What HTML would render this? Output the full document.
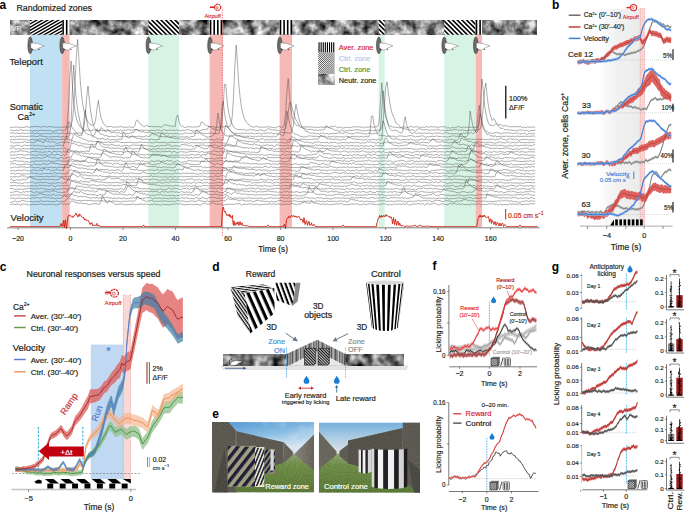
<!DOCTYPE html>
<html><head><meta charset="utf-8"><style>
html,body{margin:0;padding:0;background:#fff;width:685px;height:512px;overflow:hidden}
svg{display:block;font-family:"Liberation Sans",sans-serif}
</style></head><body>
<svg width="685" height="512" viewBox="0 0 685 512" fill="#231f20">
<defs>
<filter id="noiseA" x="0" y="0" width="100%" height="100%" color-interpolation-filters="sRGB"><feTurbulence type="fractalNoise" baseFrequency="0.11" numOctaves="3" seed="3"/>
<feColorMatrix type="matrix" values="1.45 0 0 0 -0.2  1.45 0 0 0 -0.2  1.45 0 0 0 -0.2  0 0 0 0 1"/></filter>
<pattern id="diagA" patternUnits="userSpaceOnUse" width="2.75" height="2.75" patternTransform="rotate(-30)"><rect width="2.75" height="1.3" fill="#000"/><rect y="1.3" width="2.75" height="1.45" fill="#fff"/></pattern>
<pattern id="diagB" patternUnits="userSpaceOnUse" width="3.3" height="3.3" patternTransform="rotate(45)"><rect width="3.3" height="1.6" fill="#000"/><rect y="1.6" width="3.3" height="1.7" fill="#fff"/></pattern>
<pattern id="diagA2" patternUnits="userSpaceOnUse" width="1.5" height="1.5" patternTransform="rotate(45)"><rect width="1.5" height="0.75" fill="#000"/><rect y="0.75" width="1.5" height="0.75" fill="#fff"/></pattern>
<pattern id="diagB2" patternUnits="userSpaceOnUse" width="1.5" height="1.5" patternTransform="rotate(-45)"><rect width="1.5" height="0.75" fill="#000"/><rect y="0.75" width="1.5" height="0.75" fill="#fff"/></pattern>
<g id="mouse"><ellipse cx="0" cy="0.4" rx="2.3" ry="8.4" fill="#6a6a6a" stroke="#3a3a3a" stroke-width="0.6"/>
<path d="M0.6,-2 C3,-2.2 5,-1.6 6.4,-1.4 L7.1,-2.1 L7.7,-1.2 C10,-0.5 12.5,0.3 14.2,0.9 C12.5,1.6 10.8,2 9.5,2.6 C8.8,3.5 7.5,4.6 6,5 C4.5,5.2 3.2,4.8 2.2,4.2 C1.4,3.6 0.8,3 0.6,2.5 Z" fill="#fff" stroke="#555" stroke-width="0.4"/>
<path d="M1.6,3.6 L2.8,5.2 M8.2,3.6 L9.2,5" stroke="#222" stroke-width="0.8"/></g>
<linearGradient id="bshade" x1="0" x2="1" y1="0" y2="0"><stop offset="0" stop-color="#ffffff"/><stop offset="0.45" stop-color="#f1f1f1"/><stop offset="1" stop-color="#ececec"/></linearGradient>
<pattern id="stR" patternUnits="userSpaceOnUse" width="6.4" height="6.4" patternTransform="rotate(66)"><rect width="6.4" height="3.1" fill="#000"/></pattern>
<pattern id="stL" patternUnits="userSpaceOnUse" width="2.6" height="2.6" patternTransform="rotate(55)"><rect width="2.6" height="1.25" fill="#000"/></pattern>
<pattern id="stT" patternUnits="userSpaceOnUse" width="2.4" height="2.4" patternTransform="rotate(8)"><rect width="2.4" height="1.1" fill="#000"/></pattern>
<pattern id="stS" patternUnits="userSpaceOnUse" width="4.2" height="4.2" patternTransform="rotate(70)"><rect width="4.2" height="2" fill="#000"/></pattern>
<pattern id="hatchD" patternUnits="userSpaceOnUse" width="2" height="2" patternTransform="rotate(45)"><rect width="2" height="2" fill="#e8e8e8"/><rect width="2" height="1.15" fill="#111"/></pattern>
<pattern id="roofV" patternUnits="userSpaceOnUse" width="13" height="30"><rect x="0.00" width="1.19" height="30" fill="#c0c0c0"/><rect x="1.19" width="1.37" height="30" fill="#454545"/><rect x="2.56" width="1.42" height="30" fill="#909090"/><rect x="3.98" width="1.21" height="30" fill="#787878"/><rect x="5.20" width="0.62" height="30" fill="#858585"/><rect x="5.82" width="1.46" height="30" fill="#555555"/><rect x="7.28" width="1.10" height="30" fill="#909090"/><rect x="8.38" width="0.51" height="30" fill="#909090"/><rect x="8.89" width="0.95" height="30" fill="#787878"/><rect x="9.84" width="1.51" height="30" fill="#555555"/><rect x="11.35" width="0.68" height="30" fill="#606060"/><rect x="12.02" width="0.65" height="30" fill="#858585"/><rect x="12.68" width="0.32" height="30" fill="#454545"/></pattern>
<filter id="noiseD" x="0" y="0" width="100%" height="100%" color-interpolation-filters="sRGB"><feTurbulence type="fractalNoise" baseFrequency="0.11" numOctaves="2" seed="8"/>
<feColorMatrix type="matrix" values="1.35 0 0 0 -0.22  1.35 0 0 0 -0.22  1.35 0 0 0 -0.22  0 0 0 0 1"/></filter>
<filter id="noiseD2" x="0" y="0" width="100%" height="100%" color-interpolation-filters="sRGB"><feTurbulence type="fractalNoise" baseFrequency="0.11" numOctaves="2" seed="15"/>
<feColorMatrix type="matrix" values="1.35 0 0 0 -0.22  1.35 0 0 0 -0.22  1.35 0 0 0 -0.22  0 0 0 0 1"/></filter>

<linearGradient id="sky1" x1="0" y1="0" x2="0.2" y2="1"><stop offset="0" stop-color="#4f95d2"/><stop offset="0.28" stop-color="#8cbfe4"/><stop offset="0.48" stop-color="#d6e6f0"/><stop offset="1" stop-color="#e8eef2"/></linearGradient>
<linearGradient id="rwall1" x1="0" y1="0" x2="1" y2="0"><stop offset="0" stop-color="#8a877e"/><stop offset="1" stop-color="#68655c"/></linearGradient>
<linearGradient id="sky2" x1="0" y1="0" x2="0" y2="1"><stop offset="0" stop-color="#74afdc"/><stop offset="0.2" stop-color="#a9cbe3"/><stop offset="0.42" stop-color="#dde2e6"/><stop offset="1" stop-color="#e2e4e6"/></linearGradient>
<linearGradient id="grass1" x1="0" y1="0" x2="0" y2="1"><stop offset="0" stop-color="#a2b184"/><stop offset="0.3" stop-color="#779650"/><stop offset="1" stop-color="#5f7f3c"/></linearGradient>
<linearGradient id="grass2" x1="0" y1="0" x2="0" y2="1"><stop offset="0" stop-color="#a2b184"/><stop offset="0.3" stop-color="#779650"/><stop offset="1" stop-color="#5f7f3c"/></linearGradient>
<filter id="wallN" x="0" y="0" width="100%" height="100%" color-interpolation-filters="sRGB"><feTurbulence type="fractalNoise" baseFrequency="0.9" numOctaves="1" seed="9" result="n"/><feColorMatrix in="n" type="matrix" values="1 0 0 0 -0.14  1 0 0 0 -0.15  1 0 0 0 -0.17  0 0 0 0 0.13" result="m"/><feComposite in="m" in2="SourceGraphic" operator="in"/></filter>
<filter id="grassN" x="0" y="0" width="100%" height="100%" color-interpolation-filters="sRGB"><feTurbulence type="fractalNoise" baseFrequency="0.9" numOctaves="2" seed="4"/><feColorMatrix type="matrix" values="0 0 0 0 0.26  0 0 0 0 0.34  0 0 0 0 0.12  1.6 0 0 0 -0.5"/></filter>
<filter id="cloud" x="0" y="0" width="100%" height="100%" color-interpolation-filters="sRGB"><feTurbulence type="fractalNoise" baseFrequency="0.08" numOctaves="2" seed="2"/><feColorMatrix type="matrix" values="0 0 0 0 1  0 0 0 0 1  0 0 0 0 1  2 0 0 0 -0.9"/></filter>
<pattern id="navyS" patternUnits="userSpaceOnUse" width="7.2" height="7.2" patternTransform="rotate(-52)"><rect width="7.2" height="3.4" fill="#1c2038"/></pattern>
<pattern id="navyS2" patternUnits="userSpaceOnUse" width="3.2" height="3.2" patternTransform="rotate(-68)"><rect width="3.2" height="1.5" fill="#1c2038"/></pattern>
<pattern id="navyS3" patternUnits="userSpaceOnUse" width="4" height="4" patternTransform="rotate(-55)"><rect width="4" height="2" fill="#1c2038"/></pattern>
<pattern id="chk" patternUnits="userSpaceOnUse" width="1.6" height="1.6"><rect width="1.6" height="1.6" fill="#fff"/><rect width="0.8" height="0.8" fill="#222"/><rect x="0.8" y="0.8" width="0.8" height="0.8" fill="#222"/></pattern></defs>
<text x="-0.4" y="8.8" font-size="12" fill="#000" font-weight="bold" >a</text><text x="16.5" y="11.1" font-size="8.4" stroke="#231f20" stroke-width="0.2"  textLength="75.5" lengthAdjust="spacingAndGlyphs">Randomized zones</text><rect x="30" y="34.7" width="32.2" height="192.3" fill="#bfe1f3"/><rect x="62.2" y="34.7" width="7.4" height="192.3" fill="#f5b8b4"/><rect x="148.4" y="34.7" width="30.6" height="192.3" fill="#d7f3e4"/><rect x="209.7" y="34.7" width="12.8" height="192.3" fill="#f5b8b4"/><rect x="279.6" y="34.7" width="12.4" height="192.3" fill="#f5b8b4"/><rect x="378.6" y="34.7" width="6.1" height="192.3" fill="#d7f3e4"/><rect x="444.2" y="34.7" width="31.4" height="192.3" fill="#d7f3e4"/><rect x="475.6" y="34.7" width="6.4" height="192.3" fill="#f5b8b4"/><rect x="10" y="20" width="527" height="14.7" fill="#8a8a8a"/><rect x="10" y="20" width="527" height="14.7" filter="url(#noiseA)" /><rect x="30" y="20" width="32.2" height="14.7" fill="#fff"/><clipPath id="hc1"><rect x="30" y="20" width="32.2" height="14.7"/></clipPath><path d="M16.1,16.2L51.5,-4.2M17.4,18.6L52.8,-1.9M18.8,21L54.2,0.5M20.2,23.3L55.6,2.9M21.5,25.7L57,5.3M22.9,28.1L58.3,7.6M24.3,30.5L59.7,10M25.7,32.8L61.1,12.4M27,35.2L62.4,14.8M28.4,37.6L63.8,17.1M29.8,39.9L65.2,19.5M31.1,42.3L66.5,21.9M32.5,44.7L67.9,24.2M33.9,47.1L69.3,26.6M35.2,49.4L70.7,29M36.6,51.8L72,31.4M38,54.2L73.4,33.7M39.4,56.6L74.8,36.1M40.7,58.9L76.1,38.5" stroke="#000" stroke-width="1.4" clip-path="url(#hc1)"/><rect x="148.4" y="20" width="30.6" height="14.7" fill="#fff"/><clipPath id="hc2"><rect x="148.4" y="20" width="30.6" height="14.7"/></clipPath><path d="M168,-5.7L196.7,23M165.7,-3.3L194.4,25.4M163.4,-1L192,27.7M161,1.3L189.7,30M158.7,3.7L187.4,32.4M156.4,6L185,34.7M154,8.3L182.7,37M151.7,10.7L180.4,39.4M149.4,13L178,41.7M147,15.3L175.7,44M144.7,17.7L173.4,46.4M142.4,20L171,48.7M140,22.3L168.7,51M137.7,24.7L166.4,53.4M135.4,27L164,55.7M133,29.3L161.7,58M130.7,31.7L159.4,60.4" stroke="#000" stroke-width="1.6" clip-path="url(#hc2)"/><rect x="378.6" y="20" width="6.1" height="14.7" fill="#fff"/><clipPath id="hc3"><rect x="378.6" y="20" width="6.1" height="14.7"/></clipPath><path d="M385.4,7.7L401.3,23.6M383,10.1L398.9,26M380.7,12.4L396.6,28.3M378.4,14.7L394.3,30.6M376,17.1L391.9,33M373.7,19.4L389.6,35.3M371.4,21.7L387.3,37.6M369,24.1L384.9,40M366.7,26.4L382.6,42.3M364.4,28.7L380.3,44.6M362,31.1L377.9,47" stroke="#000" stroke-width="1.6" clip-path="url(#hc3)"/><rect x="444.2" y="20" width="31.4" height="14.7" fill="#fff"/><clipPath id="hc4"><rect x="444.2" y="20" width="31.4" height="14.7"/></clipPath><path d="M464,-5.9L493.2,23.3M461.6,-3.6L490.8,25.6M459.3,-1.2L488.5,27.9M457,1.1L486.2,30.3M454.6,3.4L483.8,32.6M452.3,5.8L481.5,34.9M450,8.1L479.2,37.3M447.6,10.4L476.8,39.6M445.3,12.8L474.5,41.9M443,15.1L472.2,44.3M440.6,17.4L469.8,46.6M438.3,19.8L467.5,48.9M436,22.1L465.2,51.3M433.6,24.4L462.8,53.6M431.3,26.8L460.5,55.9M429,29.1L458.2,58.3M426.6,31.4L455.8,60.6" stroke="#000" stroke-width="1.6" clip-path="url(#hc4)"/><rect x="62.2" y="20" width="7.4" height="14.7" fill="#fff"/><rect x="62.3" y="20" width="1.6" height="14.7" fill="#000"/><rect x="65.9" y="20" width="1.6" height="14.7" fill="#000"/><rect x="69.5" y="20" width="0.1" height="14.7" fill="#000"/><rect x="209.7" y="20" width="12.8" height="14.7" fill="#fff"/><rect x="209.8" y="20" width="1.6" height="14.7" fill="#000"/><rect x="213.4" y="20" width="1.6" height="14.7" fill="#000"/><rect x="217" y="20" width="1.6" height="14.7" fill="#000"/><rect x="220.6" y="20" width="1.6" height="14.7" fill="#000"/><rect x="279.6" y="20" width="12.4" height="14.7" fill="#fff"/><rect x="279.7" y="20" width="1.6" height="14.7" fill="#000"/><rect x="283.3" y="20" width="1.6" height="14.7" fill="#000"/><rect x="286.9" y="20" width="1.6" height="14.7" fill="#000"/><rect x="290.5" y="20" width="1.5" height="14.7" fill="#000"/><rect x="475.6" y="20" width="6.4" height="14.7" fill="#fff"/><rect x="475.7" y="20" width="1.6" height="14.7" fill="#000"/><rect x="479.3" y="20" width="1.6" height="14.7" fill="#000"/><text x="11.5" y="30.6" font-size="7.5" fill="#e8e8e8" stroke="#e8e8e8" stroke-width="0.188" >VR</text><use href="#mouse" x="30.2" y="45"/><use href="#mouse" x="62.2" y="45"/><use href="#mouse" x="148.4" y="45"/><use href="#mouse" x="210" y="45"/><use href="#mouse" x="279.8" y="45"/><use href="#mouse" x="378.8" y="45"/><use href="#mouse" x="444.2" y="45"/><use href="#mouse" x="475.8" y="45"/><g stroke="#d42a2a" fill="none"><circle cx="217.6" cy="7.3" r="3.1" stroke-width="1.2" stroke-dasharray="2,0.5"/><circle cx="217.2" cy="7.6" r="1" stroke-width="0.7"/><line x1="209.8" y1="7.2" x2="214.6" y2="7.2" stroke-width="1.6"/></g><text x="204.4" y="17.5" font-size="5.2" fill="#d42a2a" stroke="#d42a2a" stroke-width="0.13"  textLength="16.5" lengthAdjust="spacingAndGlyphs">Airpuff</text><line x1="222.4" y1="9.5" x2="222.4" y2="236" stroke="#e03030" stroke-width="0.6" stroke-dasharray="1.5,1"/><text x="9.4" y="65.2" font-size="9" stroke="#231f20" stroke-width="0.2"  textLength="33.4" lengthAdjust="spacingAndGlyphs">Teleport</text><text x="9.7" y="109.8" font-size="9" stroke="#231f20" stroke-width="0.2"  textLength="33.2" lengthAdjust="spacingAndGlyphs">Somatic</text><text x="17.5" y="119.8" font-size="9" stroke="#231f20" stroke-width="0.2" >Ca<tspan font-size="5.5" dy="-3.5">2+</tspan></text><text x="10.6" y="220.6" font-size="9" stroke="#231f20" stroke-width="0.2"  textLength="33" lengthAdjust="spacingAndGlyphs">Velocity</text><rect x="318.2" y="42.3" width="16.4" height="10.3" fill="#fff"/><rect x="318.5" y="42.3" width="1.1" height="10.3" fill="#000"/><rect x="320.6" y="42.3" width="1.1" height="10.3" fill="#000"/><rect x="322.7" y="42.3" width="1.1" height="10.3" fill="#000"/><rect x="324.8" y="42.3" width="1.1" height="10.3" fill="#000"/><rect x="326.9" y="42.3" width="1.1" height="10.3" fill="#000"/><rect x="329" y="42.3" width="1.1" height="10.3" fill="#000"/><rect x="331.1" y="42.3" width="1.1" height="10.3" fill="#000"/><rect x="333.2" y="42.3" width="1.1" height="10.3" fill="#000"/><rect x="318.2" y="52.6" width="16.4" height="21.6" fill="#fff"/><clipPath id="hc5"><rect x="318.2" y="52.6" width="16.4" height="11.1"/></clipPath><path d="M327.6,40.9L343.7,56.9M326.6,41.9L342.6,58M325.6,42.9L341.6,59M324.5,44L340.6,60M323.5,45L339.6,61.1M322.5,46L338.5,62.1M321.4,47L337.5,63.1M320.4,48.1L336.5,64.1M319.4,49.1L335.5,65.2M318.4,50.1L334.4,66.2M317.3,51.1L333.4,67.2M316.3,52.2L332.4,68.2M315.3,53.2L331.4,69.3M314.3,54.2L330.3,70.3M313.2,55.2L329.3,71.3M312.2,56.3L328.3,72.3M311.2,57.3L327.2,73.4M310.2,58.3L326.2,74.4M309.1,59.4L325.2,75.4" stroke="#000" stroke-width="0.7" clip-path="url(#hc5)"/><clipPath id="hc6"><rect x="318.2" y="63.7" width="16.4" height="10.5"/></clipPath><path d="M309.3,67.6L325.1,51.8M310.3,68.7L326.1,52.8M311.3,69.7L327.1,53.9M312.3,70.7L328.2,54.9M313.4,71.7L329.2,55.9M314.4,72.8L330.2,56.9M315.4,73.8L331.2,58M316.4,74.8L332.3,59M317.5,75.8L333.3,60M318.5,76.9L334.3,61M319.5,77.9L335.3,62.1M320.5,78.9L336.4,63.1M321.6,79.9L337.4,64.1M322.6,81L338.4,65.1M323.6,82L339.4,66.2M324.6,83L340.5,67.2M325.7,84L341.5,68.2M326.7,85.1L342.5,69.2M327.7,86.1L343.5,70.3" stroke="#000" stroke-width="0.7" clip-path="url(#hc6)"/><rect x="318.2" y="74.2" width="16.4" height="10.6" fill="#7a7a7a"/><rect x="318.2" y="74.2" width="16.4" height="10.6" filter="url(#noiseA)"/><text x="338.7" y="50.2" font-size="7.4" fill="#d52b2b" stroke="#d52b2b" stroke-width="0.185" >Aver. zone</text><text x="338.7" y="60.8" font-size="7.4" fill="#a9cdf0" stroke="#a9cdf0" stroke-width="0.185" >Ctrl. zone</text><text x="338.7" y="71.7" font-size="7.4" fill="#3e9a3e" stroke="#3e9a3e" stroke-width="0.185" >Ctrl. zone</text><text x="338.7" y="82.8" font-size="7.4" stroke="#231f20" stroke-width="0.185" >Neutr. zone</text><line x1="505.8" y1="85.8" x2="505.8" y2="118.6" stroke="#000" stroke-width="1.2"/><text x="509" y="101" font-size="7.2" stroke="#231f20" stroke-width="0.18" >100%</text><text x="509" y="109.6" font-size="7.2" stroke="#231f20" stroke-width="0.18" >ΔF/F</text><polyline points="10,127.3 11.3,127.4 12.6,127.3 13.9,127.2 15.2,127.2 16.5,126.8 17.8,127.3 19.1,127.8 20.4,127.3 21.7,127.3 23,127.5 24.3,127.3 25.6,127 26.9,126.8 28.2,126.9 29.5,127.5 30.8,126.8 32.1,126.9 33.4,126.5 34.7,126.5 36,126.3 37.3,126.9 38.6,126.5 39.9,127.1 41.2,127 42.5,126.7 43.8,126 45.1,126.8 46.4,127 47.7,127.2 49,126.5 50.3,126.7 51.6,126.8 52.9,126.8 54.2,127.7 55.5,127 56.8,127.3 58.1,127.6 59.4,126.8 60.7,127.2 62,127.2 63.3,127.3 64.6,126.9 65.9,127.1 67.2,127.6 68.5,126.5 69.8,127.1 71.1,125.4 72.4,120.1 73.7,108.2 75,84.8 76.3,56.7 77.6,39.5 78.9,58.8 80.2,79.8 81.5,94.7 82.8,104.6 84.1,111.7 85.4,116.5 86.7,119.3 88,121.9 89.3,123.3 90.6,124.8 91.9,124.9 93.2,125.5 94.5,124.3 95.8,118.6 97.1,107.9 98.4,100.4 99.7,110.5 101,117.8 102.3,120.9 103.6,123.6 104.9,125.2 106.2,126.7 107.5,126.8 108.8,126.6 110.1,126.6 111.4,126.4 112.7,127.3 114,126.9 115.3,127 116.6,127.2 117.9,126.9 119.2,127 120.5,126.4 121.8,127.1 123.1,126.8 124.4,127.4 125.7,127.4 127,127 128.3,127.2 129.6,126.6 130.9,127.4 132.2,127.2 133.5,127.5 134.8,125.7 136.1,121.2 137.4,119.8 138.7,121.8 140,123.9 141.3,124.8 142.6,125.7 143.9,126.9 145.2,126.1 146.5,125.4 147.8,126 149.1,126.5 150.4,126.4 151.7,126.5 153,126.8 154.3,126.8 155.6,126.4 156.9,126.7 158.2,126.9 159.5,126.6 160.8,127.2 162.1,126.9 163.4,125.5 164.7,124.7 166,125.1 167.3,125.2 168.6,125.9 169.9,125.6 171.2,126 172.5,126.7 173.8,125.8 175.1,126.7 176.4,117.4 177.7,115 179,121.5 180.3,125.1 181.6,126.1 182.9,126.2 184.2,127.4 185.5,127.4 186.8,126.9 188.1,126.8 189.4,126.9 190.7,126.6 192,127.4 193.3,126.9 194.6,127.1 195.9,126.9 197.2,127 198.5,126.5 199.8,126.6 201.1,122.1 202.4,122 203.7,123.7 205,124.5 206.3,125.4 207.6,125.9 208.9,126.5 210.2,126.7 211.5,126.7 212.8,126.5 214.1,126.8 215.4,127.8 216.7,127.2 218,126.9 219.3,127.4 220.6,127.6 221.9,126.3 223.2,127 224.5,126.5 225.8,126 227.1,127.1 228.4,126.9 229.7,126.6 231,124.1 232.3,116 233.6,94.8 234.9,65.2 236.2,45.1 237.5,64.5 238.8,84.5 240.1,97.2 241.4,106.7 242.7,113.1 244,117.5 245.3,120.4 246.6,122.8 247.9,124 249.2,125 250.5,126 251.8,126.9 253.1,126.9 254.4,127 255.7,126.6 257,126.2 258.3,127.2 259.6,127.2 260.9,127 262.2,127.2 263.5,127.2 264.8,127.2 266.1,127.1 267.4,126.6 268.7,127.3 270,126.5 271.3,127.4 272.6,127.4 273.9,127.6 275.2,127.9 276.5,127.4 277.8,126.5 279.1,126.4 280.4,127.3 281.7,127.1 283,127.2 284.3,124.6 285.6,113 286.9,92.4 288.2,78.5 289.5,95.6 290.8,108.4 292.1,116.3 293.4,120.5 294.7,123 296,125 297.3,125.6 298.6,125.9 299.9,127.2 301.2,127.1 302.5,127.2 303.8,126.8 305.1,126.8 306.4,127 307.7,126.9 309,127.2 310.3,126.8 311.6,127 312.9,127 314.2,127.8 315.5,126.6 316.8,127.6 318.1,127.3 319.4,127.4 320.7,126.8 322,127.2 323.3,127.6 324.6,127.1 325.9,127.2 327.2,126.8 328.5,127.5 329.8,127.2 331.1,126.3 332.4,127 333.7,126.4 335,126 336.3,127 337.6,127.6 338.9,127.3 340.2,127 341.5,127.4 342.8,128.2 344.1,127.8 345.4,127.6 346.7,127.4 348,127.3 349.3,127.6 350.6,127.3 351.9,127.1 353.2,126.6 354.5,127 355.8,126.6 357.1,127.2 358.4,126.6 359.7,127.1 361,127.2 362.3,126.8 363.6,127.9 364.9,127.7 366.2,126.9 367.5,127.3 368.8,127.2 370.1,126.2 371.4,127.2 372.7,127.2 374,127.1 375.3,126.7 376.6,126.9 377.9,126.2 379.2,121 380.5,101.5 381.8,82.7 383.1,99 384.4,110.2 385.7,117.2 387,120.7 388.3,124.4 389.6,125.7 390.9,126.4 392.2,126.9 393.5,127 394.8,127.3 396.1,127.4 397.4,127.4 398.7,127.7 400,127.8 401.3,127.4 402.6,127.1 403.9,126.9 405.2,127.1 406.5,127.8 407.8,127.3 409.1,127.1 410.4,126.8 411.7,126.5 413,127 414.3,127.3 415.6,126.7 416.9,126.9 418.2,127 419.5,127.3 420.8,127.1 422.1,127.5 423.4,127 424.7,127.4 426,126.5 427.3,126.9 428.6,127.5 429.9,126.7 431.2,126.7 432.5,126.9 433.8,126.9 435.1,126.7 436.4,127.2 437.7,127.9 439,127 440.3,127 441.6,126.5 442.9,127 444.2,126.7 445.5,127 446.8,128.2 448.1,127.5 449.4,128 450.7,128.1 452,127.5 453.3,127.5 454.6,128 455.9,127.1 457.2,126.9 458.5,126.6 459.8,127 461.1,127.5 462.4,127.6 463.7,126.9 465,127.1 466.3,127.3 467.6,127.4 468.9,127.1 470.2,127.3 471.5,127.3 472.8,127.1 474.1,127.3 475.4,127.6 476.7,127.3 478,127.1 479.3,123.3 480.6,104.7 481.9,79 483.2,89.2 484.5,105 485.8,113.1 487.1,118.9 488.4,123.1 489.7,124.8 491,125.6 492.3,125.6 493.6,125.9 494.9,124.4 496.2,123.8 497.5,124.9 498.8,124.8 500.1,124.6 501.4,124.9 502.7,125.8 504,126.1 505.3,125.5 506.6,126.2 507.9,125.8 509.2,126.8 510.5,126.7 511.8,126.7 513.1,126.5 514.4,126.9 515.7,126.6 517,126.8 518.3,126.8 519.6,126.5 520.9,126.7 522.2,127.6 523.5,127.2 524.8,127.5 526.1,127.8 527.4,126.8 528.7,127.2 530,127.2 531.3,127.2 532.6,126.9 533.9,127.4 535.2,127.1" fill="none" stroke="#3a3a3a" stroke-width="0.42" /><polyline points="10,129.6 11.3,130.1 12.6,130.5 13.9,130.7 15.2,130.3 16.5,129.9 17.8,130.6 19.1,130 20.4,129.7 21.7,130.1 23,130.8 24.3,130.2 25.6,130.7 26.9,130.1 28.2,130.6 29.5,130.1 30.8,130.3 32.1,131.5 33.4,130.8 34.7,130.5 36,130.6 37.3,130.5 38.6,130.9 39.9,130.3 41.2,130 42.5,130.5 43.8,130.5 45.1,130.4 46.4,130.7 47.7,130.4 49,130.8 50.3,130.2 51.6,131 52.9,131.5 54.2,130.9 55.5,130.5 56.8,130.2 58.1,130.5 59.4,129.7 60.7,130 62,130.5 63.3,130.8 64.6,130.3 65.9,130 67.2,124.5 68.5,107.2 69.8,77.7 71.1,60.9 72.4,85.5 73.7,101.6 75,111.3 76.3,117.9 77.6,122.6 78.9,124.7 80.2,126.8 81.5,127.8 82.8,129.3 84.1,130.4 85.4,130.4 86.7,129.9 88,130.3 89.3,130.1 90.6,130.4 91.9,130.5 93.2,129.5 94.5,130.3 95.8,130.1 97.1,130.9 98.4,130.6 99.7,130.1 101,130.4 102.3,130.8 103.6,130.5 104.9,130.8 106.2,130.1 107.5,129.4 108.8,130.8 110.1,130.8 111.4,131 112.7,130.9 114,130.8 115.3,130.4 116.6,130 117.9,130.1 119.2,130.7 120.5,129.8 121.8,130.9 123.1,130.3 124.4,130 125.7,130.6 127,130.1 128.3,129.5 129.6,129.8 130.9,130.3 132.2,130.3 133.5,129.6 134.8,129.9 136.1,129.9 137.4,129.5 138.7,130.1 140,130.4 141.3,130.2 142.6,130.1 143.9,130.4 145.2,130.1 146.5,130 147.8,130.4 149.1,130.8 150.4,130.3 151.7,130.5 153,130.4 154.3,130.3 155.6,130.9 156.9,129.8 158.2,130.4 159.5,130 160.8,130.9 162.1,131 163.4,129.7 164.7,129.8 166,130.4 167.3,130.4 168.6,130.3 169.9,130 171.2,130.2 172.5,130.3 173.8,130.2 175.1,130.6 176.4,129.8 177.7,130.6 179,129.9 180.3,131 181.6,130.4 182.9,130.3 184.2,130.6 185.5,130 186.8,129.8 188.1,129.3 189.4,130.3 190.7,130.5 192,131 193.3,130.7 194.6,131 195.9,130.7 197.2,130.7 198.5,131 199.8,130.9 201.1,130.2 202.4,129.8 203.7,129.6 205,129.9 206.3,129.3 207.6,129.1 208.9,126.1 210.2,127.1 211.5,127.7 212.8,128.7 214.1,129.4 215.4,129.1 216.7,130.1 218,129.8 219.3,130.1 220.6,128.8 221.9,122.1 223.2,105.5 224.5,84.3 225.8,84.4 227.1,100.7 228.4,110.9 229.7,116.8 231,121.7 232.3,124 233.6,127.2 234.9,128.1 236.2,129 237.5,129.6 238.8,129.8 240.1,129.4 241.4,129.6 242.7,129.8 244,129.7 245.3,129.9 246.6,130.8 247.9,129.6 249.2,130.1 250.5,129.3 251.8,130 253.1,129.8 254.4,130 255.7,130.4 257,130.7 258.3,130.2 259.6,130 260.9,129.7 262.2,130.6 263.5,130.5 264.8,130.9 266.1,130.2 267.4,129.4 268.7,128.5 270,129.5 271.3,129.7 272.6,129.9 273.9,129.9 275.2,130.1 276.5,130.1 277.8,130.3 279.1,131 280.4,130.5 281.7,129.6 283,129.7 284.3,129.5 285.6,128.4 286.9,122.3 288.2,112.5 289.5,102.8 290.8,102.4 292.1,108.2 293.4,112.6 294.7,116.5 296,119.7 297.3,121.7 298.6,124.7 299.9,125.3 301.2,126.8 302.5,128 303.8,128.3 305.1,128.2 306.4,129.4 307.7,129.8 309,129.3 310.3,129.3 311.6,129.7 312.9,129.4 314.2,131 315.5,129.7 316.8,130.2 318.1,130.4 319.4,130.1 320.7,130.1 322,130 323.3,129.8 324.6,129.4 325.9,125.7 327.2,126.6 328.5,127.2 329.8,128 331.1,128.7 332.4,128.8 333.7,129.4 335,130.3 336.3,130.3 337.6,130 338.9,131 340.2,131.4 341.5,129.8 342.8,130.6 344.1,131.6 345.4,130.7 346.7,130.7 348,130.6 349.3,130.2 350.6,130.4 351.9,130.1 353.2,130.3 354.5,129.9 355.8,129.8 357.1,129.7 358.4,130.2 359.7,129.8 361,130.3 362.3,130.9 363.6,130.7 364.9,130.9 366.2,130.6 367.5,130.4 368.8,130.3 370.1,130.1 371.4,130.6 372.7,130.2 374,130.8 375.3,130.6 376.6,130.3 377.9,130 379.2,130.3 380.5,129.9 381.8,127.3 383.1,121 384.4,105.4 385.7,87.6 387,81.8 388.3,92.2 389.6,101.6 390.9,108.6 392.2,113.6 393.5,116.7 394.8,119.8 396.1,123.1 397.4,124 398.7,125.4 400,126.6 401.3,127.9 402.6,128.6 403.9,128.6 405.2,129 406.5,129.6 407.8,129.2 409.1,129.6 410.4,130.3 411.7,129.7 413,130.1 414.3,130.2 415.6,131.1 416.9,130.1 418.2,128.9 419.5,128.7 420.8,129.2 422.1,130 423.4,129.7 424.7,129.7 426,129.5 427.3,129.7 428.6,130.4 429.9,130.3 431.2,129.9 432.5,130.1 433.8,130 435.1,130 436.4,129.8 437.7,129.9 439,129.6 440.3,130.1 441.6,131.1 442.9,129.8 444.2,130.6 445.5,130.8 446.8,130.4 448.1,130.4 449.4,130.4 450.7,130.3 452,130.3 453.3,129.5 454.6,129.9 455.9,129.7 457.2,129.8 458.5,130 459.8,130.2 461.1,130.3 462.4,129.8 463.7,130.4 465,130.5 466.3,130.6 467.6,130.6 468.9,130 470.2,130.3 471.5,130.5 472.8,129.8 474.1,130.5 475.4,130 476.7,130.1 478,129.7 479.3,129.6 480.6,127.8 481.9,121.8 483.2,108.2 484.5,90.9 485.8,83 487.1,95.7 488.4,105.7 489.7,112.3 491,117.5 492.3,120.5 493.6,118.4 494.9,119.9 496.2,123 497.5,124.7 498.8,126.3 500.1,128.2 501.4,128.3 502.7,128.2 504,129.5 505.3,129.9 506.6,129.6 507.9,129.8 509.2,129.8 510.5,130.3 511.8,130.3 513.1,130.4 514.4,130.4 515.7,130.6 517,130.8 518.3,130.6 519.6,129.8 520.9,130 522.2,130.3 523.5,130.2 524.8,130.9 526.1,130.5 527.4,130.4 528.7,131.3 530,130.8 531.3,130.5 532.6,130.5 533.9,130.5 535.2,130.2" fill="none" stroke="#3a3a3a" stroke-width="0.42" /><polyline points="10,133.1 11.3,132.8 12.6,133.3 13.9,132.7 15.2,133.7 16.5,133.1 17.8,133.3 19.1,133.5 20.4,133.3 21.7,133.2 23,133.1 24.3,133.5 25.6,133.6 26.9,133.4 28.2,133.1 29.5,133 30.8,133 32.1,133.7 33.4,132.7 34.7,134 36,133.2 37.3,133 38.6,133.5 39.9,133.9 41.2,133.8 42.5,133.9 43.8,133.5 45.1,133.7 46.4,133.7 47.7,133.3 49,133.8 50.3,133.6 51.6,133.6 52.9,132.9 54.2,133.2 55.5,133.2 56.8,132.5 58.1,133.8 59.4,133.7 60.7,133.8 62,132.8 63.3,133.3 64.6,133.7 65.9,133.3 67.2,133.5 68.5,132.8 69.8,133.7 71.1,133.1 72.4,133.9 73.7,132.8 75,133.8 76.3,133.3 77.6,133.5 78.9,132.8 80.2,133.1 81.5,133.8 82.8,131.4 84.1,126.4 85.4,114.2 86.7,96.6 88,86 89.3,99.5 90.6,110.9 91.9,118.5 93.2,124.7 94.5,127.8 95.8,129.9 97.1,131.3 98.4,131.1 99.7,130.8 101,127.6 102.3,128.4 103.6,130.1 104.9,130.4 106.2,132.1 107.5,130.5 108.8,130.4 110.1,131.7 111.4,132.8 112.7,132.5 114,132 115.3,132.7 116.6,133.2 117.9,132.7 119.2,132.7 120.5,133.4 121.8,133 123.1,132.6 124.4,133.3 125.7,133.2 127,133.7 128.3,133.4 129.6,133.5 130.9,133 132.2,132.3 133.5,132.5 134.8,130 136.1,129.3 137.4,130.3 138.7,130.7 140,131 141.3,132.2 142.6,131.7 143.9,131.5 145.2,132.8 146.5,132.3 147.8,132.5 149.1,131.9 150.4,132.2 151.7,132.8 153,133.1 154.3,133.7 155.6,132.7 156.9,133.5 158.2,132.9 159.5,132.8 160.8,133.3 162.1,133.4 163.4,132.7 164.7,134 166,133.1 167.3,133.2 168.6,133.5 169.9,134 171.2,133.3 172.5,133.9 173.8,133.3 175.1,133.7 176.4,133.2 177.7,133.5 179,134.4 180.3,134.1 181.6,133.7 182.9,134.2 184.2,133.3 185.5,132.7 186.8,133.6 188.1,132.8 189.4,133.7 190.7,133.6 192,132.8 193.3,132.9 194.6,133.1 195.9,133.2 197.2,133.1 198.5,133.5 199.8,132.5 201.1,133.1 202.4,133 203.7,133.4 205,133.8 206.3,133.3 207.6,133.7 208.9,133.3 210.2,133 211.5,133 212.8,133.3 214.1,133.7 215.4,133.4 216.7,133.7 218,134 219.3,132.8 220.6,126.2 221.9,108.4 223.2,101.2 224.5,113.2 225.8,120 227.1,124.9 228.4,127.5 229.7,129.7 231,131.1 232.3,132.2 233.6,132.9 234.9,133.5 236.2,133.4 237.5,133.3 238.8,133.6 240.1,132.9 241.4,133.7 242.7,133.1 244,133.4 245.3,133.1 246.6,133.2 247.9,133.9 249.2,133.3 250.5,133 251.8,133.2 253.1,133.3 254.4,134.1 255.7,133.3 257,133.6 258.3,133 259.6,133.5 260.9,133.9 262.2,134.1 263.5,133.1 264.8,133.4 266.1,133.2 267.4,132.9 268.7,133.2 270,133.3 271.3,132.5 272.6,133.5 273.9,133.7 275.2,133.4 276.5,133 277.8,134.2 279.1,133.5 280.4,132.1 281.7,132.5 283,132.1 284.3,132.9 285.6,132.6 286.9,132.8 288.2,133 289.5,133.2 290.8,133.4 292.1,130.9 293.4,124.6 294.7,112.5 296,104.3 297.3,111.1 298.6,117.4 299.9,122.1 301.2,125 302.5,127.3 303.8,128.7 305.1,130.8 306.4,131.4 307.7,131.8 309,132.1 310.3,133.4 311.6,133.1 312.9,133 314.2,133.2 315.5,133.3 316.8,133.8 318.1,133.4 319.4,134.1 320.7,132.9 322,133.6 323.3,133 324.6,134 325.9,133.5 327.2,133.6 328.5,134 329.8,134.1 331.1,133.4 332.4,133.6 333.7,133.2 335,133.8 336.3,133.3 337.6,133 338.9,132.8 340.2,133 341.5,133 342.8,133.5 344.1,133.6 345.4,132.3 346.7,132.8 348,133 349.3,133.6 350.6,133.4 351.9,134 353.2,133.5 354.5,133.9 355.8,132.9 357.1,132.7 358.4,132.9 359.7,132.9 361,132.9 362.3,133.8 363.6,133.7 364.9,133.5 366.2,134.1 367.5,133.9 368.8,133 370.1,132.9 371.4,133.8 372.7,134 374,133.4 375.3,133.2 376.6,133.3 377.9,133.1 379.2,132.1 380.5,128.1 381.8,110.2 383.1,90.8 384.4,102.9 385.7,113.3 387,120.4 388.3,125.3 389.6,128.1 390.9,129.7 392.2,131.1 393.5,130.4 394.8,130.2 396.1,130.5 397.4,130.9 398.7,131.8 400,132.6 401.3,133 402.6,132.1 403.9,123.2 405.2,116.8 406.5,124.5 407.8,128.1 409.1,130.9 410.4,132 411.7,133.7 413,133.1 414.3,132.4 415.6,133 416.9,133.3 418.2,132.9 419.5,133 420.8,133.2 422.1,133.4 423.4,133.2 424.7,132.9 426,133.6 427.3,133.1 428.6,133.2 429.9,133.1 431.2,133.3 432.5,133.9 433.8,133.1 435.1,133.1 436.4,133.4 437.7,132.9 439,133.3 440.3,133 441.6,133.8 442.9,133.8 444.2,133.3 445.5,132.6 446.8,132.9 448.1,133.5 449.4,133.7 450.7,133.4 452,133.9 453.3,133.5 454.6,133.7 455.9,133.8 457.2,133.9 458.5,133.3 459.8,134.3 461.1,134.3 462.4,133.3 463.7,133 465,133.6 466.3,133.2 467.6,132.5 468.9,133.4 470.2,133 471.5,132.6 472.8,133.6 474.1,133.1 475.4,132.1 476.7,128.2 478,114.8 479.3,105.3 480.6,115.9 481.9,122 483.2,125.9 484.5,129.4 485.8,130.7 487.1,131.7 488.4,132.5 489.7,132.8 491,133.3 492.3,132.9 493.6,133.5 494.9,132.6 496.2,132.8 497.5,132.4 498.8,133 500.1,133.3 501.4,133.9 502.7,133 504,133.1 505.3,132.9 506.6,132.7 507.9,132.7 509.2,133.4 510.5,132.8 511.8,133.4 513.1,133.5 514.4,133.2 515.7,133 517,133 518.3,134.2 519.6,133 520.9,134.1 522.2,133.7 523.5,133.4 524.8,133.2 526.1,134.1 527.4,134.4 528.7,133.3 530,133.6 531.3,134 532.6,133.4 533.9,134.1 535.2,133.1" fill="none" stroke="#3a3a3a" stroke-width="0.42" /><polyline points="10,136.4 11.3,136.8 12.6,136.4 13.9,136.1 15.2,137.4 16.5,136.4 17.8,136.3 19.1,136.6 20.4,136 21.7,136.3 23,136.4 24.3,136.3 25.6,136.5 26.9,136.5 28.2,136.1 29.5,136.3 30.8,136.3 32.1,135.9 33.4,136.3 34.7,136 36,136.8 37.3,136.5 38.6,136.3 39.9,135.6 41.2,136.2 42.5,136.1 43.8,136.6 45.1,136.7 46.4,136.5 47.7,137.1 49,137.1 50.3,136.4 51.6,137 52.9,136.6 54.2,136.4 55.5,136.7 56.8,136.3 58.1,136.4 59.4,136.7 60.7,137.1 62,136.9 63.3,136.3 64.6,137 65.9,136.4 67.2,136.7 68.5,136.6 69.8,134.6 71.1,123.9 72.4,89.7 73.7,65 75,85.6 76.3,99.3 77.6,109.8 78.9,116.2 80.2,122.8 81.5,126.6 82.8,129.2 84.1,131.1 85.4,133 86.7,133.4 88,134.6 89.3,134.5 90.6,135 91.9,136.1 93.2,135.9 94.5,134.8 95.8,131.5 97.1,128.7 98.4,131.1 99.7,133.3 101,134.2 102.3,134.3 103.6,134.8 104.9,136.2 106.2,135.2 107.5,136.1 108.8,136.5 110.1,136.7 111.4,136.2 112.7,136.5 114,136.7 115.3,136.8 116.6,136 117.9,135.9 119.2,136.4 120.5,136.6 121.8,136.5 123.1,136 124.4,136.4 125.7,136.5 127,136.5 128.3,135.9 129.6,136.7 130.9,136.5 132.2,136.4 133.5,136.9 134.8,136.8 136.1,136.5 137.4,136.8 138.7,136 140,136.4 141.3,136.7 142.6,136.7 143.9,136.9 145.2,136.1 146.5,135.9 147.8,136.3 149.1,136.5 150.4,135.7 151.7,133.4 153,133.6 154.3,134.8 155.6,134.6 156.9,135 158.2,136.5 159.5,136 160.8,136.4 162.1,136.4 163.4,137 164.7,136.4 166,136.8 167.3,136.2 168.6,135.8 169.9,136.9 171.2,137 172.5,136.3 173.8,136.3 175.1,136.5 176.4,136.1 177.7,137.3 179,137.2 180.3,136.9 181.6,136.9 182.9,137 184.2,136.9 185.5,137 186.8,136.3 188.1,136.9 189.4,137.5 190.7,136.5 192,136.6 193.3,136.8 194.6,135.5 195.9,130.8 197.2,129.8 198.5,132.1 199.8,132.6 201.1,133.7 202.4,134.9 203.7,135.2 205,136.2 206.3,137.2 207.6,136.8 208.9,137 210.2,136.4 211.5,136.5 212.8,135.3 214.1,134.4 215.4,133.2 216.7,124.4 218,113 219.3,122.3 220.6,127.8 221.9,131 223.2,133.5 224.5,134.4 225.8,135.5 227.1,135.9 228.4,136 229.7,136.4 231,135.8 232.3,135.5 233.6,135.2 234.9,135.3 236.2,135.4 237.5,136.2 238.8,135.4 240.1,135.6 241.4,136.3 242.7,136.2 244,136.2 245.3,136.9 246.6,136.1 247.9,136.5 249.2,136.2 250.5,136 251.8,136.7 253.1,136.2 254.4,137.3 255.7,136.3 257,136.9 258.3,135.8 259.6,136.6 260.9,136.1 262.2,136.1 263.5,136.5 264.8,136.5 266.1,136 267.4,136.9 268.7,136.5 270,136.9 271.3,136.8 272.6,136.9 273.9,135.8 275.2,136.9 276.5,136.5 277.8,133.9 279.1,133.9 280.4,134.4 281.7,135.3 283,136.2 284.3,133.8 285.6,124.2 286.9,111.1 288.2,116.5 289.5,123.1 290.8,127.7 292.1,131.6 293.4,133.1 294.7,134 296,134.4 297.3,134.7 298.6,135.3 299.9,136.1 301.2,136.4 302.5,136.7 303.8,137 305.1,136.8 306.4,136.8 307.7,136.2 309,135.7 310.3,136.1 311.6,136 312.9,136.3 314.2,136.4 315.5,136.3 316.8,136.3 318.1,136.5 319.4,136.6 320.7,136.1 322,136.5 323.3,136.3 324.6,136.2 325.9,136.8 327.2,137.4 328.5,136.5 329.8,136.8 331.1,136.8 332.4,136.7 333.7,136 335,137.2 336.3,136.7 337.6,136.7 338.9,136.7 340.2,137.1 341.5,136.7 342.8,136.6 344.1,137.1 345.4,136.3 346.7,136.2 348,137.1 349.3,137 350.6,137.2 351.9,136.2 353.2,136.6 354.5,136.5 355.8,137 357.1,136 358.4,136.9 359.7,136.9 361,136.3 362.3,136.7 363.6,137.2 364.9,136.4 366.2,136.5 367.5,136.9 368.8,136.9 370.1,132.1 371.4,116.4 372.7,115.8 374,124.4 375.3,128.9 376.6,131.9 377.9,134.3 379.2,135.7 380.5,135.3 381.8,135 383.1,135.5 384.4,135.6 385.7,136 387,136.5 388.3,136 389.6,136 390.9,136.4 392.2,136 393.5,136.4 394.8,136.3 396.1,137.4 397.4,136.6 398.7,136 400,135.8 401.3,136.1 402.6,136 403.9,136.5 405.2,136.3 406.5,136.7 407.8,136 409.1,135.8 410.4,135.6 411.7,135.7 413,136.3 414.3,136.2 415.6,137 416.9,136.2 418.2,136.6 419.5,136.3 420.8,136.2 422.1,135.7 423.4,136.1 424.7,137 426,137.1 427.3,136.7 428.6,137.1 429.9,136.4 431.2,136.6 432.5,136.2 433.8,136.6 435.1,136.3 436.4,136 437.7,136.1 439,136.5 440.3,136.5 441.6,136.3 442.9,137.1 444.2,136.5 445.5,136.6 446.8,137.2 448.1,137.1 449.4,136.6 450.7,136.6 452,135.9 453.3,136 454.6,135.8 455.9,137 457.2,135.9 458.5,136.7 459.8,136.2 461.1,136.2 462.4,136.6 463.7,136.7 465,136.5 466.3,136.8 467.6,135.5 468.9,127.6 470.2,111.1 471.5,119.3 472.8,125.7 474.1,129.2 475.4,131.5 476.7,132.5 478,130.2 479.3,115.4 480.6,113.8 481.9,122.7 483.2,128.2 484.5,130.4 485.8,132.5 487.1,134.6 488.4,134 489.7,135.2 491,136.1 492.3,135.5 493.6,137.1 494.9,135.3 496.2,136.8 497.5,136.6 498.8,136.5 500.1,136.2 501.4,136.7 502.7,136.1 504,136.8 505.3,136 506.6,136.1 507.9,136.8 509.2,136 510.5,136.4 511.8,136.5 513.1,136 514.4,136.9 515.7,136.5 517,135.9 518.3,136.5 519.6,136.3 520.9,136.3 522.2,136.6 523.5,136.1 524.8,136.6 526.1,135.9 527.4,136.5 528.7,136.2 530,136.5 531.3,136.1 532.6,136.2 533.9,135.8 535.2,136.7" fill="none" stroke="#3a3a3a" stroke-width="0.42" /><polyline points="10,140.4 11.3,139.4 12.6,139.6 13.9,139.4 15.2,139.9 16.5,139.6 17.8,139.4 19.1,139.3 20.4,139.3 21.7,139.1 23,139.5 24.3,139.1 25.6,139.8 26.9,139.7 28.2,140.3 29.5,139.8 30.8,140.1 32.1,139.1 33.4,139.7 34.7,139.5 36,139.9 37.3,139.9 38.6,139.8 39.9,138.9 41.2,139.6 42.5,139 43.8,140.2 45.1,138.9 46.4,139.3 47.7,138.9 49,140.2 50.3,139 51.6,139.4 52.9,139.5 54.2,139.1 55.5,139.6 56.8,139.8 58.1,139.3 59.4,139.7 60.7,139.3 62,139.5 63.3,139.2 64.6,139.3 65.9,139.9 67.2,133.5 68.5,121.8 69.8,122.8 71.1,125.3 72.4,128.4 73.7,129.2 75,131 76.3,132.9 77.6,133.8 78.9,135.8 80.2,135 81.5,135.8 82.8,131.8 84.1,118.5 85.4,109.8 86.7,120.4 88,127.7 89.3,129.9 90.6,132 91.9,134.9 93.2,136.6 94.5,137 95.8,137 97.1,139 98.4,138.6 99.7,139.1 101,138.8 102.3,138.5 103.6,138.5 104.9,139.6 106.2,139.7 107.5,138.6 108.8,139.4 110.1,140.4 111.4,139.6 112.7,139.4 114,139.8 115.3,139.6 116.6,139.7 117.9,139.3 119.2,139.2 120.5,139.1 121.8,139.5 123.1,132.2 124.4,133.5 125.7,135.4 127,137.2 128.3,137.9 129.6,138.2 130.9,136.7 132.2,135.5 133.5,136.7 134.8,137 136.1,138.1 137.4,138.6 138.7,138.4 140,138.4 141.3,139.2 142.6,139.3 143.9,139.2 145.2,139 146.5,138.9 147.8,139.5 149.1,139.6 150.4,139.5 151.7,139 153,139.8 154.3,139.5 155.6,139.8 156.9,139.6 158.2,139.4 159.5,139.3 160.8,133.9 162.1,133.3 163.4,133.7 164.7,135.1 166,136 167.3,137 168.6,137.3 169.9,137.4 171.2,137.7 172.5,137.6 173.8,138.3 175.1,138.5 176.4,138.3 177.7,138.9 179,138.9 180.3,139 181.6,139.3 182.9,139.6 184.2,139 185.5,138.8 186.8,138.2 188.1,139.3 189.4,139.1 190.7,138.7 192,139.6 193.3,139.8 194.6,139.5 195.9,139.5 197.2,139.4 198.5,139.7 199.8,138.8 201.1,139.4 202.4,140.1 203.7,139.6 205,139.6 206.3,139.2 207.6,138.8 208.9,139.3 210.2,139.6 211.5,139.2 212.8,139.8 214.1,140.1 215.4,139.8 216.7,138.8 218,139.3 219.3,138.9 220.6,140.1 221.9,140 223.2,139.7 224.5,130.2 225.8,125.2 227.1,126.7 228.4,128.5 229.7,129.7 231,131.3 232.3,132.7 233.6,133.6 234.9,134.2 236.2,134.5 237.5,135.5 238.8,136.1 240.1,136.4 241.4,136.7 242.7,137 244,137.6 245.3,137.6 246.6,137.8 247.9,137.8 249.2,138.3 250.5,138.7 251.8,138.5 253.1,138.6 254.4,138.9 255.7,139.6 257,139.4 258.3,139.9 259.6,139.3 260.9,139 262.2,138.6 263.5,138.9 264.8,139.9 266.1,139.6 267.4,139.8 268.7,139.9 270,139.6 271.3,139.5 272.6,139.5 273.9,139.9 275.2,139.6 276.5,139.7 277.8,139.7 279.1,139.1 280.4,139.4 281.7,139 283,139.7 284.3,138.7 285.6,139.6 286.9,140.7 288.2,139.8 289.5,139.3 290.8,139.5 292.1,139.9 293.4,139.3 294.7,139.8 296,139.7 297.3,139.5 298.6,140.9 299.9,139.7 301.2,139.2 302.5,139.3 303.8,139.3 305.1,139.4 306.4,139.7 307.7,139.4 309,139.1 310.3,139.8 311.6,139.4 312.9,139.3 314.2,138.8 315.5,139.1 316.8,139 318.1,139.2 319.4,137.3 320.7,135.1 322,135.9 323.3,136.4 324.6,137.3 325.9,137.9 327.2,139.1 328.5,138.3 329.8,139.3 331.1,138.9 332.4,139.2 333.7,139.5 335,138.9 336.3,139.3 337.6,139.1 338.9,140.2 340.2,139.9 341.5,140 342.8,139.1 344.1,139.2 345.4,140.1 346.7,138.9 348,136.6 349.3,137.2 350.6,137.3 351.9,138.5 353.2,138.7 354.5,139.3 355.8,139 357.1,139.5 358.4,139.3 359.7,139.5 361,139.7 362.3,139.9 363.6,139.9 364.9,140.1 366.2,139 367.5,140.1 368.8,139.7 370.1,139.7 371.4,139.5 372.7,139.1 374,139.4 375.3,139.9 376.6,140.3 377.9,139.3 379.2,139.2 380.5,140.3 381.8,139.5 383.1,120.8 384.4,124.3 385.7,129.1 387,133.2 388.3,135.9 389.6,136.3 390.9,138.4 392.2,138.6 393.5,139.4 394.8,139 396.1,138.6 397.4,139.1 398.7,139.5 400,139.9 401.3,140 402.6,139.6 403.9,139.5 405.2,139.6 406.5,139.7 407.8,139.7 409.1,139.8 410.4,138.6 411.7,139.6 413,139.5 414.3,140.5 415.6,140.3 416.9,139.9 418.2,140.2 419.5,139.7 420.8,139.5 422.1,138.8 423.4,139.9 424.7,139.4 426,138.9 427.3,139.4 428.6,140 429.9,140.1 431.2,140.1 432.5,139.6 433.8,139.6 435.1,139.8 436.4,139.9 437.7,139.3 439,139.2 440.3,140 441.6,139.5 442.9,140.3 444.2,139.9 445.5,140.1 446.8,140.1 448.1,139.7 449.4,139.7 450.7,139.2 452,139.4 453.3,139.9 454.6,140.3 455.9,140 457.2,140.5 458.5,138.6 459.8,134 461.1,133.4 462.4,135.4 463.7,137.2 465,137.8 466.3,139.3 467.6,138.7 468.9,139.4 470.2,138.8 471.5,139.6 472.8,139.1 474.1,139.8 475.4,139.1 476.7,139.4 478,140 479.3,139.1 480.6,139.4 481.9,139.4 483.2,138.8 484.5,139.7 485.8,139.7 487.1,139.3 488.4,139.8 489.7,139.4 491,139.1 492.3,139.4 493.6,139.3 494.9,140.3 496.2,139.2 497.5,139.7 498.8,139.5 500.1,138.4 501.4,138.3 502.7,139.3 504,139.1 505.3,139.6 506.6,140 507.9,139.4 509.2,139 510.5,138.3 511.8,139.5 513.1,138.9 514.4,139.5 515.7,139.7 517,139 518.3,140.3 519.6,140.1 520.9,139.9 522.2,139.2 523.5,139.5 524.8,139.6 526.1,139.5 527.4,139.3 528.7,140.1 530,139.9 531.3,139.7 532.6,139.4 533.9,140 535.2,139.8" fill="none" stroke="#3a3a3a" stroke-width="0.42" /><polyline points="10,142.2 11.3,141.8 12.6,142.2 13.9,143.1 15.2,142.8 16.5,142.5 17.8,142.8 19.1,142.8 20.4,142.2 21.7,142.5 23,142.3 24.3,141.5 25.6,142.2 26.9,142.8 28.2,142.2 29.5,142.4 30.8,142.4 32.1,142.5 33.4,142.9 34.7,142.2 36,141.9 37.3,139.9 38.6,141.2 39.9,141.1 41.2,141.6 42.5,142.4 43.8,142.6 45.1,140.3 46.4,140.9 47.7,141.6 49,141.5 50.3,142.5 51.6,141.6 52.9,141.8 54.2,142 55.5,142.6 56.8,143.5 58.1,142.8 59.4,142.6 60.7,142.3 62,142.5 63.3,142.2 64.6,142.8 65.9,142 67.2,142.1 68.5,142.6 69.8,142.7 71.1,142.4 72.4,138 73.7,134.5 75,134.1 76.3,135.4 77.6,136.9 78.9,137.1 80.2,137.6 81.5,138 82.8,138.9 84.1,139.3 85.4,139.7 86.7,140.2 88,141.1 89.3,141.2 90.6,140.6 91.9,141.3 93.2,141.5 94.5,141.8 95.8,141.5 97.1,141.4 98.4,141.7 99.7,141.4 101,142.1 102.3,142 103.6,142.6 104.9,142.1 106.2,142.3 107.5,142 108.8,142.1 110.1,142.6 111.4,142.3 112.7,142.4 114,141.7 115.3,142.1 116.6,141.3 117.9,141.8 119.2,141.8 120.5,142.4 121.8,142.5 123.1,142.5 124.4,142.8 125.7,142.6 127,142.4 128.3,142.3 129.6,142.3 130.9,142.2 132.2,142.7 133.5,142.7 134.8,142.7 136.1,142.8 137.4,142.7 138.7,142.2 140,141.9 141.3,142.3 142.6,142.1 143.9,142.7 145.2,142.3 146.5,142.4 147.8,142.7 149.1,142.1 150.4,142.3 151.7,142.9 153,143 154.3,142.5 155.6,142.1 156.9,141.9 158.2,142.5 159.5,142.5 160.8,142.6 162.1,142.4 163.4,142.4 164.7,142.4 166,142.7 167.3,143.1 168.6,142.9 169.9,142.3 171.2,142.4 172.5,142.2 173.8,142.3 175.1,142.5 176.4,142.4 177.7,142.2 179,142.3 180.3,142.2 181.6,142.1 182.9,142 184.2,142.5 185.5,143.2 186.8,142.3 188.1,143.2 189.4,143.2 190.7,142.6 192,142.7 193.3,142.6 194.6,142.8 195.9,143 197.2,142.5 198.5,142.7 199.8,142.9 201.1,142.9 202.4,142.8 203.7,142.8 205,142.9 206.3,142.1 207.6,142.8 208.9,142.6 210.2,142.1 211.5,143.4 212.8,142.1 214.1,142.4 215.4,142.7 216.7,142 218,142.6 219.3,142.3 220.6,142.7 221.9,142.9 223.2,143 224.5,143.1 225.8,143 227.1,143.1 228.4,139.2 229.7,135.4 231,136.2 232.3,136.5 233.6,136.8 234.9,138.4 236.2,138.9 237.5,139.3 238.8,139.9 240.1,140.6 241.4,140 242.7,140.7 244,140.7 245.3,141.2 246.6,140.9 247.9,141.7 249.2,141.6 250.5,141.2 251.8,142 253.1,141.6 254.4,141.8 255.7,142 257,141.8 258.3,141.2 259.6,142.1 260.9,142.4 262.2,142.5 263.5,142.7 264.8,142 266.1,142.7 267.4,142 268.7,142.6 270,142.3 271.3,142.4 272.6,142.1 273.9,142.2 275.2,142.1 276.5,142.1 277.8,142.7 279.1,142.8 280.4,142.1 281.7,142.4 283,142.6 284.3,142.9 285.6,142.8 286.9,142.8 288.2,142 289.5,142.6 290.8,137.7 292.1,136.6 293.4,137.3 294.7,138 296,139.2 297.3,139.9 298.6,139.8 299.9,139.9 301.2,141.6 302.5,141 303.8,142.1 305.1,142.7 306.4,141.7 307.7,142.3 309,142.2 310.3,142.9 311.6,142.8 312.9,143.4 314.2,142.8 315.5,141.9 316.8,142.3 318.1,141.8 319.4,141.8 320.7,143.1 322,142.3 323.3,142.6 324.6,142.7 325.9,142.5 327.2,142.2 328.5,143.3 329.8,142.6 331.1,142.7 332.4,142.5 333.7,142.2 335,142.3 336.3,142.5 337.6,143.5 338.9,143 340.2,143.1 341.5,142.5 342.8,142.8 344.1,142.3 345.4,142.9 346.7,142.5 348,143 349.3,142.9 350.6,142.6 351.9,142.4 353.2,142.9 354.5,142.2 355.8,142.4 357.1,142.6 358.4,142.5 359.7,142.9 361,143.2 362.3,142.9 363.6,142.9 364.9,142.8 366.2,142.8 367.5,141.7 368.8,142.3 370.1,141.7 371.4,142 372.7,142.6 374,142.6 375.3,143 376.6,143.2 377.9,142 379.2,142.7 380.5,143.5 381.8,143.3 383.1,143.3 384.4,142.7 385.7,142.1 387,142 388.3,142.6 389.6,143 390.9,142.5 392.2,142.6 393.5,142.9 394.8,142.1 396.1,142.6 397.4,143.4 398.7,143.5 400,142.6 401.3,143.2 402.6,142.4 403.9,142.1 405.2,141.5 406.5,142.8 407.8,142.3 409.1,143.4 410.4,142.8 411.7,142.6 413,141.9 414.3,143.1 415.6,142.4 416.9,142.6 418.2,141.7 419.5,143 420.8,142.9 422.1,142.1 423.4,142.5 424.7,142.5 426,142.8 427.3,142.7 428.6,143 429.9,142.2 431.2,140.6 432.5,138.8 433.8,139 435.1,140.4 436.4,141.8 437.7,141.8 439,142 440.3,142.4 441.6,141.4 442.9,141.9 444.2,142.2 445.5,142.4 446.8,142.1 448.1,142.9 449.4,142.9 450.7,142.3 452,142.8 453.3,142.2 454.6,142.2 455.9,142.7 457.2,142.6 458.5,142.4 459.8,142.2 461.1,138.1 462.4,138.5 463.7,139.8 465,139.8 466.3,139.7 467.6,141.3 468.9,141.2 470.2,141.7 471.5,141.9 472.8,142.9 474.1,142.3 475.4,142.5 476.7,141.7 478,142.3 479.3,142.2 480.6,142.5 481.9,142.6 483.2,142.2 484.5,143.1 485.8,142 487.1,142.3 488.4,142.5 489.7,142 491,142.7 492.3,142.8 493.6,142.7 494.9,143.5 496.2,142.7 497.5,142.7 498.8,142.2 500.1,141.9 501.4,142.6 502.7,142.8 504,142.6 505.3,143.1 506.6,141.8 507.9,142.1 509.2,141.8 510.5,143.1 511.8,142.5 513.1,142.5 514.4,142.3 515.7,143 517,142.3 518.3,142.5 519.6,141.6 520.9,142.6 522.2,142.5 523.5,142.6 524.8,142.9 526.1,142.5 527.4,142.5 528.7,142.7 530,142.7 531.3,142.2 532.6,142.5 533.9,142.4 535.2,142.8" fill="none" stroke="#3a3a3a" stroke-width="0.42" /><polyline points="10,146 11.3,146 12.6,145.9 13.9,146.1 15.2,146 16.5,145.1 17.8,145.5 19.1,145.4 20.4,145.8 21.7,146.4 23,145.9 24.3,145.1 25.6,145.4 26.9,145.6 28.2,145.4 29.5,145.5 30.8,145.6 32.1,144.9 33.4,145.7 34.7,145.7 36,145.8 37.3,145.3 38.6,145.6 39.9,145.7 41.2,145.9 42.5,146 43.8,145.8 45.1,146.6 46.4,146.7 47.7,145.8 49,145.8 50.3,146.7 51.6,145.7 52.9,146.5 54.2,146.1 55.5,145.1 56.8,145.4 58.1,145.3 59.4,145.3 60.7,145.3 62,145.4 63.3,146.2 64.6,140.8 65.9,138.5 67.2,138.7 68.5,138.6 69.8,140.3 71.1,139.7 72.4,140.8 73.7,141.9 75,141.3 76.3,142.1 77.6,142.5 78.9,142 80.2,142.9 81.5,143.1 82.8,143.8 84.1,143.8 85.4,144 86.7,144.2 88,144.1 89.3,144.6 90.6,144.6 91.9,144.1 93.2,144.6 94.5,144.8 95.8,143.9 97.1,142.9 98.4,141.2 99.7,142.5 101,142.7 102.3,143.7 103.6,144.3 104.9,144.6 106.2,145.1 107.5,144.6 108.8,145.7 110.1,144.6 111.4,144.3 112.7,144.8 114,145 115.3,145.7 116.6,145.2 117.9,145.6 119.2,145.2 120.5,146.4 121.8,145.8 123.1,146.5 124.4,145.2 125.7,145.6 127,145.2 128.3,145.9 129.6,146.2 130.9,145.4 132.2,145.3 133.5,145.1 134.8,145.1 136.1,145.2 137.4,145.3 138.7,145.2 140,145.7 141.3,145.9 142.6,145.2 143.9,145.3 145.2,145.6 146.5,145.7 147.8,145.3 149.1,146.2 150.4,146.2 151.7,146 153,146.1 154.3,146.6 155.6,146.4 156.9,145.9 158.2,145.5 159.5,146.1 160.8,145.4 162.1,145.7 163.4,145.7 164.7,145.4 166,145.4 167.3,144.8 168.6,145.3 169.9,144.6 171.2,146.4 172.5,146.1 173.8,145.9 175.1,145.7 176.4,145.8 177.7,146.1 179,146.2 180.3,146.2 181.6,144.2 182.9,144.7 184.2,144.7 185.5,144.8 186.8,145 188.1,145.4 189.4,145.9 190.7,145.1 192,146.4 193.3,146.6 194.6,145.6 195.9,145.4 197.2,145.5 198.5,145.8 199.8,145.3 201.1,145 202.4,145.5 203.7,144.8 205,145.6 206.3,146.1 207.6,145.6 208.9,145.7 210.2,145.6 211.5,145.6 212.8,145.4 214.1,145.1 215.4,145.2 216.7,145.5 218,146.1 219.3,146.3 220.6,145.9 221.9,145.2 223.2,145.3 224.5,145.4 225.8,146.1 227.1,145.8 228.4,145.6 229.7,145.5 231,146.2 232.3,146.1 233.6,146.1 234.9,146.1 236.2,144.6 237.5,140 238.8,141 240.1,141.7 241.4,142 242.7,143.1 244,143.2 245.3,143.4 246.6,143.9 247.9,143.7 249.2,144.5 250.5,144.5 251.8,144.7 253.1,144.9 254.4,143.4 255.7,144.9 257,144.5 258.3,145.4 259.6,145.4 260.9,145.9 262.2,146.3 263.5,144.9 264.8,145.4 266.1,145.3 267.4,144.5 268.7,145.5 270,145.4 271.3,145.3 272.6,145.4 273.9,146.9 275.2,145.5 276.5,144.9 277.8,145 279.1,145.2 280.4,145.5 281.7,145.7 283,145.6 284.3,146 285.6,145.6 286.9,145.2 288.2,145.5 289.5,145.7 290.8,145.9 292.1,146 293.4,145.6 294.7,145.7 296,146 297.3,146.5 298.6,145.5 299.9,145.9 301.2,145.9 302.5,145.3 303.8,145.7 305.1,145.5 306.4,145.2 307.7,145.5 309,145.8 310.3,146.1 311.6,145.5 312.9,145.7 314.2,146.3 315.5,144.8 316.8,145.4 318.1,145.3 319.4,145.1 320.7,145.4 322,145.3 323.3,145.8 324.6,146.1 325.9,145.8 327.2,145.9 328.5,145.7 329.8,145.9 331.1,145.8 332.4,145.4 333.7,146.3 335,146.5 336.3,146.5 337.6,146.4 338.9,145.4 340.2,146.3 341.5,145.5 342.8,145.6 344.1,146.3 345.4,145.2 346.7,145.9 348,145.8 349.3,145.8 350.6,145.4 351.9,145.8 353.2,145.5 354.5,146.1 355.8,146.2 357.1,145.7 358.4,145.9 359.7,146 361,145.8 362.3,145.6 363.6,146.2 364.9,146.2 366.2,145.6 367.5,146.2 368.8,146.5 370.1,145.6 371.4,145.7 372.7,146.4 374,146.3 375.3,145.3 376.6,145.5 377.9,146.1 379.2,145.4 380.5,145.8 381.8,145.7 383.1,145.9 384.4,140.2 385.7,137.7 387,139.4 388.3,141.7 389.6,142.5 390.9,143.1 392.2,144.7 393.5,145.3 394.8,145.3 396.1,145.4 397.4,145.7 398.7,146.1 400,145.7 401.3,145.7 402.6,145.6 403.9,145.4 405.2,145.1 406.5,145.4 407.8,144.9 409.1,142.8 410.4,142.4 411.7,143.3 413,144.1 414.3,143.6 415.6,144.8 416.9,144.4 418.2,144.2 419.5,144.2 420.8,145.3 422.1,145.2 423.4,145 424.7,145.3 426,145.5 427.3,145.8 428.6,146.7 429.9,145.6 431.2,145.8 432.5,146.2 433.8,146 435.1,146 436.4,146 437.7,146.2 439,145.3 440.3,145.4 441.6,145 442.9,145.8 444.2,146.1 445.5,145.5 446.8,146 448.1,145.6 449.4,146.1 450.7,145.5 452,144.7 453.3,143 454.6,140.9 455.9,141.9 457.2,143.6 458.5,144.4 459.8,145 461.1,144.4 462.4,144.4 463.7,144 465,144.9 466.3,145.2 467.6,145 468.9,145.9 470.2,145.9 471.5,144.8 472.8,145.7 474.1,145.3 475.4,145.3 476.7,145.7 478,146.5 479.3,146.4 480.6,146.4 481.9,145.1 483.2,145.2 484.5,145.8 485.8,144 487.1,144.3 488.4,144.1 489.7,145.6 491,145.3 492.3,145.3 493.6,145.3 494.9,145.1 496.2,145.3 497.5,145.6 498.8,145.1 500.1,145.7 501.4,145.3 502.7,145.3 504,146.2 505.3,146.1 506.6,146.2 507.9,145.9 509.2,145.2 510.5,146.1 511.8,145.5 513.1,146.3 514.4,145.4 515.7,145.1 517,146 518.3,145.8 519.6,145.7 520.9,145.1 522.2,145.7 523.5,144.9 524.8,145.3 526.1,145.2 527.4,145.3 528.7,145.9 530,145.1 531.3,145.6 532.6,145.5 533.9,144.6 535.2,144.9" fill="none" stroke="#3a3a3a" stroke-width="0.42" /><polyline points="10,148.8 11.3,148.4 12.6,147.8 13.9,148.3 15.2,149.1 16.5,149 17.8,149 19.1,148.4 20.4,149.6 21.7,148.5 23,148.8 24.3,148.2 25.6,149.2 26.9,148.8 28.2,148.8 29.5,148.9 30.8,148.6 32.1,148.9 33.4,148.2 34.7,149.3 36,149.4 37.3,148.6 38.6,148.8 39.9,148.8 41.2,149.3 42.5,149.2 43.8,148.9 45.1,148.7 46.4,148.4 47.7,148.6 49,148.8 50.3,148.5 51.6,148.6 52.9,149 54.2,148.9 55.5,148.8 56.8,149 58.1,148.6 59.4,148.6 60.7,148.8 62,147.7 63.3,149 64.6,148 65.9,149 67.2,149.2 68.5,149.6 69.8,149.3 71.1,143.5 72.4,143.4 73.7,143.5 75,144.1 76.3,144.4 77.6,145.3 78.9,145.7 80.2,145.6 81.5,145.3 82.8,146.1 84.1,146.7 85.4,147.6 86.7,147.2 88,147.1 89.3,147.4 90.6,147.1 91.9,146.8 93.2,147.1 94.5,146.8 95.8,145.9 97.1,141.3 98.4,142.3 99.7,143.7 101,145.7 102.3,147 103.6,147 104.9,147.1 106.2,147.9 107.5,147.3 108.8,147.3 110.1,148.3 111.4,148.1 112.7,148.1 114,148.2 115.3,148.5 116.6,148.2 117.9,148.2 119.2,148.2 120.5,148.6 121.8,148.9 123.1,149 124.4,149 125.7,147.7 127,148.3 128.3,148.4 129.6,148.4 130.9,147.8 132.2,149.3 133.5,149 134.8,148.7 136.1,148.9 137.4,148.5 138.7,148.4 140,149 141.3,148.4 142.6,148 143.9,148.4 145.2,148.8 146.5,148.6 147.8,149.5 149.1,148.6 150.4,149.5 151.7,149.3 153,148.6 154.3,149 155.6,149.3 156.9,148.7 158.2,148.3 159.5,148.8 160.8,149.4 162.1,148.3 163.4,149.2 164.7,148.9 166,148.7 167.3,148.4 168.6,148.3 169.9,148.8 171.2,148.7 172.5,148.3 173.8,149.2 175.1,148.2 176.4,148.9 177.7,148.8 179,149.3 180.3,149 181.6,149.4 182.9,148.9 184.2,149.1 185.5,149.1 186.8,149.8 188.1,148.9 189.4,149.8 190.7,149.4 192,149.3 193.3,148.7 194.6,149 195.9,147.3 197.2,144.9 198.5,146.6 199.8,146.5 201.1,148.1 202.4,147.9 203.7,148.5 205,148.6 206.3,149 207.6,148.7 208.9,146.6 210.2,145 211.5,146.3 212.8,147.1 214.1,147.9 215.4,147.9 216.7,147.9 218,147.5 219.3,148.5 220.6,148.7 221.9,148.5 223.2,149.1 224.5,146.1 225.8,143.9 227.1,144.5 228.4,144.4 229.7,144.1 231,144.9 232.3,145.2 233.6,145.9 234.9,145.8 236.2,146.1 237.5,146.1 238.8,146.6 240.1,146.8 241.4,147.4 242.7,147.7 244,147.6 245.3,147.9 246.6,147.9 247.9,147.8 249.2,148.6 250.5,147.2 251.8,148.2 253.1,148.4 254.4,148.7 255.7,147.9 257,148.2 258.3,148.7 259.6,148.3 260.9,147.7 262.2,148.3 263.5,148 264.8,148.4 266.1,148.1 267.4,149.1 268.7,148.5 270,148.4 271.3,148.6 272.6,148.5 273.9,149 275.2,149.5 276.5,148.7 277.8,149 279.1,148.3 280.4,148.6 281.7,149.5 283,148.2 284.3,149.4 285.6,149.2 286.9,148 288.2,148 289.5,148.2 290.8,148.7 292.1,146.3 293.4,140 294.7,140.7 296,141.5 297.3,142.6 298.6,143.2 299.9,144.7 301.2,144.9 302.5,146.1 303.8,146.1 305.1,146 306.4,146.7 307.7,146.7 309,146.1 310.3,147.3 311.6,146.9 312.9,147.5 314.2,148.3 315.5,147.7 316.8,148.3 318.1,147.9 319.4,148.7 320.7,148.4 322,148 323.3,148.3 324.6,148.4 325.9,148.6 327.2,148.7 328.5,149 329.8,148.6 331.1,148.5 332.4,148.7 333.7,148.5 335,148.9 336.3,149.1 337.6,148.8 338.9,148.4 340.2,147.9 341.5,148.3 342.8,148.8 344.1,147.8 345.4,148.5 346.7,148.9 348,148.6 349.3,148.1 350.6,149.2 351.9,148.9 353.2,148.3 354.5,149.1 355.8,149.1 357.1,148.3 358.4,149.9 359.7,148.6 361,148.7 362.3,148.3 363.6,148.7 364.9,148.1 366.2,148.7 367.5,149.2 368.8,148.8 370.1,148.7 371.4,149.5 372.7,148.5 374,149.1 375.3,148.6 376.6,148.7 377.9,148.5 379.2,148.6 380.5,148.4 381.8,148.3 383.1,148.7 384.4,149.3 385.7,149.4 387,148.8 388.3,148.9 389.6,148.7 390.9,148.9 392.2,148.9 393.5,148.7 394.8,148.5 396.1,148.9 397.4,148.5 398.7,148.3 400,149.5 401.3,148.6 402.6,148.9 403.9,148.4 405.2,148.8 406.5,148.2 407.8,148.7 409.1,148.6 410.4,148.5 411.7,148.5 413,149.2 414.3,149.1 415.6,149.1 416.9,149.5 418.2,149 419.5,149 420.8,148.7 422.1,148.8 423.4,148.9 424.7,148.6 426,149.7 427.3,148.3 428.6,148.9 429.9,148.6 431.2,148.6 432.5,148.1 433.8,148.5 435.1,148.8 436.4,148.7 437.7,149 439,148.6 440.3,148.3 441.6,148.7 442.9,148.2 444.2,148.8 445.5,148.5 446.8,148.9 448.1,148.5 449.4,148.4 450.7,148 452,147.1 453.3,146.7 454.6,147.5 455.9,148.2 457.2,148.4 458.5,148.1 459.8,148.6 461.1,148.1 462.4,148.1 463.7,148.5 465,148.7 466.3,148.5 467.6,148.4 468.9,149.4 470.2,148.7 471.5,148.4 472.8,149.8 474.1,147.7 475.4,142.7 476.7,143.3 478,143.5 479.3,145.2 480.6,144.9 481.9,145.6 483.2,146.5 484.5,146.5 485.8,147.5 487.1,146.8 488.4,147.5 489.7,148.2 491,148.4 492.3,148.5 493.6,148.2 494.9,148.8 496.2,147.8 497.5,148.3 498.8,148.5 500.1,148.5 501.4,148.5 502.7,148.4 504,148.4 505.3,148 506.6,148.3 507.9,147.9 509.2,148.7 510.5,148 511.8,149.5 513.1,149.5 514.4,149.2 515.7,148.9 517,148.7 518.3,149.2 519.6,149.2 520.9,149 522.2,148.4 523.5,148.9 524.8,147.9 526.1,148.5 527.4,148.3 528.7,148.9 530,149.6 531.3,149.4 532.6,148.9 533.9,149.4 535.2,149.1" fill="none" stroke="#3a3a3a" stroke-width="0.42" /><polyline points="10,152.4 11.3,152.1 12.6,151.2 13.9,152.5 15.2,151.6 16.5,151.8 17.8,151.2 19.1,151.3 20.4,150.7 21.7,150.8 23,151.3 24.3,150.9 25.6,151.6 26.9,151.6 28.2,152 29.5,152.2 30.8,152.1 32.1,151.6 33.4,151.4 34.7,151.7 36,151.7 37.3,151.3 38.6,152.4 39.9,151.6 41.2,152.3 42.5,152.2 43.8,152.4 45.1,151.3 46.4,152.5 47.7,151.6 49,151.2 50.3,151.5 51.6,152.6 52.9,151.9 54.2,151.3 55.5,151.6 56.8,152.1 58.1,151.3 59.4,151.7 60.7,151.6 62,152.6 63.3,151.4 64.6,152 65.9,151.6 67.2,151.5 68.5,152.2 69.8,152.1 71.1,151 72.4,151.8 73.7,151.8 75,151.6 76.3,152.1 77.6,152.1 78.9,151.8 80.2,151.7 81.5,151.3 82.8,151.5 84.1,151.2 85.4,151.4 86.7,151 88,151.6 89.3,151.4 90.6,145.6 91.9,144.7 93.2,146.2 94.5,147.2 95.8,147.4 97.1,149.2 98.4,149.4 99.7,149.9 101,149.9 102.3,150.3 103.6,151.2 104.9,151.2 106.2,151.1 107.5,151.3 108.8,151.3 110.1,151.8 111.4,152.3 112.7,151.1 114,151.7 115.3,151.4 116.6,151.3 117.9,151.8 119.2,151.8 120.5,151.4 121.8,151.6 123.1,152.4 124.4,152.1 125.7,151.9 127,151.4 128.3,151.4 129.6,151.7 130.9,151.5 132.2,151.2 133.5,151.7 134.8,152.1 136.1,151.3 137.4,152.1 138.7,151.9 140,148.6 141.3,144 142.6,146.1 143.9,147.7 145.2,149.1 146.5,149.3 147.8,149.7 149.1,151.1 150.4,151.1 151.7,151.2 153,151.3 154.3,152 155.6,151 156.9,152 158.2,151.3 159.5,151.8 160.8,152.1 162.1,151.2 163.4,151.9 164.7,151.6 166,151.3 167.3,151.5 168.6,151.2 169.9,151.2 171.2,152 172.5,152.1 173.8,151.5 175.1,151.4 176.4,153 177.7,152.5 179,152.2 180.3,151.7 181.6,151.6 182.9,152.1 184.2,151.7 185.5,152.6 186.8,152.1 188.1,152.2 189.4,151.5 190.7,151.5 192,151.3 193.3,151.4 194.6,151.4 195.9,151.3 197.2,151.9 198.5,151.8 199.8,152.3 201.1,151.8 202.4,151.5 203.7,152.1 205,152.5 206.3,151.9 207.6,152.1 208.9,151.7 210.2,151.9 211.5,151.9 212.8,151.5 214.1,150.4 215.4,151.2 216.7,151.5 218,151.8 219.3,151.8 220.6,151.3 221.9,151.4 223.2,151.9 224.5,151.3 225.8,152.1 227.1,151.3 228.4,151.9 229.7,151.7 231,151.2 232.3,151.9 233.6,151.3 234.9,151.2 236.2,151.5 237.5,151.3 238.8,152.3 240.1,151.9 241.4,152 242.7,151.6 244,151.8 245.3,151.7 246.6,151.9 247.9,151.6 249.2,151.8 250.5,152.7 251.8,152 253.1,152.3 254.4,152.1 255.7,152.9 257,152.6 258.3,152.1 259.6,152.1 260.9,147.1 262.2,147 263.5,147.7 264.8,148.5 266.1,148.9 267.4,149.3 268.7,150.3 270,150.5 271.3,149.8 272.6,150.8 273.9,151.5 275.2,151.1 276.5,151.7 277.8,151.1 279.1,151.8 280.4,151.2 281.7,151 283,151.4 284.3,152.4 285.6,151.5 286.9,151.3 288.2,151.9 289.5,151.8 290.8,152.2 292.1,151.2 293.4,151.3 294.7,151.8 296,151.9 297.3,151.9 298.6,151.9 299.9,151.1 301.2,145.4 302.5,146.4 303.8,148 305.1,148.9 306.4,149.4 307.7,149.7 309,150.8 310.3,151.1 311.6,152 312.9,151.2 314.2,151.7 315.5,150.9 316.8,151.3 318.1,151.4 319.4,151.8 320.7,151.7 322,151.7 323.3,151.7 324.6,151.3 325.9,150 327.2,148.8 328.5,149.7 329.8,150.7 331.1,150.6 332.4,150.9 333.7,151 335,151.2 336.3,151.4 337.6,151 338.9,151.8 340.2,152 341.5,151.7 342.8,151.3 344.1,150.6 345.4,151.3 346.7,151.8 348,152.2 349.3,152 350.6,151.6 351.9,152.2 353.2,151.3 354.5,152 355.8,152 357.1,151.4 358.4,152 359.7,151.7 361,151.3 362.3,150.9 363.6,150.8 364.9,151.7 366.2,151.8 367.5,152.2 368.8,151.9 370.1,152.2 371.4,152.2 372.7,151.6 374,151.6 375.3,152.3 376.6,152 377.9,151.6 379.2,151.7 380.5,151.9 381.8,152.3 383.1,151.4 384.4,152 385.7,152.7 387,152.2 388.3,152.5 389.6,151.2 390.9,152.4 392.2,151.9 393.5,151.4 394.8,152.3 396.1,152.5 397.4,152.3 398.7,152.3 400,151.9 401.3,151.6 402.6,151.8 403.9,151.8 405.2,151.9 406.5,151.5 407.8,151.7 409.1,152.2 410.4,152 411.7,152.8 413,153 414.3,151.7 415.6,151.9 416.9,151.6 418.2,151.5 419.5,152.1 420.8,151.6 422.1,151.6 423.4,151.7 424.7,152.1 426,151.7 427.3,151.8 428.6,152.1 429.9,152 431.2,151.8 432.5,151.9 433.8,151.4 435.1,151.6 436.4,151.5 437.7,152.1 439,151.9 440.3,151.4 441.6,152.3 442.9,151.4 444.2,152.3 445.5,152 446.8,151.6 448.1,151.6 449.4,151.8 450.7,151.7 452,151.3 453.3,151.9 454.6,151.3 455.9,151.9 457.2,152.2 458.5,151.4 459.8,152.1 461.1,151.4 462.4,151 463.7,151.5 465,151.7 466.3,151.5 467.6,146.7 468.9,145.9 470.2,148.8 471.5,150.4 472.8,151.3 474.1,151.3 475.4,151.2 476.7,151.7 478,152.1 479.3,151.8 480.6,151.8 481.9,151.5 483.2,152.4 484.5,152.3 485.8,151.5 487.1,151.9 488.4,152.2 489.7,151.8 491,152.3 492.3,152.2 493.6,151.2 494.9,151.8 496.2,152 497.5,152 498.8,152.2 500.1,150.8 501.4,151.6 502.7,152 504,152.1 505.3,152.5 506.6,151.5 507.9,151.7 509.2,151.6 510.5,152.1 511.8,151.4 513.1,152 514.4,151.8 515.7,151.6 517,150.9 518.3,151.7 519.6,152.2 520.9,151.6 522.2,151.8 523.5,151.7 524.8,152.3 526.1,152.1 527.4,152 528.7,151.7 530,151.9 531.3,151.6 532.6,152 533.9,151.7 535.2,152.1" fill="none" stroke="#3a3a3a" stroke-width="0.42" /><polyline points="10,155.3 11.3,154.9 12.6,155.2 13.9,154.9 15.2,154.9 16.5,155.3 17.8,154.5 19.1,154.8 20.4,154.6 21.7,154.9 23,154.8 24.3,155.1 25.6,155.2 26.9,154.6 28.2,155.1 29.5,154.6 30.8,154.7 32.1,154.8 33.4,155 34.7,155.2 36,155.5 37.3,154.9 38.6,154.7 39.9,154.4 41.2,155.1 42.5,155.2 43.8,155 45.1,154.7 46.4,154.8 47.7,155.3 49,154.9 50.3,154.6 51.6,154.1 52.9,154.6 54.2,155.3 55.5,155.1 56.8,154.1 58.1,154.8 59.4,154.4 60.7,155.7 62,155.2 63.3,154.8 64.6,155.6 65.9,155 67.2,151.1 68.5,150.3 69.8,149.9 71.1,150.8 72.4,150.3 73.7,151.4 75,151.1 76.3,150.9 77.6,151 78.9,152.7 80.2,153 81.5,152.3 82.8,153.5 84.1,153.1 85.4,153.2 86.7,153.4 88,153.6 89.3,154.1 90.6,153.8 91.9,153 93.2,154.3 94.5,154 95.8,153.6 97.1,154.1 98.4,154 99.7,154.5 101,154.6 102.3,153.5 103.6,149.6 104.9,149.2 106.2,150.8 107.5,151.6 108.8,152.9 110.1,152.4 111.4,153.1 112.7,153.3 114,153.3 115.3,154.2 116.6,154.2 117.9,154.2 119.2,154.5 120.5,155.1 121.8,154.6 123.1,154.4 124.4,149.6 125.7,147 127,149.7 128.3,151.7 129.6,152.5 130.9,153.2 132.2,154.3 133.5,154.5 134.8,153.8 136.1,154.3 137.4,154.4 138.7,154.3 140,154.1 141.3,154.8 142.6,154.7 143.9,154.8 145.2,155.2 146.5,154.6 147.8,154.6 149.1,154.8 150.4,154.6 151.7,154.8 153,155.1 154.3,155 155.6,155.5 156.9,154.9 158.2,155.4 159.5,154.7 160.8,155 162.1,154.8 163.4,155.7 164.7,155.6 166,155.6 167.3,156 168.6,155.7 169.9,155.6 171.2,155 172.5,154.9 173.8,155.5 175.1,155.2 176.4,155.2 177.7,155.3 179,154.7 180.3,155.6 181.6,154.9 182.9,155 184.2,155.4 185.5,154.9 186.8,155.4 188.1,155.4 189.4,154.9 190.7,154.5 192,154.7 193.3,154.3 194.6,155.4 195.9,154.9 197.2,154.7 198.5,154.5 199.8,155 201.1,155.5 202.4,154.6 203.7,154.9 205,154.4 206.3,155.2 207.6,152.5 208.9,153.7 210.2,153.8 211.5,154 212.8,154.3 214.1,154.9 215.4,154.3 216.7,155.2 218,155.1 219.3,155.1 220.6,154.8 221.9,155.6 223.2,153.8 224.5,148.8 225.8,149.6 227.1,150.5 228.4,150.4 229.7,151.2 231,151.1 232.3,151.8 233.6,152.3 234.9,152.4 236.2,152.6 237.5,152.7 238.8,152.9 240.1,153.2 241.4,153.5 242.7,153.4 244,153.3 245.3,154 246.6,154.5 247.9,154 249.2,154.3 250.5,154.9 251.8,154.7 253.1,154.4 254.4,154.7 255.7,154.8 257,155.1 258.3,154.4 259.6,155 260.9,154.8 262.2,154.2 263.5,155.2 264.8,155.3 266.1,154.7 267.4,155.9 268.7,154.8 270,154.6 271.3,154.6 272.6,155 273.9,154.9 275.2,154.9 276.5,155.4 277.8,155 279.1,155.3 280.4,155.8 281.7,155 283,154.2 284.3,155.1 285.6,154.9 286.9,155.1 288.2,155 289.5,154.4 290.8,154.2 292.1,154.8 293.4,155 294.7,154.2 296,155.5 297.3,155.2 298.6,155.1 299.9,155.1 301.2,154.8 302.5,155 303.8,155.6 305.1,155.7 306.4,155.5 307.7,155.1 309,154.6 310.3,155.3 311.6,154.7 312.9,154.5 314.2,154.1 315.5,154.5 316.8,154 318.1,152.4 319.4,149.9 320.7,150.8 322,152.1 323.3,153.7 324.6,153.9 325.9,153.4 327.2,153.9 328.5,153.7 329.8,153.7 331.1,154.6 332.4,155.3 333.7,155 335,154.7 336.3,154.4 337.6,154.8 338.9,155.1 340.2,154.2 341.5,154.3 342.8,155.8 344.1,155.4 345.4,155.7 346.7,155.2 348,155.5 349.3,154.9 350.6,155.1 351.9,155.5 353.2,155.1 354.5,154.5 355.8,155.2 357.1,154.7 358.4,154.7 359.7,155.4 361,155.6 362.3,155.4 363.6,154.7 364.9,155.4 366.2,155.4 367.5,154.8 368.8,154.1 370.1,155.3 371.4,155.1 372.7,155.1 374,154.1 375.3,154.2 376.6,155.3 377.9,155.4 379.2,155.5 380.5,155.4 381.8,155.4 383.1,155 384.4,155.1 385.7,155 387,155.4 388.3,154.9 389.6,155.3 390.9,154.9 392.2,154.4 393.5,155.6 394.8,154.4 396.1,154.7 397.4,155.1 398.7,155.1 400,154 401.3,155.5 402.6,155.6 403.9,155.6 405.2,154.2 406.5,154.5 407.8,154.6 409.1,154.6 410.4,155.4 411.7,155.1 413,155.8 414.3,155.3 415.6,154.5 416.9,154.6 418.2,154.7 419.5,154.9 420.8,155.2 422.1,154.7 423.4,155.1 424.7,154.3 426,153.7 427.3,154.5 428.6,154.7 429.9,154.5 431.2,154.3 432.5,154.9 433.8,155.3 435.1,154.7 436.4,154.4 437.7,154.5 439,155.6 440.3,154.8 441.6,154.9 442.9,155.2 444.2,155.2 445.5,154.6 446.8,155.3 448.1,155.2 449.4,155 450.7,154.2 452,150.6 453.3,151.5 454.6,152.5 455.9,153.6 457.2,153.8 458.5,154.5 459.8,154.3 461.1,154.8 462.4,154.6 463.7,154.8 465,154.7 466.3,154.5 467.6,154.5 468.9,153.9 470.2,153.7 471.5,150 472.8,150.5 474.1,151 475.4,151.8 476.7,151.6 478,152.5 479.3,153 480.6,153.6 481.9,153.7 483.2,153.8 484.5,153.5 485.8,154.7 487.1,154.8 488.4,154.8 489.7,154.9 491,154.9 492.3,154.7 493.6,155.3 494.9,155.2 496.2,154.3 497.5,155 498.8,154.9 500.1,153.8 501.4,153.5 502.7,154.3 504,154.4 505.3,154.6 506.6,153.9 507.9,154.8 509.2,154 510.5,151.5 511.8,152.7 513.1,152.5 514.4,153.8 515.7,154.7 517,154.1 518.3,154.9 519.6,155.1 520.9,155 522.2,154.5 523.5,155 524.8,154.8 526.1,155.1 527.4,154.8 528.7,155.4 530,155.1 531.3,155.2 532.6,155.7 533.9,155.2 535.2,155.6" fill="none" stroke="#3a3a3a" stroke-width="0.42" /><polyline points="10,158 11.3,157.8 12.6,158.5 13.9,158 15.2,158.5 16.5,157.7 17.8,157.7 19.1,157.5 20.4,158.5 21.7,157.4 23,157.8 24.3,158.1 25.6,157.9 26.9,158.6 28.2,158.6 29.5,158.2 30.8,158.4 32.1,157.5 33.4,157.9 34.7,158.1 36,158 37.3,157.7 38.6,157.8 39.9,157.8 41.2,158.3 42.5,158 43.8,157.6 45.1,157.6 46.4,156.5 47.7,156.4 49,157.2 50.3,157 51.6,157.7 52.9,157.9 54.2,157.8 55.5,157.9 56.8,158.1 58.1,158.8 59.4,157.9 60.7,157.6 62,157.7 63.3,158.4 64.6,158.4 65.9,158 67.2,157.7 68.5,157.4 69.8,157 71.1,157.5 72.4,154.6 73.7,152.7 75,152.7 76.3,153.8 77.6,154.4 78.9,154.2 80.2,155.7 81.5,156 82.8,155.4 84.1,156.4 85.4,156.7 86.7,156.5 88,157.1 89.3,157 90.6,157.5 91.9,157.4 93.2,157.4 94.5,157.6 95.8,157.9 97.1,157.9 98.4,157.8 99.7,157.8 101,156.7 102.3,152.8 103.6,153.1 104.9,153.9 106.2,154.9 107.5,155.5 108.8,156.2 110.1,157.3 111.4,157 112.7,156.6 114,157.1 115.3,156.7 116.6,157 117.9,157.1 119.2,157.2 120.5,157.3 121.8,157.1 123.1,158.1 124.4,158.2 125.7,157.5 127,158 128.3,157.6 129.6,158 130.9,156.3 132.2,151.8 133.5,151.8 134.8,152.7 136.1,154.8 137.4,155.6 138.7,155.6 140,157.2 141.3,157.4 142.6,157.6 143.9,158 145.2,157.6 146.5,157.6 147.8,157.9 149.1,157.8 150.4,157 151.7,155 153,154.1 154.3,154.2 155.6,154.8 156.9,154.2 158.2,154.5 159.5,155.1 160.8,156.1 162.1,156.1 163.4,155.3 164.7,155.3 166,156.2 167.3,156.9 168.6,157.2 169.9,157 171.2,156.9 172.5,157.6 173.8,157.8 175.1,157.4 176.4,157 177.7,157.3 179,157.2 180.3,157.4 181.6,157.9 182.9,157.5 184.2,158.1 185.5,157.7 186.8,157.2 188.1,157.9 189.4,158.4 190.7,157 192,157.8 193.3,158.3 194.6,157 195.9,158 197.2,157.4 198.5,157.8 199.8,156.9 201.1,157 202.4,157.5 203.7,158.1 205,158.3 206.3,158.3 207.6,158.6 208.9,158.2 210.2,158.5 211.5,157.9 212.8,158.1 214.1,159.3 215.4,158.8 216.7,158.2 218,158.1 219.3,158.2 220.6,157.6 221.9,158.5 223.2,157.8 224.5,157.9 225.8,158.8 227.1,152.7 228.4,153.6 229.7,153.6 231,154.5 232.3,155.3 233.6,155.5 234.9,156.1 236.2,156.1 237.5,156.6 238.8,156.4 240.1,156.9 241.4,156.8 242.7,157.5 244,156.8 245.3,157.3 246.6,157 247.9,157.4 249.2,158.2 250.5,158.2 251.8,157.6 253.1,158.3 254.4,157 255.7,157.9 257,157.5 258.3,157.1 259.6,157.8 260.9,158 262.2,158.9 263.5,158.1 264.8,158.9 266.1,158.4 267.4,157.6 268.7,157.4 270,157.9 271.3,157.5 272.6,157.8 273.9,157.7 275.2,157.5 276.5,157.9 277.8,157.6 279.1,157.5 280.4,157.8 281.7,158.5 283,158.6 284.3,157.8 285.6,157.8 286.9,158 288.2,158.2 289.5,158 290.8,158 292.1,158 293.4,158.6 294.7,159.1 296,157.9 297.3,157.3 298.6,158.4 299.9,158 301.2,158.1 302.5,158.6 303.8,158.1 305.1,157.6 306.4,157.2 307.7,157.7 309,157.4 310.3,157.9 311.6,157.5 312.9,157.8 314.2,157.3 315.5,157.7 316.8,157.7 318.1,156.6 319.4,155.1 320.7,155.8 322,156 323.3,157.4 324.6,157.4 325.9,157.7 327.2,157.6 328.5,158.3 329.8,158.2 331.1,157.9 332.4,158.1 333.7,157.4 335,157.4 336.3,158 337.6,158 338.9,158 340.2,158.3 341.5,158 342.8,158 344.1,157.6 345.4,158.5 346.7,158.4 348,157.7 349.3,158.2 350.6,158.2 351.9,158.2 353.2,157.4 354.5,157.6 355.8,157.8 357.1,158.5 358.4,157.7 359.7,158.1 361,157.7 362.3,157.9 363.6,158.1 364.9,157.1 366.2,157 367.5,158 368.8,157.8 370.1,157.6 371.4,158 372.7,158.2 374,157.3 375.3,157.9 376.6,158.6 377.9,157.9 379.2,157.8 380.5,158.2 381.8,157.7 383.1,157.5 384.4,157.9 385.7,157.7 387,158.5 388.3,154.4 389.6,152.4 390.9,152.7 392.2,154.3 393.5,154.5 394.8,155.8 396.1,156.6 397.4,157.2 398.7,157.5 400,157.1 401.3,156.7 402.6,156.6 403.9,157 405.2,157 406.5,157.7 407.8,157.5 409.1,158.1 410.4,158.1 411.7,158.1 413,157.8 414.3,157.8 415.6,157.4 416.9,157.9 418.2,158.2 419.5,158.6 420.8,156 422.1,155.8 423.4,155 424.7,156.1 426,156.5 427.3,155.4 428.6,156.7 429.9,157.5 431.2,156.5 432.5,157.8 433.8,157.2 435.1,157.4 436.4,157.5 437.7,156.8 439,157.7 440.3,157.5 441.6,157.4 442.9,158 444.2,158.9 445.5,157.9 446.8,158.1 448.1,158 449.4,157.9 450.7,158.1 452,158.6 453.3,158.2 454.6,158.5 455.9,158.2 457.2,159 458.5,157.4 459.8,158.2 461.1,158.1 462.4,158.1 463.7,157.5 465,157.5 466.3,157.9 467.6,158 468.9,156.7 470.2,152.3 471.5,150.2 472.8,152.6 474.1,153.7 475.4,154.6 476.7,155.3 478,157.2 479.3,157.1 480.6,157.3 481.9,157.9 483.2,158.3 484.5,157.9 485.8,157.1 487.1,157.8 488.4,158.2 489.7,156.8 491,156.9 492.3,157.5 493.6,157.4 494.9,158.1 496.2,158.2 497.5,157.9 498.8,157.7 500.1,158.3 501.4,158.5 502.7,158.4 504,158.3 505.3,156.9 506.6,157.8 507.9,157.7 509.2,157.8 510.5,157.6 511.8,158.1 513.1,157.9 514.4,159.1 515.7,158.4 517,158 518.3,158.1 519.6,157.9 520.9,158 522.2,158 523.5,158.1 524.8,158.6 526.1,158.6 527.4,158.1 528.7,158.6 530,158 531.3,157.4 532.6,157.2 533.9,157.7 535.2,158" fill="none" stroke="#3a3a3a" stroke-width="0.42" /><polyline points="10,161.1 11.3,161.7 12.6,161.7 13.9,160.7 15.2,160.5 16.5,160.9 17.8,161 19.1,161 20.4,161.2 21.7,161.2 23,161 24.3,162 25.6,161.7 26.9,161.7 28.2,161.8 29.5,162.4 30.8,161.9 32.1,161.3 33.4,161.5 34.7,161.3 36,160.9 37.3,161 38.6,161.1 39.9,161 41.2,160.8 42.5,161.4 43.8,160.5 45.1,161.3 46.4,161 47.7,161 49,160.4 50.3,162 51.6,161 52.9,161.4 54.2,161.4 55.5,161 56.8,160.8 58.1,159.9 59.4,160.7 60.7,161.1 62,161.2 63.3,160.9 64.6,161.3 65.9,161.3 67.2,160.9 68.5,160.9 69.8,161.7 71.1,160.6 72.4,161.6 73.7,161.1 75,161.7 76.3,161.1 77.6,161.2 78.9,161.2 80.2,161.1 81.5,161 82.8,160.7 84.1,160.8 85.4,160.7 86.7,158.4 88,157.4 89.3,157.5 90.6,158.2 91.9,158.7 93.2,158.7 94.5,159.6 95.8,159.4 97.1,160 98.4,159.6 99.7,159.9 101,160.6 102.3,159.8 103.6,160.8 104.9,160.8 106.2,160.6 107.5,160.8 108.8,160.2 110.1,160.7 111.4,160.4 112.7,160.4 114,161.4 115.3,160.7 116.6,160.2 117.9,161.2 119.2,160.8 120.5,159.8 121.8,161.2 123.1,161.4 124.4,161.1 125.7,161.6 127,161 128.3,161.3 129.6,160.9 130.9,161.2 132.2,161.5 133.5,161.4 134.8,161.2 136.1,160.5 137.4,160.9 138.7,160.6 140,161.1 141.3,160.8 142.6,161.3 143.9,160.7 145.2,162.1 146.5,161.1 147.8,161.8 149.1,162.5 150.4,161.4 151.7,160.8 153,161.3 154.3,161.7 155.6,161.4 156.9,160.5 158.2,161.3 159.5,160.2 160.8,162 162.1,161.2 163.4,161 164.7,161.5 166,161 167.3,160.4 168.6,161.2 169.9,160.7 171.2,160.5 172.5,161.8 173.8,162 175.1,161.6 176.4,161.2 177.7,160.6 179,161.4 180.3,162.1 181.6,162 182.9,162.4 184.2,161.5 185.5,161.9 186.8,161.6 188.1,160.5 189.4,160.5 190.7,160.8 192,161 193.3,161.2 194.6,160.8 195.9,161 197.2,161 198.5,161.2 199.8,161.3 201.1,161.4 202.4,161.2 203.7,161.4 205,161.5 206.3,161.5 207.6,161 208.9,161.6 210.2,160.9 211.5,161.2 212.8,161 214.1,161.1 215.4,161.2 216.7,161.1 218,160.9 219.3,160.4 220.6,160.6 221.9,161 223.2,161 224.5,161.5 225.8,161.4 227.1,160.8 228.4,161.5 229.7,161 231,161 232.3,161.8 233.6,161.3 234.9,161 236.2,160.9 237.5,161.1 238.8,160.9 240.1,160.9 241.4,157.7 242.7,158.4 244,157.5 245.3,156.1 246.6,156.1 247.9,157.7 249.2,157.7 250.5,159.1 251.8,159.3 253.1,159.3 254.4,159.6 255.7,160.1 257,160.2 258.3,160.8 259.6,160.8 260.9,159.4 262.2,158 263.5,157.5 264.8,158.6 266.1,159.6 267.4,159.5 268.7,160.2 270,160.8 271.3,160.9 272.6,161.6 273.9,161.1 275.2,161.2 276.5,161.6 277.8,161 279.1,161.3 280.4,160.8 281.7,161.4 283,161.7 284.3,161.7 285.6,161.8 286.9,161.5 288.2,161.3 289.5,161.1 290.8,156.5 292.1,155.5 293.4,154.2 294.7,154.6 296,156.5 297.3,155.8 298.6,157.1 299.9,157.1 301.2,158 302.5,158.4 303.8,158.4 305.1,158.8 306.4,158.8 307.7,159.2 309,159.7 310.3,159.5 311.6,158.9 312.9,159 314.2,159.7 315.5,160.1 316.8,160.4 318.1,160.4 319.4,160.8 320.7,160.6 322,160.8 323.3,160.7 324.6,160.9 325.9,160.2 327.2,161.4 328.5,160.8 329.8,161 331.1,161 332.4,161.1 333.7,161.3 335,161.2 336.3,160.8 337.6,160.2 338.9,160.8 340.2,160.5 341.5,160.8 342.8,161.7 344.1,159.8 345.4,160.8 346.7,161.3 348,161.3 349.3,161.5 350.6,160.5 351.9,160.5 353.2,161.1 354.5,160.8 355.8,161.8 357.1,161.3 358.4,161 359.7,161.4 361,161 362.3,161.1 363.6,161.1 364.9,160.9 366.2,160.7 367.5,160.8 368.8,160 370.1,160.4 371.4,161.2 372.7,161.4 374,161 375.3,161.2 376.6,160.7 377.9,161.9 379.2,160.8 380.5,161.7 381.8,160.9 383.1,161.1 384.4,161 385.7,160.9 387,161.2 388.3,161.3 389.6,160.8 390.9,160.9 392.2,162.1 393.5,162 394.8,161.5 396.1,161.2 397.4,161.2 398.7,160.8 400,160.8 401.3,160.1 402.6,160.6 403.9,160.6 405.2,161.6 406.5,161.8 407.8,161 409.1,161.1 410.4,161.1 411.7,160.7 413,160.7 414.3,161.4 415.6,161.4 416.9,161.1 418.2,161.7 419.5,161.4 420.8,160.7 422.1,161.6 423.4,161 424.7,161.7 426,161 427.3,160.7 428.6,161.4 429.9,161.5 431.2,161 432.5,161.5 433.8,161.2 435.1,161.8 436.4,162 437.7,160.8 439,160.6 440.3,160.6 441.6,160.8 442.9,161 444.2,161.5 445.5,161.9 446.8,160.9 448.1,160.1 449.4,157.3 450.7,156.9 452,158 453.3,157.9 454.6,158.4 455.9,159.6 457.2,160.4 458.5,160.6 459.8,160.5 461.1,161 462.4,161 463.7,160.8 465,161.7 466.3,160.8 467.6,160.4 468.9,160.7 470.2,159.4 471.5,159.7 472.8,160.4 474.1,160.2 475.4,161.2 476.7,161.6 478,161.1 479.3,160.4 480.6,160.6 481.9,160.9 483.2,160.6 484.5,160.1 485.8,157.5 487.1,156.8 488.4,158 489.7,158.2 491,160 492.3,160.1 493.6,160.4 494.9,159.9 496.2,161.1 497.5,160.6 498.8,161.5 500.1,161.4 501.4,160.6 502.7,160.9 504,161.6 505.3,161.3 506.6,161.3 507.9,161.4 509.2,161.3 510.5,161 511.8,161 513.1,160.6 514.4,160.6 515.7,161.1 517,160.7 518.3,161.4 519.6,161.4 520.9,161.5 522.2,161.6 523.5,161.5 524.8,161.3 526.1,161.3 527.4,161 528.7,161.4 530,160.7 531.3,161 532.6,161.4 533.9,161 535.2,161.4" fill="none" stroke="#3a3a3a" stroke-width="0.42" /><polyline points="10,164.4 11.3,163.9 12.6,163.5 13.9,164.1 15.2,163.5 16.5,164.5 17.8,164.8 19.1,164.7 20.4,165.1 21.7,164.8 23,164.4 24.3,164 25.6,164.5 26.9,163.9 28.2,164.3 29.5,164.7 30.8,164.9 32.1,165.2 33.4,164.3 34.7,163.7 36,164.6 37.3,164.9 38.6,164.2 39.9,164.9 41.2,164.9 42.5,163.9 43.8,163.8 45.1,163.7 46.4,164.4 47.7,164.3 49,164.1 50.3,162.9 51.6,163.1 52.9,163.2 54.2,163.2 55.5,163.6 56.8,163.4 58.1,163.8 59.4,164.3 60.7,164.5 62,164.6 63.3,164.4 64.6,164.7 65.9,164.8 67.2,164.2 68.5,161.3 69.8,158.9 71.1,159 72.4,159.6 73.7,159.6 75,160.8 76.3,160.1 77.6,161 78.9,160.7 80.2,162 81.5,161.7 82.8,161.1 84.1,161.3 85.4,161.1 86.7,161.6 88,162.2 89.3,163 90.6,161.9 91.9,162.9 93.2,162.4 94.5,162.8 95.8,163 97.1,163.1 98.4,163.1 99.7,163.1 101,163.1 102.3,163 103.6,163.5 104.9,162.6 106.2,163 107.5,162.9 108.8,163 110.1,163 111.4,163.8 112.7,164.3 114,163.9 115.3,163.2 116.6,163.7 117.9,163.2 119.2,164.2 120.5,164.4 121.8,164.3 123.1,164.4 124.4,164 125.7,163.3 127,163 128.3,163.9 129.6,163.9 130.9,164.1 132.2,163.7 133.5,163.6 134.8,163.8 136.1,164.2 137.4,163.8 138.7,163.8 140,164.5 141.3,164.3 142.6,164.2 143.9,163.4 145.2,164 146.5,163.4 147.8,163.3 149.1,164.1 150.4,163.9 151.7,164.3 153,165 154.3,164.2 155.6,164.9 156.9,163.8 158.2,164.1 159.5,163.5 160.8,162.7 162.1,162 163.4,163 164.7,163.9 166,163.2 167.3,164.5 168.6,164.2 169.9,164.3 171.2,164.5 172.5,163.8 173.8,164 175.1,163.9 176.4,164.4 177.7,164.3 179,164.6 180.3,164 181.6,165 182.9,163.9 184.2,164.4 185.5,163.5 186.8,163.8 188.1,163.7 189.4,164.3 190.7,164 192,164.5 193.3,164.5 194.6,164.4 195.9,164.9 197.2,164.2 198.5,164.7 199.8,164.1 201.1,161.4 202.4,161.6 203.7,161.6 205,160.3 206.3,158.3 207.6,160.6 208.9,162.1 210.2,162.1 211.5,163.5 212.8,163.5 214.1,164.4 215.4,164.4 216.7,163.9 218,163.2 219.3,164.3 220.6,164.5 221.9,164.4 223.2,164.2 224.5,161.4 225.8,160.4 227.1,160.5 228.4,162 229.7,161.4 231,161.7 232.3,162.1 233.6,161.7 234.9,161.9 236.2,162.1 237.5,162.1 238.8,162.3 240.1,163.2 241.4,163.2 242.7,162.7 244,163.1 245.3,163.7 246.6,163.1 247.9,163.4 249.2,163.5 250.5,164 251.8,163.8 253.1,163.7 254.4,163.3 255.7,163.7 257,163.4 258.3,164.5 259.6,164.1 260.9,164 262.2,164.3 263.5,163.9 264.8,163.8 266.1,163.8 267.4,163.6 268.7,163.6 270,163.8 271.3,164.6 272.6,163.9 273.9,164 275.2,164 276.5,164.2 277.8,164.6 279.1,163.4 280.4,163.9 281.7,164 283,163.9 284.3,164.2 285.6,163.7 286.9,164.4 288.2,164.3 289.5,164 290.8,164.7 292.1,164.4 293.4,164.4 294.7,163.5 296,164.1 297.3,164.1 298.6,164.8 299.9,164.9 301.2,163.7 302.5,164.4 303.8,164.1 305.1,164.7 306.4,164.5 307.7,164.1 309,164.5 310.3,162.3 311.6,162.4 312.9,163 314.2,163 315.5,163.6 316.8,163.3 318.1,164.8 319.4,164.6 320.7,164.4 322,163.7 323.3,163.4 324.6,164.2 325.9,164.3 327.2,165.2 328.5,164.9 329.8,163.7 331.1,161.3 332.4,161.3 333.7,161.3 335,162.3 336.3,162.6 337.6,162.6 338.9,162.8 340.2,163.4 341.5,163.9 342.8,163.3 344.1,163.3 345.4,164.2 346.7,162.9 348,164.6 349.3,163.6 350.6,163.7 351.9,164.2 353.2,162.8 354.5,163.3 355.8,164.8 357.1,164 358.4,164.2 359.7,164.3 361,164.5 362.3,164.6 363.6,164.2 364.9,164 366.2,164.1 367.5,164.2 368.8,164.6 370.1,164.2 371.4,165 372.7,164.1 374,164.7 375.3,165 376.6,164.6 377.9,164.3 379.2,163.8 380.5,164 381.8,164.5 383.1,164.6 384.4,164.4 385.7,163.9 387,164.1 388.3,164.7 389.6,164.8 390.9,163.9 392.2,164.1 393.5,163.5 394.8,163.9 396.1,165.7 397.4,164.3 398.7,164.2 400,164.1 401.3,163.8 402.6,163.6 403.9,164.2 405.2,163.9 406.5,164.4 407.8,163.4 409.1,164.3 410.4,164.6 411.7,163.5 413,164.2 414.3,163 415.6,164 416.9,164.5 418.2,164 419.5,164.3 420.8,163.9 422.1,164.1 423.4,164.4 424.7,164 426,163.9 427.3,164.1 428.6,164.4 429.9,163.5 431.2,164.1 432.5,163.9 433.8,164.1 435.1,164.5 436.4,164.1 437.7,164.5 439,163.9 440.3,164 441.6,164 442.9,164.5 444.2,164.3 445.5,164.2 446.8,163.8 448.1,164 449.4,163.9 450.7,164.5 452,164.1 453.3,164.6 454.6,164.3 455.9,163.3 457.2,164.1 458.5,163.6 459.8,164.6 461.1,164.8 462.4,164.3 463.7,164.6 465,163.8 466.3,163.6 467.6,162.6 468.9,158.2 470.2,158.1 471.5,159.7 472.8,159.8 474.1,161.1 475.4,162.2 476.7,162.5 478,162.8 479.3,163.1 480.6,163.8 481.9,163.7 483.2,164.7 484.5,164.7 485.8,164.2 487.1,163.8 488.4,165.4 489.7,164.4 491,164.3 492.3,164.8 493.6,164.3 494.9,164.2 496.2,164.5 497.5,163.8 498.8,164.6 500.1,163.8 501.4,164.4 502.7,164.5 504,163.6 505.3,164.8 506.6,163.9 507.9,164.7 509.2,164.2 510.5,164.3 511.8,163.7 513.1,165.1 514.4,164.5 515.7,164.8 517,164.7 518.3,164.6 519.6,164.4 520.9,164.5 522.2,164.5 523.5,164.4 524.8,164.4 526.1,163.7 527.4,164.2 528.7,164.6 530,164.2 531.3,164.6 532.6,164.3 533.9,163.7 535.2,163.7" fill="none" stroke="#3a3a3a" stroke-width="0.42" /><polyline points="10,166.9 11.3,168 12.6,167.4 13.9,167.2 15.2,167 16.5,167.6 17.8,167.2 19.1,167.3 20.4,167.1 21.7,166.7 23,167.1 24.3,167.1 25.6,167 26.9,167.8 28.2,167.3 29.5,167.2 30.8,166.9 32.1,167.3 33.4,167.7 34.7,167.5 36,167.9 37.3,167.7 38.6,167 39.9,168.3 41.2,168 42.5,167.7 43.8,168 45.1,166.9 46.4,167.2 47.7,167.3 49,167.8 50.3,167.1 51.6,167.2 52.9,167.8 54.2,167.6 55.5,167.3 56.8,168.2 58.1,167 59.4,167.5 60.7,167.2 62,167.6 63.3,167.4 64.6,167.4 65.9,167.7 67.2,167.1 68.5,167.6 69.8,167.2 71.1,164.3 72.4,163.4 73.7,163.8 75,164.3 76.3,165 77.6,163.9 78.9,164.7 80.2,165.1 81.5,164.5 82.8,165.1 84.1,166.1 85.4,165.7 86.7,166 88,166.9 89.3,165.8 90.6,166 91.9,165.7 93.2,166.2 94.5,165.3 95.8,164.9 97.1,159.4 98.4,159.1 99.7,162.8 101,164 102.3,164.5 103.6,165.7 104.9,166 106.2,166.1 107.5,166 108.8,166.3 110.1,166.6 111.4,166.6 112.7,166.4 114,167.4 115.3,167 116.6,167.5 117.9,167.1 119.2,167.2 120.5,166.8 121.8,167.1 123.1,166.9 124.4,166.7 125.7,167.3 127,167.6 128.3,167.7 129.6,167.5 130.9,166.9 132.2,166.6 133.5,166.3 134.8,166.9 136.1,168 137.4,168 138.7,166.1 140,162.8 141.3,163.6 142.6,164.7 143.9,164.5 145.2,165.2 146.5,166.2 147.8,166.5 149.1,166.5 150.4,166.4 151.7,166.6 153,166.7 154.3,166.6 155.6,166.5 156.9,167.3 158.2,167.2 159.5,167.2 160.8,167.7 162.1,167.4 163.4,166.8 164.7,167.4 166,166.6 167.3,167.6 168.6,167.3 169.9,167.1 171.2,167.6 172.5,167.9 173.8,167.3 175.1,167.3 176.4,165 177.7,163 179,164.8 180.3,165 181.6,166 182.9,166.1 184.2,166.9 185.5,166.8 186.8,167 188.1,167.8 189.4,167.3 190.7,166.3 192,166.8 193.3,166.4 194.6,166.4 195.9,166.6 197.2,166.6 198.5,166.9 199.8,166.7 201.1,166.4 202.4,167.2 203.7,167.8 205,166.8 206.3,167.6 207.6,167.5 208.9,167.2 210.2,167.4 211.5,166.9 212.8,166.9 214.1,166.6 215.4,167.3 216.7,167.8 218,167.4 219.3,168.1 220.6,167 221.9,167.3 223.2,167.5 224.5,168.5 225.8,167.9 227.1,168.4 228.4,167.1 229.7,167.8 231,167.7 232.3,167.5 233.6,166.4 234.9,167.4 236.2,167.6 237.5,167.9 238.8,167.6 240.1,166.6 241.4,167.1 242.7,167.6 244,166.8 245.3,167.4 246.6,167 247.9,167 249.2,167.2 250.5,167 251.8,168.4 253.1,167.4 254.4,167.5 255.7,166.9 257,167.3 258.3,167.3 259.6,167.3 260.9,167.1 262.2,167.5 263.5,167.1 264.8,166.3 266.1,166.7 267.4,167.1 268.7,167.1 270,167.2 271.3,166.5 272.6,167.3 273.9,167.3 275.2,167.4 276.5,167.5 277.8,167.8 279.1,167.5 280.4,167.3 281.7,166.6 283,167 284.3,166.7 285.6,166.9 286.9,167 288.2,166.9 289.5,167.4 290.8,167.4 292.1,167.5 293.4,167.4 294.7,167.7 296,167.4 297.3,167.7 298.6,167.5 299.9,167.5 301.2,167 302.5,166.9 303.8,166.8 305.1,168 306.4,167.6 307.7,167.3 309,167.2 310.3,167 311.6,168.2 312.9,166.7 314.2,166.9 315.5,166.8 316.8,166.7 318.1,166.6 319.4,166.8 320.7,167.1 322,167 323.3,167.4 324.6,166.7 325.9,167.2 327.2,167.5 328.5,167.3 329.8,166.6 331.1,165.8 332.4,167.2 333.7,167.2 335,167.1 336.3,167.9 337.6,167.2 338.9,167.5 340.2,167 341.5,167.5 342.8,167.1 344.1,166.9 345.4,167.6 346.7,167.2 348,166.6 349.3,167.5 350.6,167.6 351.9,167 353.2,167.2 354.5,167.4 355.8,167.5 357.1,167.5 358.4,167.6 359.7,167 361,167.6 362.3,166.5 363.6,166.6 364.9,167.7 366.2,168.1 367.5,167.5 368.8,167.7 370.1,167.2 371.4,168 372.7,167.4 374,166.9 375.3,167.3 376.6,167.7 377.9,167.6 379.2,168.1 380.5,167.9 381.8,167.5 383.1,167.2 384.4,167.6 385.7,167.8 387,167.8 388.3,167.6 389.6,167.2 390.9,167.2 392.2,167.5 393.5,167.3 394.8,167 396.1,168.5 397.4,166.4 398.7,165.9 400,166.4 401.3,166.4 402.6,165.7 403.9,166.3 405.2,166 406.5,166.7 407.8,166.9 409.1,167.4 410.4,167.1 411.7,167.3 413,167 414.3,167.1 415.6,166.5 416.9,167.3 418.2,167.1 419.5,166.9 420.8,167.3 422.1,167 423.4,166.9 424.7,167.1 426,167.7 427.3,167.1 428.6,165.7 429.9,163.7 431.2,165 432.5,164.8 433.8,166.1 435.1,164.5 436.4,165.2 437.7,165.6 439,165.4 440.3,166.1 441.6,167.3 442.9,166.5 444.2,167.3 445.5,167 446.8,167.1 448.1,167.3 449.4,167 450.7,167.6 452,166.7 453.3,166.8 454.6,166.9 455.9,166.7 457.2,166.6 458.5,167.3 459.8,166.2 461.1,167.5 462.4,167.5 463.7,167 465,166.9 466.3,167.4 467.6,167.6 468.9,167.9 470.2,167.3 471.5,167.3 472.8,167.1 474.1,167.3 475.4,167.1 476.7,166.7 478,166.9 479.3,167.1 480.6,163.6 481.9,163 483.2,164 484.5,164.5 485.8,164.9 487.1,165.8 488.4,165.4 489.7,165.6 491,166.8 492.3,165.8 493.6,166.1 494.9,165.2 496.2,161.3 497.5,160.7 498.8,162.9 500.1,163.4 501.4,164.2 502.7,165.3 504,165.7 505.3,165.7 506.6,165.9 507.9,166.3 509.2,167.2 510.5,167.3 511.8,167.2 513.1,167.3 514.4,166.8 515.7,167.1 517,167 518.3,166.8 519.6,167.1 520.9,167.6 522.2,167.5 523.5,168.1 524.8,166.9 526.1,167.3 527.4,167.4 528.7,166.6 530,167.3 531.3,166.9 532.6,166.4 533.9,167.2 535.2,166.3" fill="none" stroke="#3a3a3a" stroke-width="0.42" /><polyline points="10,170.5 11.3,170.8 12.6,170.4 13.9,170.5 15.2,171.1 16.5,170.5 17.8,170.4 19.1,170.1 20.4,170.4 21.7,170.6 23,170 24.3,170.1 25.6,169.9 26.9,171.1 28.2,170.5 29.5,170.5 30.8,171.1 32.1,170.3 33.4,169.9 34.7,170.2 36,170.4 37.3,171 38.6,170.4 39.9,170.1 41.2,170.4 42.5,170.9 43.8,168 45.1,168.8 46.4,169.5 47.7,169.9 49,169.2 50.3,170.4 51.6,170.9 52.9,170.1 54.2,170.9 55.5,169.8 56.8,169.5 58.1,170.2 59.4,170.2 60.7,170.5 62,170 63.3,170.5 64.6,166 65.9,164.6 67.2,164.2 68.5,164.9 69.8,165.6 71.1,165.4 72.4,165.9 73.7,166.3 75,166.8 76.3,167.4 77.6,167.8 78.9,168 80.2,168.3 81.5,168 82.8,167.8 84.1,168.8 85.4,168.5 86.7,168.6 88,170.1 89.3,168.7 90.6,169.5 91.9,169.7 93.2,169.3 94.5,170.3 95.8,169.8 97.1,169.4 98.4,170.5 99.7,169.6 101,169.3 102.3,169.5 103.6,169.5 104.9,169.7 106.2,169.7 107.5,169.2 108.8,170 110.1,170.8 111.4,170 112.7,170.2 114,170.3 115.3,170.5 116.6,169.7 117.9,169.7 119.2,170.1 120.5,171 121.8,170.9 123.1,169.5 124.4,166.7 125.7,162.9 127,164.8 128.3,167 129.6,168.2 130.9,169.4 132.2,169.4 133.5,169.5 134.8,170 136.1,169.6 137.4,169.6 138.7,170.4 140,170.9 141.3,169.9 142.6,170.8 143.9,170.6 145.2,170.1 146.5,170.3 147.8,170 149.1,170 150.4,170.3 151.7,169.7 153,170.4 154.3,170.3 155.6,170.5 156.9,169.5 158.2,169.8 159.5,170.9 160.8,170.4 162.1,170.3 163.4,170.2 164.7,169.6 166,169.9 167.3,169.8 168.6,169.8 169.9,170.5 171.2,170.2 172.5,170.9 173.8,169.9 175.1,171.3 176.4,169.6 177.7,170 179,169.2 180.3,169.2 181.6,169.7 182.9,169.9 184.2,166.7 185.5,168 186.8,168.3 188.1,168.2 189.4,168.4 190.7,169.2 192,169.6 193.3,170 194.6,170.3 195.9,170.1 197.2,170.2 198.5,169 199.8,170.9 201.1,170.3 202.4,170.9 203.7,170.8 205,170.7 206.3,170.8 207.6,171.2 208.9,171 210.2,170.5 211.5,170.9 212.8,170.1 214.1,170.6 215.4,170.4 216.7,171 218,170.4 219.3,170.7 220.6,171 221.9,169.6 223.2,171.2 224.5,170.5 225.8,170.3 227.1,169.5 228.4,170.3 229.7,169.3 231,170 232.3,168.3 233.6,166.3 234.9,165.9 236.2,166.9 237.5,167.2 238.8,168.3 240.1,167.9 241.4,168.6 242.7,168 244,168.2 245.3,168.8 246.6,169.1 247.9,169 249.2,169.5 250.5,169.6 251.8,169.4 253.1,169.5 254.4,169.3 255.7,170.3 257,170.3 258.3,169.7 259.6,169.5 260.9,170.4 262.2,170.2 263.5,170 264.8,169.9 266.1,170.1 267.4,171.1 268.7,170.1 270,171.6 271.3,170.5 272.6,170.4 273.9,170.7 275.2,169.9 276.5,170.1 277.8,169.6 279.1,169.5 280.4,170 281.7,170.4 283,169.9 284.3,169.5 285.6,170 286.9,169.8 288.2,170.1 289.5,170 290.8,169.6 292.1,171 293.4,170.2 294.7,170.9 296,171.2 297.3,171.2 298.6,170.7 299.9,170.4 301.2,166.9 302.5,167.1 303.8,167.5 305.1,167.6 306.4,168.5 307.7,168.7 309,169 310.3,169 311.6,169.8 312.9,169.5 314.2,170.2 315.5,169.9 316.8,169.5 318.1,169.5 319.4,169.8 320.7,170.2 322,170.7 323.3,170.3 324.6,170.2 325.9,170.3 327.2,170.9 328.5,170.2 329.8,169.9 331.1,170.4 332.4,169.8 333.7,170.4 335,170.3 336.3,170.1 337.6,169.7 338.9,170.3 340.2,170.6 341.5,169.8 342.8,170.3 344.1,170.6 345.4,171.4 346.7,170.2 348,170 349.3,170.5 350.6,171.2 351.9,170.4 353.2,170.4 354.5,171.1 355.8,169.8 357.1,169.7 358.4,171 359.7,170.8 361,170 362.3,170.7 363.6,170.3 364.9,170.4 366.2,169.9 367.5,170.1 368.8,170.1 370.1,170.7 371.4,170.8 372.7,171.5 374,171.1 375.3,170.2 376.6,170.9 377.9,171.2 379.2,168.7 380.5,169.5 381.8,169.7 383.1,170.5 384.4,170 385.7,170.7 387,169.6 388.3,170.6 389.6,169.4 390.9,169.2 392.2,170.2 393.5,169.9 394.8,169.9 396.1,170 397.4,170.1 398.7,169.9 400,170.2 401.3,170.3 402.6,170.3 403.9,171 405.2,170.1 406.5,170.5 407.8,170.6 409.1,170.2 410.4,169.9 411.7,170.2 413,170.8 414.3,170.2 415.6,170.4 416.9,169.9 418.2,170.5 419.5,170.4 420.8,170.5 422.1,170.9 423.4,170.8 424.7,171.1 426,170.1 427.3,170.9 428.6,171.3 429.9,171.4 431.2,170.8 432.5,170.4 433.8,170.5 435.1,170.5 436.4,170 437.7,170.2 439,170.2 440.3,169.5 441.6,169.7 442.9,169.6 444.2,169.7 445.5,170.3 446.8,170.5 448.1,171.5 449.4,170.7 450.7,170.3 452,170.9 453.3,170.2 454.6,170.9 455.9,171.1 457.2,171.1 458.5,170.8 459.8,170.3 461.1,169.9 462.4,170.2 463.7,170.1 465,170.6 466.3,170.6 467.6,170.8 468.9,170.1 470.2,171 471.5,170.2 472.8,169.9 474.1,169.9 475.4,170.2 476.7,170.9 478,170.9 479.3,170.1 480.6,170.6 481.9,170.5 483.2,169.9 484.5,170.2 485.8,169.7 487.1,170 488.4,169.6 489.7,170.3 491,170.2 492.3,170.2 493.6,170 494.9,170.9 496.2,170.3 497.5,170.4 498.8,170.5 500.1,170.3 501.4,170.5 502.7,169.9 504,169.6 505.3,169.7 506.6,169.6 507.9,170.1 509.2,170.3 510.5,171 511.8,170.7 513.1,171.1 514.4,170.7 515.7,169.9 517,170.2 518.3,169 519.6,170.5 520.9,170.4 522.2,170.4 523.5,169.9 524.8,171.5 526.1,170.6 527.4,170.8 528.7,171.2 530,170.6 531.3,170.5 532.6,170.8 533.9,170.2 535.2,170.8" fill="none" stroke="#3a3a3a" stroke-width="0.42" /><polyline points="10,173.5 11.3,173.6 12.6,173 13.9,173.8 15.2,174.2 16.5,173.4 17.8,173.4 19.1,173.6 20.4,174.1 21.7,174.1 23,173.8 24.3,173.9 25.6,174 26.9,173.5 28.2,174.2 29.5,173.6 30.8,173 32.1,173.1 33.4,173.4 34.7,173.3 36,173.5 37.3,173.5 38.6,174 39.9,173.9 41.2,174.2 42.5,173.3 43.8,173.3 45.1,173.6 46.4,173.5 47.7,173.7 49,173.7 50.3,173.3 51.6,174.1 52.9,173.8 54.2,172.7 55.5,173.1 56.8,173.3 58.1,173.6 59.4,173.5 60.7,173.1 62,173.9 63.3,173.7 64.6,174 65.9,173.6 67.2,173.9 68.5,171.4 69.8,170.1 71.1,169.7 72.4,170.5 73.7,170.5 75,170.4 76.3,171 77.6,171.4 78.9,172.2 80.2,172.5 81.5,172 82.8,172.8 84.1,172.3 85.4,172.1 86.7,172.9 88,172.6 89.3,172.4 90.6,173.2 91.9,173.4 93.2,172.5 94.5,172.4 95.8,169 97.1,168.2 98.4,170.6 99.7,170.7 101,171.3 102.3,170.9 103.6,172.1 104.9,171.9 106.2,172.6 107.5,171.9 108.8,173 110.1,173.2 111.4,173.4 112.7,171.8 114,173.2 115.3,173.3 116.6,172.3 117.9,173.2 119.2,173.3 120.5,173.7 121.8,172.9 123.1,173.3 124.4,173.4 125.7,173.6 127,173.1 128.3,173.4 129.6,173.4 130.9,172.5 132.2,173.6 133.5,173.2 134.8,173.3 136.1,174 137.4,173.4 138.7,173.7 140,173.6 141.3,173.4 142.6,171.7 143.9,171.9 145.2,173.1 146.5,173.4 147.8,173.4 149.1,173.3 150.4,173.8 151.7,173.9 153,173.4 154.3,173.8 155.6,173.8 156.9,173.6 158.2,173.1 159.5,173.1 160.8,173.7 162.1,173.5 163.4,173.4 164.7,173.9 166,173.6 167.3,174 168.6,173.5 169.9,174 171.2,173.7 172.5,174.3 173.8,173.2 175.1,173.1 176.4,173.7 177.7,173.1 179,173.4 180.3,173.7 181.6,173.7 182.9,172.9 184.2,173.3 185.5,173.4 186.8,173.3 188.1,173.4 189.4,173.1 190.7,173.4 192,173.4 193.3,173.3 194.6,173.6 195.9,174 197.2,174 198.5,174.1 199.8,173.7 201.1,173.4 202.4,173.9 203.7,172.9 205,173.6 206.3,173.7 207.6,173.3 208.9,173.2 210.2,173.8 211.5,173.2 212.8,173.4 214.1,173.1 215.4,174.1 216.7,173.6 218,173.3 219.3,173.4 220.6,173.3 221.9,173.4 223.2,167.7 224.5,167.6 225.8,167.8 227.1,169.8 228.4,170.4 229.7,170.8 231,172 232.3,170.7 233.6,170.1 234.9,172.5 236.2,172.5 237.5,172.1 238.8,172.9 240.1,173.3 241.4,172.7 242.7,173.4 244,173.9 245.3,173.8 246.6,173.5 247.9,173.5 249.2,173.1 250.5,173.4 251.8,173.2 253.1,173.2 254.4,173 255.7,174.4 257,173.9 258.3,173.6 259.6,173.6 260.9,174.3 262.2,174.4 263.5,173.4 264.8,173.6 266.1,173.6 267.4,173.2 268.7,173.1 270,173.3 271.3,173.8 272.6,173.4 273.9,173.2 275.2,173.4 276.5,173.7 277.8,173.6 279.1,173.1 280.4,174.1 281.7,173.2 283,173.5 284.3,172.7 285.6,173.8 286.9,173.6 288.2,173.1 289.5,173.6 290.8,174.3 292.1,174 293.4,173.9 294.7,174.3 296,173.2 297.3,173.3 298.6,172.9 299.9,173.1 301.2,173.3 302.5,173.6 303.8,173.8 305.1,173.7 306.4,174.5 307.7,173.3 309,173.3 310.3,173.5 311.6,173 312.9,173.3 314.2,173.6 315.5,173.3 316.8,173.7 318.1,173.9 319.4,173.2 320.7,172.6 322,173.5 323.3,173.2 324.6,173.5 325.9,173.3 327.2,173.4 328.5,173.7 329.8,173.8 331.1,173.3 332.4,173 333.7,172.6 335,172.3 336.3,172.5 337.6,173.3 338.9,173.3 340.2,173.4 341.5,173.1 342.8,172.8 344.1,172.8 345.4,173.6 346.7,172.8 348,173.8 349.3,173.2 350.6,173.6 351.9,173.4 353.2,173.6 354.5,173.9 355.8,173 357.1,173 358.4,173.2 359.7,173.2 361,174.1 362.3,173.8 363.6,173.7 364.9,173.7 366.2,173.4 367.5,173.7 368.8,172.6 370.1,173.4 371.4,173.3 372.7,173 374,172.9 375.3,173.5 376.6,173.2 377.9,172.6 379.2,172.8 380.5,173.6 381.8,172.7 383.1,173.5 384.4,173.6 385.7,173.2 387,173.7 388.3,173.2 389.6,173.5 390.9,173.5 392.2,173.9 393.5,173.4 394.8,173.8 396.1,173.7 397.4,173.8 398.7,172.7 400,172.7 401.3,173.2 402.6,173.6 403.9,174 405.2,173.7 406.5,173.4 407.8,173 409.1,173.1 410.4,172.8 411.7,173.6 413,173.7 414.3,173.7 415.6,173.3 416.9,173.8 418.2,174.1 419.5,173 420.8,172.6 422.1,173.6 423.4,173.6 424.7,173.5 426,173.3 427.3,174.2 428.6,173 429.9,172.7 431.2,172.9 432.5,173.2 433.8,173.1 435.1,172.5 436.4,172.7 437.7,173.2 439,173.4 440.3,173.4 441.6,173.1 442.9,173.2 444.2,172.9 445.5,173.9 446.8,173 448.1,173.3 449.4,172.9 450.7,173.2 452,172.9 453.3,174 454.6,173.2 455.9,173.3 457.2,170.3 458.5,165.1 459.8,167.6 461.1,163.7 462.4,165.6 463.7,166.7 465,168.3 466.3,169.4 467.6,170.1 468.9,171.1 470.2,170.9 471.5,171.8 472.8,172.3 474.1,172.2 475.4,172.5 476.7,172.3 478,172.5 479.3,172.7 480.6,172.5 481.9,172.3 483.2,173.1 484.5,173.5 485.8,173.7 487.1,173.5 488.4,173.7 489.7,170.9 491,168.7 492.3,170 493.6,170.4 494.9,171.5 496.2,172 497.5,171.9 498.8,173.1 500.1,173.5 501.4,172.9 502.7,172.3 504,173.1 505.3,172.4 506.6,173 507.9,173.4 509.2,173.1 510.5,172.7 511.8,173.1 513.1,173.1 514.4,172.5 515.7,172.7 517,173.4 518.3,173 519.6,173.1 520.9,173.3 522.2,173.7 523.5,174 524.8,174 526.1,173.4 527.4,173.8 528.7,173.6 530,173.9 531.3,174.3 532.6,173.8 533.9,173.5 535.2,173.1" fill="none" stroke="#3a3a3a" stroke-width="0.42" /><polyline points="10,176.9 11.3,176.7 12.6,177.3 13.9,176.4 15.2,176.8 16.5,176.4 17.8,177 19.1,176.8 20.4,176.3 21.7,175.9 23,175.8 24.3,175.9 25.6,177.1 26.9,176.9 28.2,177.2 29.5,176.5 30.8,176.9 32.1,176.5 33.4,176.8 34.7,177.1 36,175.7 37.3,176.8 38.6,176.7 39.9,176.6 41.2,176.5 42.5,176.5 43.8,176.8 45.1,176.5 46.4,176.3 47.7,176.5 49,176.9 50.3,176.6 51.6,176.3 52.9,176.6 54.2,176.1 55.5,176.3 56.8,176 58.1,176.4 59.4,177.1 60.7,176.6 62,176.3 63.3,177 64.6,176.7 65.9,176.5 67.2,176.8 68.5,176.9 69.8,176.5 71.1,176.1 72.4,174.3 73.7,171.4 75,171.4 76.3,172.5 77.6,173 78.9,172.7 80.2,174.4 81.5,173.9 82.8,175.3 84.1,175 85.4,174.8 86.7,175.6 88,175.8 89.3,175.5 90.6,175.8 91.9,175.6 93.2,176 94.5,175.4 95.8,175.9 97.1,175.5 98.4,176.5 99.7,175.3 101,176 102.3,176.4 103.6,176.4 104.9,176.8 106.2,176.5 107.5,176.7 108.8,175.9 110.1,176.3 111.4,176.6 112.7,176.6 114,176.4 115.3,176.9 116.6,176.7 117.9,177 119.2,176.8 120.5,176.7 121.8,176.4 123.1,175.8 124.4,176.7 125.7,176.4 127,177.1 128.3,175.6 129.6,176.9 130.9,176.6 132.2,177.1 133.5,176.7 134.8,177 136.1,176.7 137.4,176.9 138.7,176.8 140,176.9 141.3,177.1 142.6,176.8 143.9,176.5 145.2,176.8 146.5,176.4 147.8,176.4 149.1,176.4 150.4,176.3 151.7,175.7 153,177 154.3,176 155.6,176.5 156.9,176.8 158.2,175.9 159.5,177 160.8,176.8 162.1,177.2 163.4,176.6 164.7,177 166,176.8 167.3,177.1 168.6,177.2 169.9,176.5 171.2,176.4 172.5,177.3 173.8,176.6 175.1,176.6 176.4,176.8 177.7,176.9 179,176.9 180.3,176.4 181.6,176.3 182.9,176.8 184.2,176.9 185.5,176.4 186.8,176.6 188.1,176.5 189.4,176.7 190.7,176.3 192,176.4 193.3,176.4 194.6,176.4 195.9,176.7 197.2,176.6 198.5,176.1 199.8,176.4 201.1,176.3 202.4,176.1 203.7,176.4 205,176.2 206.3,176.7 207.6,177.1 208.9,176.7 210.2,176.8 211.5,176.6 212.8,177.1 214.1,176.7 215.4,175.9 216.7,176.4 218,176.4 219.3,176.4 220.6,175.7 221.9,176.3 223.2,175.8 224.5,176.2 225.8,177.4 227.1,172.9 228.4,171.9 229.7,171.9 231,172.1 232.3,172.1 233.6,172.7 234.9,173.4 236.2,173.2 237.5,174.1 238.8,174.1 240.1,174.2 241.4,175.1 242.7,174.8 244,174.9 245.3,175.5 246.6,175.6 247.9,175.2 249.2,175.7 250.5,175.6 251.8,175.3 253.1,176.3 254.4,175.9 255.7,175 257,175 258.3,174.1 259.6,175.6 260.9,175.7 262.2,173.6 263.5,174.1 264.8,174.6 266.1,175.1 267.4,175.8 268.7,175.8 270,176.3 271.3,176.1 272.6,176.5 273.9,176.6 275.2,176.7 276.5,176.1 277.8,177.1 279.1,176.3 280.4,176.8 281.7,176.1 283,176.3 284.3,176.5 285.6,177 286.9,176.3 288.2,176.5 289.5,175.7 290.8,176.1 292.1,176.5 293.4,176.2 294.7,175.8 296,176.6 297.3,176.1 298.6,177.2 299.9,176.4 301.2,176.8 302.5,173.7 303.8,173.6 305.1,174 306.4,174.5 307.7,175 309,174.4 310.3,175.6 311.6,175.1 312.9,175.6 314.2,174.8 315.5,176.1 316.8,176.3 318.1,176.3 319.4,176.4 320.7,176.4 322,176.7 323.3,177.3 324.6,176.4 325.9,176.4 327.2,176.4 328.5,176.1 329.8,176.7 331.1,176.9 332.4,176.6 333.7,177.7 335,176.4 336.3,177.3 337.6,177.1 338.9,175.8 340.2,177 341.5,177 342.8,177.1 344.1,176.5 345.4,176.8 346.7,176.3 348,176.1 349.3,176.4 350.6,176.5 351.9,176.9 353.2,176.5 354.5,176.6 355.8,175.9 357.1,176 358.4,176.4 359.7,177.4 361,176.2 362.3,175.9 363.6,176.3 364.9,176.7 366.2,176 367.5,176.9 368.8,176.7 370.1,177.6 371.4,177 372.7,176.5 374,176.2 375.3,176.3 376.6,176.6 377.9,176.4 379.2,176.4 380.5,176.3 381.8,176.5 383.1,172.9 384.4,173.4 385.7,172.8 387,174.3 388.3,174.8 389.6,175.5 390.9,175.4 392.2,175.4 393.5,175.7 394.8,176.4 396.1,175.8 397.4,175.7 398.7,175.7 400,176.1 401.3,176.2 402.6,176 403.9,176.3 405.2,176.9 406.5,177 407.8,176.3 409.1,176.2 410.4,176.8 411.7,176.2 413,175.7 414.3,176.1 415.6,176.6 416.9,176.8 418.2,176.3 419.5,176.6 420.8,176.2 422.1,177 423.4,176.8 424.7,176.9 426,176.5 427.3,176.6 428.6,176.5 429.9,175.3 431.2,176.8 432.5,176.5 433.8,176.4 435.1,176.1 436.4,176.5 437.7,176.7 439,176.1 440.3,176.6 441.6,176.4 442.9,176.1 444.2,175.6 445.5,176.1 446.8,175.7 448.1,176.4 449.4,176.8 450.7,176.6 452,176.3 453.3,176.1 454.6,175.9 455.9,176.4 457.2,176 458.5,176.2 459.8,175.7 461.1,176.3 462.4,176.3 463.7,176.5 465,177.3 466.3,176.4 467.6,176.5 468.9,177.1 470.2,176.5 471.5,176.7 472.8,177 474.1,176.8 475.4,176.5 476.7,177.1 478,177.1 479.3,176.2 480.6,176.4 481.9,176.9 483.2,176.4 484.5,176.2 485.8,176.4 487.1,176.7 488.4,176.4 489.7,176.7 491,177 492.3,176.6 493.6,176.9 494.9,176.6 496.2,173 497.5,171.5 498.8,171.6 500.1,173.2 501.4,173.8 502.7,174.8 504,174.8 505.3,175.9 506.6,175.8 507.9,175.5 509.2,176.2 510.5,175.5 511.8,175.5 513.1,175.8 514.4,175.8 515.7,176.2 517,176.3 518.3,176.5 519.6,176.5 520.9,176.2 522.2,176.4 523.5,176.6 524.8,176.1 526.1,176.6 527.4,176.5 528.7,176.5 530,176.9 531.3,177 532.6,176.9 533.9,176 535.2,176.7" fill="none" stroke="#3a3a3a" stroke-width="0.42" /><polyline points="10,180 11.3,179 12.6,180.2 13.9,180.4 15.2,180.3 16.5,179.6 17.8,180.2 19.1,179.9 20.4,180.2 21.7,179.5 23,179.8 24.3,179.4 25.6,179.7 26.9,179.3 28.2,177.8 29.5,176.9 30.8,177.4 32.1,178 33.4,178.5 34.7,178.9 36,179.6 37.3,179.5 38.6,179.7 39.9,179.7 41.2,179.4 42.5,179.3 43.8,178.8 45.1,179.6 46.4,179.7 47.7,179 49,180 50.3,178.9 51.6,179.6 52.9,179.5 54.2,179.6 55.5,179.9 56.8,179.8 58.1,179.6 59.4,179.2 60.7,177.5 62,177.8 63.3,178.8 64.6,179.1 65.9,179 67.2,179.3 68.5,179.3 69.8,179.9 71.1,173.3 72.4,173.8 73.7,174.6 75,175 76.3,175.6 77.6,177.1 78.9,176.1 80.2,175.5 81.5,176.7 82.8,177.6 84.1,178 85.4,179 86.7,178.5 88,178.5 89.3,178.8 90.6,178.5 91.9,179 93.2,179.6 94.5,180.1 95.8,179.8 97.1,179.6 98.4,179.4 99.7,179.2 101,180.1 102.3,179.8 103.6,179.4 104.9,179.4 106.2,179.2 107.5,177 108.8,176.8 110.1,177.7 111.4,178.8 112.7,178.7 114,178.9 115.3,178.4 116.6,178.2 117.9,178.5 119.2,178.7 120.5,179.7 121.8,179.9 123.1,179.7 124.4,180 125.7,179.8 127,179.6 128.3,178.9 129.6,180 130.9,180 132.2,179.2 133.5,180 134.8,179.3 136.1,179 137.4,179.2 138.7,178.9 140,179.5 141.3,179.3 142.6,180.4 143.9,180 145.2,179.3 146.5,179.8 147.8,179 149.1,179.6 150.4,179.5 151.7,179.4 153,179 154.3,179.2 155.6,179.4 156.9,179.5 158.2,180.1 159.5,180.4 160.8,180.4 162.1,179.8 163.4,179.7 164.7,180 166,180 167.3,179 168.6,179.4 169.9,180.3 171.2,179.2 172.5,179.3 173.8,179.3 175.1,179.8 176.4,179.6 177.7,179.3 179,179.1 180.3,180 181.6,180 182.9,179.9 184.2,179.9 185.5,180.1 186.8,179.3 188.1,179 189.4,179.3 190.7,179.1 192,178.2 193.3,179.3 194.6,180 195.9,179.7 197.2,180.2 198.5,179 199.8,179.8 201.1,180.2 202.4,180.2 203.7,179.3 205,179.2 206.3,179.8 207.6,179.2 208.9,179.6 210.2,179.2 211.5,179.8 212.8,179.9 214.1,180.5 215.4,179.8 216.7,179.2 218,179.2 219.3,178.8 220.6,179.5 221.9,179.5 223.2,179.8 224.5,179.9 225.8,178.8 227.1,179.7 228.4,179.9 229.7,179 231,180.3 232.3,179.2 233.6,180.5 234.9,180.1 236.2,179.8 237.5,179.7 238.8,180 240.1,179.1 241.4,179.4 242.7,178.8 244,179.5 245.3,179.2 246.6,179.7 247.9,179.9 249.2,179.5 250.5,180.1 251.8,180 253.1,180 254.4,180.1 255.7,180 257,180.1 258.3,180.3 259.6,179.4 260.9,179.3 262.2,179.3 263.5,180.1 264.8,179.8 266.1,180.7 267.4,178.9 268.7,179.9 270,179.8 271.3,180 272.6,180.5 273.9,179.7 275.2,179.2 276.5,179.8 277.8,180 279.1,178.5 280.4,179.7 281.7,179.6 283,179.2 284.3,179.2 285.6,179.4 286.9,179.6 288.2,179.6 289.5,179.6 290.8,180.1 292.1,179.7 293.4,179.8 294.7,175.5 296,175.1 297.3,175.7 298.6,176.4 299.9,177.3 301.2,177.2 302.5,178.3 303.8,178.6 305.1,178.5 306.4,178.6 307.7,177.6 309,178.6 310.3,178.7 311.6,178.3 312.9,179.6 314.2,179.7 315.5,180 316.8,179.6 318.1,179.9 319.4,179.5 320.7,179.5 322,179.8 323.3,180 324.6,179 325.9,179.6 327.2,179.5 328.5,179 329.8,179.8 331.1,179.5 332.4,178.7 333.7,179.1 335,179.9 336.3,179.6 337.6,179.8 338.9,179.2 340.2,179.9 341.5,180.5 342.8,179.8 344.1,179.7 345.4,180.2 346.7,179.7 348,179.9 349.3,179.8 350.6,180.1 351.9,177.7 353.2,177.1 354.5,176.8 355.8,178.6 357.1,178.3 358.4,178.6 359.7,178.5 361,178.4 362.3,177.8 363.6,179.5 364.9,179.1 366.2,179.4 367.5,178.9 368.8,179.3 370.1,179.5 371.4,179.5 372.7,179.7 374,179.3 375.3,179.8 376.6,180 377.9,179.7 379.2,179.8 380.5,179.7 381.8,179.3 383.1,180.1 384.4,179.5 385.7,179.3 387,179.9 388.3,178.9 389.6,179.3 390.9,179.8 392.2,179.9 393.5,179.5 394.8,179.6 396.1,179.6 397.4,179.5 398.7,179.5 400,180.2 401.3,180.2 402.6,180.2 403.9,180.3 405.2,179.8 406.5,179.3 407.8,179.6 409.1,180.3 410.4,179.3 411.7,179.5 413,179.2 414.3,179.6 415.6,179.1 416.9,179.8 418.2,180 419.5,179.4 420.8,179.4 422.1,179.1 423.4,179.4 424.7,179.3 426,179.5 427.3,179.6 428.6,179.6 429.9,180 431.2,180.3 432.5,179 433.8,179.5 435.1,179.8 436.4,179.2 437.7,179.5 439,179.6 440.3,180.1 441.6,180.1 442.9,179.5 444.2,179.7 445.5,179.5 446.8,179.4 448.1,179.2 449.4,179.1 450.7,179.3 452,179.8 453.3,179.5 454.6,178.6 455.9,179.6 457.2,179.3 458.5,179.7 459.8,179.1 461.1,179.7 462.4,179.5 463.7,180 465,180.2 466.3,179.3 467.6,180 468.9,180.5 470.2,179.8 471.5,180 472.8,179.7 474.1,179.5 475.4,180 476.7,180.3 478,180.2 479.3,180.2 480.6,179.3 481.9,180.1 483.2,179.4 484.5,179.7 485.8,179.6 487.1,179.9 488.4,179.7 489.7,180.3 491,179.5 492.3,180 493.6,179.9 494.9,179.6 496.2,179.2 497.5,179.7 498.8,179.7 500.1,179.8 501.4,179.6 502.7,179.7 504,179.9 505.3,180 506.6,180.1 507.9,180.6 509.2,179.6 510.5,180.6 511.8,178.8 513.1,179.8 514.4,178 515.7,179.2 517,178.5 518.3,179.6 519.6,179.2 520.9,179.1 522.2,179.8 523.5,179.8 524.8,179.2 526.1,180.4 527.4,179.4 528.7,180.2 530,179.5 531.3,179.6 532.6,180 533.9,179.6 535.2,179.8" fill="none" stroke="#3a3a3a" stroke-width="0.42" /><polyline points="10,182.3 11.3,182.8 12.6,182.5 13.9,182.1 15.2,182.7 16.5,182.8 17.8,182.9 19.1,183.3 20.4,182.6 21.7,183.9 23,183.3 24.3,182.8 25.6,182 26.9,183.2 28.2,182.7 29.5,182.5 30.8,182.2 32.1,182 33.4,181.9 34.7,183.5 36,183.2 37.3,182.4 38.6,183.3 39.9,181.8 41.2,182.6 42.5,182.8 43.8,182.3 45.1,182.6 46.4,182.5 47.7,182.8 49,183.4 50.3,183.3 51.6,183 52.9,183.4 54.2,182.3 55.5,183.8 56.8,183 58.1,182.4 59.4,182.8 60.7,182.7 62,183.1 63.3,183.3 64.6,182.3 65.9,183.5 67.2,180.2 68.5,179 69.8,180.1 71.1,180.3 72.4,180.6 73.7,181 75,180.2 76.3,181.4 77.6,181 78.9,182.4 80.2,181.2 81.5,180.9 82.8,181.6 84.1,181.8 85.4,181.5 86.7,181.7 88,182 89.3,182.3 90.6,180.6 91.9,180.3 93.2,180.7 94.5,181.1 95.8,181.7 97.1,181.3 98.4,182.1 99.7,181.9 101,182.1 102.3,182.1 103.6,182 104.9,182.6 106.2,182.8 107.5,182.7 108.8,182.9 110.1,182.4 111.4,182.9 112.7,182.5 114,182.7 115.3,182.6 116.6,182.2 117.9,182.7 119.2,182.8 120.5,183 121.8,182.4 123.1,181.9 124.4,182 125.7,182.2 127,182.3 128.3,182.1 129.6,182.6 130.9,182.8 132.2,182.1 133.5,182 134.8,182.5 136.1,182.7 137.4,182.2 138.7,182.2 140,181.6 141.3,183 142.6,182.6 143.9,183.2 145.2,182.6 146.5,182.7 147.8,182.5 149.1,182.1 150.4,183.9 151.7,182.5 153,183.1 154.3,182.9 155.6,182.8 156.9,183.1 158.2,182 159.5,182.5 160.8,182.9 162.1,183 163.4,183 164.7,182.5 166,182.2 167.3,182.3 168.6,182.8 169.9,182.1 171.2,181.7 172.5,182.2 173.8,181.9 175.1,182 176.4,182.1 177.7,182.1 179,182.8 180.3,182.3 181.6,182.7 182.9,183.4 184.2,182.2 185.5,182.8 186.8,182.8 188.1,182.9 189.4,182.8 190.7,182.8 192,183.5 193.3,182.1 194.6,182.4 195.9,183.2 197.2,182.9 198.5,182.3 199.8,182.5 201.1,182.5 202.4,183.5 203.7,182.9 205,182.1 206.3,182.7 207.6,182.5 208.9,183.4 210.2,182.9 211.5,183.2 212.8,182.9 214.1,183.2 215.4,182.7 216.7,182.8 218,182.2 219.3,182.6 220.6,182.8 221.9,182.4 223.2,183.6 224.5,183 225.8,182.6 227.1,183.3 228.4,181.1 229.7,179.3 231,179.6 232.3,179.7 233.6,180.3 234.9,180.3 236.2,180.7 237.5,180.4 238.8,180.2 240.1,180.5 241.4,180.8 242.7,181 244,181.5 245.3,181.8 246.6,181.5 247.9,182.1 249.2,181.5 250.5,182 251.8,183.3 253.1,182.9 254.4,182.3 255.7,182.8 257,182.8 258.3,182.6 259.6,182.8 260.9,182.2 262.2,182.2 263.5,182 264.8,182.6 266.1,182 267.4,182.2 268.7,182.7 270,182.5 271.3,182.8 272.6,183.4 273.9,182.3 275.2,183 276.5,182.2 277.8,182.3 279.1,182.8 280.4,183.4 281.7,182.7 283,182.4 284.3,182.3 285.6,182.3 286.9,182.5 288.2,182.3 289.5,182.7 290.8,182.7 292.1,182.5 293.4,183.2 294.7,182.5 296,182.4 297.3,183.5 298.6,183.2 299.9,182.6 301.2,183 302.5,182.7 303.8,182.4 305.1,182.8 306.4,182.6 307.7,183.2 309,182.2 310.3,183.4 311.6,183.2 312.9,182.9 314.2,182.8 315.5,182.8 316.8,182.2 318.1,182.7 319.4,183.3 320.7,182.4 322,182.8 323.3,181.9 324.6,182.7 325.9,182.8 327.2,182.7 328.5,182.6 329.8,181.9 331.1,182.9 332.4,182.7 333.7,183.2 335,183.2 336.3,182.8 337.6,183.4 338.9,182.5 340.2,182.9 341.5,182.7 342.8,182.4 344.1,183.2 345.4,183 346.7,182.8 348,182.9 349.3,182.9 350.6,182.8 351.9,182.5 353.2,182.3 354.5,181.8 355.8,182.7 357.1,183.1 358.4,183.3 359.7,183 361,183.4 362.3,183.1 363.6,182.6 364.9,182.3 366.2,182.7 367.5,182.3 368.8,182.3 370.1,182.9 371.4,182.9 372.7,182.9 374,182.2 375.3,182.9 376.6,183.3 377.9,182.6 379.2,183.1 380.5,182.8 381.8,181.8 383.1,183.2 384.4,182.3 385.7,182.6 387,183.3 388.3,181.9 389.6,182.8 390.9,182.5 392.2,182.4 393.5,182.4 394.8,183.2 396.1,182.4 397.4,183 398.7,182.9 400,182.6 401.3,182.4 402.6,182.7 403.9,183 405.2,182.8 406.5,182.5 407.8,181.8 409.1,182.3 410.4,182.4 411.7,182.4 413,183 414.3,181.8 415.6,183.2 416.9,182.2 418.2,181.8 419.5,181.7 420.8,182.7 422.1,182.4 423.4,182.2 424.7,182.4 426,182.5 427.3,182.5 428.6,183.1 429.9,182.7 431.2,182.5 432.5,181.8 433.8,182.9 435.1,182.1 436.4,182 437.7,182.8 439,182.6 440.3,182 441.6,181.9 442.9,182.6 444.2,182.2 445.5,182.6 446.8,183.7 448.1,183.7 449.4,182.7 450.7,183 452,182.9 453.3,182.6 454.6,182.2 455.9,182.9 457.2,182.6 458.5,182.9 459.8,183 461.1,182.7 462.4,183.6 463.7,182.7 465,182.6 466.3,182.1 467.6,182.6 468.9,178.7 470.2,178.2 471.5,179.5 472.8,179.7 474.1,180 475.4,180.5 476.7,181.2 478,181.8 479.3,182.1 480.6,181.8 481.9,182.1 483.2,182.3 484.5,182.7 485.8,182.7 487.1,182.1 488.4,181.8 489.7,182.7 491,182.5 492.3,182.3 493.6,183.3 494.9,182.6 496.2,182.7 497.5,183.1 498.8,182.3 500.1,182.4 501.4,182.1 502.7,182.9 504,182.8 505.3,183.1 506.6,183 507.9,182.6 509.2,183.3 510.5,182.3 511.8,182.9 513.1,183 514.4,182.8 515.7,183.3 517,182.8 518.3,183.3 519.6,183 520.9,182.8 522.2,183.4 523.5,183.2 524.8,182.7 526.1,182.5 527.4,182.3 528.7,182.5 530,182.4 531.3,182.7 532.6,182.5 533.9,182.9 535.2,182.6" fill="none" stroke="#3a3a3a" stroke-width="0.42" /><polyline points="10,185.8 11.3,185.4 12.6,185.9 13.9,185.4 15.2,185.4 16.5,185.8 17.8,186.1 19.1,185.2 20.4,185.7 21.7,186 23,185.8 24.3,185.7 25.6,186.6 26.9,185.5 28.2,186.1 29.5,185.7 30.8,185.9 32.1,185.1 33.4,186.2 34.7,185.9 36,185.6 37.3,186.3 38.6,185.6 39.9,185.3 41.2,185.2 42.5,185.8 43.8,185.6 45.1,185.8 46.4,185.5 47.7,185.8 49,186.1 50.3,185.8 51.6,185.1 52.9,185.6 54.2,186.1 55.5,187 56.8,185.7 58.1,185.3 59.4,186.2 60.7,185.6 62,185.2 63.3,185.9 64.6,185.7 65.9,185.6 67.2,185.4 68.5,186 69.8,185.9 71.1,180.7 72.4,181.5 73.7,181.1 75,182.5 76.3,182.6 77.6,182.6 78.9,183.1 80.2,183.1 81.5,183.6 82.8,184.5 84.1,184 85.4,184.6 86.7,184.5 88,184.9 89.3,185.4 90.6,184.9 91.9,185.2 93.2,184.5 94.5,185.1 95.8,185.4 97.1,185.8 98.4,185.8 99.7,184.9 101,185.2 102.3,185.4 103.6,184.8 104.9,185.6 106.2,185.9 107.5,185.8 108.8,185.1 110.1,185.4 111.4,185.2 112.7,185.5 114,185.7 115.3,186 116.6,185.6 117.9,185.2 119.2,185.8 120.5,185.8 121.8,185.5 123.1,184.3 124.4,184.6 125.7,184.5 127,185.2 128.3,185.5 129.6,186 130.9,185.4 132.2,185.3 133.5,185.4 134.8,185.7 136.1,185.9 137.4,183.2 138.7,178.3 140,179.4 141.3,179.7 142.6,182.2 143.9,182.2 145.2,183.4 146.5,183.8 147.8,184 149.1,184.3 150.4,184.5 151.7,184.7 153,184.7 154.3,184.7 155.6,184.9 156.9,185.1 158.2,185.7 159.5,185.3 160.8,186.2 162.1,185.8 163.4,185.6 164.7,186.2 166,185.5 167.3,185.5 168.6,185.8 169.9,185.7 171.2,185.3 172.5,186.7 173.8,185.9 175.1,185.2 176.4,185.4 177.7,185.8 179,185.7 180.3,186.1 181.6,186.7 182.9,185.9 184.2,186.4 185.5,185.7 186.8,185.3 188.1,186.4 189.4,185.7 190.7,186.3 192,186.3 193.3,185.8 194.6,185.5 195.9,186 197.2,186.3 198.5,186.4 199.8,186.1 201.1,186.4 202.4,185.8 203.7,185.4 205,185.5 206.3,185.8 207.6,185.6 208.9,185.6 210.2,185.9 211.5,185.9 212.8,186.1 214.1,185.8 215.4,185.8 216.7,185.5 218,185.5 219.3,185.7 220.6,185.8 221.9,185.5 223.2,185.4 224.5,182.3 225.8,179.2 227.1,180.3 228.4,181 229.7,181.6 231,183 232.3,183.1 233.6,184 234.9,183.3 236.2,184.5 237.5,185 238.8,184 240.1,184.6 241.4,184.8 242.7,185.1 244,184.7 245.3,185.6 246.6,185.8 247.9,185.3 249.2,184.9 250.5,185.5 251.8,185.6 253.1,185.9 254.4,185.4 255.7,184.9 257,185.7 258.3,185.8 259.6,186 260.9,185.8 262.2,186.1 263.5,185.9 264.8,185.1 266.1,186 267.4,186.2 268.7,186.1 270,186.5 271.3,185.8 272.6,186.1 273.9,185 275.2,185.5 276.5,185.5 277.8,185.3 279.1,185.3 280.4,186.1 281.7,186 283,185.8 284.3,185.5 285.6,185.5 286.9,186 288.2,185.4 289.5,186.3 290.8,185.4 292.1,185.9 293.4,186 294.7,186.2 296,185.5 297.3,185.5 298.6,185.2 299.9,186.1 301.2,185.8 302.5,183.7 303.8,183.7 305.1,184.7 306.4,185.2 307.7,186 309,185 310.3,186 311.6,185.4 312.9,185.7 314.2,185.7 315.5,185.9 316.8,186.4 318.1,186.4 319.4,183.7 320.7,184.1 322,184.3 323.3,184.6 324.6,184.8 325.9,184.9 327.2,185.6 328.5,185.2 329.8,186.5 331.1,185.6 332.4,185.2 333.7,185.9 335,186.1 336.3,186 337.6,186.1 338.9,186.1 340.2,186 341.5,186.3 342.8,186.3 344.1,185.6 345.4,186.3 346.7,186.5 348,185.6 349.3,185.6 350.6,184.6 351.9,184 353.2,184.7 354.5,185.1 355.8,185.5 357.1,185.3 358.4,185.2 359.7,186.3 361,186.5 362.3,185.2 363.6,185.7 364.9,186.1 366.2,185.4 367.5,185.2 368.8,186 370.1,185.8 371.4,185.5 372.7,186.4 374,186.2 375.3,185.9 376.6,185.8 377.9,185.8 379.2,186.1 380.5,185.8 381.8,186.3 383.1,186.1 384.4,185.5 385.7,185.9 387,181.6 388.3,181.8 389.6,182 390.9,183.1 392.2,183.8 393.5,184 394.8,184.8 396.1,184.9 397.4,185.3 398.7,185.7 400,185.1 401.3,185.1 402.6,186 403.9,186 405.2,186.2 406.5,185.5 407.8,185.9 409.1,185.6 410.4,186.1 411.7,186.5 413,185.7 414.3,185.1 415.6,185.9 416.9,186.1 418.2,186.3 419.5,186.2 420.8,186.3 422.1,186.8 423.4,185.5 424.7,185.6 426,185.8 427.3,184.8 428.6,185.9 429.9,185.2 431.2,184.9 432.5,185.3 433.8,185.6 435.1,185.9 436.4,186.1 437.7,185.8 439,185.6 440.3,186 441.6,185.8 442.9,186.7 444.2,184.9 445.5,186.3 446.8,186 448.1,186.1 449.4,186.1 450.7,185.7 452,185.6 453.3,185.3 454.6,186.6 455.9,186.4 457.2,186.5 458.5,186.3 459.8,185.5 461.1,185.9 462.4,185.9 463.7,186.3 465,185.4 466.3,185.9 467.6,185.7 468.9,185.7 470.2,185.3 471.5,186 472.8,185.8 474.1,185.1 475.4,186.3 476.7,186.5 478,185.5 479.3,186.2 480.6,185.4 481.9,185.5 483.2,186.2 484.5,185.7 485.8,186.2 487.1,185.9 488.4,186.4 489.7,186.1 491,186.8 492.3,186.9 493.6,186.1 494.9,185.7 496.2,185.7 497.5,185.7 498.8,186.3 500.1,186.5 501.4,185.8 502.7,186.2 504,185.7 505.3,186.5 506.6,186.2 507.9,186.7 509.2,185.7 510.5,185.4 511.8,185 513.1,185.9 514.4,185.5 515.7,186.5 517,186 518.3,186 519.6,185.1 520.9,185.4 522.2,185.8 523.5,186.1 524.8,185.7 526.1,186.1 527.4,185.6 528.7,186.1 530,185.5 531.3,185.5 532.6,185.8 533.9,186.2 535.2,185.9" fill="none" stroke="#3a3a3a" stroke-width="0.42" /><polyline points="10,188.6 11.3,188.7 12.6,188.2 13.9,189.7 15.2,189.1 16.5,189.7 17.8,188.8 19.1,189.3 20.4,189.2 21.7,189.2 23,189.5 24.3,189 25.6,189 26.9,188.9 28.2,188.1 29.5,188.5 30.8,188.3 32.1,189.1 33.4,188.8 34.7,189 36,188.9 37.3,188.6 38.6,189.2 39.9,188.3 41.2,188 42.5,188.8 43.8,189 45.1,188.9 46.4,189.1 47.7,189.4 49,189.7 50.3,189.4 51.6,189.6 52.9,188.9 54.2,189.6 55.5,188.4 56.8,189.5 58.1,189.3 59.4,189.1 60.7,188.6 62,189.1 63.3,188.6 64.6,188.6 65.9,188.9 67.2,189.1 68.5,189.2 69.8,188.8 71.1,188.6 72.4,188.8 73.7,188.8 75,189.5 76.3,185.4 77.6,185.9 78.9,186.6 80.2,186.2 81.5,186.7 82.8,187.1 84.1,187.1 85.4,187.7 86.7,187.2 88,187.1 89.3,187.1 90.6,187.8 91.9,188.4 93.2,188.2 94.5,188.7 95.8,188.2 97.1,188.9 98.4,188.6 99.7,188.6 101,189.3 102.3,188.7 103.6,188.9 104.9,188.7 106.2,188.9 107.5,188.7 108.8,188.2 110.1,188.9 111.4,188.9 112.7,189.1 114,189.1 115.3,189.7 116.6,189 117.9,189.2 119.2,189.2 120.5,188.7 121.8,188.7 123.1,189.5 124.4,189.2 125.7,187 127,181.6 128.3,183 129.6,184.8 130.9,186 132.2,186.9 133.5,187.2 134.8,187.7 136.1,188.4 137.4,187 138.7,188.6 140,188.6 141.3,188.9 142.6,189.1 143.9,188.5 145.2,188.5 146.5,189 147.8,188.8 149.1,189 150.4,188.7 151.7,189.8 153,189 154.3,190 155.6,189.1 156.9,189.6 158.2,189.8 159.5,188.8 160.8,188.8 162.1,189.4 163.4,189.7 164.7,189.7 166,189.3 167.3,189.2 168.6,187.7 169.9,188.3 171.2,189.5 172.5,188.8 173.8,188.8 175.1,188.1 176.4,188.7 177.7,188.4 179,189.2 180.3,189.6 181.6,189 182.9,188.7 184.2,188.5 185.5,188.6 186.8,188.1 188.1,188.6 189.4,189.5 190.7,188.6 192,188.9 193.3,188.3 194.6,189.3 195.9,188.7 197.2,188.3 198.5,188.4 199.8,189.2 201.1,189.1 202.4,189.1 203.7,188.9 205,189.1 206.3,189.3 207.6,189.1 208.9,188.1 210.2,188.1 211.5,188.1 212.8,188.7 214.1,188.2 215.4,188.4 216.7,189 218,188.1 219.3,187.9 220.6,188.7 221.9,188.6 223.2,188.7 224.5,188.9 225.8,189.2 227.1,188.7 228.4,188.8 229.7,188.1 231,188.7 232.3,188.8 233.6,189.2 234.9,189.1 236.2,189.3 237.5,189 238.8,189.2 240.1,189.2 241.4,189.1 242.7,189 244,189 245.3,188.5 246.6,189 247.9,188.7 249.2,188.2 250.5,188 251.8,188.6 253.1,188.7 254.4,188.6 255.7,189 257,188.3 258.3,188 259.6,188.7 260.9,189.2 262.2,189.2 263.5,188.7 264.8,189 266.1,188.8 267.4,189.6 268.7,189.3 270,189 271.3,189.1 272.6,189 273.9,188.7 275.2,188.6 276.5,188.5 277.8,188.3 279.1,188.5 280.4,188.7 281.7,188.9 283,189 284.3,188.9 285.6,188.1 286.9,188.5 288.2,188.6 289.5,188.7 290.8,184.3 292.1,184.2 293.4,185 294.7,185.2 296,186 297.3,186.3 298.6,186.7 299.9,187.1 301.2,187.6 302.5,188 303.8,187.7 305.1,187.4 306.4,187.7 307.7,188.5 309,187.8 310.3,188.8 311.6,188.5 312.9,188.8 314.2,188.1 315.5,188.8 316.8,188.7 318.1,188.8 319.4,188.3 320.7,189.4 322,188.6 323.3,189.1 324.6,189.1 325.9,188.5 327.2,188.9 328.5,188.5 329.8,188.6 331.1,188.3 332.4,188.9 333.7,189.3 335,188.9 336.3,188.8 337.6,188.9 338.9,188.6 340.2,188.9 341.5,189.3 342.8,189.3 344.1,189.4 345.4,189.3 346.7,188.5 348,188.8 349.3,189.2 350.6,189.4 351.9,188.7 353.2,188.4 354.5,189.3 355.8,188.8 357.1,189 358.4,189.2 359.7,188.6 361,188.9 362.3,189.1 363.6,188.9 364.9,188.8 366.2,188.4 367.5,188.7 368.8,188.2 370.1,189 371.4,188.9 372.7,188.7 374,188.1 375.3,188.6 376.6,188.2 377.9,189.1 379.2,188.8 380.5,188.8 381.8,188.9 383.1,189 384.4,188.7 385.7,188.9 387,188.5 388.3,189.4 389.6,188.9 390.9,189.2 392.2,189 393.5,189.2 394.8,188.6 396.1,188.3 397.4,188.5 398.7,188.8 400,189.8 401.3,188.8 402.6,189 403.9,189.5 405.2,188.8 406.5,189.2 407.8,189.1 409.1,188.8 410.4,189.1 411.7,189.5 413,189.5 414.3,188.9 415.6,190.1 416.9,189.2 418.2,188.9 419.5,188.8 420.8,188.4 422.1,188.9 423.4,187.5 424.7,188.4 426,188.2 427.3,188.7 428.6,188.8 429.9,188.3 431.2,188.3 432.5,189.1 433.8,188.5 435.1,188.6 436.4,188.7 437.7,189 439,189.1 440.3,189.3 441.6,189.2 442.9,189.3 444.2,188.7 445.5,189.4 446.8,188.5 448.1,188.2 449.4,188.4 450.7,188.5 452,188.9 453.3,189.1 454.6,189.5 455.9,188.9 457.2,188.9 458.5,188.9 459.8,188.6 461.1,188.6 462.4,189.2 463.7,188.1 465,184.8 466.3,179.9 467.6,182.5 468.9,184.4 470.2,185.2 471.5,185.9 472.8,187.4 474.1,187.5 475.4,188.1 476.7,188.5 478,188.1 479.3,188.6 480.6,188.3 481.9,188.7 483.2,188.3 484.5,187.8 485.8,189 487.1,188 488.4,188.7 489.7,188.4 491,188.4 492.3,188.7 493.6,189 494.9,188.3 496.2,186.1 497.5,184.6 498.8,186.3 500.1,187.2 501.4,187.9 502.7,188 504,188.3 505.3,188.4 506.6,189.2 507.9,189.6 509.2,189.6 510.5,188.9 511.8,188.7 513.1,188.8 514.4,188.8 515.7,188.3 517,189.7 518.3,189.4 519.6,188.8 520.9,188.9 522.2,188.9 523.5,188.4 524.8,188.8 526.1,189.1 527.4,189.3 528.7,189.2 530,189.2 531.3,188.3 532.6,187.6 533.9,189.1 535.2,188.8" fill="none" stroke="#3a3a3a" stroke-width="0.42" /><polyline points="10,192.7 11.3,192.4 12.6,192.1 13.9,192.2 15.2,191.6 16.5,191.3 17.8,191.5 19.1,192.2 20.4,192.5 21.7,192.7 23,191.5 24.3,192.4 25.6,191.6 26.9,191.7 28.2,192 29.5,191.2 30.8,191.5 32.1,191.8 33.4,192.6 34.7,192.6 36,191.6 37.3,192.1 38.6,192.1 39.9,192.3 41.2,192 42.5,192.6 43.8,191.8 45.1,191.9 46.4,191.1 47.7,191.8 49,191.8 50.3,192.3 51.6,191 52.9,190.8 54.2,191.1 55.5,191.1 56.8,191.8 58.1,192.5 59.4,192.3 60.7,192.3 62,192.5 63.3,192.3 64.6,192.3 65.9,192.1 67.2,191.7 68.5,188.5 69.8,187.5 71.1,187.3 72.4,187.3 73.7,188 75,188.9 76.3,188.3 77.6,188.9 78.9,189.9 80.2,190.3 81.5,189.7 82.8,190 84.1,190.4 85.4,191.1 86.7,190.6 88,189.9 89.3,191.4 90.6,191 91.9,190.9 93.2,190.8 94.5,191.9 95.8,191.7 97.1,191.5 98.4,189.3 99.7,188.9 101,189.7 102.3,190.3 103.6,189.7 104.9,190.4 106.2,190.6 107.5,191.5 108.8,191.1 110.1,190.6 111.4,191.2 112.7,191.3 114,191.3 115.3,191.8 116.6,191.6 117.9,191.3 119.2,192.7 120.5,191.8 121.8,191.5 123.1,192.1 124.4,192.3 125.7,190.4 127,187.5 128.3,185.4 129.6,187 130.9,188.8 132.2,189.2 133.5,190.5 134.8,191 136.1,191.6 137.4,191.8 138.7,191.4 140,191.5 141.3,191.2 142.6,192.2 143.9,191.2 145.2,191.3 146.5,191.3 147.8,191.5 149.1,191.7 150.4,191.6 151.7,191.3 153,192 154.3,191.5 155.6,191.6 156.9,191.7 158.2,191.9 159.5,192.6 160.8,192 162.1,191.3 163.4,191.9 164.7,192.1 166,191.2 167.3,192.4 168.6,192.1 169.9,191.7 171.2,191.9 172.5,191.6 173.8,191.9 175.1,192.2 176.4,191.9 177.7,192 179,193 180.3,191.7 181.6,191.8 182.9,191.9 184.2,192.4 185.5,192.3 186.8,191.7 188.1,192.6 189.4,191.7 190.7,193.3 192,191.9 193.3,191.8 194.6,187.4 195.9,186.6 197.2,187.9 198.5,189.6 199.8,190.5 201.1,191.1 202.4,191.9 203.7,191.6 205,191.8 206.3,191.7 207.6,192 208.9,191 210.2,191.5 211.5,191.5 212.8,191.2 214.1,191.6 215.4,191.9 216.7,191.6 218,191.5 219.3,193.2 220.6,192.7 221.9,192.5 223.2,192.9 224.5,191.5 225.8,191.7 227.1,187.6 228.4,188.5 229.7,188.9 231,189 232.3,189.5 233.6,189.8 234.9,190.1 236.2,191 237.5,190.6 238.8,191 240.1,191.1 241.4,190.5 242.7,190.9 244,190.8 245.3,191.6 246.6,190.9 247.9,191.4 249.2,191.9 250.5,190.8 251.8,191 253.1,191.9 254.4,191.1 255.7,191.9 257,192.1 258.3,191.6 259.6,191.2 260.9,192.2 262.2,191.6 263.5,191.9 264.8,191.5 266.1,191.8 267.4,191 268.7,191 270,191.2 271.3,191.6 272.6,191.7 273.9,191.7 275.2,192.1 276.5,191.8 277.8,192.5 279.1,191.9 280.4,192.2 281.7,192.2 283,192.4 284.3,191 285.6,192.2 286.9,191 288.2,192.2 289.5,191.8 290.8,192.2 292.1,191.8 293.4,192.3 294.7,192.2 296,191.6 297.3,191.7 298.6,192.3 299.9,192.5 301.2,192.4 302.5,191.8 303.8,191.8 305.1,191.9 306.4,192.1 307.7,192.2 309,192.2 310.3,192.1 311.6,192.4 312.9,192.2 314.2,189.5 315.5,186.6 316.8,187.7 318.1,189.2 319.4,189.8 320.7,191.2 322,191.4 323.3,191.3 324.6,191 325.9,191.5 327.2,192.1 328.5,191.9 329.8,192 331.1,191.2 332.4,191.3 333.7,191.8 335,191.7 336.3,191.5 337.6,191.8 338.9,192.5 340.2,192.1 341.5,192.5 342.8,192.8 344.1,192.2 345.4,192 346.7,191.7 348,192.5 349.3,191.6 350.6,191.6 351.9,192 353.2,191.4 354.5,192.5 355.8,191.9 357.1,192.2 358.4,191.8 359.7,191.8 361,192.2 362.3,191.5 363.6,191.6 364.9,191.8 366.2,192.6 367.5,192.1 368.8,192.1 370.1,191.3 371.4,192 372.7,192.3 374,192.3 375.3,192.9 376.6,191.5 377.9,191.6 379.2,191.9 380.5,191.6 381.8,192.1 383.1,192 384.4,191.9 385.7,192 387,192 388.3,192.3 389.6,191.8 390.9,191.8 392.2,192.4 393.5,191.7 394.8,191.4 396.1,192 397.4,192 398.7,192.3 400,192.3 401.3,192.3 402.6,192.3 403.9,191.7 405.2,191.3 406.5,192.4 407.8,191.7 409.1,191.3 410.4,191.3 411.7,191.7 413,191.5 414.3,191.1 415.6,191.6 416.9,191.8 418.2,192.3 419.5,191.9 420.8,191.7 422.1,191.2 423.4,191.8 424.7,192.1 426,192 427.3,192.3 428.6,192.1 429.9,192.5 431.2,192.3 432.5,191.9 433.8,192.3 435.1,191.9 436.4,192.3 437.7,191.6 439,191.7 440.3,192.1 441.6,191.8 442.9,189.9 444.2,189.6 445.5,190.2 446.8,190.3 448.1,189.9 449.4,191.1 450.7,191 452,191.3 453.3,191.7 454.6,191.8 455.9,192.2 457.2,192.9 458.5,192.3 459.8,192.6 461.1,191.8 462.4,191.9 463.7,191.5 465,191.8 466.3,192.6 467.6,192.4 468.9,192.4 470.2,191.8 471.5,192.6 472.8,191.9 474.1,191 475.4,188.4 476.7,189.2 478,190 479.3,190.8 480.6,190.2 481.9,190.6 483.2,191.3 484.5,191.8 485.8,190.9 487.1,191.3 488.4,191.1 489.7,190 491,190.1 492.3,190.8 493.6,190.6 494.9,191.7 496.2,191.4 497.5,191.6 498.8,192.3 500.1,191.7 501.4,191.7 502.7,192.2 504,192.9 505.3,192.2 506.6,192 507.9,191.6 509.2,191.6 510.5,191.9 511.8,190.8 513.1,191.5 514.4,191.7 515.7,191.9 517,192.5 518.3,192.7 519.6,192.2 520.9,192 522.2,192.2 523.5,192.7 524.8,191.7 526.1,191.7 527.4,191.7 528.7,191.6 530,190.7 531.3,191.8 532.6,191.1 533.9,192 535.2,192.1" fill="none" stroke="#3a3a3a" stroke-width="0.42" /><polyline points="10,195.4 11.3,195.5 12.6,194.6 13.9,195.1 15.2,195.1 16.5,194.6 17.8,195.5 19.1,194.7 20.4,195.3 21.7,194.8 23,194.7 24.3,194.8 25.6,195.1 26.9,195.3 28.2,194.8 29.5,196 30.8,195.1 32.1,194.8 33.4,195.3 34.7,195.5 36,195.1 37.3,194.8 38.6,194.3 39.9,193.6 41.2,193.8 42.5,194.3 43.8,194.5 45.1,194.5 46.4,195.3 47.7,195.2 49,195 50.3,195 51.6,195.5 52.9,194.1 54.2,194.6 55.5,195.7 56.8,195.3 58.1,194.7 59.4,195.1 60.7,195.1 62,196 63.3,194.9 64.6,195.1 65.9,194.9 67.2,194.6 68.5,193.8 69.8,194.9 71.1,195 72.4,192.6 73.7,191.5 75,191.8 76.3,192.5 77.6,192 78.9,193.2 80.2,191.4 81.5,192.1 82.8,192.8 84.1,193.5 85.4,193.7 86.7,194.3 88,194.6 89.3,194.3 90.6,194.8 91.9,194.5 93.2,194.8 94.5,194.6 95.8,195.2 97.1,195.6 98.4,195 99.7,194.7 101,194.7 102.3,195.1 103.6,194.8 104.9,194.5 106.2,191 107.5,190.8 108.8,191.8 110.1,192.8 111.4,193.2 112.7,194.2 114,193.9 115.3,194.6 116.6,193.9 117.9,194.2 119.2,194.3 120.5,193.9 121.8,194.5 123.1,194.3 124.4,195 125.7,194.9 127,195.3 128.3,194.7 129.6,194.5 130.9,195 132.2,195.1 133.5,195 134.8,193.2 136.1,191.1 137.4,192 138.7,193 140,193.1 141.3,193.5 142.6,194.2 143.9,194.1 145.2,193.5 146.5,195.3 147.8,194.3 149.1,195 150.4,195.5 151.7,195.1 153,195.3 154.3,195.5 155.6,195.1 156.9,194.6 158.2,195 159.5,194.7 160.8,194.2 162.1,195.2 163.4,195.5 164.7,195.2 166,195.2 167.3,195.7 168.6,195.4 169.9,195.6 171.2,195.2 172.5,195.8 173.8,195.1 175.1,195.8 176.4,196 177.7,195.3 179,195.7 180.3,194.5 181.6,194.9 182.9,195 184.2,194.7 185.5,194.3 186.8,195.1 188.1,194.9 189.4,194.7 190.7,194.9 192,195.2 193.3,195.4 194.6,195.1 195.9,194.4 197.2,195.2 198.5,195 199.8,194.5 201.1,192.4 202.4,190.2 203.7,191.2 205,192.5 206.3,192.2 207.6,194 208.9,194 210.2,194.8 211.5,194.7 212.8,194.5 214.1,194.4 215.4,194.2 216.7,194.6 218,194.9 219.3,195.5 220.6,195.1 221.9,195.4 223.2,195.2 224.5,194.6 225.8,194.5 227.1,192.4 228.4,192.7 229.7,193.2 231,194.5 232.3,193.8 233.6,192.3 234.9,191.7 236.2,192.9 237.5,193.4 238.8,193 240.1,193.6 241.4,194.2 242.7,193.8 244,194.3 245.3,194 246.6,194.3 247.9,194.9 249.2,194.6 250.5,194.6 251.8,194.7 253.1,194.2 254.4,195.4 255.7,194.7 257,194.8 258.3,194.8 259.6,194.8 260.9,194.5 262.2,195.1 263.5,194.5 264.8,194.9 266.1,194.5 267.4,194.5 268.7,194.6 270,194.9 271.3,194.3 272.6,195.1 273.9,194.9 275.2,195.4 276.5,195 277.8,195.3 279.1,194.6 280.4,194.6 281.7,195.3 283,194.9 284.3,195.5 285.6,195 286.9,195.5 288.2,195.1 289.5,194.9 290.8,195.7 292.1,195 293.4,195.6 294.7,195.3 296,195 297.3,195.7 298.6,196 299.9,195.9 301.2,195.9 302.5,195.5 303.8,195 305.1,194.9 306.4,194.3 307.7,192 309,186.6 310.3,188.9 311.6,190.4 312.9,192 314.2,192.7 315.5,194.2 316.8,194.1 318.1,194.5 319.4,194.6 320.7,194.3 322,194.3 323.3,194.5 324.6,193.9 325.9,195.6 327.2,195.1 328.5,195.3 329.8,195 331.1,195.4 332.4,195.2 333.7,195.1 335,194.4 336.3,194.6 337.6,194 338.9,194.5 340.2,194.3 341.5,194.6 342.8,194.8 344.1,195.4 345.4,195.5 346.7,195.1 348,194.8 349.3,195.6 350.6,194.7 351.9,194.7 353.2,194.6 354.5,194.5 355.8,195.2 357.1,195 358.4,195.4 359.7,194.7 361,195.3 362.3,195.1 363.6,194.9 364.9,195 366.2,195 367.5,194.9 368.8,194.5 370.1,194.4 371.4,194.5 372.7,194 374,194.9 375.3,194.6 376.6,195.2 377.9,193.8 379.2,195.6 380.5,194.6 381.8,194.4 383.1,195.2 384.4,195.3 385.7,195.4 387,196 388.3,194.9 389.6,195.4 390.9,195.3 392.2,195 393.5,195.2 394.8,195.3 396.1,194.5 397.4,195 398.7,195.2 400,195.1 401.3,193.3 402.6,189.2 403.9,187.4 405.2,190.8 406.5,192 407.8,193.8 409.1,193.3 410.4,194.4 411.7,194.4 413,195.5 414.3,195.6 415.6,194.9 416.9,195.3 418.2,195 419.5,194.5 420.8,194.9 422.1,195.4 423.4,195.7 424.7,195.4 426,195.3 427.3,195.1 428.6,195 429.9,194.5 431.2,194.8 432.5,193.7 433.8,193.7 435.1,195 436.4,195.5 437.7,195.1 439,195.7 440.3,194.6 441.6,194.3 442.9,194.5 444.2,194.6 445.5,195.6 446.8,195.1 448.1,195 449.4,195.3 450.7,195.7 452,195.4 453.3,195.2 454.6,195.4 455.9,195.5 457.2,194.8 458.5,195.3 459.8,195 461.1,195 462.4,195.4 463.7,196 465,195.4 466.3,195.6 467.6,195.2 468.9,194.9 470.2,194.8 471.5,195.1 472.8,195.2 474.1,195.3 475.4,195.4 476.7,195.1 478,194.9 479.3,194.8 480.6,194.9 481.9,194.7 483.2,194.8 484.5,195 485.8,194.5 487.1,194.8 488.4,195 489.7,195.2 491,194.4 492.3,195.2 493.6,195.5 494.9,194.6 496.2,195.5 497.5,194.9 498.8,194.9 500.1,195.2 501.4,194.6 502.7,195.1 504,194.9 505.3,194.6 506.6,195 507.9,194.6 509.2,194.7 510.5,195.4 511.8,195.1 513.1,195.3 514.4,194.7 515.7,194.9 517,194.7 518.3,194.6 519.6,194.6 520.9,194.3 522.2,194.7 523.5,195.7 524.8,194.3 526.1,194.3 527.4,194.2 528.7,193.9 530,194.7 531.3,195 532.6,195.3 533.9,195.2 535.2,195.1" fill="none" stroke="#3a3a3a" stroke-width="0.42" /><polyline points="10,198.6 11.3,197.8 12.6,198.3 13.9,198.1 15.2,198.9 16.5,198.3 17.8,198.1 19.1,198.1 20.4,198 21.7,198.5 23,198.3 24.3,198.2 25.6,198.6 26.9,198.8 28.2,197.9 29.5,198.4 30.8,198.9 32.1,197.8 33.4,197.8 34.7,198.1 36,197.8 37.3,197.5 38.6,197.7 39.9,198.3 41.2,198.1 42.5,197.5 43.8,197 45.1,197.4 46.4,197.9 47.7,197.4 49,197.7 50.3,198.2 51.6,197.9 52.9,198 54.2,198.3 55.5,198.7 56.8,198.2 58.1,198.2 59.4,198.1 60.7,198.5 62,197.5 63.3,196.7 64.6,195.3 65.9,196.5 67.2,196.8 68.5,196.1 69.8,196.6 71.1,193.8 72.4,194.1 73.7,195.2 75,195.5 76.3,195.5 77.6,196.6 78.9,197.1 80.2,196.2 81.5,196.5 82.8,196.9 84.1,196.2 85.4,197.1 86.7,196.7 88,197.7 89.3,197.6 90.6,198 91.9,198.1 93.2,197.7 94.5,197.4 95.8,198.2 97.1,197.3 98.4,198.5 99.7,197.8 101,197.7 102.3,198.1 103.6,197.9 104.9,198 106.2,197.2 107.5,197.4 108.8,197.9 110.1,198 111.4,198 112.7,198.7 114,198 115.3,198.3 116.6,198.4 117.9,198 119.2,197.9 120.5,198.4 121.8,198.4 123.1,198.4 124.4,198.1 125.7,198.5 127,198.8 128.3,198.4 129.6,198.2 130.9,198 132.2,198.5 133.5,197.3 134.8,198.6 136.1,196.9 137.4,197.1 138.7,197.9 140,198.6 141.3,198.4 142.6,198.3 143.9,198.4 145.2,198 146.5,197.8 147.8,197.9 149.1,197.7 150.4,197.4 151.7,198.2 153,199.1 154.3,198 155.6,198.2 156.9,198.2 158.2,198.2 159.5,197.9 160.8,198.1 162.1,198.6 163.4,198.3 164.7,198 166,198.6 167.3,198.4 168.6,198.9 169.9,197.7 171.2,198.3 172.5,198.5 173.8,197.7 175.1,198.1 176.4,198.6 177.7,198.3 179,198.2 180.3,198.3 181.6,197.7 182.9,197.8 184.2,198.6 185.5,197.7 186.8,198.2 188.1,198.1 189.4,198.6 190.7,198.4 192,198.5 193.3,198.9 194.6,198.3 195.9,197.6 197.2,197.8 198.5,198.6 199.8,198.7 201.1,198.3 202.4,197.6 203.7,197.8 205,198.7 206.3,198.6 207.6,198.8 208.9,197.6 210.2,197.5 211.5,197.6 212.8,197.2 214.1,197.8 215.4,197.6 216.7,198.3 218,198.1 219.3,197.9 220.6,198.4 221.9,198.2 223.2,198 224.5,198.1 225.8,196.2 227.1,195.3 228.4,196.1 229.7,197.1 231,197.7 232.3,198.3 233.6,198.2 234.9,197.9 236.2,198.3 237.5,198 238.8,198.2 240.1,198.1 241.4,198 242.7,198.1 244,198.5 245.3,198.4 246.6,197.8 247.9,198.4 249.2,197.6 250.5,198.1 251.8,198.1 253.1,198.7 254.4,198.2 255.7,198.3 257,198.2 258.3,198.5 259.6,198.1 260.9,197.9 262.2,198.3 263.5,199 264.8,198.8 266.1,198.8 267.4,198.1 268.7,198.1 270,198.2 271.3,197.5 272.6,198.7 273.9,197.7 275.2,198.5 276.5,198 277.8,198.4 279.1,198.4 280.4,198.2 281.7,197.3 283,197.5 284.3,198.3 285.6,197.8 286.9,198.3 288.2,198.4 289.5,197.2 290.8,198.3 292.1,198.5 293.4,198.7 294.7,198.2 296,197.6 297.3,198.6 298.6,198.9 299.9,198.2 301.2,198.3 302.5,198.2 303.8,198 305.1,197.2 306.4,197.2 307.7,197.7 309,198 310.3,198.4 311.6,198 312.9,198.1 314.2,198.2 315.5,198.9 316.8,197.9 318.1,197.3 319.4,198.2 320.7,197.8 322,198.1 323.3,198.6 324.6,198.6 325.9,198.1 327.2,198.2 328.5,198.6 329.8,198.8 331.1,199.1 332.4,198.5 333.7,198.2 335,198 336.3,198 337.6,197.8 338.9,197.9 340.2,198 341.5,198.2 342.8,197.8 344.1,198.1 345.4,198.2 346.7,198.1 348,198.1 349.3,198.3 350.6,198.1 351.9,197 353.2,198 354.5,198.1 355.8,197.7 357.1,198 358.4,197.6 359.7,197.7 361,197.2 362.3,197.9 363.6,198 364.9,197.6 366.2,198 367.5,198.5 368.8,198.3 370.1,197.9 371.4,197.5 372.7,197.5 374,198.2 375.3,198.3 376.6,198.1 377.9,198.2 379.2,198.1 380.5,198 381.8,197.8 383.1,197.5 384.4,197.8 385.7,197.7 387,198.3 388.3,198.4 389.6,198.3 390.9,197.5 392.2,197.5 393.5,197.8 394.8,197.5 396.1,197.8 397.4,198 398.7,197.6 400,198.7 401.3,197.6 402.6,197.4 403.9,198.3 405.2,197.7 406.5,198.5 407.8,198.4 409.1,198.3 410.4,197.9 411.7,197.5 413,197.3 414.3,195.5 415.6,193.3 416.9,194.2 418.2,195.3 419.5,196.2 420.8,197.1 422.1,197.6 423.4,198.1 424.7,197.8 426,198.3 427.3,198.3 428.6,198.5 429.9,197.8 431.2,198.5 432.5,198.7 433.8,197.8 435.1,198.9 436.4,198.4 437.7,198.5 439,198.1 440.3,198.4 441.6,198.2 442.9,198.1 444.2,198.7 445.5,198.6 446.8,197.8 448.1,198.7 449.4,198.8 450.7,198.9 452,198.2 453.3,198.8 454.6,198.4 455.9,198.3 457.2,197.9 458.5,198 459.8,198 461.1,198.1 462.4,198.7 463.7,198.1 465,198 466.3,198.2 467.6,197.8 468.9,197.2 470.2,197.8 471.5,197.9 472.8,198.8 474.1,198.4 475.4,197.9 476.7,198 478,198.1 479.3,198.5 480.6,198 481.9,198.2 483.2,197.6 484.5,197.9 485.8,198.3 487.1,193.8 488.4,194.5 489.7,195.3 491,195.9 492.3,196.1 493.6,196.6 494.9,197 496.2,197.1 497.5,197.3 498.8,197.9 500.1,197.9 501.4,198.1 502.7,197.5 504,197.6 505.3,198.2 506.6,197.6 507.9,198.2 509.2,197.3 510.5,198.3 511.8,197.8 513.1,197.4 514.4,197.6 515.7,197.2 517,198.1 518.3,198.5 519.6,198.2 520.9,197.9 522.2,198.5 523.5,198.1 524.8,198.1 526.1,197.8 527.4,198 528.7,198.7 530,198 531.3,197.2 532.6,198 533.9,198.6 535.2,198.6" fill="none" stroke="#3a3a3a" stroke-width="0.42" /><polyline points="10,201.9 11.3,202.6 12.6,201.7 13.9,201.5 15.2,200.9 16.5,201.9 17.8,202 19.1,201.1 20.4,201.5 21.7,200.4 23,200.5 24.3,201.1 25.6,201 26.9,201.7 28.2,202 29.5,201.4 30.8,201.4 32.1,201.9 33.4,201.7 34.7,201.7 36,201.9 37.3,201.1 38.6,201.7 39.9,201.4 41.2,200.9 42.5,201.3 43.8,201.5 45.1,201.4 46.4,201.1 47.7,201.1 49,201.2 50.3,201.9 51.6,201.5 52.9,201.5 54.2,201.4 55.5,201.8 56.8,200.7 58.1,201.2 59.4,201.9 60.7,201.2 62,201.3 63.3,201.7 64.6,201.2 65.9,200.6 67.2,198.4 68.5,197.9 69.8,198.7 71.1,199.2 72.4,199.2 73.7,199.6 75,199.9 76.3,201 77.6,200.3 78.9,200.7 80.2,200.6 81.5,200.7 82.8,200.6 84.1,200.3 85.4,200.3 86.7,200.5 88,200.6 89.3,200.3 90.6,200.3 91.9,200.5 93.2,201.1 94.5,200.8 95.8,200.9 97.1,201 98.4,200.7 99.7,201 101,200.5 102.3,200.6 103.6,201.4 104.9,201 106.2,200.7 107.5,201.6 108.8,201.3 110.1,201.2 111.4,201.7 112.7,200.8 114,201 115.3,201.2 116.6,201.4 117.9,201.2 119.2,201.5 120.5,201.6 121.8,202 123.1,200.9 124.4,201.4 125.7,201.2 127,201.5 128.3,200.8 129.6,201.4 130.9,200.8 132.2,201.4 133.5,201.2 134.8,200.8 136.1,199.5 137.4,196.1 138.7,197.8 140,198.3 141.3,199.1 142.6,200.3 143.9,200.2 145.2,201.3 146.5,201.5 147.8,200.9 149.1,201 150.4,200.6 151.7,200.4 153,201.1 154.3,201.2 155.6,201.4 156.9,201 158.2,201.7 159.5,201.2 160.8,201.1 162.1,201 163.4,201 164.7,200.9 166,201.2 167.3,201.2 168.6,201.4 169.9,201.4 171.2,201.1 172.5,201.6 173.8,201.1 175.1,201.6 176.4,201.1 177.7,200.3 179,200.6 180.3,201.4 181.6,200.9 182.9,201 184.2,201.3 185.5,201.6 186.8,201.6 188.1,201.3 189.4,201.7 190.7,200.8 192,201.1 193.3,201.2 194.6,201.3 195.9,201.6 197.2,200.8 198.5,200.1 199.8,200.4 201.1,201 202.4,201.1 203.7,201.5 205,201.1 206.3,201.8 207.6,200.8 208.9,201.5 210.2,201.3 211.5,201.8 212.8,200.5 214.1,201.4 215.4,201.5 216.7,201 218,201.5 219.3,201 220.6,200.8 221.9,200.6 223.2,201 224.5,200.7 225.8,200.3 227.1,198.8 228.4,198 229.7,199.2 231,199.4 232.3,199.3 233.6,199.2 234.9,199.7 236.2,199.6 237.5,200.2 238.8,200.4 240.1,201.2 241.4,199.7 242.7,200.1 244,200.6 245.3,200.8 246.6,201.3 247.9,200.6 249.2,201.2 250.5,200.3 251.8,201.2 253.1,201.5 254.4,201.4 255.7,200.5 257,200.7 258.3,200.2 259.6,200.9 260.9,200.7 262.2,201.3 263.5,201.1 264.8,201.5 266.1,201.4 267.4,201.3 268.7,202 270,202 271.3,200.9 272.6,201.7 273.9,201.7 275.2,201.7 276.5,201.6 277.8,200.6 279.1,201 280.4,200.4 281.7,200.7 283,201 284.3,201.7 285.6,201.2 286.9,201.1 288.2,201.6 289.5,200.9 290.8,201.5 292.1,201.3 293.4,200.7 294.7,200.8 296,201.1 297.3,201.3 298.6,201.8 299.9,201.2 301.2,201.4 302.5,202 303.8,202.4 305.1,201.9 306.4,201.3 307.7,201 309,201.2 310.3,201.1 311.6,200.7 312.9,201.7 314.2,202.3 315.5,201.2 316.8,201.1 318.1,201.1 319.4,201 320.7,201.6 322,200.9 323.3,201.6 324.6,201.5 325.9,201.6 327.2,200.7 328.5,201.5 329.8,201.2 331.1,201.4 332.4,201.4 333.7,200.9 335,201.6 336.3,201.8 337.6,201.5 338.9,200.8 340.2,201.4 341.5,200.7 342.8,201.3 344.1,201.6 345.4,200.7 346.7,202.3 348,201.7 349.3,200.7 350.6,198.9 351.9,199.4 353.2,199.9 354.5,199.8 355.8,200.6 357.1,200.2 358.4,200.5 359.7,201.7 361,201 362.3,200.9 363.6,201.7 364.9,201.4 366.2,201.4 367.5,201.1 368.8,201.7 370.1,201.2 371.4,201.8 372.7,201.7 374,202.1 375.3,201.7 376.6,201.3 377.9,200.9 379.2,201.1 380.5,200.7 381.8,201.3 383.1,200.6 384.4,200.1 385.7,201.4 387,201.7 388.3,201 389.6,201.6 390.9,200.8 392.2,201.3 393.5,201.4 394.8,201.3 396.1,201.3 397.4,200.9 398.7,201.1 400,200.6 401.3,201 402.6,201.6 403.9,200.9 405.2,201.6 406.5,201.9 407.8,201.9 409.1,201.2 410.4,201 411.7,201.7 413,201.1 414.3,201.4 415.6,200.9 416.9,201.3 418.2,200.2 419.5,200.8 420.8,201.2 422.1,200.8 423.4,200.7 424.7,200.6 426,200.1 427.3,201.5 428.6,200.3 429.9,200.8 431.2,201.6 432.5,201.5 433.8,201 435.1,200.5 436.4,200.2 437.7,200.4 439,200.4 440.3,200.6 441.6,201.4 442.9,201.4 444.2,201.4 445.5,200.4 446.8,200.7 448.1,200.8 449.4,201 450.7,201.1 452,201.7 453.3,201.9 454.6,202 455.9,201.2 457.2,201.1 458.5,201.1 459.8,201 461.1,200.6 462.4,201.1 463.7,199.2 465,199.9 466.3,199.3 467.6,200.8 468.9,200.2 470.2,200.3 471.5,201.1 472.8,200.6 474.1,201.1 475.4,201.2 476.7,202 478,201 479.3,201.1 480.6,201.4 481.9,201.1 483.2,201.2 484.5,200.9 485.8,201.5 487.1,201.3 488.4,201.8 489.7,201.1 491,201.6 492.3,201.4 493.6,201.7 494.9,200.9 496.2,201.6 497.5,200.6 498.8,201.1 500.1,201.2 501.4,200.1 502.7,200.9 504,200 505.3,201 506.6,200.1 507.9,200.9 509.2,201.2 510.5,200.8 511.8,200.9 513.1,201.7 514.4,201.2 515.7,201.9 517,201.6 518.3,202.7 519.6,201.8 520.9,202.2 522.2,201.4 523.5,201.3 524.8,201.4 526.1,200.5 527.4,200.9 528.7,201.5 530,201 531.3,200.8 532.6,201.2 533.9,201 535.2,201.3" fill="none" stroke="#3a3a3a" stroke-width="0.42" /><polyline points="10,204.9 11.3,204.5 12.6,204.1 13.9,204.2 15.2,204.4 16.5,204.4 17.8,204 19.1,204.3 20.4,205.3 21.7,204.2 23,204.3 24.3,203.8 25.6,204.6 26.9,204.2 28.2,205.1 29.5,204.9 30.8,204.8 32.1,204.3 33.4,204.4 34.7,204.4 36,204.6 37.3,204.4 38.6,204.1 39.9,204.2 41.2,204.1 42.5,204 43.8,204.6 45.1,204.9 46.4,204.2 47.7,204.9 49,204.2 50.3,204.3 51.6,204.7 52.9,203.8 54.2,204.8 55.5,204.9 56.8,204.8 58.1,204.6 59.4,204.2 60.7,203.4 62,203.9 63.3,204.4 64.6,203.6 65.9,204.4 67.2,204.2 68.5,204.4 69.8,203.4 71.1,201 72.4,201 73.7,201.5 75,202.4 76.3,202.8 77.6,203 78.9,203.2 80.2,203.2 81.5,202.8 82.8,203.5 84.1,203.7 85.4,203.4 86.7,203.9 88,204.1 89.3,204.9 90.6,204.2 91.9,204.1 93.2,203.8 94.5,203.7 95.8,203.6 97.1,203.7 98.4,204.5 99.7,204 101,201.4 102.3,195.6 103.6,197.8 104.9,199.9 106.2,202.6 107.5,203.2 108.8,200.5 110.1,201.1 111.4,202 112.7,202.5 114,203.3 115.3,204.4 116.6,204.3 117.9,204.5 119.2,204.1 120.5,204 121.8,204.2 123.1,203.9 124.4,204.7 125.7,204.3 127,204.8 128.3,204.6 129.6,204.4 130.9,204.5 132.2,204.1 133.5,204 134.8,204.5 136.1,204.9 137.4,204.4 138.7,204.4 140,204.1 141.3,203.8 142.6,204.5 143.9,204.4 145.2,204 146.5,204.3 147.8,204 149.1,204.9 150.4,204.4 151.7,204.5 153,205 154.3,203.5 155.6,204.6 156.9,204.5 158.2,204.6 159.5,204.8 160.8,205.2 162.1,204.5 163.4,204 164.7,204.7 166,204.7 167.3,204.5 168.6,204.8 169.9,204.6 171.2,204.2 172.5,204.1 173.8,204.3 175.1,204.1 176.4,203.6 177.7,204.1 179,204 180.3,203.6 181.6,204.2 182.9,204.2 184.2,204.9 185.5,204.7 186.8,204.5 188.1,204.5 189.4,204.6 190.7,204.3 192,204.1 193.3,205 194.6,204.2 195.9,204.6 197.2,204.2 198.5,204.5 199.8,205 201.1,205.1 202.4,203.9 203.7,203.6 205,202.7 206.3,204.1 207.6,204.4 208.9,204.2 210.2,204.2 211.5,203 212.8,202.8 214.1,203.4 215.4,203.9 216.7,204.2 218,204.2 219.3,204.1 220.6,204.4 221.9,204.2 223.2,205.2 224.5,204.9 225.8,204.4 227.1,204.5 228.4,204.5 229.7,204 231,204.5 232.3,204.3 233.6,204.3 234.9,204.3 236.2,203.3 237.5,204.2 238.8,203.8 240.1,203.7 241.4,205.2 242.7,204.3 244,204.2 245.3,204.2 246.6,204 247.9,204.8 249.2,203.6 250.5,204.3 251.8,203.8 253.1,204.6 254.4,204.6 255.7,204.5 257,203.9 258.3,204.9 259.6,204.9 260.9,204.7 262.2,204.3 263.5,204.6 264.8,204.2 266.1,204.4 267.4,204.4 268.7,204.2 270,203.6 271.3,204.3 272.6,204.1 273.9,203.8 275.2,204.6 276.5,204.1 277.8,203.9 279.1,204.1 280.4,204.5 281.7,204.2 283,204.2 284.3,204.4 285.6,204.4 286.9,203.9 288.2,204 289.5,204.8 290.8,203.5 292.1,203.4 293.4,203.9 294.7,204.2 296,204.4 297.3,204.9 298.6,204.1 299.9,204.1 301.2,203.6 302.5,202.8 303.8,200.6 305.1,201.8 306.4,202.2 307.7,203.1 309,203.3 310.3,203.4 311.6,201.2 312.9,202.3 314.2,203.4 315.5,202.9 316.8,203.2 318.1,203.9 319.4,203.8 320.7,204.3 322,204.2 323.3,203.8 324.6,204.6 325.9,204 327.2,204.1 328.5,204.4 329.8,205 331.1,204.3 332.4,204.6 333.7,204 335,204.4 336.3,203.9 337.6,204.1 338.9,203.9 340.2,203.8 341.5,203.3 342.8,204.3 344.1,204.6 345.4,204.5 346.7,204.6 348,204.6 349.3,204.6 350.6,203.9 351.9,204 353.2,204.1 354.5,204.2 355.8,203.8 357.1,203.7 358.4,204.4 359.7,204.6 361,204.8 362.3,204.3 363.6,203.9 364.9,204.5 366.2,204.5 367.5,204.2 368.8,203.9 370.1,203.6 371.4,203.9 372.7,204.2 374,204.5 375.3,204.4 376.6,204.4 377.9,204.9 379.2,204 380.5,204.7 381.8,203.8 383.1,203.7 384.4,204 385.7,203.7 387,205 388.3,204.5 389.6,204.6 390.9,204.9 392.2,204.3 393.5,204.8 394.8,203.7 396.1,204.6 397.4,204.3 398.7,203.9 400,204.3 401.3,204.3 402.6,204.1 403.9,203.7 405.2,205.1 406.5,203.3 407.8,204.3 409.1,205.2 410.4,204.7 411.7,204.3 413,204.4 414.3,203.8 415.6,204.2 416.9,204.1 418.2,203.5 419.5,203.6 420.8,204.5 422.1,203.5 423.4,203.9 424.7,205.1 426,203.8 427.3,203.8 428.6,203.8 429.9,204.5 431.2,203.9 432.5,203.9 433.8,203.1 435.1,203.6 436.4,204 437.7,204.3 439,205.1 440.3,204.8 441.6,203.6 442.9,204.1 444.2,204.2 445.5,204.5 446.8,204.6 448.1,204.6 449.4,203.7 450.7,203.3 452,204.5 453.3,203.8 454.6,203.3 455.9,203.9 457.2,204.3 458.5,203.9 459.8,203.9 461.1,204.8 462.4,203.7 463.7,204.5 465,204.6 466.3,204.3 467.6,205.3 468.9,203.8 470.2,205.2 471.5,203.7 472.8,204.1 474.1,204.2 475.4,204.4 476.7,204.2 478,203.9 479.3,204 480.6,204.5 481.9,204.9 483.2,204 484.5,204.7 485.8,204.6 487.1,204.4 488.4,204 489.7,203.6 491,204.4 492.3,203.3 493.6,204 494.9,204.7 496.2,203.7 497.5,204.8 498.8,205.1 500.1,204.1 501.4,204.6 502.7,204.8 504,204.6 505.3,204.5 506.6,204.6 507.9,204.9 509.2,204 510.5,204.1 511.8,204.2 513.1,203.7 514.4,204.5 515.7,204.2 517,204 518.3,204.8 519.6,203.7 520.9,204.3 522.2,204.6 523.5,204.5 524.8,204.1 526.1,204.3 527.4,204.1 528.7,204.3 530,203.9 531.3,203.6 532.6,203.6 533.9,204.1 535.2,203.2" fill="none" stroke="#3a3a3a" stroke-width="0.42" /><polyline points="10,226.5 10.5,226.5 11,226.5 11.5,226.5 12,226.5 12.5,226.5 13,226.5 13.5,226.5 14,226.5 14.5,226.5 15,226.5 15.5,226.5 16,226.5 16.5,226.5 17,226.5 17.5,226.5 18,226.5 18.5,226.5 19,226.5 19.5,226.5 20,226.5 20.5,226.5 21,226.5 21.5,226.5 22,226.5 22.5,226.5 23,226.5 23.5,226.5 24,226.5 24.5,226.5 25,226.5 25.5,226.5 26,226.5 26.5,226.5 27,226.5 27.5,226.5 28,226.5 28.5,226.5 29,226.5 29.5,226.5 30,226.5 30.5,226.5 31,226.5 31.5,226.5 32,226.5 32.5,226.5 33,226.5 33.5,226.5 34,226.5 34.5,226.5 35,226.5 35.5,226.5 36,226.5 36.5,226.5 37,226.5 37.5,226.5 38,226.5 38.5,226.5 39,226.5 39.5,226.5 40,226.5 40.5,226.5 41,226.5 41.5,226.5 42,226.5 42.5,226.5 43,226.5 43.5,226.5 44,226.5 44.5,226.5 45,226.5 45.5,226.5 46,226.5 46.5,226.5 47,226.5 47.5,226.5 48,226.5 48.5,226.5 49,226.5 49.5,226.5 50,226.5 50.5,226.5 51,226.5 51.5,226.5 52,226.5 52.5,226.5 53,226.5 53.5,226.5 54,226.5 54.5,226.5 55,226.5 55.5,226.5 56,226.5 56.5,226.5 57,226.5 57.5,226.5 58,226.5 58.5,226.5 59,226.5 59.5,226.5 60,226.5 60.5,225 61,223.5 61.5,225 62,226.5 62.5,224.8 63,223.2 63.5,220.3 64,226.5 64.5,227.3 65,221 65.5,219.8 66,226.2 66.5,228.5 67,223.7 67.5,219.9 68,216.8 68.5,215.4 69,215.8 69.5,215.7 70,215.2 70.5,215.3 71,216.5 71.5,217.2 72,216.6 72.5,216.2 73,217.5 73.5,216.7 74,215.8 74.5,215.7 75,214.8 75.5,214.4 76,213.1 76.5,214.6 77,214.6 77.5,216.8 78,216.5 78.5,214.8 79,216.4 79.5,213.9 80,214.1 80.5,214.9 81,215.6 81.5,216.9 82,217.3 82.5,217.4 83,217.8 83.5,217.1 84,219.3 84.5,219.2 85,220.2 85.5,218.9 86,220 86.5,220.2 87,220.6 87.5,220.4 88,220.2 88.5,220.6 89,221.8 89.5,223.3 90,224.5 90.5,223.5 91,223.9 91.5,222.8 92,222.7 92.5,226 93,225.5 93.5,225.4 94,225.2 94.5,225.1 95,225 95.5,225.5 96,226 96.5,224.5 97,223.4 97.5,224.6 98,226.2 98.5,225.6 99,225 99.5,225.8 100,226.5 100.5,226.5 101,226.5 101.5,226.5 102,226.5 102.5,226.5 103,226.5 103.5,226.5 104,226.5 104.5,226.5 105,226.5 105.5,226.5 106,226.5 106.5,226.5 107,226.5 107.5,226.5 108,226.5 108.5,226.5 109,226.5 109.5,226.5 110,226.5 110.5,226.5 111,226.5 111.5,226.5 112,226.5 112.5,226.5 113,226.5 113.5,226.5 114,226.5 114.5,226.5 115,226.5 115.5,226.5 116,226.5 116.5,226.5 117,226.5 117.5,226.5 118,226.5 118.5,226.5 119,226.5 119.5,226.5 120,226.5 120.5,226.5 121,226.5 121.5,226.5 122,226.5 122.5,226.5 123,226.5 123.5,226.5 124,226.5 124.5,226.5 125,226.5 125.5,226.5 126,226.5 126.5,226.5 127,226.5 127.5,226.5 128,226.5 128.5,226.5 129,226.5 129.5,226.5 130,226.5 130.5,226.5 131,226.5 131.5,226.5 132,226.5 132.5,226.5 133,226.5 133.5,226.5 134,226.5 134.5,226.5 135,226.5 135.5,226.5 136,226.5 136.5,226.5 137,226.5 137.5,226.5 138,226.5 138.5,226.5 139,226.5 139.5,226.5 140,226.5 140.5,226.5 141,226.5 141.5,226.5 142,226.5 142.5,226.5 143,225.3 143.5,225.3 144,225.3 144.5,226.5 145,226.5 145.5,226.5 146,226.5 146.5,226.5 147,226.5 147.5,226.5 148,226.5 148.5,226.5 149,226.5 149.5,226.5 150,226.5 150.5,226.5 151,226.5 151.5,226.5 152,226.5 152.5,226.5 153,226.5 153.5,226.5 154,226.5 154.5,226.5 155,226.5 155.5,226.5 156,226.5 156.5,226.5 157,226.5 157.5,226.5 158,226.5 158.5,226.5 159,226.5 159.5,226.5 160,226.5 160.5,226.5 161,226.5 161.5,226.5 162,226.5 162.5,226.5 163,226.5 163.5,226.5 164,226.5 164.5,226.5 165,226.5 165.5,226.5 166,226.5 166.5,226.5 167,226.5 167.5,226.5 168,226.5 168.5,226.5 169,226.5 169.5,226.5 170,226.5 170.5,226.5 171,226.5 171.5,226.5 172,226.5 172.5,226.5 173,226.5 173.5,226.5 174,226.5 174.5,226.5 175,226.5 175.5,226.5 176,226.5 176.5,226.5 177,226.5 177.5,226.5 178,226.5 178.5,226.5 179,226.5 179.5,226.5 180,226.5 180.5,226.5 181,226.5 181.5,226.5 182,226.5 182.5,226.5 183,226.5 183.5,226.5 184,226.5 184.5,226.5 185,226.5 185.5,226.5 186,226.5 186.5,226.5 187,226.5 187.5,226.5 188,226.5 188.5,226.5 189,226.5 189.5,226.5 190,226.5 190.5,226.5 191,226.5 191.5,226.5 192,226.5 192.5,226.5 193,226.5 193.5,226.5 194,226.5 194.5,226.5 195,226.5 195.5,226.5 196,226.5 196.5,226.5 197,226.5 197.5,226.5 198,226.5 198.5,226.5 199,226.5 199.5,226.5 200,226.5 200.5,226.5 201,226.5 201.5,226.5 202,226.5 202.5,226.5 203,226.5 203.5,226.5 204,226.5 204.5,226.5 205,226.5 205.5,226.5 206,226.5 206.5,226.5 207,226.5 207.5,226.5 208,226.5 208.5,226.5 209,226.5 209.5,226.5 210,226.5 210.5,226.5 211,226.5 211.5,226.5 212,226.5 212.5,226.5 213,226.5 213.5,226.5 214,226.5 214.5,226.5 215,226.5 215.5,226.5 216,226.5 216.5,226.5 217,226.5 217.5,226.5 218,226.5 218.5,226.5 219,226.5 219.5,226.5 220,226.5 220.5,226.5 221,226.5 221.5,226.5 222,217.6 222.5,209.7 223,207.2 223.5,207.3 224,210.5 224.5,212 225,211.8 225.5,211.4 226,214.1 226.5,214.3 227,215.7 227.5,214.8 228,214.9 228.5,214.8 229,216.1 229.5,214.3 230,216.7 230.5,215.4 231,217.9 231.5,217 232,216.8 232.5,215.4 233,223.2 233.5,225.3 234,220.9 234.5,224.1 235,225.5 235.5,224.2 236,222.7 236.5,222.7 237,224.5 237.5,223 238,221.9 238.5,224.3 239,225.5 239.5,223.3 240,221.6 240.5,223.9 241,225 241.5,224.5 242,222.8 242.5,224.3 243,226 243.5,225.5 244,225 244.5,225.5 245,226 245.5,225.9 246,225.8 246.5,225.6 247,225.5 247.5,225.8 248,226 248.5,226.2 249,226.5 249.5,226.5 250,226.5 250.5,226.5 251,226.5 251.5,226.5 252,226.5 252.5,226.5 253,226.5 253.5,226.5 254,226.5 254.5,226.5 255,226.5 255.5,226.5 256,226.5 256.5,226.5 257,226.5 257.5,226.5 258,226.5 258.5,226.5 259,226.5 259.5,226.5 260,226.5 260.5,226.5 261,226.5 261.5,226.5 262,226.5 262.5,226.5 263,226.5 263.5,226.5 264,226.5 264.5,226.5 265,226.5 265.5,226.5 266,226.5 266.5,226.5 267,226.5 267.5,225.3 268,225.3 268.5,225.3 269,226.5 269.5,226.5 270,226.5 270.5,226.5 271,226.5 271.5,226.5 272,226.5 272.5,226.5 273,226.5 273.5,226.5 274,226.5 274.5,226.5 275,226.5 275.5,226.5 276,226.5 276.5,226.5 277,226.5 277.5,226.5 278,226.5 278.5,226.5 279,226.5 279.5,226.5 280,226.5 280.5,226.5 281,226.5 281.5,226.5 282,226.5 282.5,226.5 283,226.5 283.5,226.5 284,225 284.5,224.1 285,226 285.5,228.5 286,224.5 286.5,219.7 287,219 287.5,218 288,218.4 288.5,216.3 289,216.2 289.5,216.8 290,217.9 290.5,216.7 291,216.4 291.5,215.2 292,216.3 292.5,216.7 293,215.6 293.5,215.7 294,216.7 294.5,216.4 295,215.8 295.5,217.2 296,216.2 296.5,217 297,217.6 297.5,216.7 298,216.5 298.5,216.1 299,217.2 299.5,217.3 300,218.6 300.5,219.9 301,219.5 301.5,218.9 302,220 302.5,220 303,222.6 303.5,221.4 304,217.7 304.5,221.3 305,224.5 305.5,223.3 306,221.2 306.5,220.7 307,223 307.5,225.5 308,222.7 308.5,222.7 309,221.3 309.5,224.2 310,225.5 310.5,224.5 311,224.5 311.5,222.8 312,225.1 312.5,226 313,225.3 313.5,224.7 314,224.2 314.5,225.2 315,226.5 315.5,226.5 316,226.5 316.5,226.5 317,226.5 317.5,226.5 318,226.5 318.5,226.5 319,226.5 319.5,226.5 320,226.5 320.5,226.5 321,226.5 321.5,226.5 322,226.5 322.5,226.5 323,226.5 323.5,226.5 324,226.5 324.5,226.5 325,226.5 325.5,226.5 326,226.5 326.5,226.5 327,226.5 327.5,226.5 328,226.5 328.5,226.5 329,226.5 329.5,226.5 330,226.5 330.5,226.5 331,226.5 331.5,226.5 332,226.5 332.5,226.5 333,226.5 333.5,226.5 334,226.5 334.5,226.5 335,226.5 335.5,226.5 336,226.5 336.5,226.5 337,226.5 337.5,226.5 338,226.5 338.5,226.5 339,226.5 339.5,226.5 340,226.5 340.5,226.5 341,226.5 341.5,226.5 342,226.5 342.5,225.3 343,225.3 343.5,225.3 344,226.5 344.5,226.5 345,226.5 345.5,226.5 346,226.5 346.5,226.5 347,226.5 347.5,226.5 348,226.5 348.5,226.5 349,226.5 349.5,226.5 350,226.5 350.5,226.5 351,226.5 351.5,226.5 352,226.5 352.5,226.5 353,226.5 353.5,226.5 354,226.5 354.5,226.5 355,226.5 355.5,226.5 356,226.5 356.5,226.5 357,226.5 357.5,226.5 358,226.5 358.5,226.5 359,226.5 359.5,226.5 360,226.5 360.5,226.5 361,226.5 361.5,226.5 362,226.5 362.5,226.5 363,226.5 363.5,226.5 364,226.5 364.5,226.5 365,226.5 365.5,226.5 366,226.5 366.5,226.5 367,226.5 367.5,226.5 368,226.5 368.5,226.5 369,226.5 369.5,226.5 370,226.5 370.5,226.5 371,226.5 371.5,226.5 372,226.5 372.5,226.5 373,226.5 373.5,226.5 374,226.5 374.5,226.5 375,226.5 375.5,226.5 376,226.5 376.5,226.5 377,222.7 377.5,221.4 378,218.5 378.5,218.2 379,218.1 379.5,215.8 380,215.5 380.5,217.2 381,217.2 381.5,215.3 382,217.2 382.5,216.3 383,216.8 383.5,215.5 384,216.1 384.5,216.2 385,216.8 385.5,214.8 386,214.5 386.5,216.2 387,215.7 387.5,215.7 388,216 388.5,216.3 389,216.8 389.5,216.1 390,217.9 390.5,217.8 391,216.8 391.5,218.6 392,219.3 392.5,223.7 393,220.8 393.5,217.5 394,221.5 394.5,224.5 395,222.4 395.5,219.1 396,222 396.5,225.5 397,223.7 397.5,222.1 398,221.1 398.5,224.1 399,225.5 399.5,223.2 400,223.4 400.5,224.5 401,226 401.5,225.9 402,225.8 402.5,225.6 403,225.5 403.5,226 404,226.5 404.5,226.4 405,226.3 405.5,226.3 406,226.2 406.5,226.1 407,226.1 407.5,226 408,225.9 408.5,226.1 409,226.2 409.5,226.3 410,226.5 410.5,226.4 411,226.3 411.5,226.2 412,226.1 412.5,226 413,225.9 413.5,225.8 414,225.7 414.5,225.3 415,225.3 415.5,225.3 416,226.5 416.5,226.4 417,226.3 417.5,226.3 418,226.2 418.5,226.1 419,226.1 419.5,225.3 420,225.3 420.5,225.3 421,226.1 421.5,226.1 422,226.2 422.5,226.3 423,226.3 423.5,226.4 424,226.5 424.5,226.4 425,226.4 425.5,226.3 426,226.2 426.5,226.2 427,226.1 427.5,226.1 428,226 428.5,226.2 429,226.5 429.5,226.5 430,226.5 430.5,226.5 431,226.5 431.5,226.5 432,226.5 432.5,226.5 433,226.5 433.5,226.5 434,226.5 434.5,226.5 435,226.5 435.5,226.5 436,226.5 436.5,226.5 437,226.5 437.5,226.5 438,226.5 438.5,226.5 439,226.5 439.5,226.5 440,226.5 440.5,226.5 441,226.5 441.5,226.5 442,226.5 442.5,226.5 443,226.5 443.5,226.5 444,226.5 444.5,226.5 445,226.5 445.5,226.5 446,226.5 446.5,226.5 447,226.5 447.5,226.5 448,226.5 448.5,226.5 449,226.5 449.5,226.5 450,226.5 450.5,226.5 451,226.5 451.5,226.5 452,226.5 452.5,226.5 453,226.5 453.5,226.5 454,226.5 454.5,226.5 455,226.5 455.5,226.5 456,226.5 456.5,226.5 457,226.5 457.5,226.5 458,226.5 458.5,226.5 459,226.5 459.5,226.5 460,226.5 460.5,226.5 461,226.5 461.5,226.5 462,226.5 462.5,226.5 463,226.5 463.5,226.5 464,226.5 464.5,226.5 465,226.5 465.5,226.5 466,226.5 466.5,226.5 467,226.5 467.5,226.5 468,226.5 468.5,226.5 469,226.5 469.5,226.5 470,226.5 470.5,226.5 471,226.5 471.5,226.5 472,226.5 472.5,226.5 473,226.5 473.5,226.5 474,226.5 474.5,226.5 475,226.5 475.5,226.5 476,226.5 476.5,226.5 477,225.1 477.5,221.3 478,219.3 478.5,217.5 479,216.4 479.5,217.1 480,214.9 480.5,216.6 481,215.7 481.5,217.2 482,216.8 482.5,217 483,215.2 483.5,217 484,216.5 484.5,215.1 485,215.9 485.5,216.8 486,217.2 486.5,218.1 487,217.4 487.5,217 488,216.5 488.5,216.8 489,218.9 489.5,222.2 490,221 490.5,218.8 491,219.8 491.5,223.4 492,220.4 492.5,220.7 493,221.5 493.5,223.4 494,224.5 494.5,223.1 495,221.5 495.5,223.1 496,225.5 496.5,224.6 497,222.5 497.5,222.4 498,223 498.5,224.5 499,226 499.5,224.8 500,223.1 500.5,224.8 501,226 501.5,224.8 502,223.4 502.5,223 503,224.5 503.5,226.5 504,225.8 504.5,225.2 505,224.5 505.5,225.5 506,226.5 506.5,226.5 507,226.5 507.5,226.5 508,226.5 508.5,226.5 509,226.5 509.5,226.5 510,226.5 510.5,226.5 511,226.5 511.5,226.5 512,226.5 512.5,226.5 513,226.5 513.5,226.5 514,226.5 514.5,226.5 515,226.5 515.5,226.5 516,226.5 516.5,226.5 517,226.5 517.5,226.5 518,226.5 518.5,226.5 519,226.5 519.5,225.3 520,225.3 520.5,225.3 521,226.5 521.5,226.5 522,226.5 522.5,226.5 523,226.5 523.5,226.5 524,226.5 524.5,226.5 525,226.5 525.5,226.5 526,226.5 526.5,226.5 527,226.5 527.5,226.5 528,226.5 528.5,226.5 529,226.5 529.5,226.5 530,226.5 530.5,226.5 531,226.5 531.5,226.5 532,226.5 532.5,226.5 533,226.5 533.5,226.5 534,226.5 534.5,226.5 535,226.5 535.5,226.5 536,226.5 536.5,226.5 537,226.5 537.5,226.5" fill="none" stroke="#cc2312" stroke-width="0.95" /><line x1="7.2" y1="227.8" x2="539.5" y2="227.8" stroke="#231f20" stroke-width="0.6"/><line x1="18" y1="227.8" x2="18" y2="230" stroke="#231f20" stroke-width="0.5"/><text x="18" y="240.5" font-size="7" stroke="#231f20" stroke-width="0.175" text-anchor="middle" >−20</text><line x1="70.5" y1="227.8" x2="70.5" y2="230" stroke="#231f20" stroke-width="0.5"/><text x="70.5" y="240.5" font-size="7" stroke="#231f20" stroke-width="0.175" text-anchor="middle" >0</text><line x1="123" y1="227.8" x2="123" y2="230" stroke="#231f20" stroke-width="0.5"/><text x="123" y="240.5" font-size="7" stroke="#231f20" stroke-width="0.175" text-anchor="middle" >20</text><line x1="175.5" y1="227.8" x2="175.5" y2="230" stroke="#231f20" stroke-width="0.5"/><text x="175.5" y="240.5" font-size="7" stroke="#231f20" stroke-width="0.175" text-anchor="middle" >40</text><line x1="228.1" y1="227.8" x2="228.1" y2="230" stroke="#231f20" stroke-width="0.5"/><text x="228.1" y="240.5" font-size="7" stroke="#231f20" stroke-width="0.175" text-anchor="middle" >60</text><line x1="280.6" y1="227.8" x2="280.6" y2="230" stroke="#231f20" stroke-width="0.5"/><text x="280.6" y="240.5" font-size="7" stroke="#231f20" stroke-width="0.175" text-anchor="middle" >80</text><line x1="333.1" y1="227.8" x2="333.1" y2="230" stroke="#231f20" stroke-width="0.5"/><text x="333.1" y="240.5" font-size="7" stroke="#231f20" stroke-width="0.175" text-anchor="middle" >100</text><line x1="385.6" y1="227.8" x2="385.6" y2="230" stroke="#231f20" stroke-width="0.5"/><text x="385.6" y="240.5" font-size="7" stroke="#231f20" stroke-width="0.175" text-anchor="middle" >120</text><line x1="438.1" y1="227.8" x2="438.1" y2="230" stroke="#231f20" stroke-width="0.5"/><text x="438.1" y="240.5" font-size="7" stroke="#231f20" stroke-width="0.175" text-anchor="middle" >140</text><line x1="490.7" y1="227.8" x2="490.7" y2="230" stroke="#231f20" stroke-width="0.5"/><text x="490.7" y="240.5" font-size="7" stroke="#231f20" stroke-width="0.175" text-anchor="middle" >160</text><text x="273" y="252" font-size="8.2" stroke="#231f20" stroke-width="0.2" text-anchor="middle" >Time (s)</text><line x1="505.7" y1="209" x2="505.7" y2="219.5" stroke="#c8250f" stroke-width="1"/><text x="508" y="217.8" font-size="7" fill="#c8250f" stroke="#c8250f" stroke-width="0.175" >0.05 cm s<tspan font-size="4.5" dy="-3">−1</tspan></text><text x="552.1" y="8.8" font-size="12" fill="#000" font-weight="bold" >b</text><rect x="598" y="9" width="42.2" height="217" fill="url(#bshade)"/><rect x="640.2" y="8" width="4.4" height="218" fill="#f8d4d2"/><line x1="640.2" y1="8" x2="640.2" y2="226" stroke="#e56a6a" stroke-width="0.45" stroke-dasharray="1.2,0.8"/><line x1="644.6" y1="8" x2="644.6" y2="226" stroke="#e56a6a" stroke-width="0.45" stroke-dasharray="1.2,0.8"/><line x1="568.7" y1="15.2" x2="580.5" y2="15.2" stroke="#6d6d6d" stroke-width="1.5"/><line x1="568.7" y1="27" x2="580.5" y2="27" stroke="#cc3a36" stroke-width="1.5"/><line x1="568.7" y1="38.4" x2="580.5" y2="38.4" stroke="#3f7fd9" stroke-width="1.5"/><text x="583.7" y="17.4" font-size="7.2" stroke="#231f20" stroke-width="0.18"  textLength="37.3" lengthAdjust="spacingAndGlyphs">Ca<tspan font-size="4.3" dy="-2.6">2+</tspan><tspan dy="2.6"> (0′–10′)</tspan></text><text x="583.7" y="29.2" font-size="7.2" stroke="#231f20" stroke-width="0.18"  textLength="40.5" lengthAdjust="spacingAndGlyphs">Ca<tspan font-size="4.3" dy="-2.6">2+</tspan><tspan dy="2.6"> (30′–40′)</tspan></text><text x="583.7" y="40.6" font-size="7.2" stroke="#231f20" stroke-width="0.18"  textLength="25.3" lengthAdjust="spacingAndGlyphs">Velocity</text><text x="622.8" y="19.2" font-size="5.6" fill="#d42a2a" stroke="#d42a2a" stroke-width="0.14"  textLength="16" lengthAdjust="spacingAndGlyphs">Airpuff</text><g stroke="#d42a2a" fill="none"><circle cx="633.6" cy="7.6" r="3.1" stroke-width="1.1"/><circle cx="633.2" cy="7.4" r="1.1" stroke-width="0.6"/><line x1="626.5" y1="7.6" x2="630.5" y2="7.6" stroke-width="1.5"/></g><line x1="580" y1="60" x2="672" y2="60" stroke="#9a9a9a" stroke-width="0.4" stroke-dasharray="1,1"/><text x="568" y="56.8" font-size="8" stroke="#231f20" stroke-width="0.2" >Cell 12</text><text x="663" y="57.5" font-size="6.3" stroke="#231f20" stroke-width="0.158" >5%</text><line x1="673" y1="49.3" x2="673" y2="60" stroke="#231f20" stroke-width="1.2"/><polygon points="577.6,60.7 578.4,60 579.2,59.4 580,59.3 580.8,59.6 581.6,59.8 582.4,59.9 583.2,59.2 584,59.5 584.8,60.1 585.6,59.7 586.4,59.7 587.2,59.3 588,59.5 588.8,59.9 589.6,59.7 590.4,59.3 591.2,59.6 592,59.3 592.8,58.5 593.6,58.9 594.4,59.2 595.2,58.3 596,58.3 596.8,58.8 597.6,58.6 598.4,58.2 599.2,58.7 600,59.6 600.8,58.7 601.6,57.3 602.4,56.8 603.2,56.6 604,55.6 604.8,54.8 605.6,54.5 606.4,53.5 607.2,52 608,51.5 608.8,51.1 609.6,51.3 610.4,50.9 611.2,50.4 612,50.7 612.8,50.4 613.6,51 614.4,52 615.2,51.8 616,52.3 616.8,53 617.6,52.9 618.4,52.8 619.2,53.1 620,52.6 620.8,52.6 621.6,53.5 622.4,52.8 623.2,52.8 624,53.5 624.8,53.9 625.6,53.6 626.4,53.1 627.2,53.1 628,52.5 628.8,52.4 629.6,52.4 630.4,52.1 631.2,51.7 632,51.7 632.8,51.9 633.6,51.1 634.4,50.9 635.2,51.2 636,51.3 636.8,50 637.6,49.4 638.4,49.9 639.2,49.3 640,48.5 640.8,48.7 641.6,47.5 642.4,46.3 643.2,46.2 644,44.4 644.8,42.3 645.6,39.9 646.4,37.5 647.2,36 648,34.1 648.8,30.4 649.6,27.1 650.4,25.6 651.2,24.1 652,21.6 652.8,19.4 653.6,19.7 654.4,20.3 655.2,20.4 656,20.5 656.8,21 657.6,21.7 658.4,21.8 659.2,21.9 660,21.7 660.8,21.8 661.6,23 662.4,23.4 663.2,22.7 664,23.5 664.8,24.5 665.6,25.1 666.4,25.2 667.2,24.5 668,24.2 668.8,25.1 669.6,26.8 670.4,26 671.2,24.7 671.2,27.3 670.4,28.6 669.6,29.4 668.8,27.7 668,26.8 667.2,27.1 666.4,27.8 665.6,27.7 664.8,27.1 664,26.1 663.2,25.3 662.4,26 661.6,25.6 660.8,24.4 660,24.3 659.2,24.5 658.4,24.4 657.6,24.3 656.8,23.6 656,23.1 655.2,23 654.4,22.9 653.6,22.3 652.8,22 652,24.2 651.2,26.7 650.4,28.2 649.6,29.7 648.8,33 648,36.7 647.2,38.6 646.4,40.1 645.6,42.5 644.8,44.9 644,47 643.2,48.8 642.4,48.9 641.6,50.1 640.8,51.3 640,51.1 639.2,51.9 638.4,52.5 637.6,52 636.8,52.6 636,53.9 635.2,53.8 634.4,53.5 633.6,53.7 632.8,54.5 632,54.3 631.2,54.3 630.4,54.7 629.6,55 628.8,55 628,55.1 627.2,55.7 626.4,55.7 625.6,56.2 624.8,56.5 624,56.1 623.2,55.4 622.4,55.4 621.6,56.1 620.8,55.2 620,55.2 619.2,55.7 618.4,55.4 617.6,55.5 616.8,55.6 616,54.9 615.2,54.4 614.4,54.6 613.6,53.6 612.8,53 612,53.3 611.2,53 610.4,53.5 609.6,53.9 608.8,53.7 608,54.1 607.2,54.6 606.4,56.1 605.6,57.1 604.8,57.4 604,58.2 603.2,59.2 602.4,59.4 601.6,59.9 600.8,61.3 600,62.2 599.2,61.3 598.4,60.8 597.6,61.2 596.8,61.4 596,60.9 595.2,60.9 594.4,61.8 593.6,61.5 592.8,61.1 592,61.9 591.2,62.2 590.4,61.9 589.6,62.3 588.8,62.5 588,62.1 587.2,61.9 586.4,62.3 585.6,62.3 584.8,62.7 584,62.1 583.2,61.8 582.4,62.5 581.6,62.4 580.8,62.2 580,61.9 579.2,62 578.4,62.6 577.6,63.3" fill="#b4b4b4" fill-opacity="0.9" /><polyline points="577.6,62 578.4,61.3 579.2,60.7 580,60.6 580.8,60.9 581.6,61.1 582.4,61.2 583.2,60.5 584,60.8 584.8,61.4 585.6,61 586.4,61 587.2,60.6 588,60.8 588.8,61.2 589.6,61 590.4,60.6 591.2,60.9 592,60.6 592.8,59.8 593.6,60.2 594.4,60.5 595.2,59.6 596,59.6 596.8,60.1 597.6,59.9 598.4,59.5 599.2,60 600,60.9 600.8,60 601.6,58.6 602.4,58.1 603.2,57.9 604,56.9 604.8,56.1 605.6,55.8 606.4,54.8 607.2,53.3 608,52.8 608.8,52.4 609.6,52.6 610.4,52.2 611.2,51.7 612,52 612.8,51.7 613.6,52.3 614.4,53.3 615.2,53.1 616,53.6 616.8,54.3 617.6,54.2 618.4,54.1 619.2,54.4 620,53.9 620.8,53.9 621.6,54.8 622.4,54.1 623.2,54.1 624,54.8 624.8,55.2 625.6,54.9 626.4,54.4 627.2,54.4 628,53.8 628.8,53.7 629.6,53.7 630.4,53.4 631.2,53 632,53 632.8,53.2 633.6,52.4 634.4,52.2 635.2,52.5 636,52.6 636.8,51.3 637.6,50.7 638.4,51.2 639.2,50.6 640,49.8 640.8,50 641.6,48.8 642.4,47.6 643.2,47.5 644,45.7 644.8,43.6 645.6,41.2 646.4,38.8 647.2,37.3 648,35.4 648.8,31.7 649.6,28.4 650.4,26.9 651.2,25.4 652,22.9 652.8,20.7 653.6,21 654.4,21.6 655.2,21.7 656,21.8 656.8,22.3 657.6,23 658.4,23.1 659.2,23.2 660,23 660.8,23.1 661.6,24.3 662.4,24.7 663.2,24 664,24.8 664.8,25.8 665.6,26.4 666.4,26.5 667.2,25.8 668,25.5 668.8,26.4 669.6,28.1 670.4,27.3 671.2,26" fill="none" stroke="#6a6a6a" stroke-width="0.8" /><polygon points="577.6,60.1 578.4,60.7 579.2,60.7 580,60.6 580.8,60.4 581.6,60.1 582.4,59.4 583.2,58.6 584,59.8 584.8,60.2 585.6,60.1 586.4,60.6 587.2,60.9 588,61 588.8,60.8 589.6,60.4 590.4,59.7 591.2,59.4 592,59.5 592.8,59.3 593.6,59.3 594.4,59.7 595.2,59.9 596,59.5 596.8,58.2 597.6,58 598.4,58.6 599.2,58.7 600,58.5 600.8,57.4 601.6,56.5 602.4,57.2 603.2,57.2 604,56.4 604.8,56.3 605.6,54.5 606.4,53 607.2,52.9 608,52.3 608.8,51.6 609.6,50.7 610.4,49.7 611.2,48.2 612,47.3 612.8,46.8 613.6,46.1 614.4,45.5 615.2,45 616,45.2 616.8,44.8 617.6,44.3 618.4,43.9 619.2,43.2 620,42.8 620.8,42.5 621.6,42.4 622.4,42.3 623.2,42.1 624,41.2 624.8,41.1 625.6,41.1 626.4,40.1 627.2,40.1 628,39.9 628.8,39.8 629.6,39.4 630.4,38.4 631.2,37.9 632,38.5 632.8,38.4 633.6,37 634.4,36.5 635.2,36 636,36.4 636.8,36.1 637.6,35.2 638.4,35.8 639.2,34.6 640,34.9 640.8,37.3 641.6,38.7 642.4,39.8 643.2,39.7 644,38.9 644.8,37.8 645.6,36.9 646.4,35.4 647.2,33.4 648,31.8 648.8,30.4 649.6,28.2 650.4,28.9 651.2,30.4 652,31 652.8,30.3 653.6,30.5 654.4,30.9 655.2,30.9 656,31.5 656.8,31 657.6,31.5 658.4,32.4 659.2,32.4 660,32.6 660.8,33 661.6,34.3 662.4,36.4 663.2,38.6 664,38.3 664.8,38 665.6,37.8 666.4,36.5 667.2,36.6 668,37.5 668.8,37.2 669.6,37.1 670.4,37.6 671.2,37.1 671.2,42.7 670.4,43.2 669.6,42.7 668.8,42.8 668,43.1 667.2,42.2 666.4,42 665.6,43.4 664.8,43.5 664,43.8 663.2,44.1 662.4,41.9 661.6,39.8 660.8,38.5 660,38.1 659.2,37.9 658.4,37.8 657.6,36.9 656.8,36.4 656,36.9 655.2,36.3 654.4,36.3 653.6,35.9 652.8,35.7 652,36.3 651.2,35.7 650.4,34.2 649.6,33.5 648.8,35.7 648,37.1 647.2,38.7 646.4,40.6 645.6,42.1 644.8,43 644,44.1 643.2,44.9 642.4,45 641.6,43.9 640.8,42.4 640,40 639.2,39.8 638.4,40.9 637.6,40.4 636.8,41.2 636,41.5 635.2,41.1 634.4,41.6 633.6,42 632.8,43.5 632,43.5 631.2,42.9 630.4,43.4 629.6,44.4 628.8,44.8 628,44.8 627.2,45 626.4,45 625.6,45.9 624.8,46 624,46.1 623.2,46.9 622.4,47.1 621.6,47.2 620.8,47.2 620,47.5 619.2,47.9 618.4,48.5 617.6,48.9 616.8,49.4 616,49.8 615.2,49.6 614.4,50 613.6,50.7 612.8,51.3 612,51.8 611.2,52.7 610.4,54.2 609.6,55.2 608.8,56.1 608,56.7 607.2,57.3 606.4,57.4 605.6,58.8 604.8,60.6 604,60.7 603.2,61.5 602.4,61.5 601.6,60.8 600.8,61.7 600,62.7 599.2,62.9 598.4,62.7 597.6,62.1 596.8,62.3 596,63.6 595.2,64 594.4,63.8 593.6,63.3 592.8,63.3 592,63.5 591.2,63.4 590.4,63.6 589.6,64.3 588.8,64.7 588,64.8 587.2,64.7 586.4,64.4 585.6,63.9 584.8,64 584,63.6 583.2,62.3 582.4,63.1 581.6,63.8 580.8,64.1 580,64.2 579.2,64.3 578.4,64.4 577.6,63.7" fill="#d7504c" fill-opacity="0.88" /><polyline points="577.6,61.9 578.4,62.5 579.2,62.5 580,62.4 580.8,62.2 581.6,62 582.4,61.2 583.2,60.5 584,61.7 584.8,62.1 585.6,62 586.4,62.5 587.2,62.8 588,62.9 588.8,62.8 589.6,62.4 590.4,61.7 591.2,61.4 592,61.5 592.8,61.3 593.6,61.3 594.4,61.7 595.2,62 596,61.5 596.8,60.3 597.6,60.1 598.4,60.6 599.2,60.8 600,60.6 600.8,59.6 601.6,58.7 602.4,59.4 603.2,59.3 604,58.6 604.8,58.5 605.6,56.7 606.4,55.2 607.2,55.1 608,54.5 608.8,53.8 609.6,52.9 610.4,52 611.2,50.5 612,49.5 612.8,49.1 613.6,48.4 614.4,47.7 615.2,47.3 616,47.5 616.8,47.1 617.6,46.6 618.4,46.2 619.2,45.6 620,45.2 620.8,44.8 621.6,44.8 622.4,44.7 623.2,44.5 624,43.7 624.8,43.5 625.6,43.5 626.4,42.5 627.2,42.5 628,42.3 628.8,42.3 629.6,41.9 630.4,40.9 631.2,40.4 632,41 632.8,40.9 633.6,39.5 634.4,39.1 635.2,38.5 636,39 636.8,38.7 637.6,37.8 638.4,38.4 639.2,37.2 640,37.4 640.8,39.8 641.6,41.3 642.4,42.4 643.2,42.3 644,41.5 644.8,40.4 645.6,39.5 646.4,38 647.2,36 648,34.5 648.8,33 649.6,30.9 650.4,31.6 651.2,33.1 652,33.6 652.8,33 653.6,33.2 654.4,33.6 655.2,33.6 656,34.2 656.8,33.7 657.6,34.2 658.4,35.1 659.2,35.2 660,35.4 660.8,35.8 661.6,37.1 662.4,39.1 663.2,41.3 664,41 664.8,40.8 665.6,40.6 666.4,39.3 667.2,39.4 668,40.3 668.8,40 669.6,39.9 670.4,40.4 671.2,39.9" fill="none" stroke="#9e2323" stroke-width="0.5" /><polygon points="577.6,60.4 578.4,60.9 579.2,60.6 580,60.3 580.8,60.6 581.6,60.6 582.4,60.6 583.2,60.4 584,60.3 584.8,60.8 585.6,60.8 586.4,60.2 587.2,60.2 588,60.6 588.8,60.5 589.6,60.1 590.4,60.3 591.2,60.2 592,59.9 592.8,60.2 593.6,59.8 594.4,60.1 595.2,60.4 596,59.9 596.8,59.9 597.6,60.1 598.4,59.5 599.2,59.4 600,59.9 600.8,60.1 601.6,60 602.4,59.8 603.2,59.7 604,59.6 604.8,59.7 605.6,59.7 606.4,59.4 607.2,59.4 608,59 608.8,58.6 609.6,59.1 610.4,59.2 611.2,58.7 612,58.6 612.8,58.5 613.6,58.3 614.4,58.1 615.2,57.9 616,57.5 616.8,57.5 617.6,57.5 618.4,56.7 619.2,56.3 620,55.6 620.8,54.6 621.6,53.4 622.4,52.4 623.2,52.5 624,51.1 624.8,49.3 625.6,48.5 626.4,47.4 627.2,46.1 628,44.9 628.8,44.5 629.6,43.8 630.4,43.2 631.2,42.1 632,40.9 632.8,40.8 633.6,39.6 634.4,37.9 635.2,37.5 636,37.4 636.8,37.2 637.6,37 638.4,36.3 639.2,36 640,35.6 640.8,33.5 641.6,29.8 642.4,27.1 643.2,25.1 644,23.3 644.8,21.8 645.6,20.6 646.4,19.2 647.2,18.5 648,18.2 648.8,17.8 649.6,17.7 650.4,17.8 651.2,17.7 652,17.5 652.8,18.2 653.6,18.8 654.4,19 655.2,19.3 656,19.6 656.8,20.2 657.6,20.3 658.4,21.3 659.2,22.6 660,23 660.8,23.7 661.6,24.4 662.4,24.9 663.2,24.8 664,25.3 664.8,26.4 665.6,27.2 666.4,27.9 667.2,28.3 668,28 668.8,27.5 669.6,28.1 670.4,28.6 671.2,28.7 671.2,31.7 670.4,31.6 669.6,31.1 668.8,30.5 668,31 667.2,31.3 666.4,30.9 665.6,30.2 664.8,29.4 664,28.3 663.2,27.8 662.4,27.9 661.6,27.4 660.8,26.7 660,26 659.2,25.6 658.4,24.3 657.6,23.3 656.8,23.2 656,22.6 655.2,22.3 654.4,22 653.6,21.8 652.8,21.2 652,20.5 651.2,20.7 650.4,20.8 649.6,20.7 648.8,20.8 648,21.2 647.2,21.5 646.4,22.2 645.6,23.6 644.8,24.8 644,26.3 643.2,28.1 642.4,30.1 641.6,32.8 640.8,36.5 640,38.6 639.2,39 638.4,39.3 637.6,40 636.8,40.2 636,40.4 635.2,40.5 634.4,40.9 633.6,42.6 632.8,43.8 632,43.9 631.2,45.1 630.4,46.2 629.6,46.8 628.8,47.5 628,47.9 627.2,49.1 626.4,50.4 625.6,51.5 624.8,52.3 624,54.1 623.2,55.5 622.4,55.4 621.6,56.4 620.8,57.6 620,58.6 619.2,59.3 618.4,59.7 617.6,60.5 616.8,60.5 616,60.5 615.2,60.9 614.4,61.1 613.6,61.3 612.8,61.5 612,61.6 611.2,61.7 610.4,62.2 609.6,62.1 608.8,61.6 608,62 607.2,62.4 606.4,62.4 605.6,62.7 604.8,62.7 604,62.6 603.2,62.7 602.4,62.8 601.6,63 600.8,63.1 600,62.9 599.2,62.4 598.4,62.5 597.6,63.1 596.8,62.9 596,62.9 595.2,63.4 594.4,63.1 593.6,62.8 592.8,63.2 592,62.9 591.2,63.2 590.4,63.3 589.6,63.1 588.8,63.5 588,63.6 587.2,63.2 586.4,63.2 585.6,63.8 584.8,63.8 584,63.3 583.2,63.4 582.4,63.6 581.6,63.6 580.8,63.6 580,63.3 579.2,63.6 578.4,63.9 577.6,63.4" fill="#9dbde6" fill-opacity="0.85" /><polyline points="577.6,61.9 578.4,62.4 579.2,62.1 580,61.8 580.8,62.1 581.6,62.1 582.4,62.1 583.2,61.9 584,61.8 584.8,62.3 585.6,62.3 586.4,61.7 587.2,61.7 588,62.1 588.8,62 589.6,61.6 590.4,61.8 591.2,61.7 592,61.4 592.8,61.7 593.6,61.3 594.4,61.6 595.2,61.9 596,61.4 596.8,61.4 597.6,61.6 598.4,61 599.2,60.9 600,61.4 600.8,61.6 601.6,61.5 602.4,61.3 603.2,61.2 604,61.1 604.8,61.2 605.6,61.2 606.4,60.9 607.2,60.9 608,60.5 608.8,60.1 609.6,60.6 610.4,60.7 611.2,60.2 612,60.1 612.8,60 613.6,59.8 614.4,59.6 615.2,59.4 616,59 616.8,59 617.6,59 618.4,58.2 619.2,57.8 620,57.1 620.8,56.1 621.6,54.9 622.4,53.9 623.2,54 624,52.6 624.8,50.8 625.6,50 626.4,48.9 627.2,47.6 628,46.4 628.8,46 629.6,45.3 630.4,44.7 631.2,43.6 632,42.4 632.8,42.3 633.6,41.1 634.4,39.4 635.2,39 636,38.9 636.8,38.7 637.6,38.5 638.4,37.8 639.2,37.5 640,37.1 640.8,35 641.6,31.3 642.4,28.6 643.2,26.6 644,24.8 644.8,23.3 645.6,22.1 646.4,20.7 647.2,20 648,19.7 648.8,19.3 649.6,19.2 650.4,19.3 651.2,19.2 652,19 652.8,19.7 653.6,20.3 654.4,20.5 655.2,20.8 656,21.1 656.8,21.7 657.6,21.8 658.4,22.8 659.2,24.1 660,24.5 660.8,25.2 661.6,25.9 662.4,26.4 663.2,26.3 664,26.8 664.8,27.9 665.6,28.7 666.4,29.4 667.2,29.8 668,29.5 668.8,29 669.6,29.6 670.4,30.1 671.2,30.2" fill="none" stroke="#3a7ad8" stroke-width="1.1" /><line x1="580" y1="112.8" x2="672" y2="112.8" stroke="#9a9a9a" stroke-width="0.4" stroke-dasharray="1,1"/><text x="582" y="108.3" font-size="8" stroke="#231f20" stroke-width="0.2" >33</text><text x="661.4" y="110.3" font-size="6.3" stroke="#231f20" stroke-width="0.158" >10%</text><line x1="673" y1="103.8" x2="673" y2="111.8" stroke="#231f20" stroke-width="1.2"/><polygon points="577.6,111.7 578.4,111.6 579.2,112 580,111.8 580.8,111.7 581.6,111.7 582.4,111.8 583.2,112 584,111.5 584.8,111.1 585.6,111.9 586.4,112 587.2,111.7 588,111.9 588.8,111.3 589.6,110.8 590.4,111.1 591.2,111.4 592,111.6 592.8,111 593.6,110.5 594.4,110.9 595.2,111.7 596,110.8 596.8,110.4 597.6,111 598.4,111 599.2,111 600,111 600.8,111.7 601.6,111.7 602.4,111.2 603.2,111.2 604,110.7 604.8,110.8 605.6,111 606.4,110.4 607.2,110.5 608,110.7 608.8,110.9 609.6,111 610.4,110.1 611.2,110 612,109.9 612.8,109.1 613.6,108.3 614.4,107 615.2,106 616,105.2 616.8,105 617.6,104.5 618.4,102.9 619.2,102.1 620,101.4 620.8,100.8 621.6,101 622.4,100.9 623.2,101.8 624,102.6 624.8,102.3 625.6,103.1 626.4,104.9 627.2,104.5 628,104.7 628.8,105.4 629.6,104.8 630.4,105.2 631.2,105 632,105.8 632.8,106.7 633.6,106.1 634.4,106 635.2,105.9 636,106.1 636.8,107.2 637.6,106.9 638.4,106.5 639.2,107.3 640,108 640.8,108.6 641.6,108.2 642.4,107.5 643.2,107.7 644,107.7 644.8,107.2 645.6,107.5 646.4,108.1 647.2,106.7 648,104.7 648.8,103.5 649.6,101.5 650.4,99.9 651.2,98.9 652,98.4 652.8,98.3 653.6,97.6 654.4,97.4 655.2,96.5 656,97 656.8,98.7 657.6,98.3 658.4,98.1 659.2,98.5 660,97.5 660.8,97.5 661.6,98.4 662.4,98 663.2,97.3 664,97.4 664.8,96.7 665.6,96.2 666.4,96.9 667.2,96.2 668,95.9 668.8,96 669.6,94.8 670.4,94.9 671.2,95.3 671.2,97.9 670.4,97.5 669.6,97.4 668.8,98.6 668,98.5 667.2,98.8 666.4,99.5 665.6,98.8 664.8,99.3 664,100 663.2,99.9 662.4,100.6 661.6,101 660.8,100.1 660,100.1 659.2,101.1 658.4,100.7 657.6,100.9 656.8,101.3 656,99.6 655.2,99.1 654.4,100 653.6,100.2 652.8,100.9 652,101 651.2,101.5 650.4,102.5 649.6,104.1 648.8,106.1 648,107.3 647.2,109.3 646.4,110.7 645.6,110.1 644.8,109.8 644,110.3 643.2,110.3 642.4,110.1 641.6,110.8 640.8,111.2 640,110.6 639.2,109.9 638.4,109.1 637.6,109.5 636.8,109.8 636,108.7 635.2,108.5 634.4,108.6 633.6,108.7 632.8,109.3 632,108.4 631.2,107.6 630.4,107.8 629.6,107.4 628.8,108 628,107.3 627.2,107.1 626.4,107.5 625.6,105.7 624.8,104.9 624,105.2 623.2,104.4 622.4,103.5 621.6,103.6 620.8,103.4 620,104 619.2,104.7 618.4,105.5 617.6,107.1 616.8,107.6 616,107.8 615.2,108.6 614.4,109.6 613.6,110.9 612.8,111.7 612,112.5 611.2,112.6 610.4,112.7 609.6,113.6 608.8,113.5 608,113.3 607.2,113.1 606.4,113 605.6,113.6 604.8,113.4 604,113.3 603.2,113.8 602.4,113.8 601.6,114.3 600.8,114.3 600,113.6 599.2,113.6 598.4,113.6 597.6,113.6 596.8,113 596,113.4 595.2,114.3 594.4,113.5 593.6,113.1 592.8,113.6 592,114.2 591.2,114 590.4,113.7 589.6,113.4 588.8,113.9 588,114.5 587.2,114.3 586.4,114.6 585.6,114.5 584.8,113.7 584,114.1 583.2,114.6 582.4,114.4 581.6,114.3 580.8,114.3 580,114.4 579.2,114.6 578.4,114.2 577.6,114.3" fill="#b4b4b4" fill-opacity="0.9" /><polyline points="577.6,113 578.4,112.9 579.2,113.3 580,113.1 580.8,113 581.6,113 582.4,113.1 583.2,113.3 584,112.8 584.8,112.4 585.6,113.2 586.4,113.3 587.2,113 588,113.2 588.8,112.6 589.6,112.1 590.4,112.4 591.2,112.7 592,112.9 592.8,112.3 593.6,111.8 594.4,112.2 595.2,113 596,112.1 596.8,111.7 597.6,112.3 598.4,112.3 599.2,112.3 600,112.3 600.8,113 601.6,113 602.4,112.5 603.2,112.5 604,112 604.8,112.1 605.6,112.3 606.4,111.7 607.2,111.8 608,112 608.8,112.2 609.6,112.3 610.4,111.4 611.2,111.3 612,111.2 612.8,110.4 613.6,109.6 614.4,108.3 615.2,107.3 616,106.5 616.8,106.3 617.6,105.8 618.4,104.2 619.2,103.4 620,102.7 620.8,102.1 621.6,102.3 622.4,102.2 623.2,103.1 624,103.9 624.8,103.6 625.6,104.4 626.4,106.2 627.2,105.8 628,106 628.8,106.7 629.6,106.1 630.4,106.5 631.2,106.3 632,107.1 632.8,108 633.6,107.4 634.4,107.3 635.2,107.2 636,107.4 636.8,108.5 637.6,108.2 638.4,107.8 639.2,108.6 640,109.3 640.8,109.9 641.6,109.5 642.4,108.8 643.2,109 644,109 644.8,108.5 645.6,108.8 646.4,109.4 647.2,108 648,106 648.8,104.8 649.6,102.8 650.4,101.2 651.2,100.2 652,99.7 652.8,99.6 653.6,98.9 654.4,98.7 655.2,97.8 656,98.3 656.8,100 657.6,99.6 658.4,99.4 659.2,99.8 660,98.8 660.8,98.8 661.6,99.7 662.4,99.3 663.2,98.6 664,98.7 664.8,98 665.6,97.5 666.4,98.2 667.2,97.5 668,97.2 668.8,97.3 669.6,96.1 670.4,96.2 671.2,96.6" fill="none" stroke="#6a6a6a" stroke-width="0.8" /><polygon points="577.6,111.6 578.4,111.7 579.2,111.3 580,112 580.8,112.2 581.6,111.5 582.4,110.9 583.2,111.5 584,112.3 584.8,111.6 585.6,111.4 586.4,111 587.2,110.5 588,110.5 588.8,111 589.6,111.5 590.4,111 591.2,111.1 592,111.7 592.8,111.5 593.6,111.5 594.4,111.3 595.2,110.8 596,111 596.8,111 597.6,111.1 598.4,110.6 599.2,110.8 600,111 600.8,110.2 601.6,110 602.4,110.2 603.2,111.3 604,111.5 604.8,111.3 605.6,110.1 606.4,109.4 607.2,109.8 608,109.7 608.8,110.3 609.6,110.8 610.4,110.1 611.2,109.8 612,109.1 612.8,108.1 613.6,107.8 614.4,108 615.2,108.1 616,107.8 616.8,107.7 617.6,106.5 618.4,105.5 619.2,105.7 620,104.8 620.8,103.8 621.6,104.2 622.4,104.2 623.2,103.5 624,102.4 624.8,101.2 625.6,101 626.4,100.3 627.2,99.3 628,99.4 628.8,98.5 629.6,97.1 630.4,96.6 631.2,96.5 632,96.1 632.8,95.3 633.6,94.7 634.4,93.3 635.2,92 636,91.8 636.8,90.8 637.6,89.2 638.4,88.2 639.2,87.4 640,86.9 640.8,85.8 641.6,84.5 642.4,84.1 643.2,82.5 644,80.8 644.8,79.5 645.6,77 646.4,75.2 647.2,74.1 648,73.4 648.8,72.2 649.6,71.3 650.4,71.1 651.2,68.8 652,68.1 652.8,69.6 653.6,70.5 654.4,71.8 655.2,72.9 656,74.1 656.8,75.7 657.6,77.3 658.4,78.5 659.2,78.4 660,80.6 660.8,84.1 661.6,85 662.4,85.8 663.2,87.5 664,87.8 664.8,88.7 665.6,90.3 666.4,90.2 667.2,90.5 668,91.9 668.8,91.7 669.6,92.6 670.4,94 671.2,92.9 671.2,100.9 670.4,102 669.6,100.6 668.8,99.8 668,100.3 667.2,99.3 666.4,99.4 665.6,99.8 664.8,98.6 664,98 663.2,98 662.4,96.7 661.6,96.3 660.8,95.7 660,92.6 659.2,90.6 658.4,90.8 657.6,89.7 656.8,88.3 656,86.9 655.2,85.8 654.4,84.9 653.6,83.8 652.8,83.1 652,81.7 651.2,82.6 650.4,85 649.6,85.2 648.8,85.7 648,86.5 647.2,86.9 646.4,87.7 645.6,89.1 644.8,91.2 644,92.2 643.2,93.5 642.4,94.9 641.6,94.9 640.8,95.9 640,96.6 639.2,96.8 638.4,97.2 637.6,97.9 636.8,99.2 636,99.8 635.2,99.8 634.4,100.9 633.6,102.1 632.8,102.5 632,103.1 631.2,103.3 630.4,103.2 629.6,103.5 628.8,104.7 628,105.4 627.2,105.1 626.4,105.9 625.6,106.4 624.8,106.4 624,107.4 623.2,108.3 622.4,108.8 621.6,108.6 620.8,108 620,108.8 619.2,109.7 618.4,109.4 617.6,110.5 616.8,111.6 616,111.6 615.2,112 614.4,111.8 613.6,111.5 612.8,111.8 612,112.8 611.2,113.5 610.4,113.7 609.6,114.4 608.8,113.9 608,113.2 607.2,113.3 606.4,112.9 605.6,113.6 604.8,114.7 604,114.9 603.2,114.7 602.4,113.6 601.6,113.3 600.8,113.5 600,114.2 599.2,114 598.4,113.8 597.6,114.3 596.8,114.2 596,114.1 595.2,113.8 594.4,114.3 593.6,114.5 592.8,114.4 592,114.7 591.2,114 590.4,113.9 589.6,114.3 588.8,113.9 588,113.3 587.2,113.2 586.4,113.8 585.6,114.1 584.8,114.3 584,114.9 583.2,114.1 582.4,113.4 581.6,114.1 580.8,114.8 580,114.5 579.2,113.8 578.4,114.1 577.6,114" fill="#d7504c" fill-opacity="0.88" /><polyline points="577.6,112.8 578.4,112.9 579.2,112.6 580,113.3 580.8,113.5 581.6,112.8 582.4,112.2 583.2,112.8 584,113.6 584.8,113 585.6,112.7 586.4,112.4 587.2,111.8 588,111.9 588.8,112.5 589.6,112.9 590.4,112.4 591.2,112.6 592,113.2 592.8,112.9 593.6,113 594.4,112.8 595.2,112.3 596,112.6 596.8,112.6 597.6,112.7 598.4,112.2 599.2,112.4 600,112.6 600.8,111.9 601.6,111.6 602.4,111.9 603.2,113 604,113.2 604.8,113 605.6,111.8 606.4,111.1 607.2,111.6 608,111.5 608.8,112.1 609.6,112.6 610.4,111.9 611.2,111.7 612,110.9 612.8,110 613.6,109.6 614.4,109.9 615.2,110 616,109.7 616.8,109.7 617.6,108.5 618.4,107.5 619.2,107.7 620,106.8 620.8,105.9 621.6,106.4 622.4,106.5 623.2,105.9 624,104.9 624.8,103.8 625.6,103.7 626.4,103.1 627.2,102.2 628,102.4 628.8,101.6 629.6,100.3 630.4,99.9 631.2,99.9 632,99.6 632.8,98.9 633.6,98.4 634.4,97.1 635.2,95.9 636,95.8 636.8,95 637.6,93.6 638.4,92.7 639.2,92.1 640,91.7 640.8,90.8 641.6,89.7 642.4,89.5 643.2,88 644,86.5 644.8,85.4 645.6,83 646.4,81.4 647.2,80.5 648,80 648.8,79 649.6,78.3 650.4,78.1 651.2,75.7 652,74.9 652.8,76.3 653.6,77.1 654.4,78.3 655.2,79.4 656,80.5 656.8,82 657.6,83.5 658.4,84.6 659.2,84.5 660,86.6 660.8,89.9 661.6,90.7 662.4,91.3 663.2,92.8 664,92.9 664.8,93.6 665.6,95 666.4,94.8 667.2,94.9 668,96.1 668.8,95.8 669.6,96.6 670.4,98 671.2,96.9" fill="none" stroke="#9e2323" stroke-width="0.5" /><polygon points="577.6,111.9 578.4,111.6 579.2,111.9 580,112.1 580.8,112 581.6,111.4 582.4,110.8 583.2,111.4 584,111.5 584.8,111.3 585.6,111.3 586.4,111.2 587.2,111.2 588,111.6 588.8,111.6 589.6,111.2 590.4,111.4 591.2,111.7 592,111.5 592.8,111.2 593.6,111.4 594.4,111.6 595.2,111.7 596,111.5 596.8,111.4 597.6,111.5 598.4,111.5 599.2,111.6 600,111.3 600.8,111.2 601.6,111.4 602.4,111.8 603.2,111.5 604,110.9 604.8,111.3 605.6,110.6 606.4,109.8 607.2,109.9 608,110.1 608.8,110.8 609.6,110.9 610.4,110.5 611.2,110.2 612,109.3 612.8,108.7 613.6,109.4 614.4,109.9 615.2,109.1 616,108.7 616.8,108.1 617.6,107.5 618.4,107.5 619.2,106.4 620,104.8 620.8,104.1 621.6,103.1 622.4,102.1 623.2,101 624,100 624.8,99.2 625.6,98.2 626.4,97.4 627.2,96.8 628,96 628.8,95.2 629.6,94.8 630.4,94.4 631.2,93.7 632,93.7 632.8,93.6 633.6,92.7 634.4,92.8 635.2,93.2 636,92.6 636.8,91.6 637.6,90.4 638.4,89.1 639.2,87.7 640,87 640.8,85.8 641.6,84.2 642.4,80.5 643.2,76.8 644,73.2 644.8,70.5 645.6,69.7 646.4,68.9 647.2,68.9 648,68.4 648.8,67.5 649.6,67.8 650.4,67.9 651.2,67.2 652,67.4 652.8,67.8 653.6,68.5 654.4,69.8 655.2,70.9 656,71.6 656.8,72.3 657.6,72.8 658.4,73.7 659.2,74.1 660,74.2 660.8,75.4 661.6,75.9 662.4,76.2 663.2,77.1 664,77.3 664.8,77.4 665.6,78.3 666.4,79.6 667.2,80.5 668,81.2 668.8,82.1 669.6,82.8 670.4,82.3 671.2,82.3 671.2,85.3 670.4,85.3 669.6,85.8 668.8,85.1 668,84.2 667.2,83.5 666.4,82.6 665.6,81.3 664.8,80.4 664,80.3 663.2,80.1 662.4,79.2 661.6,78.9 660.8,78.4 660,77.2 659.2,77.1 658.4,76.7 657.6,75.8 656.8,75.3 656,74.6 655.2,73.9 654.4,72.8 653.6,71.5 652.8,70.8 652,70.4 651.2,70.2 650.4,70.9 649.6,70.8 648.8,70.5 648,71.4 647.2,71.9 646.4,71.9 645.6,72.7 644.8,73.5 644,76.2 643.2,79.8 642.4,83.5 641.6,87.2 640.8,88.8 640,90 639.2,90.7 638.4,92.1 637.6,93.4 636.8,94.6 636,95.6 635.2,96.2 634.4,95.8 633.6,95.7 632.8,96.6 632,96.7 631.2,96.7 630.4,97.4 629.6,97.8 628.8,98.2 628,99 627.2,99.8 626.4,100.4 625.6,101.2 624.8,102.2 624,103 623.2,104 622.4,105.1 621.6,106.1 620.8,107.1 620,107.8 619.2,109.4 618.4,110.5 617.6,110.5 616.8,111.1 616,111.7 615.2,112.1 614.4,112.9 613.6,112.4 612.8,111.7 612,112.3 611.2,113.2 610.4,113.5 609.6,113.9 608.8,113.8 608,113.1 607.2,112.9 606.4,112.8 605.6,113.6 604.8,114.3 604,113.9 603.2,114.5 602.4,114.8 601.6,114.4 600.8,114.2 600,114.3 599.2,114.6 598.4,114.5 597.6,114.5 596.8,114.4 596,114.5 595.2,114.7 594.4,114.6 593.6,114.4 592.8,114.2 592,114.5 591.2,114.7 590.4,114.4 589.6,114.2 588.8,114.6 588,114.6 587.2,114.2 586.4,114.2 585.6,114.3 584.8,114.3 584,114.5 583.2,114.4 582.4,113.8 581.6,114.4 580.8,115 580,115.1 579.2,114.9 578.4,114.6 577.6,114.9" fill="#9dbde6" fill-opacity="0.85" /><polyline points="577.6,113.4 578.4,113.1 579.2,113.4 580,113.6 580.8,113.5 581.6,112.9 582.4,112.3 583.2,112.9 584,113 584.8,112.8 585.6,112.8 586.4,112.7 587.2,112.7 588,113.1 588.8,113.1 589.6,112.7 590.4,112.9 591.2,113.2 592,113 592.8,112.7 593.6,112.9 594.4,113.1 595.2,113.2 596,113 596.8,112.9 597.6,113 598.4,113 599.2,113.1 600,112.8 600.8,112.7 601.6,112.9 602.4,113.3 603.2,113 604,112.4 604.8,112.8 605.6,112.1 606.4,111.3 607.2,111.4 608,111.6 608.8,112.3 609.6,112.4 610.4,112 611.2,111.7 612,110.8 612.8,110.2 613.6,110.9 614.4,111.4 615.2,110.6 616,110.2 616.8,109.6 617.6,109 618.4,109 619.2,107.9 620,106.3 620.8,105.6 621.6,104.6 622.4,103.6 623.2,102.5 624,101.5 624.8,100.7 625.6,99.7 626.4,98.9 627.2,98.3 628,97.5 628.8,96.7 629.6,96.3 630.4,95.9 631.2,95.2 632,95.2 632.8,95.1 633.6,94.2 634.4,94.3 635.2,94.7 636,94.1 636.8,93.1 637.6,91.9 638.4,90.6 639.2,89.2 640,88.5 640.8,87.3 641.6,85.7 642.4,82 643.2,78.3 644,74.7 644.8,72 645.6,71.2 646.4,70.4 647.2,70.4 648,69.9 648.8,69 649.6,69.3 650.4,69.4 651.2,68.7 652,68.9 652.8,69.3 653.6,70 654.4,71.3 655.2,72.4 656,73.1 656.8,73.8 657.6,74.3 658.4,75.2 659.2,75.6 660,75.7 660.8,76.9 661.6,77.4 662.4,77.7 663.2,78.6 664,78.8 664.8,78.9 665.6,79.8 666.4,81.1 667.2,82 668,82.7 668.8,83.6 669.6,84.3 670.4,83.8 671.2,83.8" fill="none" stroke="#3a7ad8" stroke-width="1.1" /><line x1="580" y1="163.7" x2="672" y2="163.7" stroke="#9a9a9a" stroke-width="0.4" stroke-dasharray="1,1"/><text x="581.5" y="158.4" font-size="8" stroke="#231f20" stroke-width="0.2" >30</text><text x="660.4" y="158.4" font-size="6.3" stroke="#231f20" stroke-width="0.158" >40%</text><line x1="673" y1="149.6" x2="673" y2="162.4" stroke="#231f20" stroke-width="1.2"/><polygon points="577.6,163.8 578.4,162.4 579.2,162 580,162.6 580.8,162.5 581.6,162.3 582.4,161.8 583.2,162.3 584,162.5 584.8,162 585.6,162.1 586.4,162 587.2,162.5 588,162.9 588.8,162.3 589.6,161.8 590.4,161.9 591.2,162.6 592,162.8 592.8,162.5 593.6,162.3 594.4,162.1 595.2,162.3 596,161.7 596.8,162.2 597.6,162.5 598.4,161.7 599.2,162.5 600,162.8 600.8,162.3 601.6,161.9 602.4,161.3 603.2,161.6 604,162.6 604.8,162.2 605.6,162.2 606.4,162.1 607.2,161.3 608,161.9 608.8,162.2 609.6,162.2 610.4,161.9 611.2,161.2 612,160.8 612.8,160.7 613.6,161 614.4,160.9 615.2,161.4 616,161.7 616.8,160.8 617.6,161.9 618.4,162.4 619.2,160.9 620,161.7 620.8,162.6 621.6,161.7 622.4,160.6 623.2,160.7 624,161.6 624.8,161.9 625.6,161.1 626.4,161.2 627.2,161.9 628,161.4 628.8,160.8 629.6,160.7 630.4,161.7 631.2,162.8 632,162.4 632.8,161.6 633.6,161.5 634.4,160.7 635.2,160.5 636,160.8 636.8,160.2 637.6,160.4 638.4,160.7 639.2,161.1 640,161.4 640.8,161.2 641.6,160.5 642.4,160.6 643.2,160.9 644,161 644.8,160.5 645.6,158.7 646.4,158.5 647.2,160 648,160 648.8,158.8 649.6,158.6 650.4,158.5 651.2,158 652,157.3 652.8,156.8 653.6,156.8 654.4,156.3 655.2,155.6 656,155.6 656.8,156.1 657.6,156.1 658.4,155.6 659.2,153.3 660,151.9 660.8,149.6 661.6,146.7 662.4,145.1 663.2,141.9 664,138.6 664.8,136.2 665.6,133.9 666.4,131 667.2,128.6 668,126.7 668.8,124.2 669.6,123.7 670.4,124 671.2,123 671.2,125.6 670.4,126.6 669.6,126.3 668.8,126.8 668,129.3 667.2,131.2 666.4,133.6 665.6,136.5 664.8,138.8 664,141.2 663.2,144.5 662.4,147.7 661.6,149.3 660.8,152.2 660,154.5 659.2,155.9 658.4,158.2 657.6,158.7 656.8,158.7 656,158.2 655.2,158.2 654.4,158.9 653.6,159.4 652.8,159.4 652,159.9 651.2,160.6 650.4,161.1 649.6,161.2 648.8,161.4 648,162.6 647.2,162.6 646.4,161.1 645.6,161.3 644.8,163.1 644,163.6 643.2,163.5 642.4,163.2 641.6,163.1 640.8,163.8 640,164 639.2,163.7 638.4,163.3 637.6,163 636.8,162.8 636,163.4 635.2,163.1 634.4,163.3 633.6,164.1 632.8,164.2 632,165 631.2,165.4 630.4,164.3 629.6,163.3 628.8,163.4 628,164 627.2,164.5 626.4,163.8 625.6,163.7 624.8,164.5 624,164.2 623.2,163.3 622.4,163.2 621.6,164.3 620.8,165.2 620,164.3 619.2,163.5 618.4,165 617.6,164.5 616.8,163.4 616,164.3 615.2,164 614.4,163.5 613.6,163.6 612.8,163.3 612,163.4 611.2,163.8 610.4,164.5 609.6,164.8 608.8,164.8 608,164.5 607.2,163.9 606.4,164.7 605.6,164.8 604.8,164.8 604,165.2 603.2,164.2 602.4,163.9 601.6,164.5 600.8,164.9 600,165.4 599.2,165.1 598.4,164.3 597.6,165.1 596.8,164.8 596,164.3 595.2,164.9 594.4,164.7 593.6,164.9 592.8,165.1 592,165.4 591.2,165.2 590.4,164.5 589.6,164.4 588.8,164.9 588,165.5 587.2,165.1 586.4,164.6 585.6,164.7 584.8,164.6 584,165.1 583.2,164.9 582.4,164.4 581.6,164.9 580.8,165.1 580,165.2 579.2,164.6 578.4,165 577.6,166.4" fill="#b4b4b4" fill-opacity="0.9" /><polyline points="577.6,165.1 578.4,163.7 579.2,163.3 580,163.9 580.8,163.8 581.6,163.6 582.4,163.1 583.2,163.6 584,163.8 584.8,163.3 585.6,163.4 586.4,163.3 587.2,163.8 588,164.2 588.8,163.6 589.6,163.1 590.4,163.2 591.2,163.9 592,164.1 592.8,163.8 593.6,163.6 594.4,163.4 595.2,163.6 596,163 596.8,163.5 597.6,163.8 598.4,163 599.2,163.8 600,164.1 600.8,163.6 601.6,163.2 602.4,162.6 603.2,162.9 604,163.9 604.8,163.5 605.6,163.5 606.4,163.4 607.2,162.6 608,163.2 608.8,163.5 609.6,163.5 610.4,163.2 611.2,162.5 612,162.1 612.8,162 613.6,162.3 614.4,162.2 615.2,162.7 616,163 616.8,162.1 617.6,163.2 618.4,163.7 619.2,162.2 620,163 620.8,163.9 621.6,163 622.4,161.9 623.2,162 624,162.9 624.8,163.2 625.6,162.4 626.4,162.5 627.2,163.2 628,162.7 628.8,162.1 629.6,162 630.4,163 631.2,164.1 632,163.7 632.8,162.9 633.6,162.8 634.4,162 635.2,161.8 636,162.1 636.8,161.5 637.6,161.7 638.4,162 639.2,162.4 640,162.7 640.8,162.5 641.6,161.8 642.4,161.9 643.2,162.2 644,162.3 644.8,161.8 645.6,160 646.4,159.8 647.2,161.3 648,161.3 648.8,160.1 649.6,159.9 650.4,159.8 651.2,159.3 652,158.6 652.8,158.1 653.6,158.1 654.4,157.6 655.2,156.9 656,156.9 656.8,157.4 657.6,157.4 658.4,156.9 659.2,154.6 660,153.2 660.8,150.9 661.6,148 662.4,146.4 663.2,143.2 664,139.9 664.8,137.5 665.6,135.2 666.4,132.3 667.2,129.9 668,128 668.8,125.5 669.6,125 670.4,125.3 671.2,124.3" fill="none" stroke="#6a6a6a" stroke-width="0.8" /><polygon points="577.6,162.4 578.4,162.8 579.2,162.6 580,162.2 580.8,163 581.6,163.5 582.4,163.6 583.2,163 584,162.6 584.8,162.5 585.6,162.9 586.4,162.6 587.2,162.3 588,162.5 588.8,162.3 589.6,162.2 590.4,163 591.2,162.8 592,161.9 592.8,162.3 593.6,162.4 594.4,162.4 595.2,162.3 596,162.5 596.8,161.6 597.6,161.2 598.4,161.2 599.2,161.3 600,161.3 600.8,160.7 601.6,161.2 602.4,162.1 603.2,162.4 604,161.9 604.8,162.2 605.6,161.6 606.4,160.1 607.2,160.3 608,161 608.8,161.6 609.6,162.6 610.4,161.5 611.2,161.6 612,162.8 612.8,162.1 613.6,161.5 614.4,162.1 615.2,161.9 616,160.3 616.8,160 617.6,159.2 618.4,159 619.2,159.2 620,158.7 620.8,158.5 621.6,157.4 622.4,157.3 623.2,156.7 624,156 624.8,155.1 625.6,154.3 626.4,154.1 627.2,153.4 628,152.9 628.8,151.3 629.6,150.6 630.4,150.9 631.2,151.1 632,149.8 632.8,148.1 633.6,147.9 634.4,148.3 635.2,147.9 636,147.2 636.8,147.4 637.6,147.8 638.4,147.3 639.2,146.1 640,145.4 640.8,145.4 641.6,144.4 642.4,144.5 643.2,144.9 644,143.9 644.8,143.9 645.6,144 646.4,143.2 647.2,142.9 648,142.4 648.8,140.9 649.6,140.2 650.4,140.9 651.2,140.4 652,139.8 652.8,140 653.6,140.3 654.4,140.5 655.2,139.8 656,138.8 656.8,138.4 657.6,138.3 658.4,137.4 659.2,137.3 660,137.2 660.8,135.9 661.6,135.8 662.4,135.6 663.2,134.9 664,134 664.8,133.3 665.6,133.2 666.4,132.4 667.2,131.4 668,132.3 668.8,132.5 669.6,131.4 670.4,132 671.2,131.8 671.2,139 670.4,139.2 669.6,138.6 668.8,139.7 668,139.4 667.2,138.6 666.4,139.5 665.6,140.3 664.8,140.4 664,141.1 663.2,142 662.4,142.7 661.6,142.9 660.8,142.9 660,144.2 659.2,144.3 658.4,144.4 657.6,145.2 656.8,145.3 656,145.7 655.2,146.7 654.4,147.4 653.6,147.2 652.8,146.9 652,146.6 651.2,147.3 650.4,147.7 649.6,147 648.8,147.7 648,149.1 647.2,149.7 646.4,150 645.6,150.7 644.8,150.6 644,150.5 643.2,151.5 642.4,151.2 641.6,151.1 640.8,152 640,152 639.2,152.6 638.4,153.7 637.6,154.1 636.8,153.7 636,153.4 635.2,154 634.4,154.3 633.6,153.8 632.8,153.9 632,155.6 631.2,156.7 630.4,156.5 629.6,156 628.8,156.7 628,158.1 627.2,158.6 626.4,159.2 625.6,159.4 624.8,160.1 624,160.8 623.2,161.5 622.4,161.9 621.6,162 620.8,163 620,163.1 619.2,163.5 618.4,163.3 617.6,163.5 616.8,164.2 616,164.5 615.2,166.1 614.4,166.3 613.6,165.6 612.8,166.1 612,166.8 611.2,165.6 610.4,165.5 609.6,166.5 608.8,165.5 608,164.8 607.2,164 606.4,163.8 605.6,165.3 604.8,165.8 604,165.5 603.2,166 602.4,165.7 601.6,164.7 600.8,164.2 600,164.7 599.2,164.7 598.4,164.6 597.6,164.5 596.8,164.9 596,165.7 595.2,165.5 594.4,165.6 593.6,165.5 592.8,165.4 592,165 591.2,165.8 590.4,166 589.6,165.2 588.8,165.2 588,165.4 587.2,165.1 586.4,165.4 585.6,165.6 584.8,165.2 584,165.3 583.2,165.7 582.4,166.2 581.6,166.1 580.8,165.5 580,164.7 579.2,165 578.4,165.3 577.6,164.8" fill="#d7504c" fill-opacity="0.88" /><polyline points="577.6,163.6 578.4,164 579.2,163.8 580,163.4 580.8,164.3 581.6,164.8 582.4,164.9 583.2,164.3 584,164 584.8,163.8 585.6,164.3 586.4,164 587.2,163.7 588,163.9 588.8,163.8 589.6,163.7 590.4,164.5 591.2,164.3 592,163.5 592.8,163.8 593.6,164 594.4,164 595.2,163.9 596,164.1 596.8,163.3 597.6,162.8 598.4,162.9 599.2,163 600,163 600.8,162.5 601.6,162.9 602.4,163.9 603.2,164.2 604,163.7 604.8,164 605.6,163.5 606.4,162 607.2,162.2 608,162.9 608.8,163.6 609.6,164.6 610.4,163.5 611.2,163.6 612,164.8 612.8,164.1 613.6,163.6 614.4,164.2 615.2,164 616,162.4 616.8,162.1 617.6,161.4 618.4,161.2 619.2,161.3 620,160.9 620.8,160.8 621.6,159.7 622.4,159.6 623.2,159.1 624,158.4 624.8,157.6 625.6,156.9 626.4,156.7 627.2,156 628,155.5 628.8,154 629.6,153.3 630.4,153.7 631.2,153.9 632,152.7 632.8,151 633.6,150.8 634.4,151.3 635.2,151 636,150.3 636.8,150.6 637.6,150.9 638.4,150.5 639.2,149.3 640,148.7 640.8,148.7 641.6,147.7 642.4,147.9 643.2,148.2 644,147.2 644.8,147.3 645.6,147.3 646.4,146.6 647.2,146.3 648,145.7 648.8,144.3 649.6,143.6 650.4,144.3 651.2,143.9 652,143.2 652.8,143.4 653.6,143.8 654.4,143.9 655.2,143.3 656,142.3 656.8,141.9 657.6,141.7 658.4,140.9 659.2,140.8 660,140.7 660.8,139.4 661.6,139.3 662.4,139.2 663.2,138.5 664,137.5 664.8,136.9 665.6,136.7 666.4,135.9 667.2,135 668,135.9 668.8,136.1 669.6,135 670.4,135.6 671.2,135.4" fill="none" stroke="#9e2323" stroke-width="0.5" /><polygon points="577.6,162.5 578.4,162.6 579.2,162.2 580,161.7 580.8,161.8 581.6,162.4 582.4,162.7 583.2,162.6 584,162 584.8,161.3 585.6,161.6 586.4,162.2 587.2,162.1 588,162.3 588.8,162.4 589.6,162 590.4,161.8 591.2,162.1 592,162.3 592.8,162.3 593.6,162.7 594.4,162.7 595.2,162.2 596,162 596.8,161.9 597.6,162.2 598.4,162.4 599.2,162.3 600,162.2 600.8,162.2 601.6,161.7 602.4,161 603.2,161.9 604,162.8 604.8,162.3 605.6,161.7 606.4,161.4 607.2,162.1 608,161.7 608.8,161.3 609.6,162.1 610.4,162.1 611.2,161.8 612,161.5 612.8,161.7 613.6,161.2 614.4,160.1 615.2,160.2 616,160.6 616.8,160.3 617.6,159.7 618.4,159.1 619.2,158 620,157.9 620.8,158 621.6,157.5 622.4,156.5 623.2,155.1 624,153.9 624.8,153.1 625.6,152.4 626.4,151.5 627.2,150 628,148.9 628.8,148.1 629.6,147.4 630.4,146.8 631.2,146 632,145.5 632.8,144.9 633.6,144.1 634.4,143.2 635.2,142.5 636,141.9 636.8,140.5 637.6,139.9 638.4,139.5 639.2,138.8 640,138.1 640.8,136.8 641.6,133.9 642.4,130.9 643.2,127.8 644,124.7 644.8,122.9 645.6,120.6 646.4,119.7 647.2,119.9 648,119.8 648.8,119.4 649.6,119.2 650.4,119 651.2,119 652,119.6 652.8,119.5 653.6,119.1 654.4,119.4 655.2,120 656,120.9 656.8,122.2 657.6,122.8 658.4,123.1 659.2,124.2 660,125.3 660.8,126.4 661.6,127.3 662.4,127.7 663.2,128.2 664,129 664.8,129.9 665.6,130.3 666.4,131.2 667.2,132.2 668,133 668.8,133.6 669.6,134.3 670.4,134.5 671.2,134.4 671.2,137.4 670.4,137.5 669.6,137.3 668.8,136.6 668,136 667.2,135.2 666.4,134.2 665.6,133.3 664.8,132.9 664,132 663.2,131.2 662.4,130.7 661.6,130.3 660.8,129.4 660,128.3 659.2,127.2 658.4,126.1 657.6,125.8 656.8,125.2 656,123.9 655.2,123 654.4,122.4 653.6,122.1 652.8,122.5 652,122.6 651.2,122 650.4,122 649.6,122.2 648.8,122.4 648,122.8 647.2,122.9 646.4,122.7 645.6,123.6 644.8,125.9 644,127.7 643.2,130.8 642.4,133.9 641.6,136.9 640.8,139.8 640,141.1 639.2,141.8 638.4,142.5 637.6,142.9 636.8,143.5 636,144.9 635.2,145.5 634.4,146.2 633.6,147.1 632.8,147.9 632,148.5 631.2,149 630.4,149.8 629.6,150.4 628.8,151.1 628,151.9 627.2,153 626.4,154.5 625.6,155.4 624.8,156.1 624,156.9 623.2,158.1 622.4,159.5 621.6,160.5 620.8,161 620,160.9 619.2,161 618.4,162.1 617.6,162.7 616.8,163.3 616,163.6 615.2,163.2 614.4,163.1 613.6,164.2 612.8,164.7 612,164.5 611.2,164.8 610.4,165.1 609.6,165.1 608.8,164.3 608,164.7 607.2,165.1 606.4,164.4 605.6,164.7 604.8,165.3 604,165.8 603.2,164.9 602.4,164 601.6,164.7 600.8,165.2 600,165.2 599.2,165.3 598.4,165.4 597.6,165.2 596.8,164.9 596,165 595.2,165.2 594.4,165.7 593.6,165.7 592.8,165.3 592,165.3 591.2,165.1 590.4,164.8 589.6,165 588.8,165.4 588,165.3 587.2,165.1 586.4,165.2 585.6,164.6 584.8,164.3 584,165 583.2,165.6 582.4,165.7 581.6,165.4 580.8,164.8 580,164.7 579.2,165.2 578.4,165.6 577.6,165.5" fill="#9dbde6" fill-opacity="0.85" /><polyline points="577.6,164 578.4,164.1 579.2,163.7 580,163.2 580.8,163.3 581.6,163.9 582.4,164.2 583.2,164.1 584,163.5 584.8,162.8 585.6,163.1 586.4,163.7 587.2,163.6 588,163.8 588.8,163.9 589.6,163.5 590.4,163.3 591.2,163.6 592,163.8 592.8,163.8 593.6,164.2 594.4,164.2 595.2,163.7 596,163.5 596.8,163.4 597.6,163.7 598.4,163.9 599.2,163.8 600,163.7 600.8,163.7 601.6,163.2 602.4,162.5 603.2,163.4 604,164.3 604.8,163.8 605.6,163.2 606.4,162.9 607.2,163.6 608,163.2 608.8,162.8 609.6,163.6 610.4,163.6 611.2,163.3 612,163 612.8,163.2 613.6,162.7 614.4,161.6 615.2,161.7 616,162.1 616.8,161.8 617.6,161.2 618.4,160.6 619.2,159.5 620,159.4 620.8,159.5 621.6,159 622.4,158 623.2,156.6 624,155.4 624.8,154.6 625.6,153.9 626.4,153 627.2,151.5 628,150.4 628.8,149.6 629.6,148.9 630.4,148.3 631.2,147.5 632,147 632.8,146.4 633.6,145.6 634.4,144.7 635.2,144 636,143.4 636.8,142 637.6,141.4 638.4,141 639.2,140.3 640,139.6 640.8,138.3 641.6,135.4 642.4,132.4 643.2,129.3 644,126.2 644.8,124.4 645.6,122.1 646.4,121.2 647.2,121.4 648,121.3 648.8,120.9 649.6,120.7 650.4,120.5 651.2,120.5 652,121.1 652.8,121 653.6,120.6 654.4,120.9 655.2,121.5 656,122.4 656.8,123.7 657.6,124.3 658.4,124.6 659.2,125.7 660,126.8 660.8,127.9 661.6,128.8 662.4,129.2 663.2,129.7 664,130.5 664.8,131.4 665.6,131.8 666.4,132.7 667.2,133.7 668,134.5 668.8,135.1 669.6,135.8 670.4,136 671.2,135.9" fill="none" stroke="#3a7ad8" stroke-width="1.1" /><line x1="580" y1="214.5" x2="672" y2="214.5" stroke="#9a9a9a" stroke-width="0.4" stroke-dasharray="1,1"/><text x="581.5" y="207.2" font-size="8" stroke="#231f20" stroke-width="0.2" >63</text><text x="664" y="209.6" font-size="6.3" stroke="#231f20" stroke-width="0.158" >5%</text><line x1="673" y1="202" x2="673" y2="212.5" stroke="#231f20" stroke-width="1.2"/><polygon points="577.6,210.7 578.4,210.5 579.2,211 580,211.2 580.8,210.4 581.6,210.2 582.4,210.3 583.2,210.5 584,210.3 584.8,210.2 585.6,210.9 586.4,211 587.2,210.4 588,210.1 588.8,210.5 589.6,210.9 590.4,211.2 591.2,211 592,210.2 592.8,210.8 593.6,211.5 594.4,211.1 595.2,211.2 596,210.7 596.8,210.4 597.6,211 598.4,211.5 599.2,211.5 600,209.9 600.8,209.8 601.6,211.2 602.4,211.8 603.2,212 604,211.4 604.8,210.7 605.6,209.3 606.4,208.1 607.2,206.1 608,205.6 608.8,205.8 609.6,204.8 610.4,204.3 611.2,204.2 612,203.3 612.8,203.3 613.6,203.7 614.4,204.1 615.2,204.3 616,204.7 616.8,204.4 617.6,204.3 618.4,204.7 619.2,204.8 620,205.9 620.8,206.3 621.6,206.3 622.4,206.6 623.2,207.4 624,207.2 624.8,207.2 625.6,207.1 626.4,206.7 627.2,207.4 628,207.4 628.8,207.5 629.6,208.1 630.4,207.7 631.2,207.5 632,207.9 632.8,207.2 633.6,207.4 634.4,207.9 635.2,208.4 636,208.1 636.8,208 637.6,207.9 638.4,207.8 639.2,207.9 640,207.1 640.8,207 641.6,206.9 642.4,205.9 643.2,204.9 644,203 644.8,200.6 645.6,198.5 646.4,197.6 647.2,195.9 648,192.7 648.8,189 649.6,185.2 650.4,181.4 651.2,177.9 652,174.7 652.8,173.4 653.6,172.7 654.4,172 655.2,170.9 656,170.4 656.8,171.5 657.6,172.6 658.4,173.5 659.2,175 660,176.2 660.8,176.4 661.6,175.9 662.4,173.9 663.2,173 664,172.1 664.8,170.8 665.6,170.4 666.4,170.9 667.2,169.8 668,169.1 668.8,168.6 669.6,168.2 670.4,168.8 671.2,169 671.2,171.6 670.4,171.4 669.6,170.8 668.8,171.2 668,171.7 667.2,172.4 666.4,173.5 665.6,173 664.8,173.4 664,174.7 663.2,175.6 662.4,176.5 661.6,178.5 660.8,179 660,178.8 659.2,177.6 658.4,176.1 657.6,175.2 656.8,174.1 656,173 655.2,173.5 654.4,174.6 653.6,175.3 652.8,176 652,177.3 651.2,180.5 650.4,184 649.6,187.8 648.8,191.6 648,195.3 647.2,198.5 646.4,200.2 645.6,201.1 644.8,203.2 644,205.6 643.2,207.5 642.4,208.5 641.6,209.5 640.8,209.6 640,209.7 639.2,210.5 638.4,210.4 637.6,210.5 636.8,210.6 636,210.7 635.2,211 634.4,210.5 633.6,210 632.8,209.8 632,210.5 631.2,210.1 630.4,210.3 629.6,210.7 628.8,210.1 628,210 627.2,210 626.4,209.3 625.6,209.7 624.8,209.8 624,209.8 623.2,210 622.4,209.2 621.6,208.9 620.8,208.9 620,208.5 619.2,207.4 618.4,207.3 617.6,206.9 616.8,207 616,207.3 615.2,206.9 614.4,206.7 613.6,206.3 612.8,205.9 612,205.9 611.2,206.8 610.4,206.9 609.6,207.4 608.8,208.4 608,208.2 607.2,208.7 606.4,210.7 605.6,211.9 604.8,213.3 604,214 603.2,214.6 602.4,214.4 601.6,213.8 600.8,212.4 600,212.5 599.2,214.1 598.4,214.1 597.6,213.6 596.8,213 596,213.3 595.2,213.8 594.4,213.7 593.6,214.1 592.8,213.4 592,212.8 591.2,213.6 590.4,213.8 589.6,213.5 588.8,213.1 588,212.7 587.2,213 586.4,213.6 585.6,213.5 584.8,212.8 584,212.9 583.2,213.1 582.4,212.9 581.6,212.8 580.8,213 580,213.8 579.2,213.6 578.4,213.1 577.6,213.3" fill="#b4b4b4" fill-opacity="0.9" /><polyline points="577.6,212 578.4,211.8 579.2,212.3 580,212.5 580.8,211.7 581.6,211.5 582.4,211.6 583.2,211.8 584,211.6 584.8,211.5 585.6,212.2 586.4,212.3 587.2,211.7 588,211.4 588.8,211.8 589.6,212.2 590.4,212.5 591.2,212.3 592,211.5 592.8,212.1 593.6,212.8 594.4,212.4 595.2,212.5 596,212 596.8,211.7 597.6,212.3 598.4,212.8 599.2,212.8 600,211.2 600.8,211.1 601.6,212.5 602.4,213.1 603.2,213.3 604,212.7 604.8,212 605.6,210.6 606.4,209.4 607.2,207.4 608,206.9 608.8,207.1 609.6,206.1 610.4,205.6 611.2,205.5 612,204.6 612.8,204.6 613.6,205 614.4,205.4 615.2,205.6 616,206 616.8,205.7 617.6,205.6 618.4,206 619.2,206.1 620,207.2 620.8,207.6 621.6,207.6 622.4,207.9 623.2,208.7 624,208.5 624.8,208.5 625.6,208.4 626.4,208 627.2,208.7 628,208.7 628.8,208.8 629.6,209.4 630.4,209 631.2,208.8 632,209.2 632.8,208.5 633.6,208.7 634.4,209.2 635.2,209.7 636,209.4 636.8,209.3 637.6,209.2 638.4,209.1 639.2,209.2 640,208.4 640.8,208.3 641.6,208.2 642.4,207.2 643.2,206.2 644,204.3 644.8,201.9 645.6,199.8 646.4,198.9 647.2,197.2 648,194 648.8,190.3 649.6,186.5 650.4,182.7 651.2,179.2 652,176 652.8,174.7 653.6,174 654.4,173.3 655.2,172.2 656,171.7 656.8,172.8 657.6,173.9 658.4,174.8 659.2,176.3 660,177.5 660.8,177.7 661.6,177.2 662.4,175.2 663.2,174.3 664,173.4 664.8,172.1 665.6,171.7 666.4,172.2 667.2,171.1 668,170.4 668.8,169.9 669.6,169.5 670.4,170.1 671.2,170.3" fill="none" stroke="#6a6a6a" stroke-width="0.8" /><polygon points="577.6,212 578.4,212.5 579.2,212.2 580,211.4 580.8,211.8 581.6,211.9 582.4,211.3 583.2,211.3 584,212.1 584.8,212.5 585.6,211.2 586.4,211.7 587.2,213.5 588,214 588.8,212.9 589.6,212.2 590.4,212.8 591.2,213.5 592,213.6 592.8,213.1 593.6,213.7 594.4,214.8 595.2,214.2 596,213.6 596.8,214 597.6,213.9 598.4,213.7 599.2,213.8 600,213.5 600.8,212.8 601.6,211.7 602.4,211.8 603.2,212.7 604,212.7 604.8,211.5 605.6,210.1 606.4,210.2 607.2,210.2 608,209.2 608.8,208.3 609.6,207.3 610.4,206.7 611.2,206.1 612,205.2 612.8,204.9 613.6,203.5 614.4,201.3 615.2,199.7 616,199.3 616.8,198.2 617.6,196.1 618.4,194.4 619.2,193 620,191.2 620.8,190.4 621.6,189.9 622.4,190 623.2,189.4 624,188.8 624.8,188.9 625.6,189.4 626.4,190.5 627.2,191.1 628,190.3 628.8,190.3 629.6,191.4 630.4,191.4 631.2,190.8 632,191 632.8,191.3 633.6,191.7 634.4,192.3 635.2,191.8 636,191.4 636.8,192.8 637.6,192.7 638.4,192.1 639.2,192 640,191.1 640.8,191.6 641.6,193.6 642.4,193.8 643.2,192.9 644,193.6 644.8,194.4 645.6,193.5 646.4,192.7 647.2,190.9 648,189.5 648.8,187.7 649.6,186.8 650.4,186.5 651.2,185.3 652,184.5 652.8,183.2 653.6,182.9 654.4,182.9 655.2,182.3 656,182.8 656.8,183.9 657.6,183.7 658.4,184.2 659.2,184.9 660,185 660.8,184.8 661.6,183.9 662.4,184.7 663.2,185.8 664,185.5 664.8,185.1 665.6,185.2 666.4,185.4 667.2,185.4 668,184.7 668.8,185.3 669.6,185.6 670.4,185.1 671.2,185.6 671.2,193.6 670.4,193.1 669.6,193.6 668.8,193.3 668,192.7 667.2,193.4 666.4,193.4 665.6,193.2 664.8,193.2 664,193.5 663.2,193.8 662.4,192.7 661.6,192 660.8,192.8 660,193.1 659.2,193 658.4,192.3 657.6,191.8 656.8,192 656,190.9 655.2,190.4 654.4,191 653.6,191 652.8,191.4 652,192.6 651.2,193.4 650.4,194.6 649.6,195 648.8,195.8 648,197.7 647.2,199.1 646.4,200.9 645.6,201.7 644.8,202.6 644,201.8 643.2,201.1 642.4,202 641.6,201.8 640.8,199.8 640,199.3 639.2,200.3 638.4,200.3 637.6,201 636.8,201.1 636,199.7 635.2,200.1 634.4,200.6 633.6,200 632.8,199.6 632,199.3 631.2,199.1 630.4,199.7 629.6,199.8 628.8,198.7 628,198.6 627.2,199.4 626.4,198.9 625.6,197.7 624.8,197.3 624,197.1 623.2,197.8 622.4,198.4 621.6,198.3 620.8,198.8 620,199.6 619.2,201.2 618.4,202.6 617.6,204.1 616.8,206.1 616,207.1 615.2,207.4 614.4,208.9 613.6,211.1 612.8,212.3 612,212.5 611.2,213.2 610.4,213.7 609.6,214.3 608.8,215.2 608,216 607.2,217 606.4,216.8 605.6,216.7 604.8,218 604,219.1 603.2,219 602.4,218.1 601.6,218 600.8,219 600,219.6 599.2,219.8 598.4,219.6 597.6,219.7 596.8,219.8 596,219.3 595.2,219.9 594.4,220.3 593.6,219.2 592.8,218.5 592,219 591.2,218.8 590.4,218 589.6,217.3 588.8,217.9 588,219 587.2,218.4 586.4,216.5 585.6,216 584.8,217.2 584,216.7 583.2,215.9 582.4,215.7 581.6,216.3 580.8,216.1 580,215.6 579.2,216.4 578.4,216.5 577.6,216" fill="#d7504c" fill-opacity="0.88" /><polyline points="577.6,214 578.4,214.5 579.2,214.3 580,213.5 580.8,214 581.6,214.1 582.4,213.5 583.2,213.6 584,214.4 584.8,214.9 585.6,213.6 586.4,214.1 587.2,216 588,216.5 588.8,215.4 589.6,214.8 590.4,215.4 591.2,216.1 592,216.3 592.8,215.8 593.6,216.5 594.4,217.6 595.2,217 596,216.5 596.8,216.9 597.6,216.8 598.4,216.7 599.2,216.8 600,216.5 600.8,215.9 601.6,214.9 602.4,214.9 603.2,215.8 604,215.9 604.8,214.8 605.6,213.4 606.4,213.5 607.2,213.6 608,212.6 608.8,211.8 609.6,210.8 610.4,210.2 611.2,209.7 612,208.8 612.8,208.6 613.6,207.3 614.4,205.1 615.2,203.5 616,203.2 616.8,202.1 617.6,200.1 618.4,198.5 619.2,197.1 620,195.4 620.8,194.6 621.6,194.1 622.4,194.2 623.2,193.6 624,193 624.8,193.1 625.6,193.6 626.4,194.7 627.2,195.2 628,194.4 628.8,194.5 629.6,195.6 630.4,195.6 631.2,194.9 632,195.2 632.8,195.4 633.6,195.8 634.4,196.4 635.2,196 636,195.6 636.8,197 637.6,196.9 638.4,196.2 639.2,196.1 640,195.2 640.8,195.7 641.6,197.7 642.4,197.9 643.2,197 644,197.7 644.8,198.5 645.6,197.6 646.4,196.8 647.2,195 648,193.6 648.8,191.7 649.6,190.9 650.4,190.5 651.2,189.3 652,188.5 652.8,187.3 653.6,187 654.4,186.9 655.2,186.3 656,186.8 656.8,188 657.6,187.8 658.4,188.2 659.2,188.9 660,189 660.8,188.8 661.6,187.9 662.4,188.7 663.2,189.8 664,189.5 664.8,189.2 665.6,189.2 666.4,189.4 667.2,189.4 668,188.7 668.8,189.3 669.6,189.6 670.4,189.1 671.2,189.6" fill="none" stroke="#9e2323" stroke-width="0.5" /><polygon points="577.6,212.8 578.4,213 579.2,212.6 580,211.7 580.8,211.9 581.6,213 582.4,213.2 583.2,212.8 584,212.5 584.8,212.7 585.6,212.3 586.4,212.1 587.2,212.4 588,212.9 588.8,213 589.6,213 590.4,213.1 591.2,212.4 592,212.9 592.8,213.1 593.6,212.8 594.4,213.4 595.2,213.2 596,212.5 596.8,212.9 597.6,213.2 598.4,212.7 599.2,212.5 600,212.7 600.8,213.1 601.6,213 602.4,212.9 603.2,213.3 604,213.4 604.8,213.3 605.6,213.2 606.4,212.5 607.2,212.4 608,212.8 608.8,212.5 609.6,212.2 610.4,212 611.2,212.2 612,212.7 612.8,212.8 613.6,212.8 614.4,213 615.2,213.5 616,213.7 616.8,213.7 617.6,214.2 618.4,214.1 619.2,213.6 620,213.1 620.8,212.7 621.6,212.6 622.4,212.3 623.2,211.7 624,210.9 624.8,210.4 625.6,210 626.4,209.8 627.2,209.6 628,208.6 628.8,208 629.6,207.3 630.4,206.5 631.2,205.7 632,204.4 632.8,203.9 633.6,203.5 634.4,202.2 635.2,200.6 636,199.5 636.8,198.4 637.6,197.2 638.4,196.4 639.2,195.6 640,193.3 640.8,190 641.6,187 642.4,183.4 643.2,179.6 644,177.7 644.8,176.8 645.6,175.8 646.4,175 647.2,174 648,173.4 648.8,172.3 649.6,171.3 650.4,170.8 651.2,170.5 652,170 652.8,169.6 653.6,170.5 654.4,171.6 655.2,172.1 656,172.9 656.8,173.5 657.6,174.4 658.4,175 659.2,175.3 660,176.3 660.8,177.2 661.6,177.6 662.4,178.3 663.2,178.9 664,179.8 664.8,180.8 665.6,181.2 666.4,182 667.2,182.5 668,182.9 668.8,183.9 669.6,184.6 670.4,184.9 671.2,184.9 671.2,187.9 670.4,187.9 669.6,187.6 668.8,186.9 668,185.9 667.2,185.5 666.4,185 665.6,184.2 664.8,183.8 664,182.8 663.2,181.9 662.4,181.3 661.6,180.6 660.8,180.2 660,179.3 659.2,178.3 658.4,178 657.6,177.4 656.8,176.5 656,175.9 655.2,175.1 654.4,174.6 653.6,173.5 652.8,172.6 652,173 651.2,173.5 650.4,173.8 649.6,174.3 648.8,175.3 648,176.4 647.2,177 646.4,178 645.6,178.8 644.8,179.8 644,180.7 643.2,182.6 642.4,186.4 641.6,190 640.8,193 640,196.3 639.2,198.6 638.4,199.4 637.6,200.2 636.8,201.4 636,202.5 635.2,203.6 634.4,205.2 633.6,206.5 632.8,206.9 632,207.4 631.2,208.7 630.4,209.5 629.6,210.3 628.8,211 628,211.6 627.2,212.6 626.4,212.8 625.6,213 624.8,213.4 624,213.9 623.2,214.7 622.4,215.3 621.6,215.6 620.8,215.7 620,216.1 619.2,216.6 618.4,217.1 617.6,217.2 616.8,216.7 616,216.7 615.2,216.5 614.4,216 613.6,215.8 612.8,215.8 612,215.7 611.2,215.2 610.4,215 609.6,215.2 608.8,215.5 608,215.8 607.2,215.4 606.4,215.5 605.6,216.2 604.8,216.3 604,216.4 603.2,216.3 602.4,215.9 601.6,216 600.8,216.1 600,215.7 599.2,215.5 598.4,215.7 597.6,216.2 596.8,215.9 596,215.5 595.2,216.2 594.4,216.4 593.6,215.8 592.8,216.1 592,215.9 591.2,215.4 590.4,216.1 589.6,216 588.8,216 588,215.9 587.2,215.4 586.4,215.1 585.6,215.3 584.8,215.7 584,215.5 583.2,215.8 582.4,216.2 581.6,216 580.8,214.9 580,214.7 579.2,215.6 578.4,216 577.6,215.8" fill="#9dbde6" fill-opacity="0.85" /><polyline points="577.6,214.3 578.4,214.5 579.2,214.1 580,213.2 580.8,213.4 581.6,214.5 582.4,214.7 583.2,214.3 584,214 584.8,214.2 585.6,213.8 586.4,213.6 587.2,213.9 588,214.4 588.8,214.5 589.6,214.5 590.4,214.6 591.2,213.9 592,214.4 592.8,214.6 593.6,214.3 594.4,214.9 595.2,214.7 596,214 596.8,214.4 597.6,214.7 598.4,214.2 599.2,214 600,214.2 600.8,214.6 601.6,214.5 602.4,214.4 603.2,214.8 604,214.9 604.8,214.8 605.6,214.7 606.4,214 607.2,213.9 608,214.3 608.8,214 609.6,213.7 610.4,213.5 611.2,213.7 612,214.2 612.8,214.3 613.6,214.3 614.4,214.5 615.2,215 616,215.2 616.8,215.2 617.6,215.7 618.4,215.6 619.2,215.1 620,214.6 620.8,214.2 621.6,214.1 622.4,213.8 623.2,213.2 624,212.4 624.8,211.9 625.6,211.5 626.4,211.3 627.2,211.1 628,210.1 628.8,209.5 629.6,208.8 630.4,208 631.2,207.2 632,205.9 632.8,205.4 633.6,205 634.4,203.7 635.2,202.1 636,201 636.8,199.9 637.6,198.7 638.4,197.9 639.2,197.1 640,194.8 640.8,191.5 641.6,188.5 642.4,184.9 643.2,181.1 644,179.2 644.8,178.3 645.6,177.3 646.4,176.5 647.2,175.5 648,174.9 648.8,173.8 649.6,172.8 650.4,172.3 651.2,172 652,171.5 652.8,171.1 653.6,172 654.4,173.1 655.2,173.6 656,174.4 656.8,175 657.6,175.9 658.4,176.5 659.2,176.8 660,177.8 660.8,178.7 661.6,179.1 662.4,179.8 663.2,180.4 664,181.3 664.8,182.3 665.6,182.7 666.4,183.5 667.2,184 668,184.4 668.8,185.4 669.6,186.1 670.4,186.4 671.2,186.4" fill="none" stroke="#3a7ad8" stroke-width="1.1" /><text x="629.5" y="175.6" font-size="6" fill="#3f7fd9" stroke="#3f7fd9" stroke-width="0.15" text-anchor="end"  textLength="23.5" lengthAdjust="spacingAndGlyphs">Velocity</text><text x="630" y="181.5" font-size="6" fill="#3f7fd9" stroke="#3f7fd9" stroke-width="0.15" text-anchor="end" >0.05 cm s<tspan font-size="3.8" dy="-2.2">−1</tspan></text><line x1="633.8" y1="171.6" x2="633.8" y2="179" stroke="#3f7fd9" stroke-width="1"/><text transform="translate(567.6,178.8) rotate(-90)" stroke="#231f20" stroke-width="0.2" font-size="8.6" textLength="86" lengthAdjust="spacingAndGlyphs">Aver. zone, cells Ca2<tspan font-size="5" dy="-3.5">+</tspan></text><path d="M610,225.7 L614,219.4 L614,225.7 Z" fill="#000"/><rect x="615.2" y="219.4" width="2.6" height="6.3" fill="#000"/><rect x="619.4" y="219.4" width="2.6" height="6.3" fill="#000"/><rect x="623.5" y="219.4" width="2.6" height="6.3" fill="#000"/><rect x="627.7" y="219.4" width="2.6" height="6.3" fill="#000"/><rect x="631.8" y="219.4" width="2.6" height="6.3" fill="#000"/><rect x="636" y="219.4" width="2.6" height="6.3" fill="#000"/><rect x="640.1" y="219.4" width="2.6" height="6.3" fill="#000"/><line x1="580" y1="226.2" x2="672.6" y2="226.2" stroke="#bdbdbd" stroke-width="1.2"/><line x1="587.4" y1="226.2" x2="587.4" y2="229" stroke="#231f20" stroke-width="0.5"/><line x1="606.8" y1="226.2" x2="606.8" y2="229" stroke="#231f20" stroke-width="0.5"/><line x1="625.9" y1="226.2" x2="625.9" y2="229" stroke="#231f20" stroke-width="0.5"/><line x1="644.2" y1="226.2" x2="644.2" y2="229" stroke="#231f20" stroke-width="0.5"/><line x1="663" y1="226.2" x2="663" y2="229" stroke="#231f20" stroke-width="0.5"/><text x="606.8" y="238" font-size="7.3" stroke="#231f20" stroke-width="0.182" text-anchor="middle" >−4</text><text x="644.2" y="238" font-size="7.3" stroke="#231f20" stroke-width="0.182" text-anchor="middle" >0</text><text x="626" y="250" font-size="8.3" stroke="#231f20" stroke-width="0.2" text-anchor="middle"  textLength="30.5" lengthAdjust="spacingAndGlyphs">Time (s)</text><text x="-0.3" y="270.8" font-size="12" fill="#000" font-weight="bold" >c</text><text x="26.5" y="276.9" font-size="8.2" stroke="#231f20" stroke-width="0.2"  textLength="134" lengthAdjust="spacingAndGlyphs">Neuronal responses versus speed</text><text x="13" y="309.8" font-size="8.4" stroke="#231f20" stroke-width="0.2" >Ca<tspan font-size="5.2" dy="-3.6">2+</tspan></text><line x1="14.1" y1="315.9" x2="25.7" y2="315.9" stroke="#c9514f" stroke-width="1.5"/><text x="30.7" y="318.9" font-size="7.2" stroke="#231f20" stroke-width="0.18"  textLength="50.6" lengthAdjust="spacingAndGlyphs">Aver. (30′–40′)</text><line x1="14.1" y1="327.5" x2="25.7" y2="327.5" stroke="#6a9a55" stroke-width="1.5"/><text x="30.7" y="330.5" font-size="7.2" stroke="#231f20" stroke-width="0.18"  textLength="47.5" lengthAdjust="spacingAndGlyphs">Ctrl. (30′–40′)</text><text x="12.7" y="351.4" font-size="8.4" stroke="#231f20" stroke-width="0.2"  textLength="32.6" lengthAdjust="spacingAndGlyphs">Velocity</text><line x1="14.1" y1="359.5" x2="25.7" y2="359.5" stroke="#5a7fd0" stroke-width="1.5"/><text x="30.7" y="362.9" font-size="7.2" stroke="#231f20" stroke-width="0.18"  textLength="50.6" lengthAdjust="spacingAndGlyphs">Aver. (30′–40′)</text><line x1="14.1" y1="371.8" x2="25.7" y2="371.8" stroke="#f09a62" stroke-width="1.5"/><text x="30.7" y="374.8" font-size="7.2" stroke="#231f20" stroke-width="0.18"  textLength="47.5" lengthAdjust="spacingAndGlyphs">Ctrl. (30′–40′)</text><rect x="90.8" y="344.6" width="32.6" height="134.7" fill="#c0d8f1"/><rect x="123.4" y="294.7" width="7" height="184.6" fill="#f8d9d7"/><line x1="123.4" y1="294.7" x2="123.4" y2="489" stroke="#e56060" stroke-width="0.5" stroke-dasharray="1.3,0.9"/><line x1="130.4" y1="294.7" x2="130.4" y2="489" stroke="#e56060" stroke-width="0.5" stroke-dasharray="1.3,0.9"/><text x="108.3" y="355" font-size="11" fill="#3f7fd9" stroke="#3f7fd9" stroke-width="0.2" text-anchor="middle" >*</text><g stroke="#d42a2a" fill="none"><circle cx="114.4" cy="293.2" r="3.9" stroke-width="1.2" stroke-dasharray="2.2,0.6"/><circle cx="113.8" cy="293.6" r="1.5" stroke-width="0.7"/><line x1="104.8" y1="292.6" x2="110.5" y2="292.6" stroke-width="1.6"/><line x1="105.5" y1="290.8" x2="110" y2="291.8" stroke-width="0.5"/><line x1="105.5" y1="294.4" x2="110" y2="293.4" stroke-width="0.5"/></g><text x="104.8" y="305" font-size="5.6" fill="#d42a2a" stroke="#d42a2a" stroke-width="0.14"  textLength="16.5" lengthAdjust="spacingAndGlyphs">Airpuff</text><line x1="12" y1="473.5" x2="140" y2="473.5" stroke="#555" stroke-width="0.5" stroke-dasharray="2,1.5"/><line x1="38.4" y1="427" x2="38.4" y2="473" stroke="#38b0e0" stroke-width="1.1" stroke-dasharray="2.2,1.6"/><line x1="82.8" y1="427" x2="82.8" y2="473" stroke="#38b0e0" stroke-width="1.1" stroke-dasharray="2.2,1.6"/><polygon points="15.5,465.8 16.4,466.2 17.3,466.1 18.2,466.2 19.1,466.5 20,467.1 20.9,467.6 21.8,468 22.7,467.8 23.6,467.7 24.5,468.1 25.4,468.7 26.3,469.6 27.2,469.7 28.1,469.6 29,469.7 29.9,469.8 30.8,470.1 31.7,469.8 32.6,469.8 33.5,469.8 34.4,470.2 35.3,470.3 36.2,470.7 37.1,470.5 38,470.6 38.9,470.5 39.8,470.6 40.7,470.4 41.6,470.6 42.5,470.9 43.4,471.1 44.3,471.1 45.2,471 46.1,471 47,470.7 47.9,470.8 48.8,470.9 49.7,470.8 50.6,470.9 51.5,470.5 52.4,470.4 53.3,470 54.2,470.1 55.1,470.1 56,470.2 56.9,470.1 57.8,470.2 58.7,470.4 59.6,470.2 60.5,470.2 61.4,469.7 62.3,469.8 63.2,469.7 64.1,470 65,470 65.9,470 66.8,470 67.7,470.1 68.6,470.2 69.5,470.4 70.4,470.7 71.3,470.8 72.2,470.8 73.1,470.7 74,470.7 74.9,470.6 75.8,470.3 76.7,470.3 77.6,470.1 78.5,470.1 79.4,469.8 80.3,469.7 81.2,469.8 82.1,469.2 83,465.9 83.9,462.7 84.8,459.5 85.7,456.6 86.6,455.4 87.5,454.7 88.4,453.6 89.3,452.7 90.2,451.9 91.1,451.1 92,450 92.9,448.6 93.8,447.8 94.7,446.9 95.6,446.2 96.5,444.9 97.4,443.7 98.3,442.3 99.2,440.9 100.1,439.4 101,438.1 101.9,436.2 102.8,434.4 103.7,432.6 104.6,431.4 105.5,429.6 106.4,427.3 107.3,425 108.2,423.4 109.1,422.2 110,420.9 110.9,421.2 111.8,422.3 112.7,423.6 113.6,424.9 114.5,426.4 115.4,427.2 116.3,426.9 117.2,426.3 118.1,425.7 119,425 119.9,424.6 120.8,424.2 121.7,424.5 122.6,425.3 123.5,426.3 124.4,427.3 125.3,428.1 126.2,428.8 127.1,428.7 128,427.9 128.9,427.1 129.8,426.7 130.7,426.3 131.6,425.9 132.5,425.4 133.4,425.5 134.3,425.4 135.2,425.8 136.1,426.3 137,426.8 137.9,427.3 138.8,428 139.7,430.4 140.6,432.9 141.5,435.3 142.4,438 143.3,437.1 144.2,435.8 145.1,434.4 146,433.4 146.9,432.6 147.8,431.2 148.7,429.1 149.6,426.8 150.5,424.8 151.4,422.6 152.3,420.7 153.2,419.2 154.1,418 155,416.7 155.9,415.8 156.8,414.5 157.7,413.2 158.6,411.6 159.5,410.2 160.4,408.7 161.3,407 162.2,405.3 163.1,403.4 164,401.9 164.9,401.7 165.8,401.5 166.7,401.4 167.6,401.3 168.5,401.4 169.4,401.3 170.3,400.6 171.2,399.2 172.1,397.8 173,396.7 173.9,395.8 174.8,394.9 175.7,393.8 176.6,392.7 177.5,391.4 178.4,391 179.3,391.4 180.2,391.5 181.1,391.7 182,391.5 182.9,391.6 182.9,403.6 182,403.5 181.1,403.7 180.2,403.5 179.3,403.4 178.4,403 177.5,403.4 176.6,404.7 175.7,405.8 174.8,406.9 173.9,407.8 173,408.7 172.1,409.8 171.2,411.2 170.3,412.6 169.4,413.3 168.5,413.4 167.6,413.3 166.7,413.4 165.8,413.5 164.9,413.7 164,413.9 163.1,415.4 162.2,417.3 161.3,419 160.4,420.7 159.5,422.2 158.6,423.6 157.7,425.2 156.8,426.5 155.9,427.8 155,428.7 154.1,430 153.2,431.2 152.3,432.7 151.4,434.6 150.5,436.8 149.6,438.8 148.7,441.1 147.8,443.2 146.9,444.6 146,445.4 145.1,446.4 144.2,447.8 143.3,449.1 142.4,450 141.5,447.3 140.6,444.9 139.7,442.4 138.8,439.9 137.9,439.2 137,438.6 136.1,438 135.2,437.3 134.3,436.9 133.4,436.9 132.5,436.8 131.6,437.2 130.7,437.5 129.8,437.8 128.9,438.1 128,438.9 127.1,439.6 126.2,439.6 125.3,438.8 124.4,438 123.5,436.9 122.6,435.8 121.7,434.9 120.8,434.5 119.9,434.9 119,435.2 118.1,435.8 117.2,436.4 116.3,436.9 115.4,437.1 114.5,436.2 113.6,434.6 112.7,433.2 111.8,431.9 110.9,430.7 110,430.3 109.1,431.5 108.2,432.7 107.3,434.2 106.4,436.4 105.5,438.7 104.6,440.4 103.7,441.3 102.8,443.1 101.9,444.6 101,446.5 100.1,447.6 99.2,448.9 98.3,450.2 97.4,451.4 96.5,452.4 95.6,453.6 94.7,454.2 93.8,454.9 92.9,455.6 92,456.8 91.1,457.7 90.2,458.3 89.3,459 88.4,459.8 87.5,460.8 86.6,461.2 85.7,462.3 84.8,465.1 83.9,468.2 83,471.5 82.1,474.7 81.2,475.3 80.3,475.2 79.4,475.3 78.5,475.6 77.6,475.6 76.7,475.7 75.8,475.7 74.9,476 74,476.1 73.1,476.1 72.2,476.2 71.3,476.2 70.4,476 69.5,475.7 68.6,475.5 67.7,475.4 66.8,475.3 65.9,475.3 65,475.3 64.1,475.3 63.2,474.9 62.3,475 61.4,474.9 60.5,475.4 59.6,475.4 58.7,475.6 57.8,475.4 56.9,475.2 56,475.3 55.1,475.1 54.2,475.1 53.3,475 52.4,475.4 51.5,475.5 50.6,475.9 49.7,475.8 48.8,475.8 47.9,475.8 47,475.7 46.1,475.9 45.2,475.9 44.3,476 43.4,476 42.5,475.7 41.6,475.4 40.7,475.2 39.8,475.4 38.9,475.3 38,475.4 37.1,475.3 36.2,475.4 35.3,475 34.4,474.9 33.5,474.5 32.6,474.5 31.7,474.5 30.8,474.8 29.9,474.4 29,474.3 28.1,474.2 27.2,474.3 26.3,474.2 25.4,473.3 24.5,472.6 23.6,472.2 22.7,472.4 21.8,472.5 20.9,472.1 20,471.5 19.1,471 18.2,470.6 17.3,470.5 16.4,470.6 15.5,470.2" fill="#8fc08a" fill-opacity="0.75" /><polygon points="15.5,470 16.4,469.8 17.3,469.8 18.2,469.6 19.1,469.3 20,469.1 20.9,469.1 21.8,469.6 22.7,469.8 23.6,469.8 24.5,469.6 25.4,469.4 26.3,469.3 27.2,468.9 28.1,468.9 29,469.1 29.9,469.3 30.8,468.8 31.7,468.7 32.6,468.7 33.5,468.9 34.4,468.8 35.3,468.6 36.2,468.8 37.1,468.8 38,468.8 38.9,468.7 39.8,468.6 40.7,468.4 41.6,468.3 42.5,468.1 43.4,468 44.3,467.9 45.2,468 46.1,468.1 47,468.3 47.9,468.5 48.8,468.5 49.7,468.3 50.6,468.3 51.5,468.2 52.4,468 53.3,467.6 54.2,467.4 55.1,467.3 56,467.3 56.9,467.5 57.8,467.7 58.7,467.8 59.6,467.7 60.5,467.6 61.4,467.4 62.3,467.4 63.2,467.3 64.1,467.4 65,467.4 65.9,467.6 66.8,467.7 67.7,467.9 68.6,467.6 69.5,467.3 70.4,466.9 71.3,466.9 72.2,466.9 73.1,466.6 74,466.2 74.9,465.9 75.8,466 76.7,466 77.6,465.6 78.5,464 79.4,461.3 80.3,460.6 81.2,462.2 82.1,463.8 83,465 83.9,458.3 84.8,451.9 85.7,445.3 86.6,441.6 87.5,439.5 88.4,437.6 89.3,435.7 90.2,433.9 91.1,432.8 92,431.4 92.9,430.6 93.8,429.9 94.7,428.9 95.6,427.7 96.5,426.7 97.4,425.9 98.3,424.7 99.2,423.7 100.1,421.8 101,420.6 101.9,418.5 102.8,416.8 103.7,414.8 104.6,413.1 105.5,411.6 106.4,410.8 107.3,409.8 108.2,409 109.1,408.2 110,408.8 110.9,409.7 111.8,410.6 112.7,411.6 113.6,412.7 114.5,413.8 115.4,414.8 116.3,415.7 117.2,416.5 118.1,417.5 119,418.4 119.9,417.5 120.8,416.6 121.7,416 122.6,415.3 123.5,414.7 124.4,413.5 125.3,413.3 126.2,412.9 127.1,412.9 128,412.8 128.9,412.9 129.8,413.1 130.7,413.3 131.6,413.8 132.5,414 133.4,414.5 134.3,414.8 135.2,415.1 136.1,415 137,415.3 137.9,415.6 138.8,416.1 139.7,416.4 140.6,416.7 141.5,417 142.4,417.3 143.3,418 144.2,419 145.1,419.8 146,420.6 146.9,421.4 147.8,420.9 148.7,418.3 149.6,415.2 150.5,411.7 151.4,408.3 152.3,405.1 153.2,405.8 154.1,406.6 155,407.2 155.9,407.9 156.8,408.6 157.7,409.6 158.6,409.1 159.5,406.7 160.4,404.4 161.3,401.6 162.2,399 163.1,396.2 164,394 164.9,393.8 165.8,393.4 166.7,393.3 167.6,393.1 168.5,392.9 169.4,392.4 170.3,391.6 171.2,390.6 172.1,389.9 173,389.5 173.9,389.4 174.8,388.7 175.7,388 176.6,387.6 177.5,387.3 178.4,386.8 179.3,385.8 180.2,385.2 181.1,384.6 182,384.2 182.9,383.5 182.9,393.5 182,394.2 181.1,394.7 180.2,395.2 179.3,395.9 178.4,396.9 177.5,397.4 176.6,397.7 175.7,398.1 174.8,398.8 173.9,399.6 173,399.7 172.1,400.1 171.2,400.8 170.3,401.8 169.4,402.7 168.5,403.2 167.6,403.4 166.7,403.6 165.8,403.7 164.9,404.1 164,404.3 163.1,406.6 162.2,409.4 161.3,412 160.4,414.8 159.5,417.1 158.6,419.5 157.7,420.1 156.8,419.1 155.9,418.5 155,417.7 154.1,417.1 153.2,416.4 152.3,415.7 151.4,418.9 150.5,422.4 149.6,425.8 148.7,429 147.8,431.6 146.9,432.1 146,431.3 145.1,430.5 144.2,429.8 143.3,428.8 142.4,428 141.5,427.8 140.6,427.5 139.7,427.2 138.8,426.9 137.9,426.5 137,426.1 136.1,425.9 135.2,426 134.3,425.7 133.4,425.4 132.5,425 131.6,424.8 130.7,424.3 129.8,424.1 128.9,423.8 128,423.7 127.1,423.8 126.2,423.8 125.3,424.1 124.4,424.4 123.5,425.5 122.6,426 121.7,426.7 120.8,427.3 119.9,428.1 119,429 118.1,428.1 117.2,427.1 116.3,426.3 115.4,425.3 114.5,424.3 113.6,423.2 112.7,422 111.8,421 110.9,420.1 110,419.2 109.1,418.5 108.2,419.3 107.3,420.1 106.4,421 105.5,421.8 104.6,423.2 103.7,424.9 102.8,426.9 101.9,428.6 101,430.6 100.1,431.9 99.2,433.4 98.3,434.2 97.4,435.2 96.5,435.7 95.6,436.5 94.7,437.4 93.8,438.1 92.9,438.6 92,439.1 91.1,440.3 90.2,441.1 89.3,442.6 88.4,444.3 87.5,445.9 86.6,447.8 85.7,451.3 84.8,457.9 83.9,464.2 83,470.8 82.1,469.6 81.2,468 80.3,466.3 79.4,467 78.5,469.6 77.6,471.2 76.7,471.6 75.8,471.5 74.9,471.3 74,471.6 73.1,471.9 72.2,472.2 71.3,472.1 70.4,472.1 69.5,472.4 68.6,472.7 67.7,472.9 66.8,472.7 65.9,472.6 65,472.4 64.1,472.2 63.2,472.1 62.3,472.2 61.4,472.2 60.5,472.3 59.6,472.3 58.7,472.4 57.8,472.3 56.9,472 56,471.8 55.1,471.7 54.2,471.7 53.3,471.9 52.4,472.3 51.5,472.5 50.6,472.5 49.7,472.4 48.8,472.6 47.9,472.5 47,472.4 46.1,472 45.2,471.9 44.3,471.7 43.4,471.9 42.5,471.9 41.6,472 40.7,472.1 39.8,472.3 38.9,472.3 38,472.4 37.1,472.3 36.2,472.3 35.3,472.1 34.4,472.2 33.5,472.2 32.6,472 31.7,472 30.8,472 29.9,472.5 29,472.2 28.1,471.9 27.2,471.9 26.3,472.3 25.4,472.3 24.5,472.5 23.6,472.6 22.7,472.6 21.8,472.3 20.9,471.7 20,471.7 19.1,471.9 18.2,472.1 17.3,472.3 16.4,472.3 15.5,472.4" fill="#f6b28c" fill-opacity="0.65" /><polygon points="15.5,467.1 16.4,467.2 17.3,467.5 18.2,467.3 19.1,467.2 20,467.1 20.9,466.9 21.8,466.6 22.7,466.2 23.6,466 24.5,466.3 25.4,466.2 26.3,466.1 27.2,465.8 28.1,465.7 29,465.4 29.9,465.3 30.8,465.3 31.7,464.7 32.6,464.3 33.5,464 34.4,464 35.3,463 36.2,462.2 37.1,461.6 38,461 38.9,460.3 39.8,459.4 40.7,458.5 41.6,457.5 42.5,456.4 43.4,455.8 44.3,452.6 45.2,449.7 46.1,446.2 47,443.1 47.9,440.4 48.8,438.1 49.7,435.6 50.6,433.7 51.5,432.7 52.4,432 53.3,431.6 54.2,431.2 55.1,430.8 56,430 56.9,429.3 57.8,428.4 58.7,427.3 59.6,426.5 60.5,425.3 61.4,425.3 62.3,426.5 63.2,428.2 64.1,429.4 65,430.4 65.9,431.1 66.8,432.1 67.7,431.1 68.6,430.1 69.5,428.6 70.4,427.4 71.3,426.4 72.2,424.6 73.1,422 74,419.3 74.9,416.7 75.8,415.5 76.7,414.4 77.6,413.4 78.5,412.2 79.4,411 80.3,409.7 81.2,408.2 82.1,406.5 83,404.8 83.9,403.3 84.8,401.2 85.7,399.8 86.6,398 87.5,396.8 88.4,394.2 89.3,391.5 90.2,389.1 91.1,389.3 92,389.6 92.9,389.3 93.8,389.3 94.7,389.3 95.6,389 96.5,388.9 97.4,388.9 98.3,388.6 99.2,388.1 100.1,387.3 101,386.1 101.9,384.9 102.8,383.5 103.7,382.1 104.6,381.1 105.5,380.8 106.4,380.2 107.3,379.3 108.2,377.9 109.1,376.3 110,375 110.9,373.3 111.8,372.3 112.7,371.1 113.6,370.1 114.5,369.1 115.4,367.8 116.3,366.3 117.2,364.7 118.1,363.7 119,362.8 119.9,361.6 120.8,358.5 121.7,355.2 122.6,355.1 123.5,356.6 124.4,356.3 125.3,354.7 126.2,353.3 127.1,352.5 128,351.9 128.9,351.7 129.8,351.2 130.7,349.7 131.6,344.7 132.5,339.8 133.4,335.3 134.3,331.1 135.2,326 136.1,321.2 137,316.4 137.9,312 138.8,306.8 139.7,301.8 140.6,296.8 141.5,292.2 142.4,287.7 143.3,286.6 144.2,285.8 145.1,284.5 146,283.4 146.9,282.9 147.8,283.3 148.7,283.8 149.6,284 150.5,284 151.4,283.8 152.3,283.7 153.2,284.2 154.1,285 155,285.8 155.9,286.3 156.8,286.5 157.7,287.2 158.6,288.4 159.5,290 160.4,291.3 161.3,292.5 162.2,293.6 163.1,294.6 164,293.1 164.9,292.4 165.8,291.1 166.7,289.8 167.6,288.9 168.5,289.4 169.4,290.1 170.3,290.8 171.2,290.7 172.1,291.3 173,292.3 173.9,294.1 174.8,295.4 175.7,297.3 176.6,298.6 177.5,299.9 178.4,299.8 179.3,298.9 180.2,298.4 181.1,297.7 182,297.8 182.9,297.7 182.9,337.4 182,337.3 181.1,336.9 180.2,337.4 179.3,337.7 178.4,338.3 177.5,338.2 176.6,336.5 175.7,335 174.8,332.9 173.9,331.2 173,329.2 172.1,327.9 171.2,327.1 170.3,326.9 169.4,325.8 168.5,324.8 167.6,323.9 166.7,324.5 165.8,325.4 164.9,326.4 164,326.7 163.1,327.8 162.2,326.5 161.3,325 160.4,323.5 159.5,321.8 158.6,319.9 157.7,318.4 156.8,317.4 155.9,316.8 155,316 154.1,314.8 153.2,313.8 152.3,312.9 151.4,312.7 150.5,312.6 149.6,312.3 148.7,311.8 147.8,310.9 146.9,310.2 146,310.4 145.1,311.1 144.2,311.9 143.3,312.3 142.4,312.9 141.5,316.9 140.6,320.7 139.7,325.1 138.8,329.4 137.9,334 137,337.9 136.1,342.3 135.2,346.6 134.3,351.2 133.4,355 132.5,359.1 131.6,363.6 130.7,368.5 129.8,369.8 128.9,370.2 128,370.2 127.1,370.7 126.2,371.3 125.3,372.5 124.4,373.8 123.5,373.8 122.6,372 121.7,371.8 120.8,374.8 119.9,377.6 119,378.4 118.1,379 117.2,379.6 116.3,380.8 115.4,382 114.5,382.9 113.6,383.6 112.7,384.2 111.8,385.1 110.9,385.7 110,387 109.1,388.3 108.2,389.9 107.3,391.3 106.4,392.2 105.5,392.8 104.6,393.1 103.7,394.1 102.8,395.5 101.9,396.9 101,398.1 100.1,399.3 99.2,400.2 98.3,401 97.4,401.4 96.5,401.6 95.6,401.9 94.7,402.3 93.8,402.5 92.9,402.8 92,403.2 91.1,403.1 90.2,403.1 89.3,405.2 88.4,407.5 87.5,409.8 86.6,410.6 85.7,412.1 84.8,413.1 83.9,414.9 83,416 82.1,417.3 81.2,418.7 80.3,419.8 79.4,421 78.5,422 77.6,423 76.7,424 75.8,424.9 74.9,426 74,428.5 73.1,431 72.2,433.5 71.3,435.2 70.4,436 69.5,437.1 68.6,438.6 67.7,439.4 66.8,440.2 65.9,439.1 65,438.3 64.1,437.2 63.2,435.8 62.3,434.1 61.4,432.7 60.5,432.5 59.6,433.7 58.7,434.4 57.8,435.5 56.9,436.2 56,436.9 55.1,437.6 54.2,437.9 53.3,438.3 52.4,438.6 51.5,439.2 50.6,440.1 49.7,442 48.8,444.5 47.9,446.6 47,449.2 46.1,452.3 45.2,455.7 44.3,458.5 43.4,461.7 42.5,462.2 41.6,463.3 40.7,464.2 39.8,465.1 38.9,465.9 38,466.5 37.1,467 36.2,467.6 35.3,468.4 34.4,469.3 33.5,469.2 32.6,469.5 31.7,469.8 30.8,470.3 29.9,470.3 29,470.3 28.1,470.6 27.2,470.6 26.3,470.8 25.4,470.9 24.5,470.9 23.6,470.5 22.7,470.7 21.8,471 20.9,471.3 20,471.4 19.1,471.4 18.2,471.4 17.3,471.6 16.4,471.3 15.5,471.1" fill="#dd5b57" fill-opacity="0.75" /><polygon points="15.5,468.6 16.4,468.7 17.3,468.7 18.2,468.8 19.1,468.5 20,468.5 20.9,468.4 21.8,468.4 22.7,468.4 23.6,468.4 24.5,468.6 25.4,468.5 26.3,468.6 27.2,468.3 28.1,468.1 29,468.2 29.9,468.3 30.8,468.4 31.7,468.2 32.6,467.9 33.5,468.2 34.4,468.5 35.3,468.8 36.2,468.6 37.1,468.2 38,468.1 38.9,468.5 39.8,468.7 40.7,468.8 41.6,468.4 42.5,468.4 43.4,468.3 44.3,467.8 45.2,467.2 46.1,466.6 47,466 47.9,465.3 48.8,465.8 49.7,466.4 50.6,467 51.5,467.5 52.4,467.9 53.3,468.3 54.2,468.1 55.1,467.9 56,467.5 56.9,467.4 57.8,467.2 58.7,466.6 59.6,465.4 60.5,464.1 61.4,462.9 62.3,461.5 63.2,460.7 64.1,461.5 65,463.7 65.9,465.2 66.8,467.2 67.7,467.3 68.6,467.5 69.5,467.6 70.4,467.6 71.3,467.8 72.2,467.7 73.1,467.8 74,467.8 74.9,466.3 75.8,465 76.7,463.3 77.6,461.6 78.5,459.6 79.4,458.1 80.3,458.7 81.2,460.8 82.1,463 83,464.9 83.9,464.2 84.8,461.7 85.7,459.5 86.6,457.2 87.5,455 88.4,453.2 89.3,452.3 90.2,451.8 91.1,451.1 92,450.9 92.9,450 93.8,449.1 94.7,447.9 95.6,445.6 96.5,442.7 97.4,439.9 98.3,437.2 99.2,434.2 100.1,431.1 101,428.4 101.9,425.6 102.8,422.2 103.7,418.2 104.6,414.3 105.5,410.5 106.4,406.9 107.3,403.9 108.2,401.8 109.1,399.5 110,397.6 110.9,395.3 111.8,396.1 112.7,400.2 113.6,404.3 114.5,401.4 115.4,398 116.3,394.8 117.2,391.3 118.1,387.8 119,385.5 119.9,384.4 120.8,382.8 121.7,381.1 122.6,379.3 123.5,375.9 124.4,369.9 125.3,363.9 126.2,349.6 127.1,335.1 128,326.8 128.9,318.3 129.8,309.9 130.7,306.6 131.6,303.3 132.5,299.8 133.4,298.3 134.3,297.7 135.2,297.3 136.1,297.2 137,297 137.9,296.7 138.8,296.6 139.7,296.1 140.6,295.6 141.5,294.3 142.4,293.4 143.3,292.6 144.2,291.7 145.1,291.6 146,291.7 146.9,291.8 147.8,292 148.7,292.3 149.6,292.5 150.5,293 151.4,293.4 152.3,293.7 153.2,294.1 154.1,294.5 155,296.1 155.9,297.9 156.8,299.7 157.7,301.5 158.6,303.1 159.5,304.9 160.4,306.5 161.3,308.1 162.2,309.5 163.1,310.9 164,312.1 164.9,313.8 165.8,314.7 166.7,315.9 167.6,317.2 168.5,318.7 169.4,320.1 170.3,321.3 171.2,322.8 172.1,324.1 173,325.6 173.9,327.2 174.8,328.9 175.7,330.4 176.6,332 177.5,333.6 178.4,333.9 179.3,333.4 180.2,333.1 181.1,332.6 182,332.5 182.9,332 182.9,341.1 182,341.7 181.1,341.9 180.2,342.5 179.3,342.9 178.4,343.5 177.5,343.3 176.6,341.8 175.7,340.3 174.8,339 173.9,337.5 173,336.2 172.1,334.9 171.2,333.8 170.3,332.6 169.4,331.6 168.5,330.4 167.6,329.2 166.7,328.1 165.8,327.2 164.9,326.4 164,325.1 163.1,324.1 162.2,322.9 161.3,321.8 160.4,320.4 159.5,318.8 158.6,317.1 157.7,315.4 156.8,313.5 155.9,311.6 155,309.8 154.1,308.1 153.2,307.7 152.3,307.2 151.4,306.8 150.5,306.4 149.6,305.9 148.7,305.5 147.8,305.2 146.9,304.9 146,304.7 145.1,304.6 144.2,304.6 143.3,305.2 142.4,305.8 141.5,306.6 140.6,307.7 139.7,308 138.8,308.2 137.9,308.2 137,308.3 136.1,308.3 135.2,308.2 134.3,308.4 133.4,308.8 132.5,310.1 131.6,313.4 130.7,316.7 129.8,320.2 128.9,328.8 128,337.5 127.1,346.1 126.2,360.8 125.3,375.4 124.4,381.6 123.5,387.8 122.6,391.3 121.7,393.1 120.8,394.8 119.9,396.4 119,397.5 118.1,399.8 117.2,403.3 116.3,406.8 115.4,410 114.5,413.4 113.6,416.3 112.7,412.2 111.8,408.1 110.9,407.3 110,409.6 109.1,411.3 108.2,413.5 107.3,415.4 106.4,418.2 105.5,421.6 104.6,425.3 103.7,428.9 102.8,432.8 101.9,436 101,438.6 100.1,441.2 99.2,443.7 98.3,446.1 97.4,448.3 96.5,450.6 95.6,452.9 94.7,454.8 93.8,455.8 92.9,456.4 92,457 91.1,457 90.2,457.3 89.3,457.6 88.4,458.3 87.5,459.7 86.6,461.7 85.7,463.7 84.8,465.7 83.9,468.2 83,468.9 82.1,466.9 81.2,464.8 80.3,462.6 79.4,461.9 78.5,463.5 77.6,465.4 76.7,467.1 75.8,468.8 74.9,470.1 74,471.6 73.1,471.6 72.2,471.5 71.3,471.5 70.4,471.3 69.5,471.3 68.6,471.1 67.7,471 66.8,470.9 65.9,468.9 65,467.3 64.1,465 63.2,464.3 62.3,465 61.4,466.5 60.5,467.6 59.6,468.9 58.7,470.1 57.8,470.7 56.9,470.8 56,471 55.1,471.3 54.2,471.4 53.3,471.7 52.4,471.3 51.5,470.8 50.6,470.3 49.7,469.7 48.8,469 47.9,468.6 47,469.3 46.1,469.9 45.2,470.4 44.3,471 43.4,471.5 42.5,471.5 41.6,471.5 40.7,471.9 39.8,471.8 38.9,471.6 38,471.2 37.1,471.2 36.2,471.6 35.3,471.8 34.4,471.4 33.5,471.1 32.6,470.9 31.7,471.1 30.8,471.3 29.9,471.2 29,471.1 28.1,471 27.2,471.2 26.3,471.4 25.4,471.3 24.5,471.4 23.6,471.1 22.7,471.2 21.8,471.2 20.9,471.1 20,471.2 19.1,471.1 18.2,471.4 17.3,471.4 16.4,471.3 15.5,471.2" fill="#3f7f9f" fill-opacity="0.7" /><polyline points="15.5,468 16.4,468.4 17.3,468.3 18.2,468.4 19.1,468.8 20,469.3 20.9,469.9 21.8,470.3 22.7,470.1 23.6,470 24.5,470.3 25.4,471 26.3,471.9 27.2,472 28.1,471.9 29,472 29.9,472.1 30.8,472.4 31.7,472.2 32.6,472.2 33.5,472.2 34.4,472.6 35.3,472.7 36.2,473.1 37.1,472.9 38,473 38.9,472.9 39.8,473 40.7,472.8 41.6,473 42.5,473.3 43.4,473.6 44.3,473.6 45.2,473.4 46.1,473.4 47,473.2 47.9,473.3 48.8,473.3 49.7,473.3 50.6,473.4 51.5,473 52.4,472.9 53.3,472.5 54.2,472.6 55.1,472.6 56,472.7 56.9,472.6 57.8,472.8 58.7,473 59.6,472.8 60.5,472.8 61.4,472.3 62.3,472.4 63.2,472.3 64.1,472.6 65,472.6 65.9,472.6 66.8,472.7 67.7,472.8 68.6,472.9 69.5,473 70.4,473.4 71.3,473.5 72.2,473.5 73.1,473.4 74,473.4 74.9,473.3 75.8,473 76.7,473 77.6,472.9 78.5,472.8 79.4,472.6 80.3,472.5 81.2,472.5 82.1,471.9 83,468.7 83.9,465.4 84.8,462.3 85.7,459.5 86.6,458.3 87.5,457.7 88.4,456.7 89.3,455.9 90.2,455.1 91.1,454.4 92,453.4 92.9,452.1 93.8,451.4 94.7,450.5 95.6,449.9 96.5,448.6 97.4,447.6 98.3,446.2 99.2,444.9 100.1,443.5 101,442.3 101.9,440.4 102.8,438.8 103.7,437 104.6,435.9 105.5,434.1 106.4,431.9 107.3,429.6 108.2,428 109.1,426.8 110,425.6 110.9,425.9 111.8,427.1 112.7,428.4 113.6,429.8 114.5,431.3 115.4,432.2 116.3,431.9 117.2,431.4 118.1,430.7 119,430.1 119.9,429.8 120.8,429.3 121.7,429.7 122.6,430.5 123.5,431.6 124.4,432.6 125.3,433.4 126.2,434.2 127.1,434.2 128,433.4 128.9,432.6 129.8,432.3 130.7,431.9 131.6,431.6 132.5,431.1 133.4,431.2 134.3,431.2 135.2,431.6 136.1,432.2 137,432.7 137.9,433.2 138.8,433.9 139.7,436.4 140.6,438.9 141.5,441.3 142.4,444 143.3,443.1 144.2,441.8 145.1,440.4 146,439.4 146.9,438.6 147.8,437.2 148.7,435.1 149.6,432.8 150.5,430.8 151.4,428.6 152.3,426.7 153.2,425.2 154.1,424 155,422.7 155.9,421.8 156.8,420.5 157.7,419.2 158.6,417.6 159.5,416.2 160.4,414.7 161.3,413 162.2,411.3 163.1,409.4 164,407.9 164.9,407.7 165.8,407.5 166.7,407.4 167.6,407.3 168.5,407.4 169.4,407.3 170.3,406.6 171.2,405.2 172.1,403.8 173,402.7 173.9,401.8 174.8,400.9 175.7,399.8 176.6,398.7 177.5,397.4 178.4,397 179.3,397.4 180.2,397.5 181.1,397.7 182,397.5 182.9,397.6" fill="none" stroke="#3f8a34" stroke-width="0.9" /><polyline points="15.5,471.2 16.4,471.1 17.3,471 18.2,470.9 19.1,470.6 20,470.4 20.9,470.4 21.8,470.9 22.7,471.2 23.6,471.2 24.5,471 25.4,470.9 26.3,470.8 27.2,470.4 28.1,470.4 29,470.7 29.9,470.9 30.8,470.4 31.7,470.4 32.6,470.3 33.5,470.6 34.4,470.5 35.3,470.3 36.2,470.5 37.1,470.6 38,470.6 38.9,470.5 39.8,470.5 40.7,470.3 41.6,470.1 42.5,470 43.4,469.9 44.3,469.8 45.2,469.9 46.1,470.1 47,470.4 47.9,470.5 48.8,470.5 49.7,470.3 50.6,470.4 51.5,470.4 52.4,470.1 53.3,469.7 54.2,469.6 55.1,469.5 56,469.6 56.9,469.7 57.8,470 58.7,470.1 59.6,470 60.5,469.9 61.4,469.8 62.3,469.8 63.2,469.7 64.1,469.8 65,469.9 65.9,470.1 66.8,470.2 67.7,470.4 68.6,470.2 69.5,469.8 70.4,469.5 71.3,469.5 72.2,469.6 73.1,469.2 74,468.9 74.9,468.6 75.8,468.7 76.7,468.8 77.6,468.4 78.5,466.8 79.4,464.2 80.3,463.5 81.2,465.1 82.1,466.7 83,467.9 83.9,461.3 84.8,454.9 85.7,448.3 86.6,444.7 87.5,442.7 88.4,440.9 89.3,439.1 90.2,437.5 91.1,436.6 92,435.3 92.9,434.6 93.8,434 94.7,433.1 95.6,432.1 96.5,431.2 97.4,430.6 98.3,429.4 99.2,428.6 100.1,426.9 101,425.6 101.9,423.5 102.8,421.9 103.7,419.9 104.6,418.2 105.5,416.7 106.4,415.9 107.3,415 108.2,414.2 109.1,413.3 110,414 110.9,414.9 111.8,415.8 112.7,416.8 113.6,418 114.5,419.1 115.4,420 116.3,421 117.2,421.8 118.1,422.8 119,423.7 119.9,422.8 120.8,421.9 121.7,421.3 122.6,420.6 123.5,420.1 124.4,418.9 125.3,418.7 126.2,418.3 127.1,418.4 128,418.3 128.9,418.3 129.8,418.6 130.7,418.8 131.6,419.3 132.5,419.5 133.4,419.9 134.3,420.3 135.2,420.6 136.1,420.4 137,420.7 137.9,421 138.8,421.5 139.7,421.8 140.6,422.1 141.5,422.4 142.4,422.6 143.3,423.4 144.2,424.4 145.1,425.2 146,425.9 146.9,426.8 147.8,426.2 148.7,423.6 149.6,420.5 150.5,417 151.4,413.6 152.3,410.4 153.2,411.1 154.1,411.8 155,412.4 155.9,413.2 156.8,413.9 157.7,414.9 158.6,414.3 159.5,411.9 160.4,409.6 161.3,406.8 162.2,404.2 163.1,401.4 164,399.1 164.9,399 165.8,398.6 166.7,398.5 167.6,398.2 168.5,398 169.4,397.5 170.3,396.7 171.2,395.7 172.1,395 173,394.6 173.9,394.5 174.8,393.8 175.7,393 176.6,392.7 177.5,392.3 178.4,391.8 179.3,390.9 180.2,390.2 181.1,389.7 182,389.2 182.9,388.5" fill="none" stroke="#ee8840" stroke-width="0.9" /><polyline points="15.5,469.9 16.4,470 17.3,470.1 18.2,470.1 19.1,469.8 20,469.8 20.9,469.7 21.8,469.8 22.7,469.8 23.6,469.8 24.5,470 25.4,469.9 26.3,470 27.2,469.8 28.1,469.5 29,469.7 29.9,469.7 30.8,469.9 31.7,469.6 32.6,469.4 33.5,469.6 34.4,470 35.3,470.3 36.2,470.1 37.1,469.7 38,469.6 38.9,470 39.8,470.3 40.7,470.4 41.6,470 42.5,469.9 43.4,469.9 44.3,469.4 45.2,468.8 46.1,468.3 47,467.6 47.9,467 48.8,467.4 49.7,468.1 50.6,468.6 51.5,469.2 52.4,469.6 53.3,470 54.2,469.7 55.1,469.6 56,469.3 56.9,469.1 57.8,469 58.7,468.4 59.6,467.2 60.5,465.8 61.4,464.7 62.3,463.3 63.2,462.5 64.1,463.2 65,465.5 65.9,467.1 66.8,469 67.7,469.2 68.6,469.3 69.5,469.4 70.4,469.5 71.3,469.7 72.2,469.6 73.1,469.7 74,469.7 74.9,468.2 75.8,466.9 76.7,465.2 77.6,463.5 78.5,461.6 79.4,460 80.3,460.6 81.2,462.8 82.1,464.9 83,466.9 83.9,466.2 84.8,463.7 85.7,461.6 86.6,459.5 87.5,457.3 88.4,455.7 89.3,454.9 90.2,454.6 91.1,454.1 92,454 92.9,453.2 93.8,452.4 94.7,451.4 95.6,449.2 96.5,446.7 97.4,444.1 98.3,441.6 99.2,439 100.1,436.2 101,433.5 101.9,430.8 102.8,427.5 103.7,423.6 104.6,419.8 105.5,416 106.4,412.6 107.3,409.7 108.2,407.7 109.1,405.4 110,403.6 110.9,401.3 111.8,402.1 112.7,406.2 113.6,410.3 114.5,407.4 115.4,404 116.3,400.8 117.2,397.3 118.1,393.8 119,391.5 119.9,390.4 120.8,388.8 121.7,387.1 122.6,385.3 123.5,381.8 124.4,375.7 125.3,369.6 126.2,355.2 127.1,340.6 128,332.2 128.9,323.6 129.8,315.1 130.7,311.6 131.6,308.4 132.5,305 133.4,303.6 134.3,303 135.2,302.8 136.1,302.8 137,302.6 137.9,302.4 138.8,302.4 139.7,302.1 140.6,301.6 141.5,300.4 142.4,299.6 143.3,298.9 144.2,298.1 145.1,298.1 146,298.2 146.9,298.3 147.8,298.6 148.7,298.9 149.6,299.2 150.5,299.7 151.4,300.1 152.3,300.5 153.2,300.9 154.1,301.3 155,302.9 155.9,304.8 156.8,306.6 157.7,308.5 158.6,310.1 159.5,311.9 160.4,313.5 161.3,315 162.2,316.2 163.1,317.5 164,318.6 164.9,320.1 165.8,321 166.7,322 167.6,323.2 168.5,324.6 169.4,325.9 170.3,327 171.2,328.3 172.1,329.5 173,330.9 173.9,332.4 174.8,334 175.7,335.4 176.6,336.9 177.5,338.5 178.4,338.7 179.3,338.1 180.2,337.8 181.1,337.3 182,337.1 182.9,336.6" fill="none" stroke="#5a78cc" stroke-width="0.9" /><polyline points="15.5,469.1 16.4,469.3 17.3,469.5 18.2,469.4 19.1,469.3 20,469.3 20.9,469.1 21.8,468.8 22.7,468.4 23.6,468.2 24.5,468.6 25.4,468.6 26.3,468.5 27.2,468.2 28.1,468.1 29,467.9 29.9,467.8 30.8,467.8 31.7,467.2 32.6,466.9 33.5,466.6 34.4,466.7 35.3,465.7 36.2,464.9 37.1,464.3 38,463.7 38.9,463.1 39.8,462.2 40.7,461.3 41.6,460.4 42.5,459.3 43.4,458.8 44.3,455.5 45.2,452.7 46.1,449.2 47,446.2 47.9,443.5 48.8,441.3 49.7,438.8 50.6,436.9 51.5,436 52.4,435.3 53.3,434.9 54.2,434.6 55.1,434.2 56,433.5 56.9,432.8 57.8,432 58.7,430.9 59.6,430.1 60.5,428.9 61.4,429 62.3,430.3 63.2,432 64.1,433.3 65,434.4 65.9,435.1 66.8,436.1 67.7,435.3 68.6,434.3 69.5,432.9 70.4,431.7 71.3,430.8 72.2,429.1 73.1,426.5 74,423.9 74.9,421.3 75.8,420.2 76.7,419.2 77.6,418.2 78.5,417.1 79.4,416 80.3,414.8 81.2,413.4 82.1,411.9 83,410.4 83.9,409.1 84.8,407.2 85.7,405.9 86.6,404.3 87.5,403.3 88.4,400.9 89.3,398.4 90.2,396.1 91.1,396.2 92,396.4 92.9,396 93.8,395.9 94.7,395.8 95.6,395.5 96.5,395.2 97.4,395.2 98.3,394.8 99.2,394.1 100.1,393.3 101,392.1 101.9,390.9 102.8,389.5 103.7,388.1 104.6,387.1 105.5,386.8 106.4,386.2 107.3,385.3 108.2,383.9 109.1,382.3 110,381 110.9,379.5 111.8,378.7 112.7,377.7 113.6,376.8 114.5,376 115.4,374.9 116.3,373.6 117.2,372.1 118.1,371.4 119,370.6 119.9,369.6 120.8,366.6 121.7,363.5 122.6,363.6 123.5,365.2 124.4,365.1 125.3,363.6 126.2,362.3 127.1,361.6 128,361 128.9,361 129.8,360.5 130.7,359.1 131.6,354.1 132.5,349.5 133.4,345.2 134.3,341.1 135.2,336.3 136.1,331.8 137,327.1 137.9,323 138.8,318.1 139.7,313.5 140.6,308.8 141.5,304.6 142.4,300.3 143.3,299.4 144.2,298.8 145.1,297.8 146,296.9 146.9,296.6 147.8,297.1 148.7,297.8 149.6,298.1 150.5,298.3 151.4,298.3 152.3,298.3 153.2,299 154.1,299.9 155,300.9 155.9,301.6 156.8,302 157.7,302.8 158.6,304.1 159.5,305.9 160.4,307.4 161.3,308.7 162.2,310.1 163.1,311.2 164,309.9 164.9,309.4 165.8,308.3 166.7,307.1 167.6,306.4 168.5,307.1 169.4,308 170.3,308.8 171.2,308.9 172.1,309.6 173,310.8 173.9,312.7 174.8,314.1 175.7,316.2 176.6,317.5 177.5,319 178.4,319 179.3,318.3 180.2,317.9 181.1,317.3 182,317.5 182.9,317.6" fill="none" stroke="#9b2020" stroke-width="0.9" /><text x="0" y="0" font-size="9" fill="#c83a3a" stroke="#c83a3a" stroke-width="0.2" transform="translate(71.6,405.5) rotate(-57)" text-anchor="middle">Ramp</text><text x="0" y="0" font-size="8.8" fill="#5a78cc" stroke="#5a78cc" stroke-width="0.2" transform="translate(99.8,414.5) rotate(-70)" text-anchor="middle">Run</text><path d="M38.8,451.3 L49,442.5 L49,446.6 L83.8,446.6 L83.8,456.4 L49,456.4 L49,460 Z" fill="#c00010"/><text x="66.5" y="455" font-size="7.8" fill="#fff" stroke="#fff" stroke-width="0.195" text-anchor="middle" >+Δt</text><line x1="147" y1="362" x2="147" y2="383.8" stroke="#9b2020" stroke-width="1"/><line x1="149.4" y1="362" x2="149.4" y2="383.8" stroke="#3f8a34" stroke-width="1"/><text x="152.6" y="370.7" font-size="7" stroke="#231f20" stroke-width="0.175" >2%</text><text x="152.6" y="379.5" font-size="7" stroke="#231f20" stroke-width="0.175" >ΔF/F</text><line x1="147.6" y1="457" x2="147.6" y2="467" stroke="#6a8ad8" stroke-width="1"/><line x1="149.6" y1="457" x2="149.6" y2="467" stroke="#f09a62" stroke-width="1"/><text x="152.8" y="462.4" font-size="6.8" stroke="#231f20" stroke-width="0.17" >0.02</text><text x="152.8" y="469.5" font-size="5.6" stroke="#231f20" stroke-width="0.14" >cm s<tspan font-size="4" dy="-2.3">−1</tspan></text><rect x="32.7" y="479.3" width="98" height="9.7" fill="#fff"/><path d="M34.4,481.5 L38.5,479.6 L41.6,480.6 L41.6,483.6 L36,483.6 Z" fill="#000"/><path d="M44.9,478.9 L53.5,478.9 L59.1,483.6 L50.5,483.6 Z" fill="#000"/><path d="M60.5,478.9 L69.1,478.9 L74.7,483.6 L66.1,483.6 Z" fill="#000"/><path d="M76.1,478.9 L84.7,478.9 L90.3,483.6 L81.7,483.6 Z" fill="#000"/><path d="M91.7,478.9 L100.3,478.9 L105.9,483.6 L97.3,483.6 Z" fill="#000"/><path d="M107.3,478.9 L115.9,478.9 L121.5,483.6 L112.9,483.6 Z" fill="#000"/><path d="M122.7,478.9 L130.8,478.9 L130.8,483.6 Z" fill="#000"/><rect x="47.3" y="483.6" width="5.9" height="5" fill="#000"/><rect x="59.7" y="483.6" width="5.9" height="5" fill="#000"/><rect x="72.1" y="483.6" width="5.9" height="5" fill="#000"/><rect x="84.5" y="483.6" width="5.9" height="5" fill="#000"/><rect x="96.9" y="483.6" width="5.9" height="5" fill="#000"/><rect x="109.3" y="483.6" width="5.9" height="5" fill="#000"/><rect x="121.7" y="483.6" width="5.9" height="5" fill="#000"/><line x1="11.2" y1="489.5" x2="136" y2="489.5" stroke="#c4c4c4" stroke-width="1.3"/><line x1="28.6" y1="489.5" x2="28.6" y2="492" stroke="#231f20" stroke-width="0.5"/><line x1="130.8" y1="489.5" x2="130.8" y2="492" stroke="#231f20" stroke-width="0.5"/><text x="28.6" y="500.7" font-size="7.5" stroke="#231f20" stroke-width="0.188" text-anchor="middle" >−5</text><text x="130.8" y="500.7" font-size="7.5" stroke="#231f20" stroke-width="0.188" text-anchor="middle" >0</text><text x="99" y="509.9" font-size="8.2" stroke="#231f20" stroke-width="0.2" text-anchor="middle"  textLength="30.6" lengthAdjust="spacingAndGlyphs">Time (s)</text><text x="212.3" y="270.5" font-size="12" fill="#000" font-weight="bold" >d</text><text x="245.8" y="277" font-size="8.2" stroke="#231f20" stroke-width="0.2"  textLength="29.5" lengthAdjust="spacingAndGlyphs">Reward</text><text x="370.9" y="277" font-size="8.2" stroke="#231f20" stroke-width="0.2"  textLength="29.9" lengthAdjust="spacingAndGlyphs">Control</text><clipPath id="cl1"><polygon points="230.3,286.8 244.9,293.2 250.2,333.6 237.9,316.6"/></clipPath><clipPath id="cr1"><polygon points="244.9,293.2 274.2,288 274.7,313.1 250.2,333.6"/></clipPath><clipPath id="ct1"><polygon points="230.3,286.8 263.6,284.4 274.2,288 244.9,293.2"/></clipPath><clipPath id="cs1"><polygon points="275.4,282.7 296,282.7 292.3,306.1 276.5,300.2"/></clipPath><polygon points="275.4,282.7 296,282.7 292.3,306.1 276.5,300.2" fill="#fff"/><rect x="270" y="280" width="35" height="30" fill="url(#stS)" clip-path="url(#cs1)"/><polygon points="296,282.7 300.5,282.7 297.6,301.4 292.3,306.1" fill="#8a8a8a"/><polygon points="230.3,286.8 244.9,293.2 250.2,333.6 237.9,316.6" fill="#fff"/><rect x="225" y="280" width="30" height="60" fill="url(#stL)" clip-path="url(#cl1)"/><polygon points="244.9,293.2 274.2,288 274.7,313.1 250.2,333.6" fill="#fff"/><rect x="240" y="280" width="40" height="60" fill="url(#stR)" clip-path="url(#cr1)"/><polygon points="230.3,286.8 263.6,284.4 274.2,288 244.9,293.2" fill="#fff"/><rect x="225" y="280" width="55" height="20" fill="url(#stT)" clip-path="url(#ct1)"/><path d="M365.9,282.6 L371.7,326.5 A13.3,4.4 0 0 0 398.3,326.5 L404.1,282.6 Z" fill="#fff"/><polygon points="366.1,282.9 366.8,283.2 372.3,327.8 371.8,327.2" fill="#000"/><polygon points="367.9,283.5 369.5,283.8 374.2,329.1 373.1,328.5" fill="#000"/><polygon points="371.4,284 373.7,284.2 377.1,330 375.5,329.6" fill="#000"/><polygon points="376.2,284.4 379,284.5 380.8,330.7 378.9,330.4" fill="#000"/><polygon points="381.9,284.6 384.9,284.6 384.9,330.9 382.8,330.8" fill="#000"/><polygon points="387.9,284.6 390.8,284.5 389,330.7 387,330.9" fill="#000"/><polygon points="393.6,284.4 396.1,284.2 392.7,330.1 391,330.4" fill="#000"/><polygon points="398.4,284 400.4,283.8 395.7,329.1 394.3,329.6" fill="#000"/><polygon points="402,283.5 403.1,283.2 397.6,327.9 396.8,328.5" fill="#000"/><polygon points="403.8,282.9 404.1,282.6 398.3,326.5 398.1,327.2" fill="#000"/><ellipse cx="385" cy="282.6" rx="19.1" ry="2.1" fill="#d8d8d8"/><text x="266.5" y="329.7" font-size="8.2" stroke="#231f20" stroke-width="0.2" >3D</text><text x="356.8" y="329.7" font-size="8.2" stroke="#231f20" stroke-width="0.2" >3D</text><text x="318.2" y="308.6" font-size="8.2" stroke="#231f20" stroke-width="0.2" text-anchor="middle" >3D</text><text x="318.2" y="318.3" font-size="8.2" stroke="#231f20" stroke-width="0.2" text-anchor="middle"  textLength="28" lengthAdjust="spacingAndGlyphs">objects</text><g stroke="#68788e" stroke-width="1" fill="#68788e"><line x1="285.8" y1="333.2" x2="295" y2="339.5"/><path d="M298,341.6 L292.4,340.4 L295.2,336.6 Z" stroke="none"/><line x1="348" y1="333.7" x2="336" y2="339.6"/><path d="M332.6,341.3 L335.4,337.2 L337.6,341.4 Z" stroke="none"/></g><text x="285" y="343.8" font-size="7.4" fill="#4a90d9" stroke="#4a90d9" stroke-width="0.185" text-anchor="end" >Zone</text><text x="285" y="352.5" font-size="7.4" fill="#4a90d9" stroke="#4a90d9" stroke-width="0.185" text-anchor="end" >ON</text><text x="348.1" y="343.9" font-size="7.4" fill="#8a8a8a" stroke="#8a8a8a" stroke-width="0.185" >Zone</text><text x="348.1" y="352.2" font-size="7.4" fill="#8a8a8a" stroke="#8a8a8a" stroke-width="0.185" >OFF</text><polygon points="220.8,365.6 409,365.6 406.5,369.6 223,369.6" fill="#e3e3e3"/><line x1="223" y1="369.4" x2="406.5" y2="369.4" stroke="#cfcfcf" stroke-width="0.5"/><rect x="223" y="354" width="64.5" height="11.7" fill="#7a7a7a"/><rect x="223" y="354" width="64.5" height="11.7" filter="url(#noiseD)"/><rect x="345.4" y="354" width="58.5" height="11.7" fill="#7a7a7a"/><rect x="345.4" y="354" width="58.5" height="11.7" filter="url(#noiseD2)"/><polygon points="286.5,354 317.3,339.8 345.4,354 345.4,365.6 286.5,365.6" fill="url(#roofV)"/><polygon points="289,365.6 317.3,351 345,365.6" fill="#e9e9e9"/><path d="M306,348.3 L315.8,348.3 L315.8,363.6 L314.3,365.1 L304.5,365.1 L304.5,349.8 Z" fill="url(#hatchD)" stroke="#222" stroke-width="0.7"/><path d="M319.5,348.3 L329.3,348.3 L329.3,363.6 L327.8,365.1 L318,365.1 L318,349.8 Z" fill="url(#hatchD)" stroke="#222" stroke-width="0.7"/><path d="M232,358.6 C229.5,359.5 228.5,362 229.5,364.5" fill="none" stroke="#222" stroke-width="0.8"/><path d="M230.5,364.8 C230.3,362 232.5,360.6 235,361 L237,360.2 L238,361 C240,360.8 241.5,361 243,361.6 C241.5,362.5 240,362.8 238.5,363.2 C237.5,364.5 236,365.4 234,365.4 L231,365.4 Z" fill="#fff" stroke="#222" stroke-width="0.5"/><line x1="225" y1="368.3" x2="244" y2="368.3" stroke="#3a5a8a" stroke-width="0.8"/><path d="M246.5,368.3 L243,366.8 L243,369.8 Z" fill="#3a5a8a"/><line x1="286.5" y1="347.4" x2="286.5" y2="378" stroke="#4a9ae0" stroke-width="0.9" stroke-dasharray="1,0.7"/><line x1="345.5" y1="347.4" x2="345.5" y2="378" stroke="#666" stroke-width="0.5" stroke-dasharray="1.4,1"/><path d="M306.5,375.6 C307.1,377.4 309.4,379.6 309.4,380.9 A2.9,2.9 0 0 1 303.6,380.9 C303.6,379.6 305.9,377.4 306.5,375.6 Z" fill="#1a7fd4"/><path d="M336.8,375.6 C337.4,377.4 339.7,379.6 339.7,380.9 A2.9,2.9 0 0 1 333.9,380.9 C333.9,379.6 336.2,377.4 336.8,375.6 Z" fill="#1a7fd4"/><line x1="300" y1="388.2" x2="312" y2="388.2" stroke="#cc2020" stroke-width="0.8"/><path d="M298.1,388.2 L301,386.6 L301,389.8 Z M313.9,388.2 L311,386.6 L311,389.8 Z" fill="#cc2020"/><line x1="336.6" y1="387" x2="336.6" y2="392.5" stroke="#2a6a8a" stroke-width="0.8"/><path d="M336.6,385 L335,387.8 L338.2,387.8 Z" fill="#2a6a8a"/><text x="284.8" y="398.1" font-size="7.4" stroke="#231f20" stroke-width="0.185"  textLength="41.6" lengthAdjust="spacingAndGlyphs">Early reward</text><text x="281.8" y="404.2" font-size="5.6" stroke="#231f20" stroke-width="0.14"  textLength="47.5" lengthAdjust="spacingAndGlyphs">triggered by licking</text><text x="335.7" y="400.9" font-size="7.4" stroke="#231f20" stroke-width="0.185"  textLength="40.1" lengthAdjust="spacingAndGlyphs">Late reward</text><text x="212.3" y="418" font-size="12" fill="#000" font-weight="bold" >e</text><clipPath id="ce1"><rect x="212" y="422.1" width="102.1" height="70.5"/></clipPath><g clip-path="url(#ce1)"><rect x="212" y="422.1" width="102.1" height="70.5" fill="url(#sky1)"/><rect x="250" y="422" width="64" height="20" fill="#fff" opacity="0.25" filter="url(#cloud)"/><polygon points="294,453.5 314.1,468 314.1,492.6 212,492.6 212,480" fill="url(#grass1)"/><polygon points="294,453.5 314.1,468 314.1,492.6 212,492.6 212,480" fill="#3d6b22" opacity="0.5" filter="url(#grassN)"/><polygon points="236.3,431.3 283.6,442.2 283.6,463 236.3,476" fill="#5d5a51"/><polygon points="236.3,431.3 283.6,442.2 283.6,463 236.3,476" fill="#000" filter="url(#wallN)"/><polygon points="283.6,442.2 292.8,451.8 292.8,455 283.6,463" fill="#67645b"/><polygon points="283.6,442.2 292.8,451.8 292.8,455 283.6,463" fill="#000" filter="url(#wallN)"/><polygon points="212,422.1 228.4,422.1 236.3,431.3 236.3,492.6 212,492.6" fill="#5c5950"/><polygon points="212,422.1 228.4,422.1 236.3,431.3 236.3,492.6 212,492.6" fill="#000" filter="url(#wallN)"/><polygon points="224.6,447.8 228,492.6 214,492.6" fill="#4a4740"/><polygon points="224.6,447.8 228,492.6 214,492.6" fill="#000" filter="url(#wallN)"/><rect x="235" y="431" width="1.4" height="62" fill="#6e6b62"/><polygon points="295.1,453.3 314.1,434.5 314.1,470.5 295.1,454.9" fill="url(#rwall1)"/><polygon points="295.1,453.3 314.1,434.5 314.1,470.5 295.1,454.9" fill="#000" filter="url(#wallN)"/><clipPath id="cube1"><polygon points="227.6,445.8 255,447 255,486.6 227.6,486.6"/></clipPath><rect x="227.6" y="445.8" width="28" height="41" fill="#a29c80"/><rect x="220" y="440" width="40" height="50" fill="url(#navyS)" clip-path="url(#cube1)"/><clipPath id="cube2"><polygon points="255,447 264.4,449 264.4,484 255,486.6"/></clipPath><rect x="255" y="447" width="9.4" height="40" fill="#e8e4cc"/><rect x="250" y="440" width="20" height="50" fill="url(#navyS2)" clip-path="url(#cube2)"/><clipPath id="cube3"><polygon points="264.4,449 275,450 275,471 264.4,474"/></clipPath><rect x="264.4" y="449" width="10.6" height="25" fill="#8a8672"/><rect x="260" y="445" width="20" height="30" fill="url(#navyS3)" clip-path="url(#cube3)"/><rect x="270.5" y="449.5" width="3.2" height="21" fill="#d8d8d8"/></g><text x="265.3" y="488.9" font-size="7.6" fill="#ffffff" stroke="#ffffff" stroke-width="0.19"  textLength="43.6" lengthAdjust="spacingAndGlyphs">Reward zone</text><clipPath id="ce2"><rect x="318.9" y="422.5" width="101.1" height="70.2"/></clipPath><g clip-path="url(#ce2)"><rect x="318.9" y="422.5" width="101.1" height="70.2" fill="url(#sky2)"/><polygon points="337.8,453.6 420,476 420,492.7 318.9,492.7 318.9,467" fill="url(#grass2)"/><polygon points="337.8,453.6 420,476 420,492.7 318.9,492.7 318.9,467" fill="#3d6b22" opacity="0.5" filter="url(#grassN)"/><polygon points="318.9,431.8 336.5,451.5 336.5,455 318.9,469" fill="#6b685f"/><polygon points="318.9,431.8 336.5,451.5 336.5,455 318.9,469" fill="#000" filter="url(#wallN)"/><polygon points="339.5,451 348,444.5 348,463 339.5,456" fill="#5f5c53"/><polygon points="339.5,451 348,444.5 348,463 339.5,456" fill="#000" filter="url(#wallN)"/><polygon points="348,440.5 402.8,428 402.8,478 348,463.5" fill="#55524a"/><polygon points="348,440.5 402.8,428 402.8,478 348,463.5" fill="#000" filter="url(#wallN)"/><polygon points="402.8,422.5 420,422.5 420,492.7 412,488 402.8,480" fill="#5d5a52"/><polygon points="402.8,422.5 420,422.5 420,492.7 412,488 402.8,480" fill="#000" filter="url(#wallN)"/><polygon points="408,460 420,470 420,492.7 414,492.7" fill="#4a4842"/><polygon points="408,460 420,470 420,492.7 414,492.7" fill="#000" filter="url(#wallN)"/><polygon points="358.6,449.4 361,450 361,473 358.6,471.8" fill="#e4e4e4"/><polygon points="361,450 362.7,450.1 362.7,473.3 361,473" fill="#1e1e22"/><polygon points="362.7,450.1 365.6,450.2 365.6,473.4 362.7,473.3" fill="#f2f2f2"/><polygon points="365.6,450.2 367.9,450.1 367.9,473.3 365.6,473.4" fill="#2a2a2e"/><polygon points="367.9,450.1 371.7,449.4 371.7,471.8 367.9,473.3" fill="#d6d6d6"/><polygon points="371.7,448.6 374.5,449.2 374.5,487.8 371.7,486.6" fill="#d8d8d8"/><polygon points="374.5,449.2 377.9,449.5 377.9,488.3 374.5,487.8" fill="#1e1e22"/><polygon points="377.9,449.5 383.3,449.7 383.3,488.8 377.9,488.3" fill="#f4f4f4"/><polygon points="383.3,449.7 388,449.7 388,488.9 383.3,488.8" fill="#232327"/><polygon points="388,449.7 394.2,449.7 394.2,488.8 388,488.9" fill="#f0f0f0"/><polygon points="394.2,449.7 398.8,449.6 398.8,488.6 394.2,488.8" fill="#1e1e22"/><polygon points="398.8,449.6 403.9,449.3 403.9,488 398.8,488.6" fill="#d4d4d4"/><polygon points="403.9,449.3 407.3,448.6 407.3,486.6 403.9,488" fill="#1e1e22"/></g><text x="323.9" y="488.9" font-size="7.6" fill="#ffffff" stroke="#ffffff" stroke-width="0.19"  textLength="44" lengthAdjust="spacingAndGlyphs">Control zone</text><text x="432.6" y="270.2" font-size="12" fill="#000" font-weight="bold" >f</text><line x1="448.9" y1="285" x2="448.9" y2="355.6" stroke="#231f20" stroke-width="0.6"/><line x1="446.9" y1="291.3" x2="448.9" y2="291.3" stroke="#231f20" stroke-width="0.5"/><line x1="446.9" y1="323.1" x2="448.9" y2="323.1" stroke="#231f20" stroke-width="0.5"/><line x1="446.9" y1="355.4" x2="448.9" y2="355.4" stroke="#231f20" stroke-width="0.5"/><text x="445.6" y="293.6" font-size="6.3" stroke="#231f20" stroke-width="0.158" text-anchor="end" >0.16</text><text x="445.6" y="357.7" font-size="6.3" stroke="#231f20" stroke-width="0.158" text-anchor="end" >0</text><line x1="449.4" y1="366.8" x2="537" y2="366.8" stroke="#231f20" stroke-width="0.6"/><line x1="459.5" y1="366.8" x2="459.5" y2="368.8" stroke="#231f20" stroke-width="0.5"/><text x="459.5" y="376.4" font-size="7" stroke="#231f20" stroke-width="0.175" text-anchor="middle" >−2</text><line x1="489.4" y1="366.8" x2="489.4" y2="368.8" stroke="#231f20" stroke-width="0.5"/><text x="489.4" y="376.4" font-size="7" stroke="#231f20" stroke-width="0.175" text-anchor="middle" >0</text><line x1="520" y1="366.8" x2="520" y2="368.8" stroke="#231f20" stroke-width="0.5"/><text x="520" y="376.4" font-size="7" stroke="#231f20" stroke-width="0.175" text-anchor="middle" >2</text><text x="494.2" y="385.7" font-size="7.8" stroke="#231f20" stroke-width="0.195" text-anchor="middle"  textLength="26.4" lengthAdjust="spacingAndGlyphs">Time (s)</text><text transform="translate(440.5,352.6) rotate(-90)" stroke="#231f20" stroke-width="0.2" font-size="7.4" textLength="56" lengthAdjust="spacingAndGlyphs">Licking probability</text><line x1="489.4" y1="302" x2="489.4" y2="355.5" stroke="#3aa0e0" stroke-width="0.9" stroke-dasharray="0.9,0.7"/><path d="M493.6,296.2 C494.1,297.7 496.1,299.6 496.1,300.7 A2.5,2.5 0 0 1 491.1,300.7 C491.1,299.6 493.1,297.7 493.6,296.2 Z" fill="#1a7fd4"/><polygon points="449.6,347.5 450.3,347.7 451,346.8 451.7,347.2 452.4,347.7 453.1,347.5 453.8,348.3 454.5,348.1 455.2,346.9 455.9,346.5 456.6,347.3 457.3,346.9 458,346.6 458.7,347.3 459.4,346.7 460.1,346.6 460.8,347.2 461.5,346.8 462.2,346.4 462.9,346.9 463.6,346.5 464.3,345.9 465,346.8 465.7,347.1 466.4,346.1 467.1,346.1 467.8,347.4 468.5,346.7 469.2,346.3 469.9,347.1 470.6,346.7 471.3,346.6 472,346.3 472.7,346.7 473.4,347.6 474.1,346.6 474.8,345.7 475.5,346.1 476.2,345.9 476.9,345.9 477.6,345.7 478.3,345.8 479,346 479.7,345.7 480.4,346 481.1,346.3 481.8,345.7 482.5,345.6 483.2,346.3 483.9,345.9 484.6,346.1 485.3,345.6 486,344.1 486.7,344 487.4,343.3 488.1,343.1 488.8,342.9 489.5,342.4 490.2,341.3 490.9,339.6 491.6,340 492.3,339.4 493,338.9 493.7,338.5 494.4,337.8 495.1,338.1 495.8,337.6 496.5,336.2 497.2,335.6 497.9,336.1 498.6,335.9 499.3,335.3 500,334.8 500.7,334.4 501.4,334 502.1,333.2 502.8,333.2 503.5,333.4 504.2,332.1 504.9,331.8 505.6,332.7 506.3,333.1 507,331.9 507.7,330.9 508.4,331.4 509.1,331.4 509.8,330.6 510.5,330.6 511.2,330.9 511.9,330.9 512.6,331.1 513.3,331.4 514,331.7 514.7,331.9 515.4,332.2 516.1,332.7 516.8,333.6 517.5,333.4 518.2,332.6 518.9,332.8 519.6,333.1 520.3,332.4 521,332.2 521.7,332.3 522.4,332.2 523.1,332 523.8,331.5 524.5,331.5 525.2,330.5 525.9,329.6 526.6,329.2 527.3,328.7 528,328.8 528.7,328.4 529.4,327.5 530.1,327 530.8,327.4 531.5,327.2 532.2,326.3 532.9,325.8 533.6,325.6 534.3,325.3 535,324.6 535.7,323.8 536.4,323.1 536.4,328.1 535.7,328.8 535,329.6 534.3,330.3 533.6,330.6 532.9,330.8 532.2,331.3 531.5,332.2 530.8,332.4 530.1,332 529.4,332.5 528.7,333.4 528,333.8 527.3,333.7 526.6,334.2 525.9,334.6 525.2,335.5 524.5,336.5 523.8,336.5 523.1,337 522.4,337.2 521.7,337.3 521,337.2 520.3,337.4 519.6,338.1 518.9,337.8 518.2,337.6 517.5,338.4 516.8,338.6 516.1,337.7 515.4,337.2 514.7,336.9 514,336.7 513.3,336.4 512.6,336.1 511.9,335.9 511.2,335.9 510.5,335.6 509.8,335.6 509.1,336.4 508.4,336.4 507.7,335.9 507,336.9 506.3,338.1 505.6,337.7 504.9,336.8 504.2,337.1 503.5,338.4 502.8,338.2 502.1,338.2 501.4,339 500.7,339.4 500,339.8 499.3,340.3 498.6,340.9 497.9,341.1 497.2,340.6 496.5,341.2 495.8,342.6 495.1,343.1 494.4,342.8 493.7,343.5 493,343.9 492.3,344.4 491.6,345 490.9,344.6 490.2,346.3 489.5,347.4 488.8,347.9 488.1,348.1 487.4,348.3 486.7,349 486,349.1 485.3,350.6 484.6,351.1 483.9,350.9 483.2,351.3 482.5,350.6 481.8,350.7 481.1,351.3 480.4,351 479.7,350.7 479,351 478.3,350.8 477.6,350.7 476.9,350.9 476.2,350.9 475.5,351.1 474.8,350.7 474.1,351.6 473.4,352.6 472.7,351.7 472,351.3 471.3,351.6 470.6,351.7 469.9,352.1 469.2,351.3 468.5,351.7 467.8,352.4 467.1,351.1 466.4,351.1 465.7,352.1 465,351.8 464.3,350.9 463.6,351.5 462.9,351.9 462.2,351.4 461.5,351.8 460.8,352.2 460.1,351.6 459.4,351.7 458.7,352.3 458,351.6 457.3,351.9 456.6,352.3 455.9,351.5 455.2,351.9 454.5,353.1 453.8,353.3 453.1,352.5 452.4,352.7 451.7,352.2 451,351.8 450.3,352.7 449.6,352.5" fill="#d0d0d0" fill-opacity="0.9" /><polyline points="449.6,350 450.3,350.2 451,349.3 451.7,349.7 452.4,350.2 453.1,350 453.8,350.8 454.5,350.6 455.2,349.4 455.9,349 456.6,349.8 457.3,349.4 458,349.1 458.7,349.8 459.4,349.2 460.1,349.1 460.8,349.7 461.5,349.3 462.2,348.9 462.9,349.4 463.6,349 464.3,348.4 465,349.3 465.7,349.6 466.4,348.6 467.1,348.6 467.8,349.9 468.5,349.2 469.2,348.8 469.9,349.6 470.6,349.2 471.3,349.1 472,348.8 472.7,349.2 473.4,350.1 474.1,349.1 474.8,348.2 475.5,348.6 476.2,348.4 476.9,348.4 477.6,348.2 478.3,348.3 479,348.5 479.7,348.2 480.4,348.5 481.1,348.8 481.8,348.2 482.5,348.1 483.2,348.8 483.9,348.4 484.6,348.6 485.3,348.1 486,346.6 486.7,346.5 487.4,345.8 488.1,345.6 488.8,345.4 489.5,344.9 490.2,343.8 490.9,342.1 491.6,342.5 492.3,341.9 493,341.4 493.7,341 494.4,340.3 495.1,340.6 495.8,340.1 496.5,338.7 497.2,338.1 497.9,338.6 498.6,338.4 499.3,337.8 500,337.3 500.7,336.9 501.4,336.5 502.1,335.7 502.8,335.7 503.5,335.9 504.2,334.6 504.9,334.3 505.6,335.2 506.3,335.6 507,334.4 507.7,333.4 508.4,333.9 509.1,333.9 509.8,333.1 510.5,333.1 511.2,333.4 511.9,333.4 512.6,333.6 513.3,333.9 514,334.2 514.7,334.4 515.4,334.7 516.1,335.2 516.8,336.1 517.5,335.9 518.2,335.1 518.9,335.3 519.6,335.6 520.3,334.9 521,334.7 521.7,334.8 522.4,334.7 523.1,334.5 523.8,334 524.5,334 525.2,333 525.9,332.1 526.6,331.7 527.3,331.2 528,331.3 528.7,330.9 529.4,330 530.1,329.5 530.8,329.9 531.5,329.7 532.2,328.8 532.9,328.3 533.6,328.1 534.3,327.8 535,327.1 535.7,326.3 536.4,325.6" fill="none" stroke="#9a9a9a" stroke-width="0.7" /><polygon points="449.6,344.1 450.3,345.6 451,345.2 451.7,343.6 452.4,343.7 453.1,344.5 453.8,345.6 454.5,345.3 455.2,345.6 455.9,346.8 456.6,346.1 457.3,345.5 458,345.8 458.7,345.4 459.4,345.4 460.1,345.6 460.8,345.1 461.5,344.9 462.2,345.6 462.9,345.1 463.6,344.2 464.3,344.1 465,344.3 465.7,344.4 466.4,344.4 467.1,344.1 467.8,342.8 468.5,343 469.2,343.4 469.9,343.4 470.6,343.9 471.3,342.4 472,341.3 472.7,342.7 473.4,343.3 474.1,342.5 474.8,342.7 475.5,344.4 476.2,345.1 476.9,344.3 477.6,344.2 478.3,345.2 479,345.2 479.7,345.6 480.4,345.4 481.1,345.3 481.8,346.1 482.5,345.2 483.2,344.4 483.9,343.9 484.6,343.2 485.3,343.4 486,344.2 486.7,343.9 487.4,343.3 488.1,342.7 488.8,342 489.5,341.4 490.2,340.9 490.9,340.8 491.6,340.5 492.3,340.1 493,339.7 493.7,339.4 494.4,339.8 495.1,339.5 495.8,339.8 496.5,339.6 497.2,339.5 497.9,339.8 498.6,340.7 499.3,342.3 500,342.3 500.7,341.6 501.4,340.9 502.1,338.3 502.8,337.7 503.5,337.7 504.2,336.4 504.9,334.5 505.6,335.7 506.3,336.1 507,336.1 507.7,337.1 508.4,336.9 509.1,337.3 509.8,337.4 510.5,337.2 511.2,338.1 511.9,338.4 512.6,338.2 513.3,339.6 514,341.1 514.7,341.2 515.4,340.3 516.1,338.5 516.8,337 517.5,335.7 518.2,333.3 518.9,332.6 519.6,332.8 520.3,332.7 521,332.6 521.7,333.1 522.4,333.9 523.1,333.3 523.8,333.9 524.5,335.3 525.2,335.9 525.9,336.1 526.6,334.9 527.3,333.9 528,333.6 528.7,332 529.4,330.7 530.1,329.5 530.8,329.2 531.5,329 532.2,328.8 532.9,329.3 533.6,328.4 534.3,328.3 535,328.2 535.7,327.8 536.4,327.6 536.4,331.6 535.7,331.8 535,332.2 534.3,332.3 533.6,332.4 532.9,333.3 532.2,332.8 531.5,333 530.8,333.2 530.1,333.5 529.4,334.7 528.7,336 528,337.6 527.3,337.9 526.6,338.9 525.9,340.1 525.2,339.9 524.5,339.3 523.8,337.9 523.1,337.3 522.4,337.9 521.7,337.1 521,336.6 520.3,336.7 519.6,336.8 518.9,336.6 518.2,337.3 517.5,339.7 516.8,341 516.1,342.5 515.4,344.3 514.7,345.2 514,345.1 513.3,343.6 512.6,342.2 511.9,342.4 511.2,342.1 510.5,341.2 509.8,341.4 509.1,341.3 508.4,340.9 507.7,341.1 507,340.1 506.3,340.1 505.6,339.7 504.9,338.5 504.2,340.4 503.5,341.7 502.8,341.7 502.1,342.3 501.4,344.9 500.7,345.6 500,346.3 499.3,346.3 498.6,344.7 497.9,343.8 497.2,343.5 496.5,343.6 495.8,343.8 495.1,343.5 494.4,343.8 493.7,343.4 493,343.7 492.3,344.1 491.6,344.5 490.9,344.8 490.2,344.9 489.5,345.4 488.8,346 488.1,346.7 487.4,347.3 486.7,347.9 486,348.2 485.3,347.4 484.6,347.2 483.9,347.9 483.2,348.4 482.5,349.2 481.8,350.1 481.1,349.3 480.4,349.4 479.7,349.6 479,349.2 478.3,349.2 477.6,348.2 476.9,348.3 476.2,349.1 475.5,348.4 474.8,346.7 474.1,346.5 473.4,347.3 472.7,346.7 472,345.3 471.3,346.4 470.6,347.9 469.9,347.4 469.2,347.4 468.5,347 467.8,346.8 467.1,348.1 466.4,348.4 465.7,348.4 465,348.3 464.3,348.1 463.6,348.2 462.9,349.1 462.2,349.6 461.5,348.9 460.8,349.1 460.1,349.6 459.4,349.4 458.7,349.4 458,349.8 457.3,349.5 456.6,350.1 455.9,350.8 455.2,349.6 454.5,349.3 453.8,349.6 453.1,348.5 452.4,347.7 451.7,347.6 451,349.2 450.3,349.6 449.6,348.1" fill="#c0c0c0" fill-opacity="0.7" /><polyline points="449.6,346.1 450.3,347.6 451,347.2 451.7,345.6 452.4,345.7 453.1,346.5 453.8,347.6 454.5,347.3 455.2,347.6 455.9,348.8 456.6,348.1 457.3,347.5 458,347.8 458.7,347.4 459.4,347.4 460.1,347.6 460.8,347.1 461.5,346.9 462.2,347.6 462.9,347.1 463.6,346.2 464.3,346.1 465,346.3 465.7,346.4 466.4,346.4 467.1,346.1 467.8,344.8 468.5,345 469.2,345.4 469.9,345.4 470.6,345.9 471.3,344.4 472,343.3 472.7,344.7 473.4,345.3 474.1,344.5 474.8,344.7 475.5,346.4 476.2,347.1 476.9,346.3 477.6,346.2 478.3,347.2 479,347.2 479.7,347.6 480.4,347.4 481.1,347.3 481.8,348.1 482.5,347.2 483.2,346.4 483.9,345.9 484.6,345.2 485.3,345.4 486,346.2 486.7,345.9 487.4,345.3 488.1,344.7 488.8,344 489.5,343.4 490.2,342.9 490.9,342.8 491.6,342.5 492.3,342.1 493,341.7 493.7,341.4 494.4,341.8 495.1,341.5 495.8,341.8 496.5,341.6 497.2,341.5 497.9,341.8 498.6,342.7 499.3,344.3 500,344.3 500.7,343.6 501.4,342.9 502.1,340.3 502.8,339.7 503.5,339.7 504.2,338.4 504.9,336.5 505.6,337.7 506.3,338.1 507,338.1 507.7,339.1 508.4,338.9 509.1,339.3 509.8,339.4 510.5,339.2 511.2,340.1 511.9,340.4 512.6,340.2 513.3,341.6 514,343.1 514.7,343.2 515.4,342.3 516.1,340.5 516.8,339 517.5,337.7 518.2,335.3 518.9,334.6 519.6,334.8 520.3,334.7 521,334.6 521.7,335.1 522.4,335.9 523.1,335.3 523.8,335.9 524.5,337.3 525.2,337.9 525.9,338.1 526.6,336.9 527.3,335.9 528,335.6 528.7,334 529.4,332.7 530.1,331.5 530.8,331.2 531.5,331 532.2,330.8 532.9,331.3 533.6,330.4 534.3,330.3 535,330.2 535.7,329.8 536.4,329.6" fill="none" stroke="#7a7a7a" stroke-width="0.6" /><polygon points="449.6,351.6 450.3,350.4 451,348.9 451.7,348.7 452.4,350.1 453.1,349.6 453.8,349 454.5,349.6 455.2,348.7 455.9,348.6 456.6,350 457.3,350.5 458,350.3 458.7,350.7 459.4,351.5 460.1,352.1 460.8,352.4 461.5,352.3 462.2,352 462.9,351.6 463.6,351.9 464.3,351.7 465,350.2 465.7,349.6 466.4,348.7 467.1,348.4 467.8,349 468.5,349 469.2,349.5 469.9,349.4 470.6,348.5 471.3,349.5 472,350.7 472.7,350.2 473.4,350.7 474.1,352.1 474.8,351.9 475.5,350.5 476.2,350.5 476.9,350.5 477.6,349.4 478.3,349.4 479,348.7 479.7,348.8 480.4,348.7 481.1,348.6 481.8,349.4 482.5,349.9 483.2,349.9 483.9,349.6 484.6,349.3 485.3,348.8 486,348.4 486.7,348.6 487.4,348.3 488.1,348.4 488.8,348.3 489.5,346.8 490.2,346.2 490.9,346.4 491.6,345.6 492.3,344.5 493,343.2 493.7,342.3 494.4,342.5 495.1,341.6 495.8,340.2 496.5,338.2 497.2,335.7 497.9,334.1 498.6,333.8 499.3,333.2 500,331.8 500.7,330.1 501.4,328.9 502.1,327.2 502.8,325.8 503.5,324.8 504.2,323.2 504.9,322.7 505.6,323.3 506.3,324.6 507,325.7 507.7,328 508.4,329.5 509.1,328.8 509.8,328.7 510.5,329.1 511.2,329.6 511.9,330.1 512.6,329.6 513.3,329.2 514,328.5 514.7,328.6 515.4,328.8 516.1,326.9 516.8,326.3 517.5,327.2 518.2,327.3 518.9,328.5 519.6,330.2 520.3,332.5 521,334 521.7,335 522.4,337 523.1,338.2 523.8,338.9 524.5,339.4 525.2,340.3 525.9,341.2 526.6,341.8 527.3,342 528,342.9 528.7,343.9 529.4,344.1 530.1,345.5 530.8,346.3 531.5,346 532.2,346.3 532.9,347.3 533.6,348.2 534.3,348.3 535,347.9 535.7,347.7 536.4,348.7 536.4,352.3 535.7,351.3 535,351.5 534.3,351.9 533.6,351.8 532.9,350.9 532.2,349.9 531.5,349.6 530.8,349.9 530.1,349.1 529.4,347.7 528.7,347.5 528,346.5 527.3,345.6 526.6,345.4 525.9,344.8 525.2,343.9 524.5,343 523.8,342.5 523.1,341.8 522.4,340.6 521.7,338.6 521,337.6 520.3,336.1 519.6,333.8 518.9,332.1 518.2,330.9 517.5,330.8 516.8,329.9 516.1,330.5 515.4,332.4 514.7,332.2 514,332.1 513.3,332.8 512.6,333.2 511.9,333.7 511.2,333.2 510.5,332.7 509.8,332.3 509.1,332.4 508.4,333.1 507.7,331.6 507,329.3 506.3,328.2 505.6,326.9 504.9,326.3 504.2,326.8 503.5,328.4 502.8,329.4 502.1,330.8 501.4,332.5 500.7,333.7 500,335.4 499.3,336.8 498.6,337.4 497.9,337.7 497.2,339.3 496.5,341.8 495.8,343.8 495.1,345.2 494.4,346.1 493.7,345.9 493,346.8 492.3,348.1 491.6,349.2 490.9,350 490.2,349.8 489.5,350.4 488.8,351.9 488.1,352 487.4,351.9 486.7,352.2 486,352 485.3,352.4 484.6,352.9 483.9,353.2 483.2,353.5 482.5,353.5 481.8,353 481.1,352.2 480.4,352.3 479.7,352.4 479,352.3 478.3,353 477.6,353 476.9,354.1 476.2,354.1 475.5,354.1 474.8,355.5 474.1,355.7 473.4,354.3 472.7,353.8 472,354.3 471.3,353.1 470.6,352.1 469.9,353 469.2,353.1 468.5,352.6 467.8,352.6 467.1,352 466.4,352.3 465.7,353.2 465,353.8 464.3,355.3 463.6,355.5 462.9,355.2 462.2,355.6 461.5,355.9 460.8,356 460.1,355.7 459.4,355.1 458.7,354.3 458,353.9 457.3,354.1 456.6,353.6 455.9,352.2 455.2,352.3 454.5,353.2 453.8,352.6 453.1,353.2 452.4,353.7 451.7,352.3 451,352.5 450.3,354 449.6,355.2" fill="#777" fill-opacity="0.5" /><polyline points="449.6,353.4 450.3,352.2 451,350.7 451.7,350.5 452.4,351.9 453.1,351.4 453.8,350.8 454.5,351.4 455.2,350.5 455.9,350.4 456.6,351.8 457.3,352.3 458,352.1 458.7,352.5 459.4,353.3 460.1,353.9 460.8,354.2 461.5,354.1 462.2,353.8 462.9,353.4 463.6,353.7 464.3,353.5 465,352 465.7,351.4 466.4,350.5 467.1,350.2 467.8,350.8 468.5,350.8 469.2,351.3 469.9,351.2 470.6,350.3 471.3,351.3 472,352.5 472.7,352 473.4,352.5 474.1,353.9 474.8,353.7 475.5,352.3 476.2,352.3 476.9,352.3 477.6,351.2 478.3,351.2 479,350.5 479.7,350.6 480.4,350.5 481.1,350.4 481.8,351.2 482.5,351.7 483.2,351.7 483.9,351.4 484.6,351.1 485.3,350.6 486,350.2 486.7,350.4 487.4,350.1 488.1,350.2 488.8,350.1 489.5,348.6 490.2,348 490.9,348.2 491.6,347.4 492.3,346.3 493,345 493.7,344.1 494.4,344.3 495.1,343.4 495.8,342 496.5,340 497.2,337.5 497.9,335.9 498.6,335.6 499.3,335 500,333.6 500.7,331.9 501.4,330.7 502.1,329 502.8,327.6 503.5,326.6 504.2,325 504.9,324.5 505.6,325.1 506.3,326.4 507,327.5 507.7,329.8 508.4,331.3 509.1,330.6 509.8,330.5 510.5,330.9 511.2,331.4 511.9,331.9 512.6,331.4 513.3,331 514,330.3 514.7,330.4 515.4,330.6 516.1,328.7 516.8,328.1 517.5,329 518.2,329.1 518.9,330.3 519.6,332 520.3,334.3 521,335.8 521.7,336.8 522.4,338.8 523.1,340 523.8,340.7 524.5,341.2 525.2,342.1 525.9,343 526.6,343.6 527.3,343.8 528,344.7 528.7,345.7 529.4,345.9 530.1,347.3 530.8,348.1 531.5,347.8 532.2,348.1 532.9,349.1 533.6,350 534.3,350.1 535,349.7 535.7,349.5 536.4,350.5" fill="none" stroke="#111" stroke-width="0.8" /><polygon points="449.6,354.1 450.3,353.8 451,352.8 451.7,353.5 452.4,354 453.1,353.5 453.8,352.5 454.5,352 455.2,352.9 455.9,353.3 456.6,353 457.3,352.2 458,351.8 458.7,352.3 459.4,353.2 460.1,353.5 460.8,352.5 461.5,352.1 462.2,352.8 462.9,353.5 463.6,353.8 464.3,353.4 465,352.4 465.7,352.7 466.4,353.4 467.1,353 467.8,352.7 468.5,352.5 469.2,352.6 469.9,352.5 470.6,352.2 471.3,352.6 472,353.4 472.7,352.8 473.4,352 474.1,351.9 474.8,352 475.5,353 476.2,353.1 476.9,353.2 477.6,352.7 478.3,351.3 479,351.5 479.7,351.6 480.4,352 481.1,352.9 481.8,352.3 482.5,351.5 483.2,352.2 483.9,353 484.6,352.3 485.3,351.5 486,351.8 486.7,350.7 487.4,349.7 488.1,348.8 488.8,347.5 489.5,346.6 490.2,346.7 490.9,346.1 491.6,344.3 492.3,341.8 493,340.8 493.7,340 494.4,338.4 495.1,336.5 495.8,333.4 496.5,331.3 497.2,329.6 497.9,328.5 498.6,325.6 499.3,322.3 500,320.9 500.7,318 501.4,316.1 502.1,314.9 502.8,312 503.5,309.1 504.2,305.6 504.9,302.6 505.6,301.6 506.3,300.8 507,300.6 507.7,300.2 508.4,299.8 509.1,299.1 509.8,298.4 510.5,298 511.2,297.6 511.9,297.6 512.6,296.9 513.3,297.3 514,298.8 514.7,298.8 515.4,298.3 516.1,298.1 516.8,298.4 517.5,298.8 518.2,299.4 518.9,299.8 519.6,300 520.3,300.6 521,300.4 521.7,299.9 522.4,299.9 523.1,300.4 523.8,301.3 524.5,304.4 525.2,306.8 525.9,309.3 526.6,312.5 527.3,314.8 528,317.1 528.7,318.1 529.4,318.5 530.1,319.2 530.8,319.1 531.5,318.3 532.2,316.9 532.9,316.7 533.6,317.8 534.3,317.6 535,317.6 535.7,318.5 536.4,318.1 536.4,322.5 535.7,322.9 535,322 534.3,322 533.6,322.2 532.9,321.1 532.2,321.3 531.5,322.7 530.8,323.5 530.1,323.6 529.4,322.9 528.7,322.5 528,321.5 527.3,319.2 526.6,316.9 525.9,313.7 525.2,311.2 524.5,308.8 523.8,305.7 523.1,304.8 522.4,304.3 521.7,304.3 521,304.8 520.3,305 519.6,304.4 518.9,304.2 518.2,303.8 517.5,303.2 516.8,302.8 516.1,302.5 515.4,302.7 514.7,303.2 514,303.2 513.3,301.7 512.6,301.3 511.9,302 511.2,302 510.5,302.4 509.8,302.8 509.1,303.5 508.4,304.2 507.7,304.6 507,305 506.3,305.2 505.6,306 504.9,307 504.2,310 503.5,313.5 502.8,316.4 502.1,319.3 501.4,320.5 500.7,322.4 500,325.3 499.3,326.7 498.6,330 497.9,332.9 497.2,334 496.5,335.7 495.8,337.8 495.1,340.9 494.4,342.8 493.7,344.4 493,345.2 492.3,346.2 491.6,348.7 490.9,350.5 490.2,351.1 489.5,351 488.8,351.9 488.1,353.2 487.4,354.1 486.7,355.1 486,356.2 485.3,355.9 484.6,356.7 483.9,357.4 483.2,356.6 482.5,355.9 481.8,356.7 481.1,357.3 480.4,356.4 479.7,356 479,355.9 478.3,355.7 477.6,357.1 476.9,357.6 476.2,357.5 475.5,357.4 474.8,356.4 474.1,356.3 473.4,356.4 472.7,357.2 472,357.8 471.3,357 470.6,356.6 469.9,356.9 469.2,357 468.5,356.9 467.8,357.1 467.1,357.4 466.4,357.8 465.7,357.1 465,356.8 464.3,357.8 463.6,358.2 462.9,357.9 462.2,357.2 461.5,356.5 460.8,356.9 460.1,357.9 459.4,357.6 458.7,356.7 458,356.2 457.3,356.6 456.6,357.4 455.9,357.7 455.2,357.3 454.5,356.4 453.8,356.9 453.1,357.9 452.4,358.4 451.7,357.9 451,357.2 450.3,358.2 449.6,358.5" fill="#b85a5a" fill-opacity="0.8" /><polyline points="449.6,356.3 450.3,356 451,355 451.7,355.7 452.4,356.2 453.1,355.7 453.8,354.7 454.5,354.2 455.2,355.1 455.9,355.5 456.6,355.2 457.3,354.4 458,354 458.7,354.5 459.4,355.4 460.1,355.7 460.8,354.7 461.5,354.3 462.2,355 462.9,355.7 463.6,356 464.3,355.6 465,354.6 465.7,354.9 466.4,355.6 467.1,355.2 467.8,354.9 468.5,354.7 469.2,354.8 469.9,354.7 470.6,354.4 471.3,354.8 472,355.6 472.7,355 473.4,354.2 474.1,354.1 474.8,354.2 475.5,355.2 476.2,355.3 476.9,355.4 477.6,354.9 478.3,353.5 479,353.7 479.7,353.8 480.4,354.2 481.1,355.1 481.8,354.5 482.5,353.7 483.2,354.4 483.9,355.2 484.6,354.5 485.3,353.7 486,354 486.7,352.9 487.4,351.9 488.1,351 488.8,349.7 489.5,348.8 490.2,348.9 490.9,348.3 491.6,346.5 492.3,344 493,343 493.7,342.2 494.4,340.6 495.1,338.7 495.8,335.6 496.5,333.5 497.2,331.8 497.9,330.7 498.6,327.8 499.3,324.5 500,323.1 500.7,320.2 501.4,318.3 502.1,317.1 502.8,314.2 503.5,311.3 504.2,307.8 504.9,304.8 505.6,303.8 506.3,303 507,302.8 507.7,302.4 508.4,302 509.1,301.3 509.8,300.6 510.5,300.2 511.2,299.8 511.9,299.8 512.6,299.1 513.3,299.5 514,301 514.7,301 515.4,300.5 516.1,300.3 516.8,300.6 517.5,301 518.2,301.6 518.9,302 519.6,302.2 520.3,302.8 521,302.6 521.7,302.1 522.4,302.1 523.1,302.6 523.8,303.5 524.5,306.6 525.2,309 525.9,311.5 526.6,314.7 527.3,317 528,319.3 528.7,320.3 529.4,320.7 530.1,321.4 530.8,321.3 531.5,320.5 532.2,319.1 532.9,318.9 533.6,320 534.3,319.8 535,319.8 535.7,320.7 536.4,320.3" fill="none" stroke="#8e1414" stroke-width="0.8" /><polygon points="449.6,347.7 450.3,347.1 451,346.4 451.7,346 452.4,347 453.1,346.5 453.8,344.7 454.5,345.4 455.2,345.4 455.9,345.8 456.6,346.4 457.3,346.8 458,348.1 458.7,347.9 459.4,347.8 460.1,347.8 460.8,347.6 461.5,347.3 462.2,346.1 462.9,345.8 463.6,345.7 464.3,345 465,344.1 465.7,344.7 466.4,344.7 467.1,344.1 467.8,344.4 468.5,345.1 469.2,345.2 469.9,344.9 470.6,343.8 471.3,342.8 472,341.9 472.7,342 473.4,340.6 474.1,338.7 474.8,338.4 475.5,336.8 476.2,334.7 476.9,333.7 477.6,333.1 478.3,331.7 479,329.5 479.7,327.3 480.4,327.2 481.1,327 481.8,326.6 482.5,328.1 483.2,328.8 483.9,328.5 484.6,327.8 485.3,327.1 486,326.3 486.7,326.2 487.4,326.2 488.1,325.8 488.8,325.1 489.5,326 490.2,327.8 490.9,328.4 491.6,328.4 492.3,327.1 493,326.6 493.7,326.8 494.4,327.9 495.1,327.7 495.8,326.5 496.5,326.9 497.2,327.2 497.9,326.4 498.6,323.8 499.3,322 500,320.3 500.7,317.1 501.4,314.9 502.1,312.6 502.8,309.7 503.5,307.8 504.2,305.6 504.9,303.4 505.6,301.4 506.3,299.2 507,298.1 507.7,298.1 508.4,297.5 509.1,296.3 509.8,295.8 510.5,295.2 511.2,294.5 511.9,295 512.6,294.9 513.3,293.7 514,292.8 514.7,291.1 515.4,290.3 516.1,289.7 516.8,288.5 517.5,288 518.2,288.2 518.9,287.4 519.6,287.4 520.3,288.8 521,288.6 521.7,289.9 522.4,289.8 523.1,288.6 523.8,288 524.5,286.3 525.2,286.6 525.9,288 526.6,287.7 527.3,287.7 528,289.1 528.7,289.8 529.4,289.9 530.1,289.4 530.8,289 531.5,289.1 532.2,288.8 532.9,287.8 533.6,288.2 534.3,289.8 535,290.6 535.7,290.3 536.4,291.4 536.4,294.8 535.7,293.7 535,294 534.3,293.2 533.6,291.6 532.9,291.2 532.2,292.2 531.5,292.5 530.8,292.4 530.1,292.8 529.4,293.3 528.7,293.2 528,292.5 527.3,291.1 526.6,291.1 525.9,291.4 525.2,290 524.5,289.7 523.8,291.4 523.1,292 522.4,293.2 521.7,293.3 521,292 520.3,292.2 519.6,290.8 518.9,290.8 518.2,291.6 517.5,291.4 516.8,291.9 516.1,293.1 515.4,293.7 514.7,294.5 514,296.2 513.3,297.1 512.6,298.3 511.9,298.4 511.2,297.9 510.5,298.6 509.8,299.2 509.1,299.7 508.4,300.9 507.7,301.5 507,301.5 506.3,302.6 505.6,304.8 504.9,306.8 504.2,309 503.5,311.2 502.8,313.1 502.1,316 501.4,318.3 500.7,320.5 500,323.7 499.3,325.4 498.6,327.2 497.9,329.8 497.2,330.6 496.5,330.3 495.8,329.9 495.1,331.1 494.4,331.3 493.7,330.2 493,330 492.3,330.5 491.6,331.8 490.9,331.8 490.2,331.2 489.5,329.4 488.8,328.5 488.1,329.2 487.4,329.6 486.7,329.6 486,329.7 485.3,330.5 484.6,331.2 483.9,331.9 483.2,332.2 482.5,331.5 481.8,330 481.1,330.4 480.4,330.6 479.7,330.7 479,332.9 478.3,335.1 477.6,336.5 476.9,337.1 476.2,338.1 475.5,340.2 474.8,341.8 474.1,342.1 473.4,344 472.7,345.4 472,345.3 471.3,346.2 470.6,347.2 469.9,348.3 469.2,348.6 468.5,348.5 467.8,347.8 467.1,347.5 466.4,348.1 465.7,348.1 465,347.5 464.3,348.4 463.6,349.1 462.9,349.2 462.2,349.5 461.5,350.7 460.8,351 460.1,351.2 459.4,351.2 458.7,351.3 458,351.5 457.3,350.2 456.6,349.8 455.9,349.2 455.2,348.8 454.5,348.8 453.8,348.1 453.1,349.9 452.4,350.4 451.7,349.4 451,349.8 450.3,350.5 449.6,351.1" fill="#f08080" fill-opacity="0.8" /><polyline points="449.6,349.4 450.3,348.8 451,348.1 451.7,347.7 452.4,348.7 453.1,348.2 453.8,346.4 454.5,347.1 455.2,347.1 455.9,347.5 456.6,348.1 457.3,348.5 458,349.8 458.7,349.6 459.4,349.5 460.1,349.5 460.8,349.3 461.5,349 462.2,347.8 462.9,347.5 463.6,347.4 464.3,346.7 465,345.8 465.7,346.4 466.4,346.4 467.1,345.8 467.8,346.1 468.5,346.8 469.2,346.9 469.9,346.6 470.6,345.5 471.3,344.5 472,343.6 472.7,343.7 473.4,342.3 474.1,340.4 474.8,340.1 475.5,338.5 476.2,336.4 476.9,335.4 477.6,334.8 478.3,333.4 479,331.2 479.7,329 480.4,328.9 481.1,328.7 481.8,328.3 482.5,329.8 483.2,330.5 483.9,330.2 484.6,329.5 485.3,328.8 486,328 486.7,327.9 487.4,327.9 488.1,327.5 488.8,326.8 489.5,327.7 490.2,329.5 490.9,330.1 491.6,330.1 492.3,328.8 493,328.3 493.7,328.5 494.4,329.6 495.1,329.4 495.8,328.2 496.5,328.6 497.2,328.9 497.9,328.1 498.6,325.5 499.3,323.7 500,322 500.7,318.8 501.4,316.6 502.1,314.3 502.8,311.4 503.5,309.5 504.2,307.3 504.9,305.1 505.6,303.1 506.3,300.9 507,299.8 507.7,299.8 508.4,299.2 509.1,298 509.8,297.5 510.5,296.9 511.2,296.2 511.9,296.7 512.6,296.6 513.3,295.4 514,294.5 514.7,292.8 515.4,292 516.1,291.4 516.8,290.2 517.5,289.7 518.2,289.9 518.9,289.1 519.6,289.1 520.3,290.5 521,290.3 521.7,291.6 522.4,291.5 523.1,290.3 523.8,289.7 524.5,288 525.2,288.3 525.9,289.7 526.6,289.4 527.3,289.4 528,290.8 528.7,291.5 529.4,291.6 530.1,291.1 530.8,290.7 531.5,290.8 532.2,290.5 532.9,289.5 533.6,289.9 534.3,291.5 535,292.3 535.7,292 536.4,293.1" fill="none" stroke="#e8242a" stroke-width="0.9" /><text x="469.5" y="310.2" font-size="5.3" fill="#e8242a" stroke="#e8242a" stroke-width="0.133" text-anchor="middle" >Reward</text><text x="469.5" y="317.3" font-size="5.3" fill="#e8242a" stroke="#e8242a" stroke-width="0.133" text-anchor="middle" >(10′–20′)</text><line x1="472" y1="318.5" x2="478.5" y2="330" stroke="#e8242a" stroke-width="0.5"/><text x="505.3" y="282.4" font-size="5.3" fill="#b02020" stroke="#b02020" stroke-width="0.133" text-anchor="middle" >Reward</text><text x="505.3" y="289.4" font-size="5.3" fill="#b02020" stroke="#b02020" stroke-width="0.133" text-anchor="middle" >(0′–10′)</text><line x1="507" y1="290.5" x2="510" y2="298" stroke="#b02020" stroke-width="0.5"/><text x="518.2" y="316" font-size="5.3" stroke="#231f20" stroke-width="0.133" text-anchor="middle" >Control</text><text x="518.2" y="323.2" font-size="5.3" stroke="#231f20" stroke-width="0.133" text-anchor="middle" >(0′–10′)</text><text x="492.6" y="354.2" font-size="5.3" fill="#9a9a9a" stroke="#9a9a9a" stroke-width="0.133"  textLength="39.4" lengthAdjust="spacingAndGlyphs">Control (10′–20′)</text><g transform="translate(491,357.2) scale(1.05,1.18) translate(-491,-357.2)"><rect x="491" y="358.2" width="6.6" height="6.4" fill="url(#chk)" stroke="#333" stroke-width="0.6"/><path d="M491,358.2 L492.6,357.2 L499,357.2 L497.6,358.2 Z M497.6,358.2 L499,357.2 L499,363.4 L497.6,364.6 Z" fill="#777" stroke="#333" stroke-width="0.4"/><line x1="500.2" y1="364.8" x2="502.6" y2="357.4" stroke="#222" stroke-width="0.7"/><rect x="503.6" y="357.8" width="6" height="6.8" rx="1" fill="#fff" stroke="#333" stroke-width="0.6"/><rect x="504.6" y="358.6" width="0.8" height="5.4" fill="#333"/><rect x="506.1" y="358.6" width="0.8" height="5.4" fill="#333"/><rect x="507.6" y="358.6" width="0.8" height="5.4" fill="#333"/></g><text x="481.6" y="406.6" font-size="5.8" stroke="#231f20" stroke-width="0.145"  textLength="27.1" lengthAdjust="spacingAndGlyphs">0–20 min.</text><line x1="453.2" y1="413.8" x2="461.5" y2="413.8" stroke="#d42a2a" stroke-width="1.2"/><text x="465.6" y="416.2" font-size="8" fill="#d42a2a" stroke="#d42a2a" stroke-width="0.2"  textLength="25.8" lengthAdjust="spacingAndGlyphs">Reward</text><line x1="453.2" y1="423.1" x2="461.5" y2="423.1" stroke="#333" stroke-width="1.2"/><text x="465.6" y="425.5" font-size="8" stroke="#231f20" stroke-width="0.2"  textLength="25.8" lengthAdjust="spacingAndGlyphs">Control</text><line x1="448.8" y1="402.7" x2="448.8" y2="485.2" stroke="#231f20" stroke-width="0.6"/><line x1="446.8" y1="402.7" x2="448.8" y2="402.7" stroke="#231f20" stroke-width="0.5"/><line x1="446.8" y1="443.85" x2="448.8" y2="443.85" stroke="#231f20" stroke-width="0.5"/><line x1="446.8" y1="485" x2="448.8" y2="485" stroke="#231f20" stroke-width="0.5"/><text x="445.6" y="405" font-size="6.3" stroke="#231f20" stroke-width="0.158" text-anchor="end" >0.16</text><text x="445.6" y="487.3" font-size="6.3" stroke="#231f20" stroke-width="0.158" text-anchor="end" >0</text><line x1="449" y1="491.5" x2="538.4" y2="491.5" stroke="#231f20" stroke-width="0.6"/><line x1="462.3" y1="491.5" x2="462.3" y2="493.5" stroke="#231f20" stroke-width="0.5"/><text x="462.3" y="501.8" font-size="7" stroke="#231f20" stroke-width="0.175" text-anchor="middle" >−2</text><line x1="486.8" y1="491.5" x2="486.8" y2="493.5" stroke="#231f20" stroke-width="0.5"/><text x="486.8" y="501.8" font-size="7" stroke="#231f20" stroke-width="0.175" text-anchor="middle" >0</text><line x1="511.5" y1="491.5" x2="511.5" y2="493.5" stroke="#231f20" stroke-width="0.5"/><text x="511.5" y="501.8" font-size="7" stroke="#231f20" stroke-width="0.175" text-anchor="middle" >2</text><text x="494.2" y="509.5" font-size="7.8" stroke="#231f20" stroke-width="0.195" text-anchor="middle"  textLength="26.4" lengthAdjust="spacingAndGlyphs">Time (s)</text><text transform="translate(441,472.8) rotate(-90)" stroke="#231f20" stroke-width="0.2" font-size="7.4" textLength="56.8" lengthAdjust="spacingAndGlyphs">Licking probability</text><line x1="449" y1="478.6" x2="537" y2="478.6" stroke="#aaa" stroke-width="0.5" stroke-dasharray="1.5,1"/><line x1="486.8" y1="438" x2="486.8" y2="491" stroke="#3aa0e0" stroke-width="0.9" stroke-dasharray="0.9,0.7"/><path d="M492,432.8 C492.5,434.3 494.5,436.2 494.5,437.3 A2.5,2.5 0 0 1 489.5,437.3 C489.5,436.2 491.5,434.3 492,432.8 Z" fill="#1a7fd4"/><polyline points="449.2,477.6 449.9,477.6 450.6,479.5 451.3,479 452,478.6 452.7,478 453.4,476.6 454.1,476.8 454.8,476.7 455.5,476 456.2,476.7 456.9,477.6 457.6,475.9 458.3,476.5 459,477.9 459.7,476.9 460.4,476.9 461.1,478.1 461.8,478.7 462.5,478.4 463.2,477.6 463.9,477.5 464.6,478.5 465.3,479.4 466,479 466.7,478.2 467.4,478.3 468.1,477.6 468.8,476 469.5,475.8 470.2,476.5 470.9,476.8 471.6,476.8 472.3,476.1 473,475.6 473.7,475.7 474.4,475.4 475.1,474.9 475.8,474.3 476.5,474 477.2,474.3 477.9,473.4 478.6,472.4 479.3,472.1 480,471 480.7,470 481.4,469.5 482.1,469.6 482.8,468.9 483.5,468.1 484.2,467 484.9,467.4 485.6,468.2 486.3,466.1 487,465.1 487.7,465.9 488.4,465.2 489.1,462.5 489.8,461.5 490.5,461.2 491.2,460.7 491.9,460.2 492.6,457.6 493.3,456 494,455.9 494.7,455 495.4,453 496.1,451.7 496.8,452.5 497.5,452.9 498.2,453.8 498.9,452.9 499.6,453.7 500.3,456.2 501,454.9 501.7,454 502.4,453.2 503.1,452.1 503.8,451.9 504.5,451.3 505.2,451.2 505.9,450.8 506.6,450.9 507.3,452.8 508,453.9 508.7,453.3 509.4,453.6 510.1,454.2 510.8,452.9 511.5,452.6 512.2,453.7 512.9,454.6 513.6,455.5 514.3,455.6 515,455.6 515.7,457.1 516.4,458 517.1,458.4 517.8,459 518.5,459.8 519.2,461 519.9,460.9 520.6,462.1 521.3,463.2 522,463.8 522.7,465.1 523.4,466.3 524.1,467.7 524.8,468.9 525.5,470 526.2,470.9 526.9,472.1 527.6,473.4 528.3,473.9 529,474 529.7,475.7 530.4,478.2 531.1,478 531.8,476.1 532.5,474.9 533.2,473.4 533.9,472.8 534.6,473.3 535.3,473.4 536,472.8" fill="none" stroke="#3a3a3a" stroke-width="0.9" /><polygon points="449.2,476.5 449.9,476.7 450.6,477.1 451.3,476.4 452,476.2 452.7,476.5 453.4,475.8 454.1,475.2 454.8,474.9 455.5,475.8 456.2,476.1 456.9,475.5 457.6,475.6 458.3,476.6 459,477.2 459.7,477.1 460.4,477.2 461.1,477.3 461.8,476.9 462.5,476.2 463.2,476.7 463.9,477 464.6,476.5 465.3,476.3 466,476.3 466.7,476.9 467.4,476.5 468.1,475.9 468.8,476 469.5,476.1 470.2,476 470.9,475.7 471.6,475.3 472.3,475.2 473,475 473.7,475.2 474.4,475.3 475.1,475.5 475.8,475.2 476.5,473.2 477.2,472.4 477.9,471.6 478.6,469.3 479.3,468.7 480,467.7 480.7,466.3 481.4,465.3 482.1,464.3 482.8,464 483.5,462.7 484.2,461.6 484.9,461.7 485.6,461.8 486.3,461.4 487,460.7 487.7,459.9 488.4,458.9 489.1,458.2 489.8,457.2 490.5,455.1 491.2,453.1 491.9,452.5 492.6,451.9 493.3,450.4 494,448.6 494.7,447 495.4,445.4 496.1,444.6 496.8,443.4 497.5,442.5 498.2,441.9 498.9,441.2 499.6,440.5 500.3,438.1 501,436.1 501.7,434.1 502.4,432.8 503.1,431.1 503.8,428.7 504.5,426.5 505.2,424.8 505.9,422.7 506.6,420.8 507.3,420.4 508,418.5 508.7,416.7 509.4,417.1 510.1,416.5 510.8,416.2 511.5,416.1 512.2,415.4 512.9,414.4 513.6,414 514.3,414.5 515,415 515.7,415.1 516.4,414.5 517.1,413.8 517.8,413.6 518.5,414 519.2,412.9 519.9,412.6 520.6,413.9 521.3,414.1 522,414.2 522.7,414.3 523.4,415.4 524.1,416.3 524.8,417.3 525.5,418.6 526.2,418.1 526.9,417.6 527.6,418.2 528.3,418.4 529,418.1 529.7,418.2 530.4,418.9 531.1,420 531.8,419.5 532.5,419.6 533.2,422.1 533.9,423.6 534.6,423.8 535.3,425.3 536,427.1 536,429.5 535.3,427.7 534.6,426.2 533.9,426 533.2,424.5 532.5,422 531.8,421.9 531.1,422.4 530.4,421.3 529.7,420.6 529,420.5 528.3,420.8 527.6,420.6 526.9,420 526.2,420.5 525.5,421 524.8,419.7 524.1,418.7 523.4,417.8 522.7,416.7 522,416.6 521.3,416.5 520.6,416.3 519.9,415 519.2,415.3 518.5,416.4 517.8,416 517.1,416.2 516.4,416.9 515.7,417.5 515,417.4 514.3,416.9 513.6,416.4 512.9,416.8 512.2,417.8 511.5,418.5 510.8,418.6 510.1,418.9 509.4,419.5 508.7,419.1 508,420.9 507.3,422.8 506.6,423.2 505.9,425.1 505.2,427.2 504.5,428.9 503.8,431.1 503.1,433.5 502.4,435.2 501.7,436.5 501,438.5 500.3,440.5 499.6,442.9 498.9,443.6 498.2,444.3 497.5,444.9 496.8,445.8 496.1,447 495.4,447.8 494.7,449.4 494,451 493.3,452.8 492.6,454.3 491.9,454.9 491.2,455.5 490.5,457.5 489.8,459.6 489.1,460.6 488.4,461.3 487.7,462.3 487,463.1 486.3,463.8 485.6,464.2 484.9,464.1 484.2,464 483.5,465.1 482.8,466.4 482.1,466.7 481.4,467.7 480.7,468.7 480,470.1 479.3,471.1 478.6,471.7 477.9,474 477.2,474.8 476.5,475.6 475.8,477.6 475.1,477.9 474.4,477.7 473.7,477.6 473,477.4 472.3,477.6 471.6,477.7 470.9,478.1 470.2,478.4 469.5,478.5 468.8,478.4 468.1,478.3 467.4,478.9 466.7,479.3 466,478.7 465.3,478.7 464.6,478.9 463.9,479.4 463.2,479.1 462.5,478.6 461.8,479.3 461.1,479.7 460.4,479.6 459.7,479.5 459,479.6 458.3,479 457.6,478 456.9,477.9 456.2,478.5 455.5,478.2 454.8,477.3 454.1,477.6 453.4,478.2 452.7,478.9 452,478.6 451.3,478.8 450.6,479.5 449.9,479.1 449.2,478.9" fill="#f0a0a0" fill-opacity="0.8" /><polyline points="449.2,477.7 449.9,477.9 450.6,478.3 451.3,477.6 452,477.4 452.7,477.7 453.4,477 454.1,476.4 454.8,476.1 455.5,477 456.2,477.3 456.9,476.7 457.6,476.8 458.3,477.8 459,478.4 459.7,478.3 460.4,478.4 461.1,478.5 461.8,478.1 462.5,477.4 463.2,477.9 463.9,478.2 464.6,477.7 465.3,477.5 466,477.5 466.7,478.1 467.4,477.7 468.1,477.1 468.8,477.2 469.5,477.3 470.2,477.2 470.9,476.9 471.6,476.5 472.3,476.4 473,476.2 473.7,476.4 474.4,476.5 475.1,476.7 475.8,476.4 476.5,474.4 477.2,473.6 477.9,472.8 478.6,470.5 479.3,469.9 480,468.9 480.7,467.5 481.4,466.5 482.1,465.5 482.8,465.2 483.5,463.9 484.2,462.8 484.9,462.9 485.6,463 486.3,462.6 487,461.9 487.7,461.1 488.4,460.1 489.1,459.4 489.8,458.4 490.5,456.3 491.2,454.3 491.9,453.7 492.6,453.1 493.3,451.6 494,449.8 494.7,448.2 495.4,446.6 496.1,445.8 496.8,444.6 497.5,443.7 498.2,443.1 498.9,442.4 499.6,441.7 500.3,439.3 501,437.3 501.7,435.3 502.4,434 503.1,432.3 503.8,429.9 504.5,427.7 505.2,426 505.9,423.9 506.6,422 507.3,421.6 508,419.7 508.7,417.9 509.4,418.3 510.1,417.7 510.8,417.4 511.5,417.3 512.2,416.6 512.9,415.6 513.6,415.2 514.3,415.7 515,416.2 515.7,416.3 516.4,415.7 517.1,415 517.8,414.8 518.5,415.2 519.2,414.1 519.9,413.8 520.6,415.1 521.3,415.3 522,415.4 522.7,415.5 523.4,416.6 524.1,417.5 524.8,418.5 525.5,419.8 526.2,419.3 526.9,418.8 527.6,419.4 528.3,419.6 529,419.3 529.7,419.4 530.4,420.1 531.1,421.2 531.8,420.7 532.5,420.8 533.2,423.3 533.9,424.8 534.6,425 535.3,426.5 536,428.3" fill="none" stroke="#d42a2a" stroke-width="1.0" /><g transform="translate(489.9,481.2) scale(1.05,1.18) translate(-489.9,-481.2)"><rect x="489.9" y="482.2" width="6.6" height="6.4" fill="url(#chk)" stroke="#333" stroke-width="0.6"/><path d="M489.9,482.2 L491.5,481.2 L497.9,481.2 L496.5,482.2 Z M496.5,482.2 L497.9,481.2 L497.9,487.4 L496.5,488.6 Z" fill="#777" stroke="#333" stroke-width="0.4"/><line x1="499.1" y1="488.8" x2="501.5" y2="481.4" stroke="#222" stroke-width="0.7"/><rect x="502.5" y="481.8" width="6" height="6.8" rx="1" fill="#fff" stroke="#333" stroke-width="0.6"/><rect x="503.5" y="482.6" width="0.8" height="5.4" fill="#333"/><rect x="505" y="482.6" width="0.8" height="5.4" fill="#333"/><rect x="506.5" y="482.6" width="0.8" height="5.4" fill="#333"/></g><text x="551.8" y="271" font-size="12" fill="#000" font-weight="bold" >g</text><text x="606.7" y="268.8" font-size="6.6" stroke="#231f20" stroke-width="0.165" text-anchor="middle"  textLength="34.5" lengthAdjust="spacingAndGlyphs">Anticipatory</text><text x="606.7" y="276.2" font-size="6.6" stroke="#231f20" stroke-width="0.165" text-anchor="middle" >licking</text><path d="M630,265 C630.5,266.6 632.6,268.6 632.6,269.8 A2.6,2.6 0 0 1 627.4,269.8 C627.4,268.6 629.5,266.6 630,265 Z" fill="#1a7fd4"/><text transform="translate(558.8,405.3) rotate(-90)" stroke="#231f20" stroke-width="0.2" font-size="8" textLength="62.5" lengthAdjust="spacingAndGlyphs">Licking probability</text><line x1="581.7" y1="273.5" x2="581.7" y2="309" stroke="#bbbbbb" stroke-width="0.9"/><line x1="579.8" y1="275.5" x2="581.7" y2="275.5" stroke="#231f20" stroke-width="0.5"/><text x="578.6" y="277.7" font-size="6.2" stroke="#231f20" stroke-width="0.155" text-anchor="end" >0.06</text><line x1="579.8" y1="292.5" x2="581.7" y2="292.5" stroke="#231f20" stroke-width="0.5"/><text x="578.6" y="294.7" font-size="6.2" stroke="#231f20" stroke-width="0.155" text-anchor="end" >0.03</text><line x1="579.8" y1="308.3" x2="581.7" y2="308.3" stroke="#231f20" stroke-width="0.5"/><text x="578.6" y="310.5" font-size="6.2" stroke="#231f20" stroke-width="0.155" text-anchor="end" >0</text><text x="587" y="288.2" font-size="6.2" stroke="#231f20" stroke-width="0.155"  textLength="13.3" lengthAdjust="spacingAndGlyphs">Day 1</text><line x1="604" y1="301.6" x2="636" y2="301.6" stroke="#c8c8c8" stroke-width="0.6" stroke-dasharray="2,0.8"/><line x1="626.4" y1="273.5" x2="626.4" y2="310" stroke="#25aee6" stroke-width="0.9" stroke-dasharray="0.9,0.6"/><polygon points="582.2,300.1 582.8,300 583.4,300.3 584,300.6 584.6,300.7 585.2,299.7 585.8,299 586.4,299 587,298.7 587.6,298.2 588.2,299.6 588.8,300 589.4,299.6 590,299.6 590.6,299 591.2,298.7 591.8,299.3 592.4,299.8 593,300 593.6,299.9 594.2,299.8 594.8,300.7 595.4,299.7 596,299.3 596.6,299.5 597.2,299 597.8,299.4 598.4,300.2 599,300.7 599.6,300.3 600.2,300.1 600.8,300.4 601.4,300 602,299.3 602.6,299.3 603.2,300.9 603.8,300.5 604.4,299.1 605,299 605.6,299 606.2,299.4 606.8,298.8 607.4,298.2 608,297.1 608.6,296.2 609.2,295.2 609.8,294.4 610.4,294.5 611,293 611.6,292 612.2,291.1 612.8,289.5 613.4,288.6 614,288 614.6,287.3 615.2,286.9 615.8,287.2 616.4,286.7 617,285.5 617.6,285.5 618.2,285.4 618.8,284.9 619.4,284.9 620,284.7 620.6,284.2 621.2,283.8 621.8,284.3 622.4,284.2 623,283.7 623.6,283.8 624.2,284 624.8,283.6 625.4,283.6 626,283.6 626.6,282.6 627.2,282.5 627.8,282.4 628.4,283 629,283.1 629.6,281.6 630.2,281.3 630.8,280.9 631.4,280.1 632,278.6 632.6,277.4 633.2,276.5 633.8,275 634.4,273.3 635,272.5 635.6,271.3 636.2,270.2 636.8,270.9 637.4,270.5 637.4,273.7 636.8,274.1 636.2,273.4 635.6,274.5 635,275.7 634.4,276.5 633.8,278.2 633.2,279.7 632.6,280.6 632,281.8 631.4,283.3 630.8,284.1 630.2,284.5 629.6,284.8 629,286.3 628.4,286.2 627.8,285.6 627.2,285.7 626.6,285.8 626,286.8 625.4,286.8 624.8,286.8 624.2,287.2 623.6,287 623,286.9 622.4,287.4 621.8,287.5 621.2,287 620.6,287.4 620,287.9 619.4,288.1 618.8,288.1 618.2,288.6 617.6,288.7 617,288.7 616.4,289.9 615.8,290.4 615.2,290.1 614.6,290.5 614,291.2 613.4,291.8 612.8,292.7 612.2,294.3 611.6,295.2 611,296.2 610.4,297.7 609.8,297.6 609.2,298.4 608.6,299.4 608,300.3 607.4,301.4 606.8,302 606.2,302.6 605.6,302.2 605,302.2 604.4,302.3 603.8,303.7 603.2,304.1 602.6,302.5 602,302.5 601.4,303.2 600.8,303.6 600.2,303.3 599.6,303.5 599,303.9 598.4,303.4 597.8,302.6 597.2,302.2 596.6,302.7 596,302.5 595.4,302.9 594.8,303.9 594.2,303 593.6,303.1 593,303.2 592.4,303 591.8,302.5 591.2,301.9 590.6,302.2 590,302.8 589.4,302.8 588.8,303.2 588.2,302.8 587.6,301.4 587,301.9 586.4,302.2 585.8,302.2 585.2,302.9 584.6,303.9 584,303.8 583.4,303.5 582.8,303.2 582.2,303.3" fill="#cc4a46" fill-opacity="0.9" /><polyline points="582.2,301.7 582.8,301.6 583.4,301.9 584,302.2 584.6,302.3 585.2,301.3 585.8,300.6 586.4,300.6 587,300.3 587.6,299.8 588.2,301.2 588.8,301.6 589.4,301.2 590,301.2 590.6,300.6 591.2,300.3 591.8,300.9 592.4,301.4 593,301.6 593.6,301.5 594.2,301.4 594.8,302.3 595.4,301.3 596,300.9 596.6,301.1 597.2,300.6 597.8,301 598.4,301.8 599,302.3 599.6,301.9 600.2,301.7 600.8,302 601.4,301.6 602,300.9 602.6,300.9 603.2,302.5 603.8,302.1 604.4,300.7 605,300.6 605.6,300.6 606.2,301 606.8,300.4 607.4,299.8 608,298.7 608.6,297.8 609.2,296.8 609.8,296 610.4,296.1 611,294.6 611.6,293.6 612.2,292.7 612.8,291.1 613.4,290.2 614,289.6 614.6,288.9 615.2,288.5 615.8,288.8 616.4,288.3 617,287.1 617.6,287.1 618.2,287 618.8,286.5 619.4,286.5 620,286.3 620.6,285.8 621.2,285.4 621.8,285.9 622.4,285.8 623,285.3 623.6,285.4 624.2,285.6 624.8,285.2 625.4,285.2 626,285.2 626.6,284.2 627.2,284.1 627.8,284 628.4,284.6 629,284.7 629.6,283.2 630.2,282.9 630.8,282.5 631.4,281.7 632,280.2 632.6,279 633.2,278.1 633.8,276.6 634.4,274.9 635,274.1 635.6,272.9 636.2,271.8 636.8,272.5 637.4,272.1" fill="none" stroke="#a02020" stroke-width="0.6" /><polygon points="582.2,300.9 582.8,301.2 583.4,301.3 584,301 584.6,300.5 585.2,299.8 585.8,300 586.4,300.1 587,300.2 587.6,300.4 588.2,299.7 588.8,299.7 589.4,300.1 590,300 590.6,299.5 591.2,299.6 591.8,300.1 592.4,300.4 593,300.6 593.6,300 594.2,299.6 594.8,300.2 595.4,299.8 596,300 596.6,300.3 597.2,299.9 597.8,300.9 598.4,301.1 599,300.5 599.6,300.7 600.2,300.7 600.8,300.3 601.4,300.3 602,301.2 602.6,301.3 603.2,300.6 603.8,300.2 604.4,300.2 605,300.2 605.6,299.4 606.2,299.1 606.8,299.2 607.4,299.4 608,299.1 608.6,298.7 609.2,298.1 609.8,297.5 610.4,297.3 611,296.4 611.6,296.5 612.2,296 612.8,295.2 613.4,294.8 614,294.6 614.6,295 615.2,294 615.8,294.2 616.4,294.7 617,295.2 617.6,295.8 618.2,295.4 618.8,294.2 619.4,294.5 620,295.4 620.6,293.6 621.2,293.1 621.8,293.5 622.4,292.2 623,291.5 623.6,291.4 624.2,290.2 624.8,289.6 625.4,288.9 626,288.5 626.6,288.4 627.2,288.3 627.8,288.3 628.4,287.3 629,286.7 629.6,286 630.2,285.4 630.8,284.9 631.4,284.1 632,284.2 632.6,283.7 633.2,283.2 633.8,282.5 634.4,281.5 635,281.6 635.6,281.8 636.2,280.5 636.8,279.9 637.4,279.8 637.4,282.4 636.8,282.5 636.2,283.1 635.6,284.4 635,284.2 634.4,284.1 633.8,285.1 633.2,285.8 632.6,286.3 632,286.8 631.4,286.7 630.8,287.5 630.2,288 629.6,288.6 629,289.3 628.4,289.9 627.8,290.9 627.2,290.9 626.6,291 626,291.1 625.4,291.5 624.8,292.2 624.2,292.8 623.6,294 623,294.1 622.4,294.8 621.8,296.1 621.2,295.7 620.6,296.2 620,298 619.4,297.1 618.8,296.8 618.2,298 617.6,298.4 617,297.8 616.4,297.3 615.8,296.8 615.2,296.6 614.6,297.6 614,297.2 613.4,297.4 612.8,297.8 612.2,298.6 611.6,299.1 611,299 610.4,299.9 609.8,300.1 609.2,300.7 608.6,301.3 608,301.7 607.4,302 606.8,301.8 606.2,301.7 605.6,302 605,302.8 604.4,302.8 603.8,302.8 603.2,303.2 602.6,303.9 602,303.8 601.4,302.9 600.8,302.9 600.2,303.3 599.6,303.3 599,303.1 598.4,303.7 597.8,303.5 597.2,302.5 596.6,302.9 596,302.6 595.4,302.4 594.8,302.8 594.2,302.2 593.6,302.6 593,303.2 592.4,303 591.8,302.7 591.2,302.2 590.6,302.1 590,302.6 589.4,302.7 588.8,302.3 588.2,302.3 587.6,303 587,302.8 586.4,302.7 585.8,302.6 585.2,302.4 584.6,303.1 584,303.6 583.4,303.9 582.8,303.8 582.2,303.5" fill="#6a6a6a" fill-opacity="0.85" /><polyline points="582.2,302.2 582.8,302.5 583.4,302.6 584,302.3 584.6,301.8 585.2,301.1 585.8,301.3 586.4,301.4 587,301.5 587.6,301.7 588.2,301 588.8,301 589.4,301.4 590,301.3 590.6,300.8 591.2,300.9 591.8,301.4 592.4,301.7 593,301.9 593.6,301.3 594.2,300.9 594.8,301.5 595.4,301.1 596,301.3 596.6,301.6 597.2,301.2 597.8,302.2 598.4,302.4 599,301.8 599.6,302 600.2,302 600.8,301.6 601.4,301.6 602,302.5 602.6,302.6 603.2,301.9 603.8,301.5 604.4,301.5 605,301.5 605.6,300.7 606.2,300.4 606.8,300.5 607.4,300.7 608,300.4 608.6,300 609.2,299.4 609.8,298.8 610.4,298.6 611,297.7 611.6,297.8 612.2,297.3 612.8,296.5 613.4,296.1 614,295.9 614.6,296.3 615.2,295.3 615.8,295.5 616.4,296 617,296.5 617.6,297.1 618.2,296.7 618.8,295.5 619.4,295.8 620,296.7 620.6,294.9 621.2,294.4 621.8,294.8 622.4,293.5 623,292.8 623.6,292.7 624.2,291.5 624.8,290.9 625.4,290.2 626,289.8 626.6,289.7 627.2,289.6 627.8,289.6 628.4,288.6 629,288 629.6,287.3 630.2,286.7 630.8,286.2 631.4,285.4 632,285.5 632.6,285 633.2,284.5 633.8,283.8 634.4,282.8 635,282.9 635.6,283.1 636.2,281.8 636.8,281.2 637.4,281.1" fill="none" stroke="#2a2a2a" stroke-width="0.6" /><line x1="666.5" y1="275" x2="666.5" y2="309.8" stroke="#231f20" stroke-width="0.6"/><line x1="666.5" y1="309.8" x2="684" y2="309.8" stroke="#231f20" stroke-width="0.6"/><line x1="664.8" y1="278.5" x2="666.5" y2="278.5" stroke="#231f20" stroke-width="0.5"/><text x="663.6" y="280.6" font-size="6.2" stroke="#231f20" stroke-width="0.155" text-anchor="end" >0.2</text><line x1="664.8" y1="292.5" x2="666.5" y2="292.5" stroke="#231f20" stroke-width="0.5"/><text x="663.6" y="294.6" font-size="6.2" stroke="#231f20" stroke-width="0.155" text-anchor="end" >0.1</text><line x1="664.8" y1="306.9" x2="666.5" y2="306.9" stroke="#231f20" stroke-width="0.5"/><text x="663.6" y="309" font-size="6.2" stroke="#231f20" stroke-width="0.155" text-anchor="end" >0</text><rect x="668" y="306" width="6.3" height="1.4" fill="#8a8a8a"/><rect x="676.3" y="295.2" width="6.4" height="12.2" fill="#9b1c1c"/><line x1="671.1" y1="306.9" x2="671.1" y2="281.3" stroke="#000" stroke-width="0.7"/><circle cx="671.9" cy="303.2" r="0.5" fill="#000"/><circle cx="670.6" cy="303.9" r="0.5" fill="#000"/><circle cx="670.4" cy="300.9" r="0.5" fill="#000"/><circle cx="670.9" cy="297.2" r="0.5" fill="#000"/><circle cx="670.9" cy="302.6" r="0.5" fill="#000"/><circle cx="670.3" cy="299.9" r="0.5" fill="#000"/><circle cx="671" cy="304.1" r="0.5" fill="#000"/><circle cx="670.6" cy="303.7" r="0.5" fill="#000"/><circle cx="672.2" cy="301.6" r="0.5" fill="#000"/><circle cx="671" cy="305.5" r="0.5" fill="#000"/><circle cx="670.6" cy="300.9" r="0.5" fill="#000"/><circle cx="670.1" cy="303.1" r="0.5" fill="#000"/><circle cx="671.8" cy="306.7" r="0.5" fill="#000"/><circle cx="671" cy="301.4" r="0.5" fill="#000"/><circle cx="670.5" cy="305.8" r="0.5" fill="#000"/><circle cx="670.5" cy="291.4" r="0.5" fill="#000"/><circle cx="671.6" cy="287.7" r="0.5" fill="#000"/><circle cx="671.2" cy="306.8" r="0.5" fill="#000"/><circle cx="670.9" cy="290.9" r="0.5" fill="#000"/><circle cx="670.3" cy="290.8" r="0.5" fill="#000"/><circle cx="670.2" cy="304.7" r="0.5" fill="#000"/><circle cx="670.8" cy="288.4" r="0.5" fill="#000"/><circle cx="670.2" cy="301.5" r="0.5" fill="#000"/><circle cx="670" cy="295.5" r="0.5" fill="#000"/><circle cx="671.7" cy="300.1" r="0.5" fill="#000"/><circle cx="670.4" cy="304.2" r="0.5" fill="#000"/><circle cx="671.7" cy="286.8" r="0.5" fill="#000"/><circle cx="670.7" cy="289.7" r="0.5" fill="#000"/><circle cx="671" cy="286.6" r="0.5" fill="#000"/><circle cx="671.8" cy="295.4" r="0.5" fill="#000"/><circle cx="671.3" cy="299.8" r="0.5" fill="#000"/><circle cx="671" cy="289.3" r="0.5" fill="#000"/><circle cx="670.6" cy="297.8" r="0.5" fill="#000"/><circle cx="670.1" cy="289.3" r="0.5" fill="#000"/><circle cx="671.6" cy="303.4" r="0.5" fill="#000"/><circle cx="671.8" cy="298" r="0.5" fill="#000"/><line x1="668.5" y1="306.9" x2="673.7" y2="306.9" stroke="#000" stroke-width="1"/><line x1="679.5" y1="306.9" x2="679.5" y2="278.5" stroke="#000" stroke-width="0.7"/><circle cx="678.6" cy="305.1" r="0.5" fill="#000"/><circle cx="679.5" cy="304.7" r="0.5" fill="#000"/><circle cx="678.7" cy="301.2" r="0.5" fill="#000"/><circle cx="679.1" cy="306.4" r="0.5" fill="#000"/><circle cx="680.3" cy="304.7" r="0.5" fill="#000"/><circle cx="680.3" cy="303" r="0.5" fill="#000"/><circle cx="679" cy="306.8" r="0.5" fill="#000"/><circle cx="680.3" cy="301.8" r="0.5" fill="#000"/><circle cx="679.7" cy="300.2" r="0.5" fill="#000"/><circle cx="679.6" cy="306.5" r="0.5" fill="#000"/><circle cx="680.5" cy="304.8" r="0.5" fill="#000"/><circle cx="679.8" cy="298.4" r="0.5" fill="#000"/><circle cx="679.3" cy="304" r="0.5" fill="#000"/><circle cx="679.5" cy="301.1" r="0.5" fill="#000"/><circle cx="680.5" cy="285.5" r="0.5" fill="#000"/><circle cx="679.4" cy="282.9" r="0.5" fill="#000"/><circle cx="678.9" cy="303.7" r="0.5" fill="#000"/><circle cx="679.5" cy="289.5" r="0.5" fill="#000"/><circle cx="678.9" cy="303" r="0.5" fill="#000"/><circle cx="679.6" cy="288.4" r="0.5" fill="#000"/><circle cx="680.3" cy="302.1" r="0.5" fill="#000"/><circle cx="678.5" cy="303.8" r="0.5" fill="#000"/><circle cx="678.8" cy="296.7" r="0.5" fill="#000"/><circle cx="680" cy="297.8" r="0.5" fill="#000"/><circle cx="678.8" cy="289.8" r="0.5" fill="#000"/><circle cx="678.9" cy="292" r="0.5" fill="#000"/><circle cx="679.7" cy="284.1" r="0.5" fill="#000"/><circle cx="679.5" cy="297.9" r="0.5" fill="#000"/><circle cx="678.5" cy="304.9" r="0.5" fill="#000"/><circle cx="678.7" cy="286.5" r="0.5" fill="#000"/><circle cx="680.1" cy="298.2" r="0.5" fill="#000"/><circle cx="679.4" cy="293.7" r="0.5" fill="#000"/><circle cx="679" cy="303.1" r="0.5" fill="#000"/><circle cx="679" cy="303" r="0.5" fill="#000"/><circle cx="679.9" cy="295.2" r="0.5" fill="#000"/><circle cx="679.9" cy="282.5" r="0.5" fill="#000"/><line x1="676.9" y1="306.9" x2="682.1" y2="306.9" stroke="#000" stroke-width="1"/><path d="M670,276.9 L670,274.6 L679.2,274.6 L679.2,276.9" fill="none" stroke="#231f20" stroke-width="0.5"/><text x="674.6" y="276.5" font-size="10.5" stroke="#231f20" stroke-width="0.2" text-anchor="middle" >*</text><line x1="581.7" y1="317.4" x2="581.7" y2="351.6" stroke="#231f20" stroke-width="0.6"/><line x1="579.8" y1="318.9" x2="581.7" y2="318.9" stroke="#231f20" stroke-width="0.5"/><text x="578.6" y="321.1" font-size="6.2" stroke="#231f20" stroke-width="0.155" text-anchor="end" >0.06</text><line x1="579.8" y1="337.5" x2="581.7" y2="337.5" stroke="#231f20" stroke-width="0.5"/><text x="578.6" y="339.7" font-size="6.2" stroke="#231f20" stroke-width="0.155" text-anchor="end" >0.03</text><line x1="579.8" y1="351.3" x2="581.7" y2="351.3" stroke="#231f20" stroke-width="0.5"/><text x="578.6" y="353.5" font-size="6.2" stroke="#231f20" stroke-width="0.155" text-anchor="end" >0.01</text><text x="587" y="327.4" font-size="6.2" stroke="#231f20" stroke-width="0.155"  textLength="13.3" lengthAdjust="spacingAndGlyphs">Day 2</text><line x1="604" y1="349.3" x2="636" y2="349.3" stroke="#c8c8c8" stroke-width="0.6" stroke-dasharray="2,0.8"/><line x1="626.4" y1="317.4" x2="626.4" y2="352.6" stroke="#25aee6" stroke-width="0.9" stroke-dasharray="0.9,0.6"/><polygon points="582.2,340.4 582.8,342.2 583.4,343.1 584,344 584.6,345 585.2,345.1 585.8,345.6 586.4,346.7 587,346.7 587.6,347 588.2,348.2 588.8,347.8 589.4,347.9 590,348.5 590.6,347.8 591.2,347.8 591.8,347.6 592.4,347.1 593,347.1 593.6,347.8 594.2,348.3 594.8,348 595.4,347.9 596,348 596.6,348 597.2,347.7 597.8,347.7 598.4,347.4 599,347.1 599.6,347.7 600.2,347.8 600.8,346.1 601.4,346.1 602,345.9 602.6,345.4 603.2,345.2 603.8,344.4 604.4,343.1 605,341.9 605.6,341.8 606.2,340.8 606.8,339.7 607.4,338.7 608,337.9 608.6,336.9 609.2,335.8 609.8,335.1 610.4,333.7 611,332.8 611.6,332.3 612.2,331.6 612.8,331.4 613.4,330.2 614,329.1 614.6,329.4 615.2,329.4 615.8,328.4 616.4,327.8 617,327.6 617.6,326.8 618.2,326 618.8,325.6 619.4,325.5 620,324.6 620.6,324.1 621.2,323.5 621.8,322.5 622.4,322.8 623,322.7 623.6,321.8 624.2,321.7 624.8,321.9 625.4,321.5 626,321.6 626.6,321.1 627.2,320.1 627.8,320.5 628.4,320.1 629,320 629.6,320.1 630.2,319.9 630.8,320.9 631.4,321.5 632,322.6 632.6,321.1 633.2,318.9 633.8,317.7 634.4,316.1 635,314.9 635.6,313.1 636.2,311.7 636.8,310.9 637.4,310.8 637.4,314 636.8,314.1 636.2,314.9 635.6,316.3 635,318.1 634.4,319.3 633.8,320.9 633.2,322.1 632.6,324.3 632,325.8 631.4,324.7 630.8,324.1 630.2,323.1 629.6,323.3 629,323.2 628.4,323.3 627.8,323.7 627.2,323.3 626.6,324.3 626,324.8 625.4,324.7 624.8,325.1 624.2,324.9 623.6,325 623,325.9 622.4,326 621.8,325.7 621.2,326.7 620.6,327.3 620,327.8 619.4,328.7 618.8,328.8 618.2,329.2 617.6,330 617,330.8 616.4,331 615.8,331.6 615.2,332.6 614.6,332.6 614,332.3 613.4,333.4 612.8,334.6 612.2,334.8 611.6,335.5 611,336 610.4,336.9 609.8,338.3 609.2,339 608.6,340.1 608,341.1 607.4,341.9 606.8,342.9 606.2,344 605.6,345 605,345.1 604.4,346.3 603.8,347.6 603.2,348.4 602.6,348.6 602,349.1 601.4,349.3 600.8,349.3 600.2,351 599.6,350.9 599,350.3 598.4,350.6 597.8,350.9 597.2,350.9 596.6,351.2 596,351.2 595.4,351.1 594.8,351.2 594.2,351.5 593.6,351 593,350.3 592.4,350.3 591.8,350.8 591.2,351 590.6,351 590,351.7 589.4,351.1 588.8,351 588.2,351.4 587.6,350.2 587,349.9 586.4,349.9 585.8,348.8 585.2,348.3 584.6,348.2 584,347.2 583.4,346.3 582.8,345.4 582.2,343.6" fill="#cc4a46" fill-opacity="0.9" /><polyline points="582.2,342 582.8,343.8 583.4,344.7 584,345.6 584.6,346.6 585.2,346.7 585.8,347.2 586.4,348.3 587,348.3 587.6,348.6 588.2,349.8 588.8,349.4 589.4,349.5 590,350.1 590.6,349.4 591.2,349.4 591.8,349.2 592.4,348.7 593,348.7 593.6,349.4 594.2,349.9 594.8,349.6 595.4,349.5 596,349.6 596.6,349.6 597.2,349.3 597.8,349.3 598.4,349 599,348.7 599.6,349.3 600.2,349.4 600.8,347.7 601.4,347.7 602,347.5 602.6,347 603.2,346.8 603.8,346 604.4,344.7 605,343.5 605.6,343.4 606.2,342.4 606.8,341.3 607.4,340.3 608,339.5 608.6,338.5 609.2,337.4 609.8,336.7 610.4,335.3 611,334.4 611.6,333.9 612.2,333.2 612.8,333 613.4,331.8 614,330.7 614.6,331 615.2,331 615.8,330 616.4,329.4 617,329.2 617.6,328.4 618.2,327.6 618.8,327.2 619.4,327.1 620,326.2 620.6,325.7 621.2,325.1 621.8,324.1 622.4,324.4 623,324.3 623.6,323.4 624.2,323.3 624.8,323.5 625.4,323.1 626,323.2 626.6,322.7 627.2,321.7 627.8,322.1 628.4,321.7 629,321.6 629.6,321.7 630.2,321.5 630.8,322.5 631.4,323.1 632,324.2 632.6,322.7 633.2,320.5 633.8,319.3 634.4,317.7 635,316.5 635.6,314.7 636.2,313.3 636.8,312.5 637.4,312.4" fill="none" stroke="#a02020" stroke-width="0.6" /><polygon points="582.2,349 582.8,348.8 583.4,347.7 584,348.1 584.6,348.1 585.2,347.5 585.8,347.2 586.4,347.2 587,346.6 587.6,346.1 588.2,346.2 588.8,345.6 589.4,346.4 590,347 590.6,346.3 591.2,346.7 591.8,346.6 592.4,346.9 593,348 593.6,347.2 594.2,347.2 594.8,348 595.4,348 596,348.1 596.6,347.4 597.2,346.9 597.8,346.8 598.4,347.3 599,348.3 599.6,348.8 600.2,348.5 600.8,348.8 601.4,347.9 602,346.9 602.6,347.1 603.2,347.5 603.8,347.2 604.4,346.9 605,348 605.6,348.2 606.2,348 606.8,347 607.4,345.7 608,345.6 608.6,345.3 609.2,344.8 609.8,344.7 610.4,344.4 611,344.4 611.6,344.1 612.2,343.3 612.8,342 613.4,341.3 614,340.6 614.6,339.4 615.2,338.4 615.8,337.9 616.4,338.1 617,338 617.6,337.2 618.2,336.6 618.8,335.7 619.4,335.5 620,335.2 620.6,334 621.2,334.2 621.8,334.2 622.4,334 623,334.6 623.6,334.1 624.2,333.4 624.8,333.6 625.4,333.7 626,334.5 626.6,334.5 627.2,333.9 627.8,332.3 628.4,331.7 629,332.5 629.6,332.2 630.2,331.8 630.8,331.3 631.4,331.5 632,331.6 632.6,331.3 633.2,331 633.8,330.9 634.4,331.2 635,331.5 635.6,331.3 636.2,330.7 636.8,330.3 637.4,330.2 637.4,332.8 636.8,332.9 636.2,333.3 635.6,333.9 635,334.1 634.4,333.8 633.8,333.5 633.2,333.6 632.6,333.9 632,334.2 631.4,334.1 630.8,333.9 630.2,334.4 629.6,334.8 629,335.1 628.4,334.3 627.8,334.9 627.2,336.5 626.6,337.1 626,337.1 625.4,336.3 624.8,336.2 624.2,336 623.6,336.7 623,337.2 622.4,336.6 621.8,336.8 621.2,336.8 620.6,336.6 620,337.8 619.4,338.1 618.8,338.3 618.2,339.2 617.6,339.8 617,340.6 616.4,340.7 615.8,340.5 615.2,341 614.6,342 614,343.2 613.4,343.9 612.8,344.6 612.2,345.9 611.6,346.7 611,347 610.4,347 609.8,347.3 609.2,347.4 608.6,347.9 608,348.2 607.4,348.3 606.8,349.6 606.2,350.6 605.6,350.8 605,350.6 604.4,349.5 603.8,349.8 603.2,350.1 602.6,349.7 602,349.5 601.4,350.5 600.8,351.4 600.2,351.1 599.6,351.4 599,350.9 598.4,349.9 597.8,349.4 597.2,349.5 596.6,350 596,350.7 595.4,350.6 594.8,350.6 594.2,349.8 593.6,349.8 593,350.6 592.4,349.5 591.8,349.2 591.2,349.3 590.6,348.9 590,349.6 589.4,349 588.8,348.2 588.2,348.8 587.6,348.7 587,349.2 586.4,349.8 585.8,349.8 585.2,350.1 584.6,350.7 584,350.7 583.4,350.3 582.8,351.4 582.2,351.6" fill="#6a6a6a" fill-opacity="0.85" /><polyline points="582.2,350.3 582.8,350.1 583.4,349 584,349.4 584.6,349.4 585.2,348.8 585.8,348.5 586.4,348.5 587,347.9 587.6,347.4 588.2,347.5 588.8,346.9 589.4,347.7 590,348.3 590.6,347.6 591.2,348 591.8,347.9 592.4,348.2 593,349.3 593.6,348.5 594.2,348.5 594.8,349.3 595.4,349.3 596,349.4 596.6,348.7 597.2,348.2 597.8,348.1 598.4,348.6 599,349.6 599.6,350.1 600.2,349.8 600.8,350.1 601.4,349.2 602,348.2 602.6,348.4 603.2,348.8 603.8,348.5 604.4,348.2 605,349.3 605.6,349.5 606.2,349.3 606.8,348.3 607.4,347 608,346.9 608.6,346.6 609.2,346.1 609.8,346 610.4,345.7 611,345.7 611.6,345.4 612.2,344.6 612.8,343.3 613.4,342.6 614,341.9 614.6,340.7 615.2,339.7 615.8,339.2 616.4,339.4 617,339.3 617.6,338.5 618.2,337.9 618.8,337 619.4,336.8 620,336.5 620.6,335.3 621.2,335.5 621.8,335.5 622.4,335.3 623,335.9 623.6,335.4 624.2,334.7 624.8,334.9 625.4,335 626,335.8 626.6,335.8 627.2,335.2 627.8,333.6 628.4,333 629,333.8 629.6,333.5 630.2,333.1 630.8,332.6 631.4,332.8 632,332.9 632.6,332.6 633.2,332.3 633.8,332.2 634.4,332.5 635,332.8 635.6,332.6 636.2,332 636.8,331.6 637.4,331.5" fill="none" stroke="#2a2a2a" stroke-width="0.6" /><line x1="666.5" y1="319" x2="666.5" y2="353" stroke="#231f20" stroke-width="0.6"/><line x1="666.5" y1="353" x2="684" y2="353" stroke="#231f20" stroke-width="0.6"/><line x1="664.8" y1="322.5" x2="666.5" y2="322.5" stroke="#231f20" stroke-width="0.5"/><text x="663.6" y="324.6" font-size="6.2" stroke="#231f20" stroke-width="0.155" text-anchor="end" >0.2</text><line x1="664.8" y1="336.9" x2="666.5" y2="336.9" stroke="#231f20" stroke-width="0.5"/><text x="663.6" y="339" font-size="6.2" stroke="#231f20" stroke-width="0.155" text-anchor="end" >0.1</text><line x1="664.8" y1="350.8" x2="666.5" y2="350.8" stroke="#231f20" stroke-width="0.5"/><text x="663.6" y="352.9" font-size="6.2" stroke="#231f20" stroke-width="0.155" text-anchor="end" >0</text><rect x="668" y="343.6" width="6.3" height="7.7" fill="#8a8a8a"/><rect x="676.3" y="339.1" width="6.4" height="12.2" fill="#9b1c1c"/><line x1="671.1" y1="350.8" x2="671.1" y2="325.3" stroke="#000" stroke-width="0.7"/><circle cx="671.7" cy="349.9" r="0.5" fill="#000"/><circle cx="670.7" cy="346.1" r="0.5" fill="#000"/><circle cx="670.9" cy="348.7" r="0.5" fill="#000"/><circle cx="671.3" cy="349.4" r="0.5" fill="#000"/><circle cx="672.1" cy="344.8" r="0.5" fill="#000"/><circle cx="670" cy="349" r="0.5" fill="#000"/><circle cx="670.7" cy="347.5" r="0.5" fill="#000"/><circle cx="671.6" cy="349.5" r="0.5" fill="#000"/><circle cx="672" cy="343.2" r="0.5" fill="#000"/><circle cx="671.9" cy="345.8" r="0.5" fill="#000"/><circle cx="670.8" cy="345.1" r="0.5" fill="#000"/><circle cx="670.1" cy="349.8" r="0.5" fill="#000"/><circle cx="670" cy="344.7" r="0.5" fill="#000"/><circle cx="670.3" cy="350.5" r="0.5" fill="#000"/><circle cx="670.1" cy="339.2" r="0.5" fill="#000"/><circle cx="670" cy="332.9" r="0.5" fill="#000"/><circle cx="670.4" cy="346.2" r="0.5" fill="#000"/><circle cx="670.9" cy="342.9" r="0.5" fill="#000"/><circle cx="671.2" cy="338.7" r="0.5" fill="#000"/><circle cx="671.9" cy="334.6" r="0.5" fill="#000"/><circle cx="671" cy="333.3" r="0.5" fill="#000"/><circle cx="671.5" cy="348.7" r="0.5" fill="#000"/><circle cx="671.8" cy="347.9" r="0.5" fill="#000"/><circle cx="670.7" cy="327.2" r="0.5" fill="#000"/><circle cx="671.6" cy="329.5" r="0.5" fill="#000"/><circle cx="671.5" cy="347.7" r="0.5" fill="#000"/><circle cx="670.2" cy="343.5" r="0.5" fill="#000"/><circle cx="671.8" cy="346" r="0.5" fill="#000"/><circle cx="670.8" cy="335.5" r="0.5" fill="#000"/><circle cx="670.5" cy="343.6" r="0.5" fill="#000"/><circle cx="670.3" cy="336.5" r="0.5" fill="#000"/><circle cx="672.1" cy="348.6" r="0.5" fill="#000"/><circle cx="670.6" cy="350.1" r="0.5" fill="#000"/><circle cx="671.7" cy="345.4" r="0.5" fill="#000"/><circle cx="671.8" cy="338.5" r="0.5" fill="#000"/><circle cx="672.1" cy="333.9" r="0.5" fill="#000"/><line x1="668.5" y1="350.8" x2="673.7" y2="350.8" stroke="#000" stroke-width="1"/><line x1="679.5" y1="350.8" x2="679.5" y2="322.5" stroke="#000" stroke-width="0.7"/><circle cx="680" cy="342.1" r="0.5" fill="#000"/><circle cx="678.8" cy="348.8" r="0.5" fill="#000"/><circle cx="680.5" cy="342.2" r="0.5" fill="#000"/><circle cx="679.5" cy="345.4" r="0.5" fill="#000"/><circle cx="680.4" cy="343.7" r="0.5" fill="#000"/><circle cx="678.7" cy="347.3" r="0.5" fill="#000"/><circle cx="680.1" cy="348.9" r="0.5" fill="#000"/><circle cx="679.3" cy="350.8" r="0.5" fill="#000"/><circle cx="679.2" cy="346.3" r="0.5" fill="#000"/><circle cx="680" cy="350.3" r="0.5" fill="#000"/><circle cx="679.6" cy="346.7" r="0.5" fill="#000"/><circle cx="680.4" cy="346.7" r="0.5" fill="#000"/><circle cx="678.6" cy="348.7" r="0.5" fill="#000"/><circle cx="678.4" cy="347.7" r="0.5" fill="#000"/><circle cx="678.8" cy="322.8" r="0.5" fill="#000"/><circle cx="680" cy="339.3" r="0.5" fill="#000"/><circle cx="679.4" cy="341" r="0.5" fill="#000"/><circle cx="680" cy="326.4" r="0.5" fill="#000"/><circle cx="680.5" cy="349.9" r="0.5" fill="#000"/><circle cx="679.5" cy="328.4" r="0.5" fill="#000"/><circle cx="680" cy="348.3" r="0.5" fill="#000"/><circle cx="678.7" cy="344.4" r="0.5" fill="#000"/><circle cx="680.2" cy="326.1" r="0.5" fill="#000"/><circle cx="678.8" cy="345.8" r="0.5" fill="#000"/><circle cx="680.5" cy="338.3" r="0.5" fill="#000"/><circle cx="680.4" cy="339.9" r="0.5" fill="#000"/><circle cx="680.1" cy="345.6" r="0.5" fill="#000"/><circle cx="678.9" cy="338.4" r="0.5" fill="#000"/><circle cx="680.4" cy="332.7" r="0.5" fill="#000"/><circle cx="679.9" cy="331.6" r="0.5" fill="#000"/><circle cx="679.7" cy="350.6" r="0.5" fill="#000"/><circle cx="678.7" cy="341.8" r="0.5" fill="#000"/><circle cx="680.1" cy="329.8" r="0.5" fill="#000"/><circle cx="680.3" cy="342.3" r="0.5" fill="#000"/><circle cx="679.7" cy="328.8" r="0.5" fill="#000"/><circle cx="678.9" cy="341.3" r="0.5" fill="#000"/><line x1="676.9" y1="350.8" x2="682.1" y2="350.8" stroke="#000" stroke-width="1"/><path d="M670,320.3 L670,318 L679.2,318 L679.2,320.3" fill="none" stroke="#231f20" stroke-width="0.5"/><text x="674.6" y="319.9" font-size="10.5" stroke="#231f20" stroke-width="0.2" text-anchor="middle" >*</text><line x1="581.7" y1="363" x2="581.7" y2="393.9" stroke="#231f20" stroke-width="0.6"/><line x1="579.8" y1="367.2" x2="581.7" y2="367.2" stroke="#231f20" stroke-width="0.5"/><text x="578.6" y="369.4" font-size="6.2" stroke="#231f20" stroke-width="0.155" text-anchor="end" >0.06</text><line x1="579.8" y1="380.3" x2="581.7" y2="380.3" stroke="#231f20" stroke-width="0.5"/><text x="578.6" y="382.5" font-size="6.2" stroke="#231f20" stroke-width="0.155" text-anchor="end" >0.03</text><line x1="579.8" y1="393.6" x2="581.7" y2="393.6" stroke="#231f20" stroke-width="0.5"/><text x="578.6" y="395.8" font-size="6.2" stroke="#231f20" stroke-width="0.155" text-anchor="end" >0.01</text><text x="587" y="371.4" font-size="6.2" stroke="#231f20" stroke-width="0.155"  textLength="13.3" lengthAdjust="spacingAndGlyphs">Day 3</text><line x1="604" y1="393" x2="636" y2="393" stroke="#c8c8c8" stroke-width="0.6" stroke-dasharray="2,0.8"/><line x1="626.4" y1="363" x2="626.4" y2="394.9" stroke="#25aee6" stroke-width="0.9" stroke-dasharray="0.9,0.6"/><polygon points="582.2,391.2 582.8,391.2 583.4,390.9 584,391.7 584.6,391.5 585.2,390.9 585.8,391 586.4,389.6 587,389.1 587.6,389.9 588.2,388.9 588.8,388 589.4,389.6 590,389.7 590.6,388 591.2,387.7 591.8,387.2 592.4,386.9 593,387.1 593.6,386.6 594.2,386.8 594.8,387.2 595.4,386.8 596,385.5 596.6,384.6 597.2,384.1 597.8,384.2 598.4,384.2 599,383.5 599.6,383.2 600.2,383.1 600.8,383 601.4,382.1 602,382.2 602.6,382.3 603.2,380.8 603.8,380.7 604.4,380.5 605,380.5 605.6,380.9 606.2,379.9 606.8,379.7 607.4,378.6 608,377.2 608.6,376.8 609.2,375.8 609.8,374.8 610.4,375 611,374.8 611.6,373.4 612.2,372.7 612.8,373.6 613.4,373.2 614,371.2 614.6,370.5 615.2,370.6 615.8,370.2 616.4,369.2 617,368.7 617.6,368.1 618.2,367.6 618.8,367.8 619.4,367.3 620,366.3 620.6,365.4 621.2,365.8 621.8,367.4 622.4,367 623,366.8 623.6,366.8 624.2,366.8 624.8,367.5 625.4,366.6 626,367 626.6,367.7 627.2,366.6 627.8,365.1 628.4,364.6 629,364.3 629.6,364.1 630.2,363.7 630.8,363.2 631.4,363.5 632,363.6 632.6,363.2 633.2,362.6 633.8,362.1 634.4,362 635,361.9 635.6,361.1 636.2,361 636.8,360.2 637.4,358.8 637.4,362 636.8,363.4 636.2,364.2 635.6,364.3 635,365.1 634.4,365.2 633.8,365.3 633.2,365.8 632.6,366.4 632,366.8 631.4,366.7 630.8,366.4 630.2,366.9 629.6,367.3 629,367.5 628.4,367.8 627.8,368.3 627.2,369.8 626.6,370.9 626,370.2 625.4,369.8 624.8,370.7 624.2,370 623.6,370 623,370 622.4,370.2 621.8,370.6 621.2,369 620.6,368.6 620,369.5 619.4,370.5 618.8,371 618.2,370.8 617.6,371.3 617,371.9 616.4,372.4 615.8,373.4 615.2,373.8 614.6,373.7 614,374.4 613.4,376.4 612.8,376.8 612.2,375.9 611.6,376.6 611,378 610.4,378.2 609.8,378 609.2,379 608.6,380 608,380.4 607.4,381.8 606.8,382.9 606.2,383.1 605.6,384.1 605,383.7 604.4,383.7 603.8,383.9 603.2,384 602.6,385.5 602,385.4 601.4,385.3 600.8,386.2 600.2,386.3 599.6,386.4 599,386.7 598.4,387.4 597.8,387.4 597.2,387.3 596.6,387.8 596,388.7 595.4,390 594.8,390.4 594.2,390 593.6,389.8 593,390.3 592.4,390.1 591.8,390.4 591.2,390.9 590.6,391.2 590,392.9 589.4,392.8 588.8,391.2 588.2,392.1 587.6,393.1 587,392.3 586.4,392.8 585.8,394.2 585.2,394.1 584.6,394.7 584,394.9 583.4,394.1 582.8,394.4 582.2,394.4" fill="#cc4a46" fill-opacity="0.9" /><polyline points="582.2,392.8 582.8,392.8 583.4,392.5 584,393.3 584.6,393.1 585.2,392.5 585.8,392.6 586.4,391.2 587,390.7 587.6,391.5 588.2,390.5 588.8,389.6 589.4,391.2 590,391.3 590.6,389.6 591.2,389.3 591.8,388.8 592.4,388.5 593,388.7 593.6,388.2 594.2,388.4 594.8,388.8 595.4,388.4 596,387.1 596.6,386.2 597.2,385.7 597.8,385.8 598.4,385.8 599,385.1 599.6,384.8 600.2,384.7 600.8,384.6 601.4,383.7 602,383.8 602.6,383.9 603.2,382.4 603.8,382.3 604.4,382.1 605,382.1 605.6,382.5 606.2,381.5 606.8,381.3 607.4,380.2 608,378.8 608.6,378.4 609.2,377.4 609.8,376.4 610.4,376.6 611,376.4 611.6,375 612.2,374.3 612.8,375.2 613.4,374.8 614,372.8 614.6,372.1 615.2,372.2 615.8,371.8 616.4,370.8 617,370.3 617.6,369.7 618.2,369.2 618.8,369.4 619.4,368.9 620,367.9 620.6,367 621.2,367.4 621.8,369 622.4,368.6 623,368.4 623.6,368.4 624.2,368.4 624.8,369.1 625.4,368.2 626,368.6 626.6,369.3 627.2,368.2 627.8,366.7 628.4,366.2 629,365.9 629.6,365.7 630.2,365.3 630.8,364.8 631.4,365.1 632,365.2 632.6,364.8 633.2,364.2 633.8,363.7 634.4,363.6 635,363.5 635.6,362.7 636.2,362.6 636.8,361.8 637.4,360.4" fill="none" stroke="#a02020" stroke-width="0.6" /><polygon points="582.2,390.9 582.8,391.3 583.4,391.1 584,390.8 584.6,390.5 585.2,390.5 585.8,389.6 586.4,389.9 587,390.8 587.6,390.4 588.2,390.1 588.8,390.1 589.4,390.2 590,390.6 590.6,390.2 591.2,390 591.8,390.2 592.4,389.8 593,390 593.6,389.4 594.2,388.7 594.8,389.3 595.4,389.4 596,389 596.6,390.2 597.2,390.9 597.8,390.5 598.4,389.5 599,389.3 599.6,390 600.2,389.8 600.8,390.3 601.4,390.7 602,390.3 602.6,390.2 603.2,389.6 603.8,389.4 604.4,389.5 605,390.4 605.6,390.6 606.2,390.2 606.8,390.2 607.4,390.1 608,390.4 608.6,390.5 609.2,389.8 609.8,389.4 610.4,389.7 611,388.9 611.6,388.7 612.2,389.1 612.8,388.7 613.4,388.7 614,388.4 614.6,388.4 615.2,386.9 615.8,386.5 616.4,387.5 617,387.3 617.6,386.9 618.2,387.5 618.8,387.7 619.4,387.5 620,388.2 620.6,387.9 621.2,387.5 621.8,388.4 622.4,388.4 623,388 623.6,387.4 624.2,388.1 624.8,388.9 625.4,388 626,388.5 626.6,388.9 627.2,388.7 627.8,388.7 628.4,389 629,389.6 629.6,389.2 630.2,389 630.8,389.8 631.4,389.9 632,389.2 632.6,389.7 633.2,389.7 633.8,389.2 634.4,389.1 635,388.7 635.6,389 636.2,389.6 636.8,390.2 637.4,389.9 637.4,392.5 636.8,392.8 636.2,392.2 635.6,391.6 635,391.3 634.4,391.7 633.8,391.8 633.2,392.3 632.6,392.3 632,391.8 631.4,392.5 630.8,392.4 630.2,391.6 629.6,391.8 629,392.2 628.4,391.6 627.8,391.3 627.2,391.3 626.6,391.5 626,391.1 625.4,390.6 624.8,391.5 624.2,390.7 623.6,390 623,390.6 622.4,391 621.8,391 621.2,390.1 620.6,390.5 620,390.8 619.4,390.1 618.8,390.3 618.2,390.1 617.6,389.5 617,389.9 616.4,390.1 615.8,389.1 615.2,389.5 614.6,391 614,391 613.4,391.3 612.8,391.3 612.2,391.7 611.6,391.3 611,391.5 610.4,392.3 609.8,392 609.2,392.4 608.6,393.1 608,393 607.4,392.7 606.8,392.8 606.2,392.8 605.6,393.2 605,393 604.4,392.1 603.8,392 603.2,392.2 602.6,392.8 602,392.9 601.4,393.3 600.8,392.9 600.2,392.4 599.6,392.6 599,391.9 598.4,392.1 597.8,393.1 597.2,393.5 596.6,392.8 596,391.6 595.4,392 594.8,391.9 594.2,391.3 593.6,392 593,392.6 592.4,392.4 591.8,392.8 591.2,392.6 590.6,392.8 590,393.2 589.4,392.8 588.8,392.7 588.2,392.7 587.6,393 587,393.4 586.4,392.5 585.8,392.2 585.2,393.1 584.6,393.1 584,393.4 583.4,393.7 582.8,393.9 582.2,393.5" fill="#6a6a6a" fill-opacity="0.85" /><polyline points="582.2,392.2 582.8,392.6 583.4,392.4 584,392.1 584.6,391.8 585.2,391.8 585.8,390.9 586.4,391.2 587,392.1 587.6,391.7 588.2,391.4 588.8,391.4 589.4,391.5 590,391.9 590.6,391.5 591.2,391.3 591.8,391.5 592.4,391.1 593,391.3 593.6,390.7 594.2,390 594.8,390.6 595.4,390.7 596,390.3 596.6,391.5 597.2,392.2 597.8,391.8 598.4,390.8 599,390.6 599.6,391.3 600.2,391.1 600.8,391.6 601.4,392 602,391.6 602.6,391.5 603.2,390.9 603.8,390.7 604.4,390.8 605,391.7 605.6,391.9 606.2,391.5 606.8,391.5 607.4,391.4 608,391.7 608.6,391.8 609.2,391.1 609.8,390.7 610.4,391 611,390.2 611.6,390 612.2,390.4 612.8,390 613.4,390 614,389.7 614.6,389.7 615.2,388.2 615.8,387.8 616.4,388.8 617,388.6 617.6,388.2 618.2,388.8 618.8,389 619.4,388.8 620,389.5 620.6,389.2 621.2,388.8 621.8,389.7 622.4,389.7 623,389.3 623.6,388.7 624.2,389.4 624.8,390.2 625.4,389.3 626,389.8 626.6,390.2 627.2,390 627.8,390 628.4,390.3 629,390.9 629.6,390.5 630.2,390.3 630.8,391.1 631.4,391.2 632,390.5 632.6,391 633.2,391 633.8,390.5 634.4,390.4 635,390 635.6,390.3 636.2,390.9 636.8,391.5 637.4,391.2" fill="none" stroke="#2a2a2a" stroke-width="0.6" /><line x1="666.5" y1="364.1" x2="666.5" y2="397.2" stroke="#231f20" stroke-width="0.6"/><line x1="666.5" y1="397.2" x2="684" y2="397.2" stroke="#231f20" stroke-width="0.6"/><line x1="664.8" y1="367.6" x2="666.5" y2="367.6" stroke="#231f20" stroke-width="0.5"/><text x="663.6" y="369.7" font-size="6.2" stroke="#231f20" stroke-width="0.155" text-anchor="end" >0.2</text><line x1="664.8" y1="381.3" x2="666.5" y2="381.3" stroke="#231f20" stroke-width="0.5"/><text x="663.6" y="383.4" font-size="6.2" stroke="#231f20" stroke-width="0.155" text-anchor="end" >0.1</text><line x1="664.8" y1="395.1" x2="666.5" y2="395.1" stroke="#231f20" stroke-width="0.5"/><text x="663.6" y="397.2" font-size="6.2" stroke="#231f20" stroke-width="0.155" text-anchor="end" >0</text><rect x="668" y="394.6" width="6.3" height="1" fill="#8a8a8a"/><rect x="676.3" y="377.7" width="6.4" height="17.9" fill="#9b1c1c"/><line x1="671.1" y1="395.1" x2="671.1" y2="370.4" stroke="#000" stroke-width="0.7"/><circle cx="670.5" cy="393.7" r="0.5" fill="#000"/><circle cx="670.8" cy="392.3" r="0.5" fill="#000"/><circle cx="671.6" cy="392.9" r="0.5" fill="#000"/><circle cx="670.6" cy="392.6" r="0.5" fill="#000"/><circle cx="671.9" cy="392.9" r="0.5" fill="#000"/><circle cx="670.6" cy="389.1" r="0.5" fill="#000"/><circle cx="671.8" cy="392.4" r="0.5" fill="#000"/><circle cx="672.1" cy="388.7" r="0.5" fill="#000"/><circle cx="670.4" cy="391.4" r="0.5" fill="#000"/><circle cx="671.1" cy="393.1" r="0.5" fill="#000"/><circle cx="670.3" cy="394.8" r="0.5" fill="#000"/><circle cx="670.3" cy="392" r="0.5" fill="#000"/><circle cx="670.1" cy="388.8" r="0.5" fill="#000"/><circle cx="671.6" cy="394.7" r="0.5" fill="#000"/><circle cx="670.6" cy="392.8" r="0.5" fill="#000"/><circle cx="670.8" cy="379.9" r="0.5" fill="#000"/><circle cx="670.9" cy="383.9" r="0.5" fill="#000"/><circle cx="671.2" cy="385.7" r="0.5" fill="#000"/><circle cx="670.8" cy="371.5" r="0.5" fill="#000"/><circle cx="671.9" cy="382.6" r="0.5" fill="#000"/><circle cx="671.4" cy="383.7" r="0.5" fill="#000"/><circle cx="670.4" cy="372.6" r="0.5" fill="#000"/><circle cx="670.5" cy="371.8" r="0.5" fill="#000"/><circle cx="670.9" cy="390.4" r="0.5" fill="#000"/><circle cx="671" cy="389.2" r="0.5" fill="#000"/><circle cx="671" cy="383.9" r="0.5" fill="#000"/><circle cx="671.8" cy="386.1" r="0.5" fill="#000"/><circle cx="670.8" cy="394.5" r="0.5" fill="#000"/><circle cx="671.8" cy="374.4" r="0.5" fill="#000"/><circle cx="670.1" cy="377.4" r="0.5" fill="#000"/><circle cx="670.2" cy="382.9" r="0.5" fill="#000"/><circle cx="671.9" cy="380.5" r="0.5" fill="#000"/><circle cx="671" cy="390.1" r="0.5" fill="#000"/><circle cx="670.1" cy="381.1" r="0.5" fill="#000"/><circle cx="670.3" cy="388.7" r="0.5" fill="#000"/><circle cx="670.4" cy="372.3" r="0.5" fill="#000"/><line x1="668.5" y1="395.1" x2="673.7" y2="395.1" stroke="#000" stroke-width="1"/><line x1="679.5" y1="395.1" x2="679.5" y2="367.6" stroke="#000" stroke-width="0.7"/><circle cx="679.2" cy="388.2" r="0.5" fill="#000"/><circle cx="680" cy="389.6" r="0.5" fill="#000"/><circle cx="679" cy="394.6" r="0.5" fill="#000"/><circle cx="679" cy="390.1" r="0.5" fill="#000"/><circle cx="679.1" cy="394.2" r="0.5" fill="#000"/><circle cx="678.9" cy="393.8" r="0.5" fill="#000"/><circle cx="678.5" cy="393" r="0.5" fill="#000"/><circle cx="679.2" cy="393.2" r="0.5" fill="#000"/><circle cx="678.4" cy="392.7" r="0.5" fill="#000"/><circle cx="678.7" cy="394.5" r="0.5" fill="#000"/><circle cx="680" cy="390.5" r="0.5" fill="#000"/><circle cx="679.8" cy="393.2" r="0.5" fill="#000"/><circle cx="679.2" cy="394.3" r="0.5" fill="#000"/><circle cx="678.6" cy="393.6" r="0.5" fill="#000"/><circle cx="680.3" cy="385.7" r="0.5" fill="#000"/><circle cx="679.9" cy="381.3" r="0.5" fill="#000"/><circle cx="678.4" cy="380.3" r="0.5" fill="#000"/><circle cx="678.8" cy="376.2" r="0.5" fill="#000"/><circle cx="680" cy="373.5" r="0.5" fill="#000"/><circle cx="678.8" cy="387.1" r="0.5" fill="#000"/><circle cx="678.9" cy="374.5" r="0.5" fill="#000"/><circle cx="678.6" cy="383.6" r="0.5" fill="#000"/><circle cx="679.3" cy="390.8" r="0.5" fill="#000"/><circle cx="679.9" cy="383" r="0.5" fill="#000"/><circle cx="680.2" cy="374.6" r="0.5" fill="#000"/><circle cx="679.8" cy="380.5" r="0.5" fill="#000"/><circle cx="678.7" cy="382.2" r="0.5" fill="#000"/><circle cx="680.3" cy="394.5" r="0.5" fill="#000"/><circle cx="678.9" cy="372.1" r="0.5" fill="#000"/><circle cx="680.6" cy="381" r="0.5" fill="#000"/><circle cx="680.3" cy="386.6" r="0.5" fill="#000"/><circle cx="678.5" cy="372.6" r="0.5" fill="#000"/><circle cx="679.9" cy="384.7" r="0.5" fill="#000"/><circle cx="678.4" cy="373.2" r="0.5" fill="#000"/><circle cx="679" cy="394.4" r="0.5" fill="#000"/><circle cx="679.7" cy="370.5" r="0.5" fill="#000"/><line x1="676.9" y1="395.1" x2="682.1" y2="395.1" stroke="#000" stroke-width="1"/><path d="M670,366.3 L670,364 L679.2,364 L679.2,366.3" fill="none" stroke="#231f20" stroke-width="0.5"/><text x="674.6" y="365.9" font-size="10.5" stroke="#231f20" stroke-width="0.2" text-anchor="middle" >*</text><line x1="581.7" y1="405" x2="581.7" y2="433" stroke="#231f20" stroke-width="0.6"/><line x1="579.8" y1="408" x2="581.7" y2="408" stroke="#231f20" stroke-width="0.5"/><text x="578.6" y="410.2" font-size="6.2" stroke="#231f20" stroke-width="0.155" text-anchor="end" >0.08</text><line x1="579.8" y1="423.5" x2="581.7" y2="423.5" stroke="#231f20" stroke-width="0.5"/><text x="578.6" y="425.7" font-size="6.2" stroke="#231f20" stroke-width="0.155" text-anchor="end" >0.04</text><line x1="579.8" y1="432.7" x2="581.7" y2="432.7" stroke="#231f20" stroke-width="0.5"/><text x="578.6" y="434.9" font-size="6.2" stroke="#231f20" stroke-width="0.155" text-anchor="end" >0.01</text><text x="587" y="415.6" font-size="6.2" stroke="#231f20" stroke-width="0.155"  textLength="13.3" lengthAdjust="spacingAndGlyphs">Day 4</text><line x1="604" y1="432.7" x2="636" y2="432.7" stroke="#c8c8c8" stroke-width="0.6" stroke-dasharray="2,0.8"/><line x1="626.4" y1="405" x2="626.4" y2="434" stroke="#25aee6" stroke-width="0.9" stroke-dasharray="0.9,0.6"/><polygon points="582.2,430.1 582.8,431.4 583.4,431 584,430.6 584.6,430.9 585.2,430.9 585.8,431 586.4,430.5 587,429.9 587.6,430.5 588.2,431 588.8,431.7 589.4,432.2 590,432.4 590.6,432.3 591.2,431.7 591.8,431.6 592.4,431 593,430.2 593.6,430 594.2,429.5 594.8,429.2 595.4,429.3 596,428.9 596.6,428.3 597.2,428.2 597.8,428.7 598.4,429.1 599,428.2 599.6,427.8 600.2,427.9 600.8,426.9 601.4,426.6 602,426.4 602.6,426 603.2,425.5 603.8,425.4 604.4,425 605,424.4 605.6,424.8 606.2,425.2 606.8,424.7 607.4,423.7 608,423.7 608.6,423.2 609.2,423 609.8,421.8 610.4,421 611,421 611.6,420.5 612.2,420.8 612.8,420.3 613.4,418.9 614,417.9 614.6,416.8 615.2,415.8 615.8,414.8 616.4,413.4 617,412 617.6,411.5 618.2,411.4 618.8,410.4 619.4,409.8 620,410 620.6,409.8 621.2,409.5 621.8,409.9 622.4,410.7 623,410.4 623.6,409.7 624.2,409 624.8,408.1 625.4,408.7 626,409 626.6,408.2 627.2,408.3 627.8,409 628.4,408.6 629,408.5 629.6,408 630.2,408 630.8,408 631.4,407.3 632,407.3 632.6,406.8 633.2,406.3 633.8,406.3 634.4,406.3 635,406.2 635.6,405.9 636.2,404.8 636.8,402.5 637.4,401.2 637.4,404.4 636.8,405.7 636.2,408 635.6,409.1 635,409.4 634.4,409.5 633.8,409.5 633.2,409.5 632.6,410 632,410.5 631.4,410.5 630.8,411.2 630.2,411.2 629.6,411.2 629,411.7 628.4,411.8 627.8,412.2 627.2,411.5 626.6,411.4 626,412.2 625.4,411.9 624.8,411.3 624.2,412.2 623.6,412.9 623,413.6 622.4,413.9 621.8,413.1 621.2,412.7 620.6,413 620,413.2 619.4,413 618.8,413.6 618.2,414.6 617.6,414.7 617,415.2 616.4,416.6 615.8,418 615.2,419 614.6,420 614,421.1 613.4,422.1 612.8,423.5 612.2,424 611.6,423.7 611,424.2 610.4,424.2 609.8,425 609.2,426.2 608.6,426.4 608,426.9 607.4,426.9 606.8,427.9 606.2,428.4 605.6,428 605,427.6 604.4,428.2 603.8,428.6 603.2,428.7 602.6,429.2 602,429.6 601.4,429.8 600.8,430.1 600.2,431.1 599.6,431 599,431.4 598.4,432.3 597.8,431.9 597.2,431.4 596.6,431.5 596,432.1 595.4,432.5 594.8,432.4 594.2,432.7 593.6,433.2 593,433.4 592.4,434.2 591.8,434.8 591.2,434.9 590.6,435.5 590,435.6 589.4,435.4 588.8,434.9 588.2,434.2 587.6,433.7 587,433.1 586.4,433.7 585.8,434.2 585.2,434.1 584.6,434.1 584,433.8 583.4,434.2 582.8,434.6 582.2,433.3" fill="#cc4a46" fill-opacity="0.9" /><polyline points="582.2,431.7 582.8,433 583.4,432.6 584,432.2 584.6,432.5 585.2,432.5 585.8,432.6 586.4,432.1 587,431.5 587.6,432.1 588.2,432.6 588.8,433.3 589.4,433.8 590,434 590.6,433.9 591.2,433.3 591.8,433.2 592.4,432.6 593,431.8 593.6,431.6 594.2,431.1 594.8,430.8 595.4,430.9 596,430.5 596.6,429.9 597.2,429.8 597.8,430.3 598.4,430.7 599,429.8 599.6,429.4 600.2,429.5 600.8,428.5 601.4,428.2 602,428 602.6,427.6 603.2,427.1 603.8,427 604.4,426.6 605,426 605.6,426.4 606.2,426.8 606.8,426.3 607.4,425.3 608,425.3 608.6,424.8 609.2,424.6 609.8,423.4 610.4,422.6 611,422.6 611.6,422.1 612.2,422.4 612.8,421.9 613.4,420.5 614,419.5 614.6,418.4 615.2,417.4 615.8,416.4 616.4,415 617,413.6 617.6,413.1 618.2,413 618.8,412 619.4,411.4 620,411.6 620.6,411.4 621.2,411.1 621.8,411.5 622.4,412.3 623,412 623.6,411.3 624.2,410.6 624.8,409.7 625.4,410.3 626,410.6 626.6,409.8 627.2,409.9 627.8,410.6 628.4,410.2 629,410.1 629.6,409.6 630.2,409.6 630.8,409.6 631.4,408.9 632,408.9 632.6,408.4 633.2,407.9 633.8,407.9 634.4,407.9 635,407.8 635.6,407.5 636.2,406.4 636.8,404.1 637.4,402.8" fill="none" stroke="#a02020" stroke-width="0.6" /><polygon points="582.2,430.6 582.8,430.3 583.4,430.5 584,430.5 584.6,430.8 585.2,431.2 585.8,431.5 586.4,431.1 587,431 587.6,431.7 588.2,431.2 588.8,431.2 589.4,431.8 590,432.6 590.6,432.3 591.2,432 591.8,432 592.4,431.8 593,432.7 593.6,433.1 594.2,432.9 594.8,432.5 595.4,432 596,432.1 596.6,432.3 597.2,432.4 597.8,432.6 598.4,432.5 599,431.8 599.6,431.3 600.2,431.2 600.8,431.6 601.4,431.5 602,431 602.6,431.3 603.2,431.6 603.8,430.7 604.4,430 605,429.7 605.6,429.7 606.2,430 606.8,429.8 607.4,429.2 608,428.7 608.6,428.4 609.2,428.6 609.8,428.9 610.4,428.2 611,428.2 611.6,428.5 612.2,427.9 612.8,427.4 613.4,427.5 614,427.1 614.6,426.4 615.2,425.8 615.8,425.5 616.4,424.8 617,423.2 617.6,422 618.2,421.6 618.8,420.9 619.4,419.4 620,418 620.6,417.9 621.2,418.4 621.8,417.8 622.4,416.4 623,415.7 623.6,415.8 624.2,415 624.8,413.9 625.4,415.1 626,415.9 626.6,417.6 627.2,418.2 627.8,416.7 628.4,416.2 629,415.4 629.6,413.6 630.2,413.2 630.8,414 631.4,414 632,414.9 632.6,415.1 633.2,415 633.8,415.6 634.4,415.7 635,416.3 635.6,415.7 636.2,414.8 636.8,415.3 637.4,415.2 637.4,417.8 636.8,417.9 636.2,417.4 635.6,418.3 635,418.9 634.4,418.3 633.8,418.2 633.2,417.6 632.6,417.7 632,417.5 631.4,416.6 630.8,416.6 630.2,415.8 629.6,416.2 629,418 628.4,418.8 627.8,419.3 627.2,420.8 626.6,420.2 626,418.5 625.4,417.7 624.8,416.5 624.2,417.6 623.6,418.4 623,418.3 622.4,419 621.8,420.4 621.2,421 620.6,420.5 620,420.6 619.4,422 618.8,423.5 618.2,424.2 617.6,424.6 617,425.8 616.4,427.4 615.8,428.1 615.2,428.4 614.6,429 614,429.7 613.4,430.1 612.8,430 612.2,430.5 611.6,431.1 611,430.8 610.4,430.8 609.8,431.5 609.2,431.2 608.6,431 608,431.3 607.4,431.8 606.8,432.4 606.2,432.6 605.6,432.3 605,432.3 604.4,432.6 603.8,433.3 603.2,434.2 602.6,433.9 602,433.6 601.4,434.1 600.8,434.2 600.2,433.8 599.6,433.9 599,434.4 598.4,435.1 597.8,435.2 597.2,435 596.6,434.9 596,434.7 595.4,434.6 594.8,435.1 594.2,435.5 593.6,435.7 593,435.3 592.4,434.4 591.8,434.6 591.2,434.6 590.6,434.9 590,435.2 589.4,434.4 588.8,433.8 588.2,433.8 587.6,434.3 587,433.6 586.4,433.7 585.8,434.1 585.2,433.8 584.6,433.4 584,433.1 583.4,433.1 582.8,432.9 582.2,433.2" fill="#6a6a6a" fill-opacity="0.85" /><polyline points="582.2,431.9 582.8,431.6 583.4,431.8 584,431.8 584.6,432.1 585.2,432.5 585.8,432.8 586.4,432.4 587,432.3 587.6,433 588.2,432.5 588.8,432.5 589.4,433.1 590,433.9 590.6,433.6 591.2,433.3 591.8,433.3 592.4,433.1 593,434 593.6,434.4 594.2,434.2 594.8,433.8 595.4,433.3 596,433.4 596.6,433.6 597.2,433.7 597.8,433.9 598.4,433.8 599,433.1 599.6,432.6 600.2,432.5 600.8,432.9 601.4,432.8 602,432.3 602.6,432.6 603.2,432.9 603.8,432 604.4,431.3 605,431 605.6,431 606.2,431.3 606.8,431.1 607.4,430.5 608,430 608.6,429.7 609.2,429.9 609.8,430.2 610.4,429.5 611,429.5 611.6,429.8 612.2,429.2 612.8,428.7 613.4,428.8 614,428.4 614.6,427.7 615.2,427.1 615.8,426.8 616.4,426.1 617,424.5 617.6,423.3 618.2,422.9 618.8,422.2 619.4,420.7 620,419.3 620.6,419.2 621.2,419.7 621.8,419.1 622.4,417.7 623,417 623.6,417.1 624.2,416.3 624.8,415.2 625.4,416.4 626,417.2 626.6,418.9 627.2,419.5 627.8,418 628.4,417.5 629,416.7 629.6,414.9 630.2,414.5 630.8,415.3 631.4,415.3 632,416.2 632.6,416.4 633.2,416.3 633.8,416.9 634.4,417 635,417.6 635.6,417 636.2,416.1 636.8,416.6 637.4,416.5" fill="none" stroke="#2a2a2a" stroke-width="0.6" /><line x1="666.5" y1="415.8" x2="666.5" y2="443.3" stroke="#231f20" stroke-width="0.6"/><line x1="666.5" y1="443.3" x2="684" y2="443.3" stroke="#231f20" stroke-width="0.6"/><line x1="664.8" y1="419.3" x2="666.5" y2="419.3" stroke="#231f20" stroke-width="0.5"/><text x="663.6" y="421.4" font-size="6.2" stroke="#231f20" stroke-width="0.155" text-anchor="end" >0.2</text><line x1="664.8" y1="429.5" x2="666.5" y2="429.5" stroke="#231f20" stroke-width="0.5"/><text x="663.6" y="431.6" font-size="6.2" stroke="#231f20" stroke-width="0.155" text-anchor="end" >0.1</text><line x1="664.8" y1="440.5" x2="666.5" y2="440.5" stroke="#231f20" stroke-width="0.5"/><text x="663.6" y="442.6" font-size="6.2" stroke="#231f20" stroke-width="0.155" text-anchor="end" >0</text><rect x="668" y="433.9" width="6.3" height="7.1" fill="#8a8a8a"/><rect x="676.3" y="427.3" width="6.4" height="13.7" fill="#9b1c1c"/><line x1="671.1" y1="440.5" x2="671.1" y2="421.4" stroke="#000" stroke-width="0.7"/><circle cx="670.6" cy="440.2" r="0.5" fill="#000"/><circle cx="671.4" cy="440.1" r="0.5" fill="#000"/><circle cx="671.2" cy="438" r="0.5" fill="#000"/><circle cx="671.2" cy="439.7" r="0.5" fill="#000"/><circle cx="672.2" cy="437.8" r="0.5" fill="#000"/><circle cx="671.7" cy="440.3" r="0.5" fill="#000"/><circle cx="672.1" cy="437.8" r="0.5" fill="#000"/><circle cx="670.8" cy="439.2" r="0.5" fill="#000"/><circle cx="670.4" cy="438.2" r="0.5" fill="#000"/><circle cx="670.6" cy="437.4" r="0.5" fill="#000"/><circle cx="672" cy="438" r="0.5" fill="#000"/><circle cx="671.7" cy="439.5" r="0.5" fill="#000"/><circle cx="671.9" cy="434.7" r="0.5" fill="#000"/><circle cx="670.4" cy="440.3" r="0.5" fill="#000"/><circle cx="671" cy="435.3" r="0.5" fill="#000"/><circle cx="671.5" cy="439.7" r="0.5" fill="#000"/><circle cx="672" cy="423.8" r="0.5" fill="#000"/><circle cx="670.3" cy="432.6" r="0.5" fill="#000"/><circle cx="670.1" cy="428.3" r="0.5" fill="#000"/><circle cx="671.3" cy="429.2" r="0.5" fill="#000"/><circle cx="671.4" cy="424.5" r="0.5" fill="#000"/><circle cx="670.7" cy="439.9" r="0.5" fill="#000"/><circle cx="670.7" cy="437.6" r="0.5" fill="#000"/><circle cx="670.2" cy="437.7" r="0.5" fill="#000"/><circle cx="671.9" cy="430.9" r="0.5" fill="#000"/><circle cx="671.3" cy="430.3" r="0.5" fill="#000"/><circle cx="672" cy="430.4" r="0.5" fill="#000"/><circle cx="671.5" cy="425.8" r="0.5" fill="#000"/><circle cx="670.6" cy="424.4" r="0.5" fill="#000"/><circle cx="670.3" cy="430" r="0.5" fill="#000"/><circle cx="671.3" cy="424.3" r="0.5" fill="#000"/><circle cx="671.6" cy="423.9" r="0.5" fill="#000"/><circle cx="670.8" cy="439.8" r="0.5" fill="#000"/><circle cx="671.5" cy="427.4" r="0.5" fill="#000"/><circle cx="671.4" cy="425.7" r="0.5" fill="#000"/><circle cx="670.1" cy="424.2" r="0.5" fill="#000"/><line x1="668.5" y1="440.5" x2="673.7" y2="440.5" stroke="#000" stroke-width="1"/><line x1="679.5" y1="440.5" x2="679.5" y2="419.3" stroke="#000" stroke-width="0.7"/><circle cx="678.6" cy="435.1" r="0.5" fill="#000"/><circle cx="678.5" cy="436.1" r="0.5" fill="#000"/><circle cx="678.7" cy="439" r="0.5" fill="#000"/><circle cx="678.7" cy="438.8" r="0.5" fill="#000"/><circle cx="680.3" cy="432" r="0.5" fill="#000"/><circle cx="679.5" cy="439.6" r="0.5" fill="#000"/><circle cx="679.1" cy="438.2" r="0.5" fill="#000"/><circle cx="679" cy="436.8" r="0.5" fill="#000"/><circle cx="678.5" cy="436.5" r="0.5" fill="#000"/><circle cx="679.7" cy="437.2" r="0.5" fill="#000"/><circle cx="680.1" cy="437" r="0.5" fill="#000"/><circle cx="680.6" cy="439.7" r="0.5" fill="#000"/><circle cx="679.5" cy="439.7" r="0.5" fill="#000"/><circle cx="678.6" cy="437.2" r="0.5" fill="#000"/><circle cx="679.3" cy="438.6" r="0.5" fill="#000"/><circle cx="680.6" cy="433.2" r="0.5" fill="#000"/><circle cx="678.9" cy="437.6" r="0.5" fill="#000"/><circle cx="678.8" cy="433.5" r="0.5" fill="#000"/><circle cx="680.4" cy="437.7" r="0.5" fill="#000"/><circle cx="680.4" cy="430.8" r="0.5" fill="#000"/><circle cx="679.2" cy="426.2" r="0.5" fill="#000"/><circle cx="680.5" cy="425.5" r="0.5" fill="#000"/><circle cx="680" cy="420.8" r="0.5" fill="#000"/><circle cx="679.7" cy="424.1" r="0.5" fill="#000"/><circle cx="679.9" cy="435.8" r="0.5" fill="#000"/><circle cx="678.5" cy="427.1" r="0.5" fill="#000"/><circle cx="680.4" cy="422.6" r="0.5" fill="#000"/><circle cx="679.1" cy="433" r="0.5" fill="#000"/><circle cx="679.4" cy="429.3" r="0.5" fill="#000"/><circle cx="679.6" cy="438.8" r="0.5" fill="#000"/><circle cx="679" cy="427.4" r="0.5" fill="#000"/><circle cx="678.8" cy="437.3" r="0.5" fill="#000"/><circle cx="680.3" cy="422.9" r="0.5" fill="#000"/><circle cx="680" cy="429" r="0.5" fill="#000"/><circle cx="680.4" cy="433.8" r="0.5" fill="#000"/><circle cx="679" cy="432.7" r="0.5" fill="#000"/><line x1="676.9" y1="440.5" x2="682.1" y2="440.5" stroke="#000" stroke-width="1"/><path d="M670,412.1 L670,409.8 L679.2,409.8 L679.2,412.1" fill="none" stroke="#231f20" stroke-width="0.5"/><text x="674.6" y="411.7" font-size="10.5" stroke="#231f20" stroke-width="0.2" text-anchor="middle" >*</text><line x1="581.7" y1="445" x2="581.7" y2="483" stroke="#bbbbbb" stroke-width="0.9"/><line x1="579.8" y1="445.7" x2="581.7" y2="445.7" stroke="#231f20" stroke-width="0.5"/><text x="578.6" y="447.9" font-size="6.2" stroke="#231f20" stroke-width="0.155" text-anchor="end" >0.08</text><line x1="579.8" y1="463" x2="581.7" y2="463" stroke="#231f20" stroke-width="0.5"/><text x="578.6" y="465.2" font-size="6.2" stroke="#231f20" stroke-width="0.155" text-anchor="end" >0.04</text><line x1="579.8" y1="476.5" x2="581.7" y2="476.5" stroke="#231f20" stroke-width="0.5"/><text x="578.6" y="478.7" font-size="6.2" stroke="#231f20" stroke-width="0.155" text-anchor="end" >0.01</text><text x="587" y="455.5" font-size="6.2" stroke="#231f20" stroke-width="0.155"  textLength="13.3" lengthAdjust="spacingAndGlyphs">Day 5</text><line x1="604" y1="476" x2="636" y2="476" stroke="#c8c8c8" stroke-width="0.6" stroke-dasharray="2,0.8"/><line x1="626.4" y1="445" x2="626.4" y2="484" stroke="#25aee6" stroke-width="0.9" stroke-dasharray="0.9,0.6"/><polygon points="582.2,477.2 582.8,476.9 583.4,477.7 584,478.3 584.6,477.9 585.2,477.2 585.8,477.4 586.4,478.1 587,478.3 587.6,478.7 588.2,478.3 588.8,477.7 589.4,477.6 590,477.4 590.6,477.1 591.2,477 591.8,477.1 592.4,476.7 593,476.4 593.6,477.2 594.2,477 594.8,476.1 595.4,476.3 596,476 596.6,475.5 597.2,475.2 597.8,475.2 598.4,475.3 599,474.4 599.6,474.8 600.2,475.7 600.8,475.4 601.4,475.8 602,475.2 602.6,473.8 603.2,474.4 603.8,475.3 604.4,475.1 605,474.5 605.6,474.1 606.2,474.9 606.8,475 607.4,474.4 608,474.7 608.6,473.6 609.2,473.5 609.8,473.5 610.4,473.1 611,473.2 611.6,472.7 612.2,472.5 612.8,471.9 613.4,470.1 614,468.6 614.6,468 615.2,467 615.8,464.8 616.4,463.3 617,461.5 617.6,458.6 618.2,457.6 618.8,456.1 619.4,454.9 620,453 620.6,450.7 621.2,450.4 621.8,449.2 622.4,448.7 623,448.2 623.6,447.3 624.2,447.6 624.8,447.5 625.4,447.8 626,448 626.6,447.4 627.2,446.6 627.8,446.7 628.4,446.2 629,446.4 629.6,446.7 630.2,446.9 630.8,446.9 631.4,445.6 632,444.7 632.6,445.4 633.2,444.5 633.8,443.8 634.4,445.8 635,445.9 635.6,445.3 636.2,445.3 636.8,445.2 637.4,444.8 637.4,448 636.8,448.4 636.2,448.5 635.6,448.5 635,449.1 634.4,449 633.8,447 633.2,447.7 632.6,448.6 632,447.9 631.4,448.8 630.8,450.1 630.2,450.1 629.6,449.9 629,449.6 628.4,449.4 627.8,449.9 627.2,449.8 626.6,450.6 626,451.2 625.4,451 624.8,450.7 624.2,450.8 623.6,450.5 623,451.4 622.4,451.9 621.8,452.4 621.2,453.6 620.6,453.9 620,456.2 619.4,458.1 618.8,459.3 618.2,460.8 617.6,461.8 617,464.7 616.4,466.5 615.8,468 615.2,470.2 614.6,471.2 614,471.8 613.4,473.3 612.8,475.1 612.2,475.7 611.6,475.9 611,476.4 610.4,476.3 609.8,476.7 609.2,476.7 608.6,476.8 608,477.9 607.4,477.6 606.8,478.2 606.2,478.1 605.6,477.3 605,477.7 604.4,478.3 603.8,478.5 603.2,477.6 602.6,477 602,478.4 601.4,479 600.8,478.6 600.2,478.9 599.6,478 599,477.6 598.4,478.5 597.8,478.4 597.2,478.4 596.6,478.7 596,479.2 595.4,479.5 594.8,479.3 594.2,480.2 593.6,480.4 593,479.6 592.4,479.9 591.8,480.3 591.2,480.2 590.6,480.3 590,480.6 589.4,480.8 588.8,480.9 588.2,481.5 587.6,481.9 587,481.5 586.4,481.3 585.8,480.6 585.2,480.4 584.6,481.1 584,481.5 583.4,480.9 582.8,480.1 582.2,480.4" fill="#cc4a46" fill-opacity="0.9" /><polyline points="582.2,478.8 582.8,478.5 583.4,479.3 584,479.9 584.6,479.5 585.2,478.8 585.8,479 586.4,479.7 587,479.9 587.6,480.3 588.2,479.9 588.8,479.3 589.4,479.2 590,479 590.6,478.7 591.2,478.6 591.8,478.7 592.4,478.3 593,478 593.6,478.8 594.2,478.6 594.8,477.7 595.4,477.9 596,477.6 596.6,477.1 597.2,476.8 597.8,476.8 598.4,476.9 599,476 599.6,476.4 600.2,477.3 600.8,477 601.4,477.4 602,476.8 602.6,475.4 603.2,476 603.8,476.9 604.4,476.7 605,476.1 605.6,475.7 606.2,476.5 606.8,476.6 607.4,476 608,476.3 608.6,475.2 609.2,475.1 609.8,475.1 610.4,474.7 611,474.8 611.6,474.3 612.2,474.1 612.8,473.5 613.4,471.7 614,470.2 614.6,469.6 615.2,468.6 615.8,466.4 616.4,464.9 617,463.1 617.6,460.2 618.2,459.2 618.8,457.7 619.4,456.5 620,454.6 620.6,452.3 621.2,452 621.8,450.8 622.4,450.3 623,449.8 623.6,448.9 624.2,449.2 624.8,449.1 625.4,449.4 626,449.6 626.6,449 627.2,448.2 627.8,448.3 628.4,447.8 629,448 629.6,448.3 630.2,448.5 630.8,448.5 631.4,447.2 632,446.3 632.6,447 633.2,446.1 633.8,445.4 634.4,447.4 635,447.5 635.6,446.9 636.2,446.9 636.8,446.8 637.4,446.4" fill="none" stroke="#a02020" stroke-width="0.6" /><polygon points="582.2,473.7 582.8,474.1 583.4,474.1 584,473.1 584.6,473.6 585.2,474.5 585.8,474.4 586.4,474.9 587,474.8 587.6,474.9 588.2,474.9 588.8,475.3 589.4,475 590,474.3 590.6,474.6 591.2,474.1 591.8,473.9 592.4,474.3 593,474 593.6,474 594.2,474.9 594.8,474.5 595.4,473.9 596,473.8 596.6,473.9 597.2,474.4 597.8,474.2 598.4,474 599,474.4 599.6,474.8 600.2,474.3 600.8,474 601.4,474.2 602,473.7 602.6,474 603.2,474.7 603.8,474.9 604.4,474.4 605,474.7 605.6,475.3 606.2,474.7 606.8,474.2 607.4,474.8 608,474.8 608.6,474.9 609.2,475.6 609.8,475.2 610.4,474.5 611,474.5 611.6,474.8 612.2,475 612.8,474 613.4,473.1 614,473.1 614.6,473.4 615.2,473.1 615.8,473.4 616.4,473.7 617,473.6 617.6,473.8 618.2,473 618.8,473.3 619.4,474.1 620,473.2 620.6,472.1 621.2,471.8 621.8,472.2 622.4,472.2 623,472 623.6,472.7 624.2,472.4 624.8,471.5 625.4,471.6 626,471.7 626.6,471.1 627.2,470.2 627.8,470.3 628.4,470.7 629,470.5 629.6,470.5 630.2,470.8 630.8,470.3 631.4,470.2 632,470.1 632.6,469.6 633.2,469.8 633.8,470 634.4,470.2 635,470 635.6,469.4 636.2,469.2 636.8,469.2 637.4,468.7 637.4,471.3 636.8,471.8 636.2,471.8 635.6,472 635,472.6 634.4,472.8 633.8,472.6 633.2,472.4 632.6,472.2 632,472.7 631.4,472.8 630.8,472.9 630.2,473.4 629.6,473.1 629,473.1 628.4,473.3 627.8,472.9 627.2,472.8 626.6,473.7 626,474.3 625.4,474.2 624.8,474.1 624.2,475 623.6,475.3 623,474.6 622.4,474.8 621.8,474.8 621.2,474.4 620.6,474.7 620,475.8 619.4,476.7 618.8,475.9 618.2,475.6 617.6,476.4 617,476.2 616.4,476.3 615.8,476 615.2,475.7 614.6,476 614,475.7 613.4,475.7 612.8,476.6 612.2,477.6 611.6,477.4 611,477.1 610.4,477.1 609.8,477.8 609.2,478.2 608.6,477.5 608,477.4 607.4,477.4 606.8,476.8 606.2,477.3 605.6,477.9 605,477.3 604.4,477 603.8,477.5 603.2,477.3 602.6,476.6 602,476.3 601.4,476.8 600.8,476.6 600.2,476.9 599.6,477.4 599,477 598.4,476.6 597.8,476.8 597.2,477 596.6,476.5 596,476.4 595.4,476.5 594.8,477.1 594.2,477.5 593.6,476.6 593,476.6 592.4,476.9 591.8,476.5 591.2,476.7 590.6,477.2 590,476.9 589.4,477.6 588.8,477.9 588.2,477.5 587.6,477.5 587,477.4 586.4,477.5 585.8,477 585.2,477.1 584.6,476.2 584,475.7 583.4,476.7 582.8,476.7 582.2,476.3" fill="#6a6a6a" fill-opacity="0.85" /><polyline points="582.2,475 582.8,475.4 583.4,475.4 584,474.4 584.6,474.9 585.2,475.8 585.8,475.7 586.4,476.2 587,476.1 587.6,476.2 588.2,476.2 588.8,476.6 589.4,476.3 590,475.6 590.6,475.9 591.2,475.4 591.8,475.2 592.4,475.6 593,475.3 593.6,475.3 594.2,476.2 594.8,475.8 595.4,475.2 596,475.1 596.6,475.2 597.2,475.7 597.8,475.5 598.4,475.3 599,475.7 599.6,476.1 600.2,475.6 600.8,475.3 601.4,475.5 602,475 602.6,475.3 603.2,476 603.8,476.2 604.4,475.7 605,476 605.6,476.6 606.2,476 606.8,475.5 607.4,476.1 608,476.1 608.6,476.2 609.2,476.9 609.8,476.5 610.4,475.8 611,475.8 611.6,476.1 612.2,476.3 612.8,475.3 613.4,474.4 614,474.4 614.6,474.7 615.2,474.4 615.8,474.7 616.4,475 617,474.9 617.6,475.1 618.2,474.3 618.8,474.6 619.4,475.4 620,474.5 620.6,473.4 621.2,473.1 621.8,473.5 622.4,473.5 623,473.3 623.6,474 624.2,473.7 624.8,472.8 625.4,472.9 626,473 626.6,472.4 627.2,471.5 627.8,471.6 628.4,472 629,471.8 629.6,471.8 630.2,472.1 630.8,471.6 631.4,471.5 632,471.4 632.6,470.9 633.2,471.1 633.8,471.3 634.4,471.5 635,471.3 635.6,470.7 636.2,470.5 636.8,470.5 637.4,470" fill="none" stroke="#2a2a2a" stroke-width="0.6" /><line x1="666.5" y1="458.2" x2="666.5" y2="490.1" stroke="#231f20" stroke-width="0.6"/><line x1="666.5" y1="490.1" x2="684" y2="490.1" stroke="#231f20" stroke-width="0.6"/><line x1="664.8" y1="461.7" x2="666.5" y2="461.7" stroke="#231f20" stroke-width="0.5"/><text x="663.6" y="463.8" font-size="6.2" stroke="#231f20" stroke-width="0.155" text-anchor="end" >0.2</text><line x1="664.8" y1="474.8" x2="666.5" y2="474.8" stroke="#231f20" stroke-width="0.5"/><text x="663.6" y="476.9" font-size="6.2" stroke="#231f20" stroke-width="0.155" text-anchor="end" >0.1</text><line x1="664.8" y1="488.6" x2="666.5" y2="488.6" stroke="#231f20" stroke-width="0.5"/><text x="663.6" y="490.7" font-size="6.2" stroke="#231f20" stroke-width="0.155" text-anchor="end" >0</text><rect x="668" y="488" width="6.3" height="1.1" fill="#8a8a8a"/><rect x="676.3" y="474" width="6.4" height="15.1" fill="#9b1c1c"/><line x1="671.1" y1="488.6" x2="671.1" y2="464.4" stroke="#000" stroke-width="0.7"/><circle cx="671.8" cy="488.4" r="0.5" fill="#000"/><circle cx="670.9" cy="488.3" r="0.5" fill="#000"/><circle cx="670" cy="483.8" r="0.5" fill="#000"/><circle cx="671.8" cy="484.5" r="0.5" fill="#000"/><circle cx="670.1" cy="488" r="0.5" fill="#000"/><circle cx="670" cy="485.2" r="0.5" fill="#000"/><circle cx="671.3" cy="484" r="0.5" fill="#000"/><circle cx="672.2" cy="487.9" r="0.5" fill="#000"/><circle cx="672" cy="488.5" r="0.5" fill="#000"/><circle cx="671.5" cy="481.7" r="0.5" fill="#000"/><circle cx="670.3" cy="475.9" r="0.5" fill="#000"/><circle cx="672.2" cy="482" r="0.5" fill="#000"/><circle cx="671.9" cy="486.5" r="0.5" fill="#000"/><circle cx="671.7" cy="487.3" r="0.5" fill="#000"/><circle cx="671.7" cy="486.2" r="0.5" fill="#000"/><circle cx="671.1" cy="479.1" r="0.5" fill="#000"/><circle cx="671.8" cy="479.1" r="0.5" fill="#000"/><circle cx="671.1" cy="465.1" r="0.5" fill="#000"/><circle cx="670.1" cy="480.9" r="0.5" fill="#000"/><circle cx="670.4" cy="482" r="0.5" fill="#000"/><circle cx="671.2" cy="485.4" r="0.5" fill="#000"/><circle cx="671.4" cy="486.6" r="0.5" fill="#000"/><circle cx="670.8" cy="468.6" r="0.5" fill="#000"/><circle cx="670.7" cy="483.2" r="0.5" fill="#000"/><circle cx="671.7" cy="482.5" r="0.5" fill="#000"/><circle cx="671.8" cy="488.3" r="0.5" fill="#000"/><circle cx="671.2" cy="470.7" r="0.5" fill="#000"/><circle cx="670.5" cy="487.5" r="0.5" fill="#000"/><circle cx="671.3" cy="478" r="0.5" fill="#000"/><circle cx="671.8" cy="472.5" r="0.5" fill="#000"/><circle cx="671.8" cy="479.3" r="0.5" fill="#000"/><circle cx="671.4" cy="477" r="0.5" fill="#000"/><circle cx="671.8" cy="478.8" r="0.5" fill="#000"/><circle cx="670.5" cy="465.7" r="0.5" fill="#000"/><circle cx="671.6" cy="470.6" r="0.5" fill="#000"/><circle cx="670.2" cy="474.9" r="0.5" fill="#000"/><line x1="668.5" y1="488.6" x2="673.7" y2="488.6" stroke="#000" stroke-width="1"/><line x1="679.5" y1="488.6" x2="679.5" y2="461.7" stroke="#000" stroke-width="0.7"/><circle cx="680.6" cy="482.7" r="0.5" fill="#000"/><circle cx="679.1" cy="486.9" r="0.5" fill="#000"/><circle cx="680.5" cy="479.1" r="0.5" fill="#000"/><circle cx="679.8" cy="486.1" r="0.5" fill="#000"/><circle cx="679.8" cy="488.3" r="0.5" fill="#000"/><circle cx="680.4" cy="484.6" r="0.5" fill="#000"/><circle cx="680.1" cy="487.9" r="0.5" fill="#000"/><circle cx="679.7" cy="481.6" r="0.5" fill="#000"/><circle cx="679.7" cy="485.5" r="0.5" fill="#000"/><circle cx="679.5" cy="480.4" r="0.5" fill="#000"/><circle cx="680.1" cy="487" r="0.5" fill="#000"/><circle cx="680.5" cy="488.1" r="0.5" fill="#000"/><circle cx="680" cy="487.2" r="0.5" fill="#000"/><circle cx="679.1" cy="486.3" r="0.5" fill="#000"/><circle cx="678.6" cy="478.6" r="0.5" fill="#000"/><circle cx="680.1" cy="464.5" r="0.5" fill="#000"/><circle cx="679.5" cy="484.4" r="0.5" fill="#000"/><circle cx="679.7" cy="486.5" r="0.5" fill="#000"/><circle cx="680" cy="486.8" r="0.5" fill="#000"/><circle cx="680.5" cy="484.3" r="0.5" fill="#000"/><circle cx="679.1" cy="470.6" r="0.5" fill="#000"/><circle cx="680.1" cy="472.3" r="0.5" fill="#000"/><circle cx="679.4" cy="468.8" r="0.5" fill="#000"/><circle cx="680.6" cy="472.8" r="0.5" fill="#000"/><circle cx="679.4" cy="470.1" r="0.5" fill="#000"/><circle cx="680.4" cy="477.6" r="0.5" fill="#000"/><circle cx="679.5" cy="470" r="0.5" fill="#000"/><circle cx="679.8" cy="487.1" r="0.5" fill="#000"/><circle cx="680" cy="479.6" r="0.5" fill="#000"/><circle cx="680" cy="488" r="0.5" fill="#000"/><circle cx="679.9" cy="464.8" r="0.5" fill="#000"/><circle cx="680" cy="478.9" r="0.5" fill="#000"/><circle cx="679.4" cy="474.1" r="0.5" fill="#000"/><circle cx="679" cy="481.5" r="0.5" fill="#000"/><circle cx="679" cy="474.2" r="0.5" fill="#000"/><circle cx="680.3" cy="466.3" r="0.5" fill="#000"/><line x1="676.9" y1="488.6" x2="682.1" y2="488.6" stroke="#000" stroke-width="1"/><path d="M670,459.6 L670,457.3 L679.2,457.3 L679.2,459.6" fill="none" stroke="#231f20" stroke-width="0.5"/><text x="674.6" y="459.2" font-size="10.5" stroke="#231f20" stroke-width="0.2" text-anchor="middle" >*</text><line x1="582.2" y1="489.8" x2="647.3" y2="489.8" stroke="#231f20" stroke-width="0.6"/><line x1="580.7" y1="489.8" x2="580.7" y2="491.8" stroke="#231f20" stroke-width="0.5"/><line x1="603.5" y1="489.8" x2="603.5" y2="491.8" stroke="#231f20" stroke-width="0.5"/><text x="603.5" y="498.9" font-size="7" stroke="#231f20" stroke-width="0.175" text-anchor="middle" >−1</text><line x1="626.3" y1="489.8" x2="626.3" y2="491.8" stroke="#231f20" stroke-width="0.5"/><text x="626.3" y="498.9" font-size="7" stroke="#231f20" stroke-width="0.175" text-anchor="middle" >0</text><text x="615.4" y="508" font-size="8" stroke="#231f20" stroke-width="0.2" text-anchor="middle"  textLength="27.3" lengthAdjust="spacingAndGlyphs">Time (s)</text><g transform="translate(628,479.8) scale(1.05,1.18) translate(-628,-479.8)"><rect x="628" y="480.8" width="6.6" height="6.4" fill="url(#chk)" stroke="#333" stroke-width="0.6"/><path d="M628,480.8 L629.6,479.8 L636,479.8 L634.6,480.8 Z M634.6,480.8 L636,479.8 L636,486 L634.6,487.2 Z" fill="#777" stroke="#333" stroke-width="0.4"/><line x1="637.2" y1="487.4" x2="639.6" y2="480" stroke="#222" stroke-width="0.7"/><rect x="640.6" y="480.4" width="6" height="6.8" rx="1" fill="#fff" stroke="#333" stroke-width="0.6"/><rect x="641.6" y="481.2" width="0.8" height="5.4" fill="#333"/><rect x="643.1" y="481.2" width="0.8" height="5.4" fill="#333"/><rect x="644.6" y="481.2" width="0.8" height="5.4" fill="#333"/></g><text transform="translate(673.2,509.4) rotate(-90)" stroke="#231f20" stroke-width="0.2" font-size="7" textLength="17.5" lengthAdjust="spacingAndGlyphs">Ctrl.</text><text transform="translate(682.4,510.5) rotate(-90)" stroke="#231f20" stroke-width="0.2" font-size="7" textLength="18.5" lengthAdjust="spacingAndGlyphs">Rew.</text>
</svg></body></html>
